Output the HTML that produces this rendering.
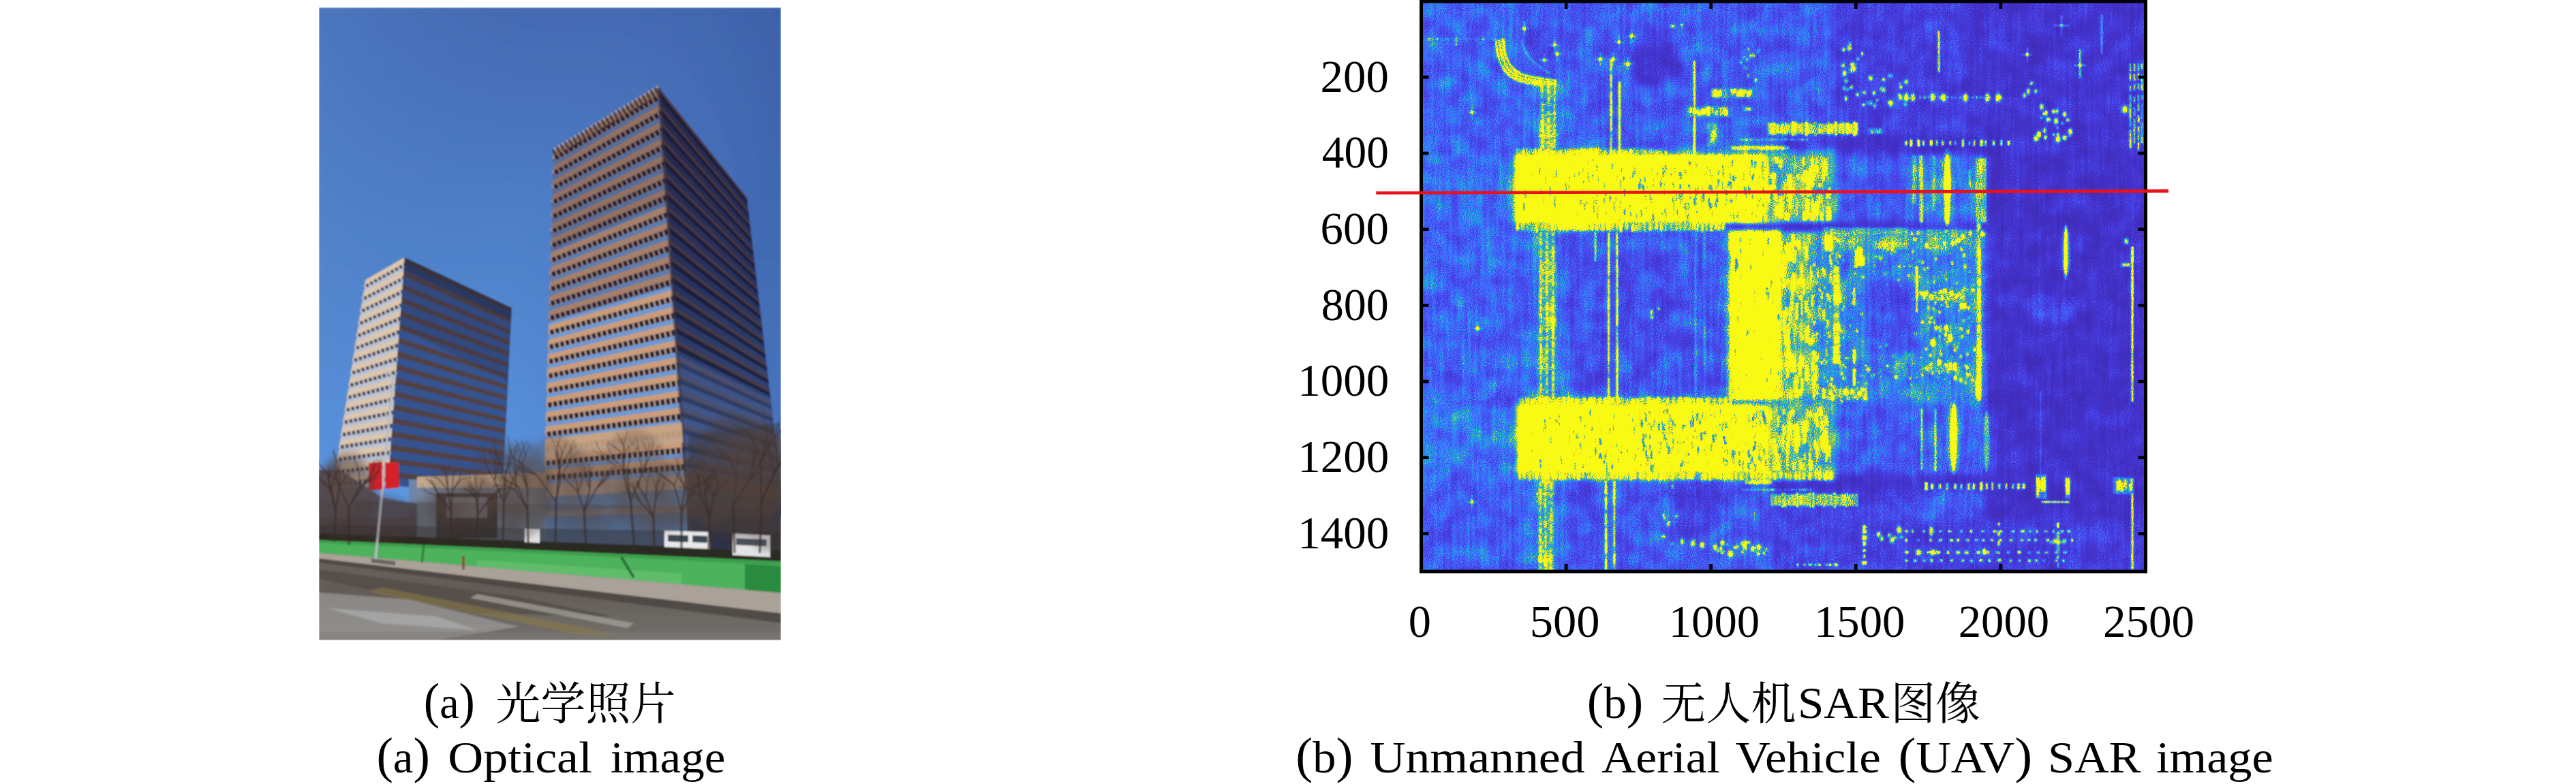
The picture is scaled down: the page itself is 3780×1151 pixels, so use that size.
<!DOCTYPE html>
<html lang="zh"><head><meta charset="utf-8"><title>Figure</title>
<style>html,body{margin:0;padding:0;background:#fff}body{width:3780px;height:1151px;overflow:hidden;position:relative;font-family:"Liberation Serif","Noto Serif CJK SC",serif}svg{position:absolute;left:0;top:0;display:block}text{font-family:"Liberation Serif","Noto Serif CJK SC",serif;fill:#000}</style>
</head><body>
<svg width="3780" height="1151" viewBox="0 0 3780 1151">
<defs>
<clipPath id="pclip"><rect x="468" y="11" width="678" height="929"/></clipPath>
<linearGradient id="sky" x1="0" y1="0" x2="0" y2="1"><stop offset="0" stop-color="#4469b2"/><stop offset="0.35" stop-color="#4f80c8"/><stop offset="0.75" stop-color="#5a96e0"/><stop offset="1" stop-color="#6aa2e6"/></linearGradient>
<linearGradient id="skyr" x1="0" y1="0" x2="1" y2="0.25"><stop offset="0" stop-color="#5c8fd6" stop-opacity="0.35"/><stop offset="0.5" stop-color="#4a74bc" stop-opacity="0"/><stop offset="1" stop-color="#33509a" stop-opacity="0.45"/></linearGradient>
<linearGradient id="rf" x1="0" y1="0" x2="0" y2="1"><stop offset="0" stop-color="#26284a"/><stop offset="0.5" stop-color="#283462"/><stop offset="1" stop-color="#40588e"/></linearGradient>
<linearGradient id="road" x1="0" y1="0" x2="0" y2="1"><stop offset="0" stop-color="#6a635c"/><stop offset="0.4" stop-color="#625c56"/><stop offset="1" stop-color="#74706c"/></linearGradient>
<filter id="pblur" filterUnits="userSpaceOnUse" x="448" y="-9" width="718" height="969"><feGaussianBlur stdDeviation="1.3"/></filter>
<filter id="pb4" x="-30%" y="-30%" width="160%" height="160%"><feGaussianBlur stdDeviation="5"/></filter>
<filter id="sarf" filterUnits="userSpaceOnUse" x="2086" y="2" width="1062" height="837" color-interpolation-filters="sRGB">
<feTurbulence type="fractalNoise" baseFrequency="0.66" numOctaves="1" seed="3" result="n1"/>
<feColorMatrix in="n1" type="matrix" values="1 0 0 0 0 1 0 0 0 0 1 0 0 0 0 0 0 0 0 1" result="n1g"/>
<feTurbulence type="fractalNoise" baseFrequency="0.035" numOctaves="2" seed="11" result="n2"/>
<feColorMatrix in="n2" type="matrix" values="1 0 0 0 0 1 0 0 0 0 1 0 0 0 0 0 0 0 0 1" result="n2g"/>
<feTurbulence type="fractalNoise" baseFrequency="0.22 0.012" numOctaves="1" seed="5" result="n3"/>
<feColorMatrix in="n3" type="matrix" values="1 0 0 0 0 1 0 0 0 0 1 0 0 0 0 0 0 0 0 1" result="n3g"/>
<feGaussianBlur in="SourceGraphic" stdDeviation="0.85" result="src"/>
<feComposite in="src" in2="n2g" operator="arithmetic" k1="0" k2="1" k3="0.34" k4="-0.17" result="a"/>
<feComposite in="a" in2="n3g" operator="arithmetic" k1="0" k2="1" k3="0.24" k4="-0.12" result="b"/>
<feComposite in="b" in2="n1g" operator="arithmetic" k1="0" k2="1" k3="0.62" k4="-0.31" result="c"/>
<feComponentTransfer in="c"><feFuncR type="table" tableValues="0.250 0.251 0.251 0.252 0.252 0.253 0.253 0.254 0.255 0.255 0.256 0.257 0.258 0.259 0.259 0.260 0.261 0.262 0.263 0.265 0.266 0.267 0.268 0.269 0.271 0.272 0.273 0.274 0.275 0.276 0.277 0.278 0.279 0.280 0.280 0.281 0.281 0.281 0.281 0.280 0.279 0.277 0.273 0.269 0.262 0.250 0.234 0.213 0.194 0.182 0.178 0.174 0.162 0.148 0.138 0.119 0.097 0.052 0.004 0.037 0.126 0.186 0.238 0.337 0.461 0.603 0.743 0.870 0.975 0.994 0.964 0.970 0.977 0.977 0.977 0.977 0.977 0.977 0.977 0.977 0.977 0.977 0.977 0.977 0.977 0.977 0.977 0.977 0.977 0.977 0.977 0.977 0.977 0.977 0.977 0.977"/><feFuncG type="table" tableValues="0.165 0.166 0.167 0.168 0.169 0.170 0.172 0.173 0.175 0.176 0.178 0.180 0.182 0.183 0.185 0.188 0.190 0.192 0.195 0.198 0.201 0.204 0.207 0.211 0.215 0.219 0.224 0.230 0.235 0.242 0.249 0.256 0.264 0.273 0.282 0.291 0.302 0.312 0.324 0.336 0.348 0.362 0.376 0.392 0.409 0.427 0.446 0.468 0.490 0.512 0.534 0.556 0.580 0.604 0.628 0.653 0.678 0.700 0.721 0.739 0.756 0.773 0.790 0.801 0.802 0.789 0.766 0.739 0.731 0.795 0.878 0.963 0.984 0.984 0.984 0.984 0.984 0.984 0.984 0.984 0.984 0.984 0.984 0.984 0.984 0.984 0.984 0.984 0.984 0.984 0.984 0.984 0.984 0.984 0.984 0.984"/><feFuncB type="table" tableValues="0.707 0.709 0.712 0.715 0.718 0.721 0.725 0.729 0.732 0.737 0.741 0.745 0.750 0.756 0.761 0.767 0.773 0.780 0.787 0.794 0.802 0.810 0.818 0.827 0.836 0.845 0.853 0.863 0.872 0.881 0.890 0.899 0.908 0.916 0.925 0.934 0.942 0.950 0.959 0.966 0.974 0.980 0.986 0.991 0.994 0.997 0.998 0.995 0.987 0.978 0.965 0.947 0.929 0.912 0.897 0.883 0.862 0.830 0.790 0.744 0.693 0.636 0.567 0.482 0.380 0.272 0.181 0.162 0.239 0.199 0.158 0.104 0.081 0.081 0.081 0.081 0.081 0.081 0.081 0.081 0.081 0.081 0.081 0.081 0.081 0.081 0.081 0.081 0.081 0.081 0.081 0.081 0.081 0.081 0.081 0.081"/></feComponentTransfer>
</filter>
<filter id="sb6" x="-20%" y="-20%" width="140%" height="140%"><feGaussianBlur stdDeviation="6"/></filter>
<filter id="sb3" x="-20%" y="-20%" width="140%" height="140%"><feGaussianBlur stdDeviation="2.5"/></filter>
<clipPath id="sarclip"><rect x="2086" y="2" width="1062" height="837"/></clipPath>
</defs>
<g clip-path="url(#pclip)"><g filter="url(#pblur)"><rect x="468" y="11" width="678" height="929" fill="url(#sky)"/>
<rect x="468" y="11" width="678" height="700" fill="url(#skyr)"/>
<polygon points="536.5,411.0 593.7,378.0 569.3,712.0 487.9,718.9" fill="#b9c4d8"/>
<polygon points="593.7,378.0 750.8,452.0 737.0,727.4 569.3,712.0" fill="#34528e"/>
<polygon points="536.5,411.0 593.7,378.0 593.1,386.3 535.3,418.6" fill="#dcc6ac" opacity="1"/>
<polygon points="535.3,418.6 593.1,386.3 592.7,392.1 534.4,424.0" fill="#34344a" opacity="0.92"/>
<polygon points="593.7,378.0 750.8,452.0 750.5,458.5 593.1,385.9" fill="#54403c" opacity="0.95"/>
<polygon points="593.1,385.9 750.5,458.5 750.0,468.2 592.3,397.6" fill="#34528e" opacity="1"/>
<line x1="534.9" y1="421.3" x2="592.9" y2="389.2" stroke="#d8cfc8" stroke-width="5.9" stroke-dasharray="2.4 4.6"/>
<polygon points="533.6,429.1 592.3,397.6 591.7,405.9 532.4,436.7" fill="#dcc6ac" opacity="1"/>
<polygon points="532.4,436.7 591.7,405.9 591.2,411.8 531.6,442.2" fill="#34344a" opacity="0.92"/>
<polygon points="592.3,397.6 750.0,468.2 749.7,474.7 591.7,405.5" fill="#54403c" opacity="0.95"/>
<polygon points="591.7,405.5 749.7,474.7 749.2,484.4 590.8,417.3" fill="#34528e" opacity="1"/>
<line x1="532.0" y1="439.4" x2="591.4" y2="408.8" stroke="#d8cfc8" stroke-width="5.9" stroke-dasharray="2.4 4.6"/>
<polygon points="530.8,447.2 590.8,417.3 590.2,425.5 529.6,454.8" fill="#dcc6ac" opacity="1"/>
<polygon points="529.6,454.8 590.2,425.5 589.8,431.4 528.7,460.3" fill="#34344a" opacity="0.92"/>
<polygon points="590.8,417.3 749.2,484.4 748.9,490.9 590.3,425.2" fill="#54403c" opacity="0.95"/>
<polygon points="590.3,425.2 748.9,490.9 748.4,500.6 589.4,436.9" fill="#34528e" opacity="1"/>
<line x1="529.1" y1="457.5" x2="590.0" y2="428.5" stroke="#d8cfc8" stroke-width="5.9" stroke-dasharray="2.4 4.6"/>
<polygon points="527.9,465.3 589.4,436.9 588.8,445.2 526.7,472.9" fill="#dcc6ac" opacity="1"/>
<polygon points="526.7,472.9 588.8,445.2 588.4,451.1 525.9,478.4" fill="#34344a" opacity="0.92"/>
<polygon points="589.4,436.9 748.4,500.6 748.0,507.1 588.8,444.8" fill="#54403c" opacity="0.95"/>
<polygon points="588.8,444.8 748.0,507.1 747.6,516.8 588.0,456.6" fill="#34528e" opacity="1"/>
<line x1="526.3" y1="475.7" x2="588.6" y2="448.1" stroke="#d8cfc8" stroke-width="5.9" stroke-dasharray="2.4 4.6"/>
<polygon points="525.1,483.4 588.0,456.6 587.4,464.8 523.9,491.0" fill="#dcc6ac" opacity="1"/>
<polygon points="523.9,491.0 587.4,464.8 586.9,470.7 523.0,496.5" fill="#34344a" opacity="0.92"/>
<polygon points="588.0,456.6 747.6,516.8 747.2,523.3 587.4,464.4" fill="#54403c" opacity="0.95"/>
<polygon points="587.4,464.4 747.2,523.3 746.7,533.0 586.5,476.2" fill="#34528e" opacity="1"/>
<line x1="523.4" y1="493.8" x2="587.1" y2="467.8" stroke="#d8cfc8" stroke-width="5.9" stroke-dasharray="2.4 4.6"/>
<polygon points="522.2,501.6 586.5,476.2 585.9,484.5 521.0,509.2" fill="#dcc6ac" opacity="1"/>
<polygon points="521.0,509.2 585.9,484.5 585.5,490.4 520.1,514.6" fill="#34344a" opacity="0.92"/>
<polygon points="586.5,476.2 746.7,533.0 746.4,539.5 586.0,484.1" fill="#54403c" opacity="0.95"/>
<polygon points="586.0,484.1 746.4,539.5 745.9,549.2 585.1,495.9" fill="#34528e" opacity="1"/>
<line x1="520.6" y1="511.9" x2="585.7" y2="487.4" stroke="#d8cfc8" stroke-width="5.9" stroke-dasharray="2.4 4.6"/>
<polygon points="519.3,519.7 585.1,495.9 584.5,504.1 518.1,527.3" fill="#dcc6ac" opacity="1"/>
<polygon points="518.1,527.3 584.5,504.1 584.1,510.0 517.3,532.7" fill="#34344a" opacity="0.92"/>
<polygon points="585.1,495.9 745.9,549.2 745.6,555.7 584.5,503.7" fill="#54403c" opacity="0.95"/>
<polygon points="584.5,503.7 745.6,555.7 745.1,565.4 583.7,515.5" fill="#34528e" opacity="1"/>
<line x1="517.7" y1="530.0" x2="584.3" y2="507.1" stroke="#d8cfc8" stroke-width="5.9" stroke-dasharray="2.4 4.6"/>
<polygon points="516.5,537.8 583.7,515.5 583.1,523.8 515.3,545.4" fill="#dcc6ac" opacity="1"/>
<polygon points="515.3,545.4 583.1,523.8 582.6,529.7 514.4,550.8" fill="#34344a" opacity="0.92"/>
<polygon points="583.7,515.5 745.1,565.4 744.8,571.9 583.1,523.4" fill="#54403c" opacity="0.95"/>
<polygon points="583.1,523.4 744.8,571.9 744.3,581.6 582.2,535.2" fill="#34528e" opacity="1"/>
<line x1="514.8" y1="548.1" x2="582.8" y2="526.7" stroke="#d8cfc8" stroke-width="5.9" stroke-dasharray="2.4 4.6"/>
<polygon points="513.6,555.9 582.2,535.2 581.6,543.4 512.4,563.5" fill="#dcc6ac" opacity="1"/>
<polygon points="512.4,563.5 581.6,543.4 581.2,549.3 511.5,568.9" fill="#34344a" opacity="0.92"/>
<polygon points="582.2,535.2 744.3,581.6 744.0,588.1 581.7,543.0" fill="#54403c" opacity="0.95"/>
<polygon points="581.7,543.0 744.0,588.1 743.5,597.8 580.8,554.8" fill="#34528e" opacity="1"/>
<line x1="512.0" y1="566.2" x2="581.4" y2="546.4" stroke="#d8cfc8" stroke-width="5.9" stroke-dasharray="2.4 4.6"/>
<polygon points="510.7,574.0 580.8,554.8 580.2,563.1 509.5,581.6" fill="#dcc6ac" opacity="1"/>
<polygon points="509.5,581.6 580.2,563.1 579.8,569.0 508.7,587.0" fill="#34344a" opacity="0.92"/>
<polygon points="580.8,554.8 743.5,597.8 743.2,604.3 580.2,562.7" fill="#54403c" opacity="0.95"/>
<polygon points="580.2,562.7 743.2,604.3 742.7,614.0 579.4,574.5" fill="#34528e" opacity="1"/>
<line x1="509.1" y1="584.3" x2="580.0" y2="566.0" stroke="#d8cfc8" stroke-width="5.9" stroke-dasharray="2.4 4.6"/>
<polygon points="507.9,592.1 579.4,574.5 578.8,582.7 506.7,599.7" fill="#dcc6ac" opacity="1"/>
<polygon points="506.7,599.7 578.8,582.7 578.3,588.6 505.8,605.1" fill="#34344a" opacity="0.92"/>
<polygon points="579.4,574.5 742.7,614.0 742.4,620.5 578.8,582.3" fill="#54403c" opacity="0.95"/>
<polygon points="578.8,582.3 742.4,620.5 741.9,630.2 577.9,594.1" fill="#34528e" opacity="1"/>
<line x1="506.3" y1="602.4" x2="578.5" y2="585.7" stroke="#d8cfc8" stroke-width="5.9" stroke-dasharray="2.4 4.6"/>
<polygon points="505.0,610.2 577.9,594.1 577.3,602.4 503.8,617.8" fill="#dcc6ac" opacity="1"/>
<polygon points="503.8,617.8 577.3,602.4 576.9,608.3 503.0,623.3" fill="#34344a" opacity="0.92"/>
<polygon points="577.9,594.1 741.9,630.2 741.6,636.7 577.3,602.0" fill="#54403c" opacity="0.95"/>
<polygon points="577.3,602.0 741.6,636.7 741.1,646.4 576.5,613.8" fill="#34528e" opacity="1"/>
<line x1="503.4" y1="620.5" x2="577.1" y2="605.3" stroke="#d8cfc8" stroke-width="5.9" stroke-dasharray="2.4 4.6"/>
<polygon points="502.2,628.3 576.5,613.8 575.9,622.0 501.0,635.9" fill="#dcc6ac" opacity="1"/>
<polygon points="501.0,635.9 575.9,622.0 575.5,627.9 500.1,641.4" fill="#34344a" opacity="0.92"/>
<polygon points="576.5,613.8 741.1,646.4 740.8,652.9 575.9,621.6" fill="#54403c" opacity="0.95"/>
<polygon points="575.9,621.6 740.8,652.9 740.3,662.6 575.1,633.4" fill="#34528e" opacity="1"/>
<line x1="500.5" y1="638.7" x2="575.7" y2="625.0" stroke="#d8cfc8" stroke-width="5.9" stroke-dasharray="2.4 4.6"/>
<polygon points="499.3,646.4 575.1,633.4 574.5,641.7 498.1,654.0" fill="#dcc6ac" opacity="1"/>
<polygon points="498.1,654.0 574.5,641.7 574.0,647.6 497.2,659.5" fill="#34344a" opacity="0.92"/>
<polygon points="575.1,633.4 740.3,662.6 739.9,669.1 574.5,641.3" fill="#54403c" opacity="0.95"/>
<polygon points="574.5,641.3 739.9,669.1 739.5,678.8 573.6,653.1" fill="#34528e" opacity="1"/>
<line x1="497.7" y1="656.8" x2="574.2" y2="644.6" stroke="#d8cfc8" stroke-width="5.9" stroke-dasharray="2.4 4.6"/>
<polygon points="496.4,664.5 573.6,653.1 573.0,661.3 495.2,672.2" fill="#dcc6ac" opacity="1"/>
<polygon points="495.2,672.2 573.0,661.3 572.6,667.2 494.4,677.6" fill="#34344a" opacity="0.92"/>
<polygon points="573.6,653.1 739.5,678.8 739.1,685.3 573.0,660.9" fill="#54403c" opacity="0.95"/>
<polygon points="573.0,660.9 739.1,685.3 738.6,695.0 572.2,672.7" fill="#34528e" opacity="1"/>
<line x1="494.8" y1="674.9" x2="572.8" y2="664.3" stroke="#d8cfc8" stroke-width="5.9" stroke-dasharray="2.4 4.6"/>
<polygon points="493.6,682.7 572.2,672.7 571.6,681.0 492.4,690.3" fill="#dcc6ac" opacity="1"/>
<polygon points="492.4,690.3 571.6,681.0 571.2,686.9 491.5,695.7" fill="#34344a" opacity="0.92"/>
<polygon points="572.2,672.7 738.6,695.0 738.3,701.5 571.6,680.6" fill="#54403c" opacity="0.95"/>
<polygon points="571.6,680.6 738.3,701.5 737.8,711.2 570.8,692.4" fill="#34528e" opacity="1"/>
<line x1="491.9" y1="693.0" x2="571.4" y2="683.9" stroke="#d8cfc8" stroke-width="5.9" stroke-dasharray="2.4 4.6"/>
<polygon points="490.7,700.8 570.8,692.4 570.1,700.6 489.5,708.4" fill="#dcc6ac" opacity="1"/>
<polygon points="489.5,708.4 570.1,700.6 569.7,706.5 488.7,713.8" fill="#34344a" opacity="0.92"/>
<polygon points="570.8,692.4 737.8,711.2 737.5,717.7 570.2,700.2" fill="#54403c" opacity="0.95"/>
<polygon points="570.2,700.2 737.5,717.7 737.0,727.4 569.3,712.0" fill="#34528e" opacity="1"/>
<line x1="489.1" y1="711.1" x2="569.9" y2="703.6" stroke="#d8cfc8" stroke-width="5.9" stroke-dasharray="2.4 4.6"/>
<polygon points="593.7,378.0 750.8,452.0 750.0,470.0 592.5,396.0" fill="#20243c" opacity="0.55"/>
<polygon points="593.7,396.0 750.0,470.0 745.0,560.0 587.0,480.0" fill="#20243c" opacity="0.18"/>
<polygon points="813.0,222.4 967.0,129.0 1009.0,746.7 797.0,754.1" fill="#6f98d2"/>
<polygon points="967.0,129.0 1096.0,290.0 1151.4,759.5 1009.0,746.7" fill="url(#rf)"/>
<polygon points="813.0,222.4 967.0,129.0 967.6,137.9 812.8,230.1" fill="#cc9c78" opacity="1"/>
<polygon points="812.8,230.1 967.6,137.9 968.2,146.3 812.6,237.3" fill="#1c1c32" opacity="0.96"/>
<polygon points="967.0,129.0 1096.0,290.0 1096.5,294.5 967.4,134.9" fill="#523c38" opacity="0.8"/>
<polygon points="967.4,134.9 1096.5,294.5 1097.2,300.5 967.9,142.8" fill="#15172e" opacity="0.7"/>
<line x1="812.7" y1="233.7" x2="967.9" y2="142.1" stroke="#c9a488" stroke-width="8.4" stroke-dasharray="2.4 5.6"/>
<polygon points="812.4,243.7 968.7,153.7 969.3,162.6 812.1,251.3" fill="#cc9c78" opacity="1"/>
<polygon points="812.1,251.3 969.3,162.6 969.9,171.0 811.9,258.6" fill="#1c1c32" opacity="0.96"/>
<polygon points="968.7,153.7 1098.2,308.8 1098.7,313.3 969.1,159.6" fill="#523c38" opacity="0.8"/>
<polygon points="969.1,159.6 1098.7,313.3 1099.5,319.3 969.6,167.5" fill="#15172e" opacity="0.7"/>
<line x1="812.0" y1="254.9" x2="969.6" y2="166.8" stroke="#c9a488" stroke-width="8.4" stroke-dasharray="2.4 5.6"/>
<polygon points="811.7,264.9 970.4,178.4 971.0,187.3 811.5,272.6" fill="#cc9c78" opacity="1"/>
<polygon points="811.5,272.6 971.0,187.3 971.5,195.7 811.3,279.8" fill="#1c1c32" opacity="0.96"/>
<polygon points="970.4,178.4 1100.4,327.6 1101.0,332.1 970.8,184.3" fill="#523c38" opacity="0.8"/>
<polygon points="970.8,184.3 1101.0,332.1 1101.7,338.1 971.3,192.3" fill="#15172e" opacity="0.7"/>
<line x1="811.4" y1="276.2" x2="971.3" y2="191.5" stroke="#c9a488" stroke-width="8.4" stroke-dasharray="2.4 5.6"/>
<polygon points="811.1,286.2 972.0,203.1 972.6,212.0 810.9,293.9" fill="#cc9c78" opacity="1"/>
<polygon points="810.9,293.9 972.6,212.0 973.2,220.4 810.6,301.1" fill="#1c1c32" opacity="0.96"/>
<polygon points="972.0,203.1 1102.6,346.3 1103.2,350.8 972.4,209.1" fill="#523c38" opacity="0.8"/>
<polygon points="972.4,209.1 1103.2,350.8 1103.9,356.9 973.0,217.0" fill="#15172e" opacity="0.7"/>
<line x1="810.7" y1="297.5" x2="972.9" y2="216.2" stroke="#c9a488" stroke-width="8.4" stroke-dasharray="2.4 5.6"/>
<polygon points="810.4,307.5 973.7,227.8 974.3,236.7 810.2,315.1" fill="#cc9c78" opacity="1"/>
<polygon points="810.2,315.1 974.3,236.7 974.9,245.1 810.0,322.4" fill="#1c1c32" opacity="0.96"/>
<polygon points="973.7,227.8 1104.9,365.1 1105.4,369.6 974.1,233.8" fill="#523c38" opacity="0.8"/>
<polygon points="974.1,233.8 1105.4,369.6 1106.1,375.6 974.7,241.7" fill="#15172e" opacity="0.7"/>
<line x1="810.1" y1="318.7" x2="974.6" y2="240.9" stroke="#c9a488" stroke-width="8.4" stroke-dasharray="2.4 5.6"/>
<polygon points="809.8,328.7 975.4,252.5 976.0,261.4 809.6,336.4" fill="#cc9c78" opacity="1"/>
<polygon points="809.6,336.4 976.0,261.4 976.6,269.8 809.4,343.6" fill="#1c1c32" opacity="0.96"/>
<polygon points="975.4,252.5 1107.1,383.9 1107.6,388.4 975.8,258.5" fill="#523c38" opacity="0.8"/>
<polygon points="975.8,258.5 1107.6,388.4 1108.3,394.4 976.3,266.4" fill="#15172e" opacity="0.7"/>
<line x1="809.5" y1="340.0" x2="976.3" y2="265.6" stroke="#c9a488" stroke-width="8.4" stroke-dasharray="2.4 5.6"/>
<polygon points="809.2,350.0 977.1,277.2 977.7,286.1 808.9,357.7" fill="#cc9c78" opacity="1"/>
<polygon points="808.9,357.7 977.7,286.1 978.3,294.5 808.7,364.9" fill="#1c1c32" opacity="0.96"/>
<polygon points="977.1,277.2 1109.3,402.7 1109.8,407.2 977.5,283.2" fill="#523c38" opacity="0.8"/>
<polygon points="977.5,283.2 1109.8,407.2 1110.5,413.2 978.0,291.1" fill="#15172e" opacity="0.7"/>
<line x1="808.8" y1="361.3" x2="978.0" y2="290.3" stroke="#c9a488" stroke-width="8.4" stroke-dasharray="2.4 5.6"/>
<polygon points="808.5,371.3 978.8,302.0 979.4,310.9 808.3,378.9" fill="#cc9c78" opacity="1"/>
<polygon points="808.3,378.9 979.4,310.9 979.9,319.3 808.1,386.2" fill="#1c1c32" opacity="0.96"/>
<polygon points="978.8,302.0 1111.5,421.5 1112.0,426.0 979.2,307.9" fill="#523c38" opacity="0.8"/>
<polygon points="979.2,307.9 1112.0,426.0 1112.8,432.0 979.7,315.8" fill="#15172e" opacity="0.7"/>
<line x1="808.2" y1="382.6" x2="979.7" y2="315.1" stroke="#c9a488" stroke-width="8.4" stroke-dasharray="2.4 5.6"/>
<polygon points="807.9,392.6 980.4,326.7 981.0,335.6 807.7,400.2" fill="#cc9c78" opacity="1"/>
<polygon points="807.7,400.2 981.0,335.6 981.6,344.0 807.4,407.4" fill="#1c1c32" opacity="0.96"/>
<polygon points="980.4,326.7 1113.7,440.2 1114.3,444.7 980.8,332.6" fill="#523c38" opacity="0.8"/>
<polygon points="980.8,332.6 1114.3,444.7 1115.0,450.8 981.4,340.5" fill="#15172e" opacity="0.7"/>
<line x1="807.6" y1="403.8" x2="981.3" y2="339.8" stroke="#c9a488" stroke-width="8.4" stroke-dasharray="2.4 5.6"/>
<polygon points="807.3,413.8 982.1,351.4 982.7,360.3 807.0,421.5" fill="#cc9c78" opacity="1"/>
<polygon points="807.0,421.5 982.7,360.3 983.3,368.7 806.8,428.7" fill="#1c1c32" opacity="0.96"/>
<polygon points="982.1,351.4 1115.9,459.0 1116.5,463.5 982.5,357.3" fill="#523c38" opacity="0.8"/>
<polygon points="982.5,357.3 1116.5,463.5 1117.2,469.5 983.1,365.2" fill="#15172e" opacity="0.7"/>
<line x1="806.9" y1="425.1" x2="983.0" y2="364.5" stroke="#c9a488" stroke-width="8.4" stroke-dasharray="2.4 5.6"/>
<polygon points="806.6,435.1 983.8,376.1 984.4,385.0 806.4,442.7" fill="#cc9c78" opacity="1"/>
<polygon points="806.4,442.7 984.4,385.0 985.0,393.4 806.2,450.0" fill="#1c1c32" opacity="0.96"/>
<polygon points="983.8,376.1 1118.2,477.8 1118.7,482.3 984.2,382.0" fill="#523c38" opacity="0.8"/>
<polygon points="984.2,382.0 1118.7,482.3 1119.4,488.3 984.7,389.9" fill="#15172e" opacity="0.7"/>
<line x1="806.3" y1="446.4" x2="984.7" y2="389.2" stroke="#c9a488" stroke-width="8.4" stroke-dasharray="2.4 5.6"/>
<polygon points="806.0,456.4 985.5,400.8 986.1,409.7 805.8,464.0" fill="#cc9c78" opacity="1"/>
<polygon points="805.8,464.0 986.1,409.7 986.7,418.1 805.5,471.2" fill="#1c1c32" opacity="0.96"/>
<polygon points="985.5,400.8 1120.4,496.6 1120.9,501.1 985.9,406.7" fill="#523c38" opacity="0.8"/>
<polygon points="985.9,406.7 1120.9,501.1 1121.6,507.1 986.4,414.6" fill="#15172e" opacity="0.7"/>
<line x1="805.6" y1="467.6" x2="986.4" y2="413.9" stroke="#c9a488" stroke-width="8.4" stroke-dasharray="2.4 5.6"/>
<polygon points="805.3,477.6 987.2,425.5 987.8,434.4 805.1,485.3" fill="#cc9c78" opacity="1"/>
<polygon points="805.1,485.3 987.8,434.4 988.3,442.8 804.9,492.5" fill="#1c1c32" opacity="0.96"/>
<polygon points="987.2,425.5 1122.6,515.4 1123.1,519.9 987.6,431.4" fill="#523c38" opacity="0.8"/>
<polygon points="987.6,431.4 1123.1,519.9 1123.8,525.9 988.1,439.3" fill="#15172e" opacity="0.7"/>
<line x1="805.0" y1="488.9" x2="988.1" y2="438.6" stroke="#c9a488" stroke-width="8.4" stroke-dasharray="2.4 5.6"/>
<polygon points="804.7,498.9 988.8,450.2 989.4,459.1 804.5,506.6" fill="#cc9c78" opacity="1"/>
<polygon points="804.5,506.6 989.4,459.1 990.0,467.5 804.3,513.8" fill="#1c1c32" opacity="0.96"/>
<polygon points="988.8,450.2 1124.8,534.1 1125.3,538.6 989.2,456.1" fill="#523c38" opacity="0.8"/>
<polygon points="989.2,456.1 1125.3,538.6 1126.0,544.7 989.8,464.0" fill="#15172e" opacity="0.7"/>
<line x1="804.4" y1="510.2" x2="989.7" y2="463.3" stroke="#c9a488" stroke-width="8.4" stroke-dasharray="2.4 5.6"/>
<polygon points="804.1,520.2 990.5,474.9 991.1,483.8 803.8,527.8" fill="#cc9c78" opacity="1"/>
<polygon points="803.8,527.8 991.1,483.8 991.7,492.2 803.6,535.1" fill="#1c1c32" opacity="0.96"/>
<polygon points="990.5,474.9 1127.0,552.9 1127.6,557.4 990.9,480.8" fill="#523c38" opacity="0.8"/>
<polygon points="990.9,480.8 1127.6,557.4 1128.3,563.4 991.5,488.7" fill="#15172e" opacity="0.7"/>
<line x1="803.7" y1="531.4" x2="991.4" y2="488.0" stroke="#c9a488" stroke-width="8.4" stroke-dasharray="2.4 5.6"/>
<polygon points="803.4,541.4 992.2,499.6 992.8,508.5 803.2,549.1" fill="#cc9c78" opacity="1"/>
<polygon points="803.2,549.1 992.8,508.5 993.4,516.9 803.0,556.3" fill="#1c1c32" opacity="0.96"/>
<polygon points="992.2,499.6 1129.2,571.7 1129.8,576.2 992.6,505.5" fill="#523c38" opacity="0.8"/>
<polygon points="992.6,505.5 1129.8,576.2 1130.5,582.2 993.1,513.5" fill="#15172e" opacity="0.7"/>
<line x1="803.1" y1="552.7" x2="993.1" y2="512.7" stroke="#c9a488" stroke-width="8.4" stroke-dasharray="2.4 5.6"/>
<polygon points="802.8,562.7 993.9,524.3 994.5,533.2 802.6,570.4" fill="#cc9c78" opacity="1"/>
<polygon points="802.6,570.4 994.5,533.2 995.1,541.6 802.3,577.6" fill="#1c1c32" opacity="0.96"/>
<polygon points="993.9,524.3 1131.5,590.5 1132.0,595.0 994.3,530.3" fill="#523c38" opacity="0.8"/>
<polygon points="994.3,530.3 1132.0,595.0 1132.7,601.0 994.8,538.2" fill="#15172e" opacity="0.7"/>
<line x1="802.5" y1="574.0" x2="994.8" y2="537.4" stroke="#c9a488" stroke-width="8.4" stroke-dasharray="2.4 5.6"/>
<polygon points="802.2,584.0 995.6,549.0 996.2,557.9 801.9,591.6" fill="#cc9c78" opacity="1"/>
<polygon points="801.9,591.6 996.2,557.9 996.7,566.3 801.7,598.9" fill="#1c1c32" opacity="0.96"/>
<polygon points="995.6,549.0 1133.7,609.3 1134.2,613.8 996.0,555.0" fill="#523c38" opacity="0.8"/>
<polygon points="996.0,555.0 1134.2,613.8 1134.9,619.8 996.5,562.9" fill="#15172e" opacity="0.7"/>
<line x1="801.8" y1="595.2" x2="996.5" y2="562.1" stroke="#c9a488" stroke-width="8.4" stroke-dasharray="2.4 5.6"/>
<polygon points="801.5,605.2 997.2,573.7 997.8,582.6 801.3,612.9" fill="#cc9c78" opacity="1"/>
<polygon points="801.3,612.9 997.8,582.6 998.4,591.0 801.1,620.1" fill="#1c1c32" opacity="0.96"/>
<polygon points="997.2,573.7 1135.9,628.0 1136.4,632.5 997.6,579.7" fill="#523c38" opacity="0.8"/>
<polygon points="997.6,579.7 1136.4,632.5 1137.1,638.5 998.2,587.6" fill="#15172e" opacity="0.7"/>
<line x1="801.2" y1="616.5" x2="998.1" y2="586.8" stroke="#c9a488" stroke-width="8.4" stroke-dasharray="2.4 5.6"/>
<polygon points="800.9,626.5 998.9,598.5 999.5,607.3 800.6,634.2" fill="#cc9c78" opacity="1"/>
<polygon points="800.6,634.2 999.5,607.3 1000.1,615.7 800.4,641.4" fill="#1c1c32" opacity="0.96"/>
<polygon points="998.9,598.5 1138.1,646.8 1138.6,651.3 999.3,604.4" fill="#523c38" opacity="0.8"/>
<polygon points="999.3,604.4 1138.6,651.3 1139.3,657.3 999.9,612.3" fill="#15172e" opacity="0.7"/>
<line x1="800.5" y1="637.8" x2="999.8" y2="611.5" stroke="#c9a488" stroke-width="8.4" stroke-dasharray="2.4 5.6"/>
<polygon points="800.2,647.8 1000.6,623.2 1001.2,632.1 800.0,655.4" fill="#cc9c78" opacity="1"/>
<polygon points="800.0,655.4 1001.2,632.1 1001.8,640.5 799.8,662.7" fill="#1c1c32" opacity="0.96"/>
<polygon points="1000.6,623.2 1140.3,665.6 1140.9,670.1 1001.0,629.1" fill="#523c38" opacity="0.8"/>
<polygon points="1001.0,629.1 1140.9,670.1 1141.6,676.1 1001.5,637.0" fill="#15172e" opacity="0.7"/>
<line x1="799.9" y1="659.0" x2="1001.5" y2="636.3" stroke="#c9a488" stroke-width="8.4" stroke-dasharray="2.4 5.6"/>
<polygon points="799.6,669.0 1002.3,647.9 1002.9,656.8 799.4,676.7" fill="#cc9c78" opacity="1"/>
<polygon points="799.4,676.7 1002.9,656.8 1003.5,665.2 799.2,683.9" fill="#1c1c32" opacity="0.96"/>
<polygon points="1002.3,647.9 1142.5,684.4 1143.1,688.9 1002.7,653.8" fill="#523c38" opacity="0.8"/>
<polygon points="1002.7,653.8 1143.1,688.9 1143.8,694.9 1003.2,661.7" fill="#15172e" opacity="0.7"/>
<line x1="799.3" y1="680.3" x2="1003.2" y2="661.0" stroke="#c9a488" stroke-width="8.4" stroke-dasharray="2.4 5.6"/>
<polygon points="799.0,690.3 1004.0,672.6 1004.6,681.5 798.7,698.0" fill="#cc9c78" opacity="1"/>
<polygon points="798.7,698.0 1004.6,681.5 1005.1,689.9 798.5,705.2" fill="#1c1c32" opacity="0.96"/>
<polygon points="1004.0,672.6 1144.8,703.2 1145.3,707.7 1004.4,678.5" fill="#523c38" opacity="0.8"/>
<polygon points="1004.4,678.5 1145.3,707.7 1146.0,713.7 1004.9,686.4" fill="#15172e" opacity="0.7"/>
<line x1="798.6" y1="701.6" x2="1004.9" y2="685.7" stroke="#c9a488" stroke-width="8.4" stroke-dasharray="2.4 5.6"/>
<polygon points="798.3,711.6 1005.6,697.3 1006.2,706.2 798.1,719.2" fill="#cc9c78" opacity="1"/>
<polygon points="798.1,719.2 1006.2,706.2 1006.8,714.6 797.9,726.5" fill="#1c1c32" opacity="0.96"/>
<polygon points="1005.6,697.3 1147.0,721.9 1147.5,726.4 1006.0,703.2" fill="#523c38" opacity="0.8"/>
<polygon points="1006.0,703.2 1147.5,726.4 1148.2,732.4 1006.6,711.1" fill="#15172e" opacity="0.7"/>
<line x1="798.0" y1="722.9" x2="1006.5" y2="710.4" stroke="#c9a488" stroke-width="8.4" stroke-dasharray="2.4 5.6"/>
<polygon points="797.7,732.9 1007.3,722.0 1007.9,730.9 797.5,740.5" fill="#cc9c78" opacity="1"/>
<polygon points="797.5,740.5 1007.9,730.9 1008.5,739.3 797.2,747.7" fill="#1c1c32" opacity="0.96"/>
<polygon points="1007.3,722.0 1149.2,740.7 1149.7,745.2 1007.7,727.9" fill="#523c38" opacity="0.8"/>
<polygon points="1007.7,727.9 1149.7,745.2 1150.4,751.2 1008.3,735.8" fill="#15172e" opacity="0.7"/>
<line x1="797.3" y1="744.1" x2="1008.2" y2="735.1" stroke="#c9a488" stroke-width="8.4" stroke-dasharray="2.4 5.6"/>
<polygon points="813.0,222.4 967.0,129.0 986.8,420.0 805.5,472.9" fill="#241a2c" opacity="0.22"/>
<polygon points="813.0,222.4 967.0,129.0 978.6,300.0 808.6,369.6" fill="#241a2c" opacity="0.15"/>
<line x1="813" y1="226" x2="967" y2="133" stroke="#3a2c2c" stroke-width="13" stroke-dasharray="3 4"/>
<line x1="813" y1="219" x2="967" y2="126" stroke="#c9a888" stroke-width="4" stroke-dasharray="3 4" opacity="0.8"/>
<polygon points="993.6,520.0 1131.1,587.2 1151.3,759.0 1009.0,746.0" fill="#5878b0" opacity="0.3"/>
<line x1="967" y1="129" x2="1009.0" y2="746" stroke="#3a3040" stroke-width="5" opacity="0.6"/>
<polygon points="800.3,645.1 1000.4,620.0 1002.4,650.0 799.5,670.9" fill="#c8a484" opacity="0.9"/>
<polygon points="798.3,713.9 1005.8,700.0 1009.8,806.0 798.0,800.0" fill="#5c80b4"/>
<polygon points="798.3,713.9 1005.8,700.0 1007.1,718.0 797.8,729.4" fill="#bfa288" opacity="0.85"/>
<polygon points="797.2,750.1 1008.7,742.0 1009.4,752.0 796.9,758.7" fill="#a89684" opacity="0.6"/>
<polygon points="1005.1,690.0 1146.0,715.0 1146.0,815.0 1009.8,806.0" fill="#3c465e"/>
<polygon points="1005.1,690.0 1146.0,715.0 1146.0,735.0 1005.8,712.0" fill="#5a4a48" opacity="0.7"/>
<polygon points="600.0,704.0 802.0,700.0 802.0,800.0 600.0,800.0" fill="#6f86a8"/>
<polygon points="612.0,700.0 802.0,694.0 802.0,716.0 612.0,716.0" fill="#c4a88c"/>
<polygon points="612.0,716.0 802.0,716.0 802.0,790.0 612.0,790.0" fill="#74869f"/>
<polygon points="640.0,724.0 730.0,724.0 730.0,790.0 640.0,790.0" fill="#38363c"/>
<polygon points="655.0,730.0 715.0,730.0 715.0,760.0 655.0,760.0" fill="#8d99ad" opacity="0.8"/>
<polygon points="468.0,760.0 612.0,760.0 612.0,800.0 468.0,800.0" fill="#54525a"/>
<polygon points="468.0,690.0 500.0,690.0 560.0,730.0 612.0,740.0 612.0,800.0 468.0,800.0" fill="#524a56" opacity="0.8"/>
<polygon points="468.0,735.0 1146.0,745.0 1146.0,815.0 468.0,800.0" fill="#3a3230" opacity="0.32"/>
<polygon points="468.0,770.0 1146.0,782.0 1146.0,815.0 468.0,800.0" fill="#2a2622" opacity="0.38"/>
<polygon points="1010.0,640.0 1146.0,620.0 1146.0,800.0 1010.0,800.0" fill="#30282c" opacity="0.3"/>
<polygon points="468.0,783.0 1146.0,808.0 1146.0,826.0 468.0,795.0" fill="#2c2a22"/>
<polygon points="975.0,779.0 1040.0,781.0 1042.0,806.0 975.0,803.0" fill="#e9e9ea"/>
<polygon points="980.0,785.0 1010.0,786.0 1010.0,796.0 980.0,795.0" fill="#3a4652"/>
<polygon points="1016.0,786.0 1038.0,787.0 1038.0,797.0 1016.0,796.0" fill="#3a4652"/>
<polygon points="1075.0,783.0 1130.0,786.0 1130.0,818.0 1075.0,815.0" fill="#e4e4e6"/>
<polygon points="1080.0,790.0 1125.0,792.0 1125.0,802.0 1080.0,800.0" fill="#48525e"/>
<polygon points="770.0,776.0 792.0,777.0 792.0,797.0 770.0,796.0" fill="#e3e3e6"/>
<polygon points="1046.0,785.0 1072.0,786.0 1072.0,808.0 1046.0,806.0" fill="#2e3046"/>
<polygon points="468.0,792.9 1146.0,823.9 1146.0,870.6 468.0,811.9" fill="#4db25c"/>
<polygon points="468.0,792.9 1146.0,823.9 1146.0,829.9 468.0,796.9" fill="#3a9a4a" opacity="0.8"/>
<polygon points="700.0,822.0 1000.0,841.9 1000.0,857.9 700.0,832.0" fill="#6cc474" opacity="0.6"/>
<polygon points="1093.0,828.0 1146.0,831.0 1146.0,874.0 1093.0,868.0" fill="#2b8a3c"/>
<polygon points="468.0,811.9 1146.0,870.6 1146.0,940.0 468.0,940.0" fill="url(#road)"/>
<polygon points="468.0,811.9 1146.0,870.6 1146.0,900.6 468.0,819.9" fill="#aaa198"/>
<polygon points="468.0,819.9 1146.0,900.6 1146.0,914.6 468.0,825.9" fill="#4c4642" opacity="0.85"/>
<polygon points="468.0,836.0 760.0,876.0 900.0,905.0 700.0,900.0 468.0,850.0" fill="#514a46" opacity="0.7"/>
<polygon points="468.0,870.0 600.0,880.0 760.0,920.0 640.0,940.0 468.0,940.0" fill="#a9a9aa" opacity="0.55"/>
<polygon points="480.0,893.0 640.0,905.0 700.0,925.0 560.0,915.0" fill="#b4b4b6" opacity="0.6"/>
<polygon points="700.0,872.0 930.0,915.0 920.0,922.0 690.0,878.0" fill="#a8a49c" opacity="0.7"/>
<polygon points="560.0,862.0 900.0,930.0 880.0,938.0 540.0,868.0" fill="#8a7a44" opacity="0.55"/>
<polygon points="468.0,928.0 1146.0,928.0 1146.0,940.0 468.0,940.0" fill="#7c7874" opacity="0.5"/>
<line x1="577" y1="552" x2="551" y2="822" stroke="#b9bcc4" stroke-width="3.5"/>
<line x1="577" y1="552" x2="566" y2="545" stroke="#b9bcc4" stroke-width="3"/>
<polygon points="541.0,680.0 561.0,678.0 561.0,719.0 541.0,720.0" fill="#d5202c"/>
<polygon points="565.0,679.0 585.0,679.0 586.0,716.0 565.0,718.0" fill="#d5202c"/>
<polygon points="545.0,820.0 580.0,824.0 580.0,830.0 545.0,826.0" fill="#6a6462"/>
<line x1="622" y1="800" x2="619" y2="826" stroke="#2c7a3a" stroke-width="3"/>
<line x1="680" y1="816" x2="680" y2="836" stroke="#8a4030" stroke-width="3.5"/>
<line x1="912" y1="818" x2="930" y2="848" stroke="#2c6a38" stroke-width="4"/>
<ellipse cx="505" cy="730" rx="45" ry="60" fill="#4a3a36" opacity="0.35" filter="url(#pb4)"/>
<ellipse cx="560" cy="760" rx="50" ry="35" fill="#4a3a36" opacity="0.3" filter="url(#pb4)"/>
<ellipse cx="770" cy="720" rx="40" ry="70" fill="#4a3a36" opacity="0.3" filter="url(#pb4)"/>
<ellipse cx="700" cy="750" rx="70" ry="40" fill="#4a3a36" opacity="0.28" filter="url(#pb4)"/>
<ellipse cx="860" cy="720" rx="70" ry="60" fill="#4a3a36" opacity="0.25" filter="url(#pb4)"/>
<ellipse cx="960" cy="730" rx="60" ry="55" fill="#4a3a36" opacity="0.25" filter="url(#pb4)"/>
<ellipse cx="1080" cy="700" rx="70" ry="90" fill="#4a3a36" opacity="0.38" filter="url(#pb4)"/>
<ellipse cx="1125" cy="720" rx="40" ry="90" fill="#4a3a36" opacity="0.3" filter="url(#pb4)"/>
<ellipse cx="640" cy="760" rx="40" ry="35" fill="#4a3a36" opacity="0.25" filter="url(#pb4)"/>
<ellipse cx="512" cy="712" rx="38" ry="50" fill="#5a463e" opacity="0.28" filter="url(#pb4)"/>
<line x1="512.0" y1="800.0" x2="511.6" y2="745.0" stroke="#3c2c28" stroke-width="3.2" opacity="0.75"/>
<line x1="511.6" y1="745.0" x2="532.6" y2="713.4" stroke="#3c2c28" stroke-width="2.1" opacity="0.75"/>
<line x1="532.6" y1="713.4" x2="546.8" y2="692.5" stroke="#3c2c28" stroke-width="1.4" opacity="0.75"/>
<line x1="546.8" y1="692.5" x2="549.5" y2="675.1" stroke="#3c2c28" stroke-width="0.9" opacity="0.75"/>
<line x1="546.8" y1="692.5" x2="547.2" y2="676.7" stroke="#3c2c28" stroke-width="0.9" opacity="0.75"/>
<line x1="532.6" y1="713.4" x2="554.1" y2="692.5" stroke="#3c2c28" stroke-width="1.4" opacity="0.75"/>
<line x1="554.1" y1="692.5" x2="560.8" y2="672.5" stroke="#3c2c28" stroke-width="0.9" opacity="0.75"/>
<line x1="554.1" y1="692.5" x2="556.8" y2="674.4" stroke="#3c2c28" stroke-width="0.9" opacity="0.75"/>
<line x1="532.6" y1="713.4" x2="547.5" y2="690.9" stroke="#3c2c28" stroke-width="1.4" opacity="0.75"/>
<line x1="547.5" y1="690.9" x2="557.2" y2="674.3" stroke="#3c2c28" stroke-width="0.9" opacity="0.75"/>
<line x1="547.5" y1="690.9" x2="553.8" y2="672.4" stroke="#3c2c28" stroke-width="0.9" opacity="0.75"/>
<line x1="511.6" y1="745.0" x2="528.0" y2="713.2" stroke="#3c2c28" stroke-width="2.1" opacity="0.75"/>
<line x1="528.0" y1="713.2" x2="548.8" y2="703.2" stroke="#3c2c28" stroke-width="1.4" opacity="0.75"/>
<line x1="548.8" y1="703.2" x2="556.0" y2="687.1" stroke="#3c2c28" stroke-width="0.9" opacity="0.75"/>
<line x1="548.8" y1="703.2" x2="556.3" y2="690.1" stroke="#3c2c28" stroke-width="0.9" opacity="0.75"/>
<line x1="528.0" y1="713.2" x2="548.5" y2="703.5" stroke="#3c2c28" stroke-width="1.4" opacity="0.75"/>
<line x1="548.5" y1="703.5" x2="557.8" y2="689.6" stroke="#3c2c28" stroke-width="0.9" opacity="0.75"/>
<line x1="548.5" y1="703.5" x2="561.1" y2="698.8" stroke="#3c2c28" stroke-width="0.9" opacity="0.75"/>
<line x1="528.0" y1="713.2" x2="526.5" y2="687.9" stroke="#3c2c28" stroke-width="1.4" opacity="0.75"/>
<line x1="526.5" y1="687.9" x2="519.1" y2="673.0" stroke="#3c2c28" stroke-width="0.9" opacity="0.75"/>
<line x1="526.5" y1="687.9" x2="517.7" y2="670.3" stroke="#3c2c28" stroke-width="0.9" opacity="0.75"/>
<line x1="511.6" y1="745.0" x2="494.1" y2="704.8" stroke="#3c2c28" stroke-width="2.1" opacity="0.75"/>
<line x1="494.1" y1="704.8" x2="493.4" y2="677.8" stroke="#3c2c28" stroke-width="1.4" opacity="0.75"/>
<line x1="493.4" y1="677.8" x2="488.2" y2="661.6" stroke="#3c2c28" stroke-width="0.9" opacity="0.75"/>
<line x1="493.4" y1="677.8" x2="489.5" y2="659.4" stroke="#3c2c28" stroke-width="0.9" opacity="0.75"/>
<line x1="494.1" y1="704.8" x2="468.8" y2="682.7" stroke="#3c2c28" stroke-width="1.4" opacity="0.75"/>
<line x1="468.8" y1="682.7" x2="463.3" y2="663.6" stroke="#3c2c28" stroke-width="0.9" opacity="0.75"/>
<line x1="468.8" y1="682.7" x2="443.5" y2="675.0" stroke="#3c2c28" stroke-width="0.9" opacity="0.75"/>
<line x1="494.1" y1="704.8" x2="472.2" y2="692.3" stroke="#3c2c28" stroke-width="1.4" opacity="0.75"/>
<line x1="472.2" y1="692.3" x2="452.4" y2="689.3" stroke="#3c2c28" stroke-width="0.9" opacity="0.75"/>
<line x1="472.2" y1="692.3" x2="456.5" y2="691.3" stroke="#3c2c28" stroke-width="0.9" opacity="0.75"/>
<ellipse cx="490" cy="723" rx="31" ry="40" fill="#5a463e" opacity="0.28" filter="url(#pb4)"/>
<line x1="490.0" y1="795.0" x2="492.5" y2="750.1" stroke="#3c2c28" stroke-width="3.2" opacity="0.75"/>
<line x1="492.5" y1="750.1" x2="484.7" y2="719.4" stroke="#3c2c28" stroke-width="2.1" opacity="0.75"/>
<line x1="484.7" y1="719.4" x2="469.4" y2="700.0" stroke="#3c2c28" stroke-width="1.4" opacity="0.75"/>
<line x1="469.4" y1="700.0" x2="458.0" y2="692.5" stroke="#3c2c28" stroke-width="0.9" opacity="0.75"/>
<line x1="469.4" y1="700.0" x2="453.6" y2="693.5" stroke="#3c2c28" stroke-width="0.9" opacity="0.75"/>
<line x1="484.7" y1="719.4" x2="481.6" y2="696.7" stroke="#3c2c28" stroke-width="1.4" opacity="0.75"/>
<line x1="481.6" y1="696.7" x2="472.2" y2="687.2" stroke="#3c2c28" stroke-width="0.9" opacity="0.75"/>
<line x1="481.6" y1="696.7" x2="482.4" y2="684.0" stroke="#3c2c28" stroke-width="0.9" opacity="0.75"/>
<line x1="484.7" y1="719.4" x2="481.3" y2="701.7" stroke="#3c2c28" stroke-width="1.4" opacity="0.75"/>
<line x1="481.3" y1="701.7" x2="486.1" y2="689.4" stroke="#3c2c28" stroke-width="0.9" opacity="0.75"/>
<line x1="481.3" y1="701.7" x2="482.2" y2="690.3" stroke="#3c2c28" stroke-width="0.9" opacity="0.75"/>
<line x1="492.5" y1="750.1" x2="498.0" y2="716.0" stroke="#3c2c28" stroke-width="2.1" opacity="0.75"/>
<line x1="498.0" y1="716.0" x2="497.8" y2="691.7" stroke="#3c2c28" stroke-width="1.4" opacity="0.75"/>
<line x1="497.8" y1="691.7" x2="500.3" y2="674.9" stroke="#3c2c28" stroke-width="0.9" opacity="0.75"/>
<line x1="497.8" y1="691.7" x2="494.9" y2="674.1" stroke="#3c2c28" stroke-width="0.9" opacity="0.75"/>
<line x1="498.0" y1="716.0" x2="507.6" y2="698.9" stroke="#3c2c28" stroke-width="1.4" opacity="0.75"/>
<line x1="507.6" y1="698.9" x2="514.2" y2="690.1" stroke="#3c2c28" stroke-width="0.9" opacity="0.75"/>
<line x1="507.6" y1="698.9" x2="519.9" y2="692.5" stroke="#3c2c28" stroke-width="0.9" opacity="0.75"/>
<line x1="498.0" y1="716.0" x2="491.8" y2="696.3" stroke="#3c2c28" stroke-width="1.4" opacity="0.75"/>
<line x1="491.8" y1="696.3" x2="490.5" y2="680.3" stroke="#3c2c28" stroke-width="0.9" opacity="0.75"/>
<line x1="491.8" y1="696.3" x2="486.9" y2="684.9" stroke="#3c2c28" stroke-width="0.9" opacity="0.75"/>
<line x1="492.5" y1="750.1" x2="486.3" y2="719.4" stroke="#3c2c28" stroke-width="2.1" opacity="0.75"/>
<line x1="486.3" y1="719.4" x2="482.6" y2="701.5" stroke="#3c2c28" stroke-width="1.4" opacity="0.75"/>
<line x1="482.6" y1="701.5" x2="486.4" y2="688.2" stroke="#3c2c28" stroke-width="0.9" opacity="0.75"/>
<line x1="482.6" y1="701.5" x2="476.5" y2="691.0" stroke="#3c2c28" stroke-width="0.9" opacity="0.75"/>
<line x1="486.3" y1="719.4" x2="491.6" y2="700.4" stroke="#3c2c28" stroke-width="1.4" opacity="0.75"/>
<line x1="491.6" y1="700.4" x2="494.9" y2="685.1" stroke="#3c2c28" stroke-width="0.9" opacity="0.75"/>
<line x1="491.6" y1="700.4" x2="496.8" y2="687.1" stroke="#3c2c28" stroke-width="0.9" opacity="0.75"/>
<line x1="486.3" y1="719.4" x2="470.5" y2="705.9" stroke="#3c2c28" stroke-width="1.4" opacity="0.75"/>
<line x1="470.5" y1="705.9" x2="455.6" y2="700.7" stroke="#3c2c28" stroke-width="0.9" opacity="0.75"/>
<line x1="470.5" y1="705.9" x2="461.6" y2="694.2" stroke="#3c2c28" stroke-width="0.9" opacity="0.75"/>
<ellipse cx="662" cy="723" rx="31" ry="40" fill="#5a463e" opacity="0.28" filter="url(#pb4)"/>
<line x1="662.0" y1="795.0" x2="661.8" y2="750.0" stroke="#3c2c28" stroke-width="3.2" opacity="0.75"/>
<line x1="661.8" y1="750.0" x2="644.8" y2="729.3" stroke="#3c2c28" stroke-width="2.1" opacity="0.75"/>
<line x1="644.8" y1="729.3" x2="638.0" y2="712.8" stroke="#3c2c28" stroke-width="1.4" opacity="0.75"/>
<line x1="638.0" y1="712.8" x2="631.1" y2="704.7" stroke="#3c2c28" stroke-width="0.9" opacity="0.75"/>
<line x1="638.0" y1="712.8" x2="631.3" y2="701.5" stroke="#3c2c28" stroke-width="0.9" opacity="0.75"/>
<line x1="644.8" y1="729.3" x2="626.5" y2="722.4" stroke="#3c2c28" stroke-width="1.4" opacity="0.75"/>
<line x1="626.5" y1="722.4" x2="615.4" y2="715.7" stroke="#3c2c28" stroke-width="0.9" opacity="0.75"/>
<line x1="626.5" y1="722.4" x2="618.4" y2="710.2" stroke="#3c2c28" stroke-width="0.9" opacity="0.75"/>
<line x1="644.8" y1="729.3" x2="635.3" y2="711.5" stroke="#3c2c28" stroke-width="1.4" opacity="0.75"/>
<line x1="635.3" y1="711.5" x2="623.8" y2="702.3" stroke="#3c2c28" stroke-width="0.9" opacity="0.75"/>
<line x1="635.3" y1="711.5" x2="625.1" y2="700.4" stroke="#3c2c28" stroke-width="0.9" opacity="0.75"/>
<line x1="661.8" y1="750.0" x2="663.8" y2="720.4" stroke="#3c2c28" stroke-width="2.1" opacity="0.75"/>
<line x1="663.8" y1="720.4" x2="664.9" y2="698.3" stroke="#3c2c28" stroke-width="1.4" opacity="0.75"/>
<line x1="664.9" y1="698.3" x2="670.6" y2="687.5" stroke="#3c2c28" stroke-width="0.9" opacity="0.75"/>
<line x1="664.9" y1="698.3" x2="657.6" y2="683.5" stroke="#3c2c28" stroke-width="0.9" opacity="0.75"/>
<line x1="663.8" y1="720.4" x2="677.5" y2="703.8" stroke="#3c2c28" stroke-width="1.4" opacity="0.75"/>
<line x1="677.5" y1="703.8" x2="691.5" y2="700.2" stroke="#3c2c28" stroke-width="0.9" opacity="0.75"/>
<line x1="677.5" y1="703.8" x2="689.6" y2="693.9" stroke="#3c2c28" stroke-width="0.9" opacity="0.75"/>
<line x1="663.8" y1="720.4" x2="673.8" y2="704.0" stroke="#3c2c28" stroke-width="1.4" opacity="0.75"/>
<line x1="673.8" y1="704.0" x2="675.9" y2="689.3" stroke="#3c2c28" stroke-width="0.9" opacity="0.75"/>
<line x1="673.8" y1="704.0" x2="680.3" y2="694.5" stroke="#3c2c28" stroke-width="0.9" opacity="0.75"/>
<line x1="661.8" y1="750.0" x2="657.5" y2="719.8" stroke="#3c2c28" stroke-width="2.1" opacity="0.75"/>
<line x1="657.5" y1="719.8" x2="656.2" y2="696.9" stroke="#3c2c28" stroke-width="1.4" opacity="0.75"/>
<line x1="656.2" y1="696.9" x2="659.4" y2="681.8" stroke="#3c2c28" stroke-width="0.9" opacity="0.75"/>
<line x1="656.2" y1="696.9" x2="649.6" y2="680.2" stroke="#3c2c28" stroke-width="0.9" opacity="0.75"/>
<line x1="657.5" y1="719.8" x2="653.3" y2="696.4" stroke="#3c2c28" stroke-width="1.4" opacity="0.75"/>
<line x1="653.3" y1="696.4" x2="644.8" y2="684.2" stroke="#3c2c28" stroke-width="0.9" opacity="0.75"/>
<line x1="653.3" y1="696.4" x2="645.8" y2="685.6" stroke="#3c2c28" stroke-width="0.9" opacity="0.75"/>
<line x1="657.5" y1="719.8" x2="643.6" y2="703.2" stroke="#3c2c28" stroke-width="1.4" opacity="0.75"/>
<line x1="643.6" y1="703.2" x2="628.8" y2="697.9" stroke="#3c2c28" stroke-width="0.9" opacity="0.75"/>
<line x1="643.6" y1="703.2" x2="632.8" y2="694.1" stroke="#3c2c28" stroke-width="0.9" opacity="0.75"/>
<ellipse cx="738" cy="702" rx="42" ry="54" fill="#5a463e" opacity="0.28" filter="url(#pb4)"/>
<line x1="738.0" y1="798.0" x2="739.3" y2="738.0" stroke="#3c2c28" stroke-width="3.2" opacity="0.75"/>
<line x1="739.3" y1="738.0" x2="741.9" y2="695.5" stroke="#3c2c28" stroke-width="2.1" opacity="0.75"/>
<line x1="741.9" y1="695.5" x2="749.0" y2="663.8" stroke="#3c2c28" stroke-width="1.4" opacity="0.75"/>
<line x1="749.0" y1="663.8" x2="745.1" y2="639.3" stroke="#3c2c28" stroke-width="0.9" opacity="0.75"/>
<line x1="749.0" y1="663.8" x2="763.8" y2="649.7" stroke="#3c2c28" stroke-width="0.9" opacity="0.75"/>
<line x1="741.9" y1="695.5" x2="751.5" y2="671.4" stroke="#3c2c28" stroke-width="1.4" opacity="0.75"/>
<line x1="751.5" y1="671.4" x2="748.6" y2="655.7" stroke="#3c2c28" stroke-width="0.9" opacity="0.75"/>
<line x1="751.5" y1="671.4" x2="761.6" y2="657.8" stroke="#3c2c28" stroke-width="0.9" opacity="0.75"/>
<line x1="741.9" y1="695.5" x2="726.5" y2="665.5" stroke="#3c2c28" stroke-width="1.4" opacity="0.75"/>
<line x1="726.5" y1="665.5" x2="723.9" y2="642.9" stroke="#3c2c28" stroke-width="0.9" opacity="0.75"/>
<line x1="726.5" y1="665.5" x2="708.9" y2="657.1" stroke="#3c2c28" stroke-width="0.9" opacity="0.75"/>
<line x1="739.3" y1="738.0" x2="725.5" y2="705.0" stroke="#3c2c28" stroke-width="2.1" opacity="0.75"/>
<line x1="725.5" y1="705.0" x2="733.4" y2="679.0" stroke="#3c2c28" stroke-width="1.4" opacity="0.75"/>
<line x1="733.4" y1="679.0" x2="727.7" y2="658.5" stroke="#3c2c28" stroke-width="0.9" opacity="0.75"/>
<line x1="733.4" y1="679.0" x2="737.6" y2="662.3" stroke="#3c2c28" stroke-width="0.9" opacity="0.75"/>
<line x1="725.5" y1="705.0" x2="727.8" y2="679.1" stroke="#3c2c28" stroke-width="1.4" opacity="0.75"/>
<line x1="727.8" y1="679.1" x2="728.2" y2="663.7" stroke="#3c2c28" stroke-width="0.9" opacity="0.75"/>
<line x1="727.8" y1="679.1" x2="718.1" y2="664.5" stroke="#3c2c28" stroke-width="0.9" opacity="0.75"/>
<line x1="725.5" y1="705.0" x2="712.8" y2="683.1" stroke="#3c2c28" stroke-width="1.4" opacity="0.75"/>
<line x1="712.8" y1="683.1" x2="704.0" y2="667.8" stroke="#3c2c28" stroke-width="0.9" opacity="0.75"/>
<line x1="712.8" y1="683.1" x2="710.3" y2="664.7" stroke="#3c2c28" stroke-width="0.9" opacity="0.75"/>
<line x1="739.3" y1="738.0" x2="756.0" y2="697.9" stroke="#3c2c28" stroke-width="2.1" opacity="0.75"/>
<line x1="756.0" y1="697.9" x2="764.4" y2="666.9" stroke="#3c2c28" stroke-width="1.4" opacity="0.75"/>
<line x1="764.4" y1="666.9" x2="756.6" y2="644.7" stroke="#3c2c28" stroke-width="0.9" opacity="0.75"/>
<line x1="764.4" y1="666.9" x2="774.0" y2="646.2" stroke="#3c2c28" stroke-width="0.9" opacity="0.75"/>
<line x1="756.0" y1="697.9" x2="770.7" y2="670.6" stroke="#3c2c28" stroke-width="1.4" opacity="0.75"/>
<line x1="770.7" y1="670.6" x2="777.7" y2="650.6" stroke="#3c2c28" stroke-width="0.9" opacity="0.75"/>
<line x1="770.7" y1="670.6" x2="766.4" y2="646.3" stroke="#3c2c28" stroke-width="0.9" opacity="0.75"/>
<line x1="756.0" y1="697.9" x2="755.2" y2="673.5" stroke="#3c2c28" stroke-width="1.4" opacity="0.75"/>
<line x1="755.2" y1="673.5" x2="746.4" y2="660.5" stroke="#3c2c28" stroke-width="0.9" opacity="0.75"/>
<line x1="755.2" y1="673.5" x2="756.5" y2="654.2" stroke="#3c2c28" stroke-width="0.9" opacity="0.75"/>
<ellipse cx="815" cy="698" rx="46" ry="58" fill="#5a463e" opacity="0.28" filter="url(#pb4)"/>
<line x1="815.0" y1="802.0" x2="816.0" y2="737.0" stroke="#3c2c28" stroke-width="3.2" opacity="0.75"/>
<line x1="816.0" y1="737.0" x2="788.0" y2="697.9" stroke="#3c2c28" stroke-width="2.1" opacity="0.75"/>
<line x1="788.0" y1="697.9" x2="754.5" y2="680.7" stroke="#3c2c28" stroke-width="1.4" opacity="0.75"/>
<line x1="754.5" y1="680.7" x2="729.4" y2="680.5" stroke="#3c2c28" stroke-width="0.9" opacity="0.75"/>
<line x1="754.5" y1="680.7" x2="733.0" y2="668.7" stroke="#3c2c28" stroke-width="0.9" opacity="0.75"/>
<line x1="788.0" y1="697.9" x2="761.5" y2="677.9" stroke="#3c2c28" stroke-width="1.4" opacity="0.75"/>
<line x1="761.5" y1="677.9" x2="738.9" y2="669.4" stroke="#3c2c28" stroke-width="0.9" opacity="0.75"/>
<line x1="761.5" y1="677.9" x2="739.9" y2="666.3" stroke="#3c2c28" stroke-width="0.9" opacity="0.75"/>
<line x1="788.0" y1="697.9" x2="752.5" y2="684.9" stroke="#3c2c28" stroke-width="1.4" opacity="0.75"/>
<line x1="752.5" y1="684.9" x2="724.1" y2="677.5" stroke="#3c2c28" stroke-width="0.9" opacity="0.75"/>
<line x1="752.5" y1="684.9" x2="729.2" y2="666.6" stroke="#3c2c28" stroke-width="0.9" opacity="0.75"/>
<line x1="816.0" y1="737.0" x2="823.1" y2="700.1" stroke="#3c2c28" stroke-width="2.1" opacity="0.75"/>
<line x1="823.1" y1="700.1" x2="817.5" y2="675.7" stroke="#3c2c28" stroke-width="1.4" opacity="0.75"/>
<line x1="817.5" y1="675.7" x2="814.9" y2="661.9" stroke="#3c2c28" stroke-width="0.9" opacity="0.75"/>
<line x1="817.5" y1="675.7" x2="815.8" y2="660.4" stroke="#3c2c28" stroke-width="0.9" opacity="0.75"/>
<line x1="823.1" y1="700.1" x2="837.8" y2="674.3" stroke="#3c2c28" stroke-width="1.4" opacity="0.75"/>
<line x1="837.8" y1="674.3" x2="837.4" y2="656.2" stroke="#3c2c28" stroke-width="0.9" opacity="0.75"/>
<line x1="837.8" y1="674.3" x2="850.6" y2="661.2" stroke="#3c2c28" stroke-width="0.9" opacity="0.75"/>
<line x1="823.1" y1="700.1" x2="819.5" y2="677.9" stroke="#3c2c28" stroke-width="1.4" opacity="0.75"/>
<line x1="819.5" y1="677.9" x2="826.8" y2="661.6" stroke="#3c2c28" stroke-width="0.9" opacity="0.75"/>
<line x1="819.5" y1="677.9" x2="819.6" y2="663.1" stroke="#3c2c28" stroke-width="0.9" opacity="0.75"/>
<line x1="816.0" y1="737.0" x2="820.1" y2="690.4" stroke="#3c2c28" stroke-width="2.1" opacity="0.75"/>
<line x1="820.1" y1="690.4" x2="817.0" y2="657.5" stroke="#3c2c28" stroke-width="1.4" opacity="0.75"/>
<line x1="817.0" y1="657.5" x2="806.5" y2="638.0" stroke="#3c2c28" stroke-width="0.9" opacity="0.75"/>
<line x1="817.0" y1="657.5" x2="823.5" y2="639.4" stroke="#3c2c28" stroke-width="0.9" opacity="0.75"/>
<line x1="820.1" y1="690.4" x2="834.3" y2="665.5" stroke="#3c2c28" stroke-width="1.4" opacity="0.75"/>
<line x1="834.3" y1="665.5" x2="846.7" y2="651.8" stroke="#3c2c28" stroke-width="0.9" opacity="0.75"/>
<line x1="834.3" y1="665.5" x2="843.4" y2="645.1" stroke="#3c2c28" stroke-width="0.9" opacity="0.75"/>
<line x1="820.1" y1="690.4" x2="824.7" y2="664.2" stroke="#3c2c28" stroke-width="1.4" opacity="0.75"/>
<line x1="824.7" y1="664.2" x2="832.3" y2="647.9" stroke="#3c2c28" stroke-width="0.9" opacity="0.75"/>
<line x1="824.7" y1="664.2" x2="817.1" y2="646.7" stroke="#3c2c28" stroke-width="0.9" opacity="0.75"/>
<ellipse cx="860" cy="720" rx="35" ry="45" fill="#5a463e" opacity="0.28" filter="url(#pb4)"/>
<line x1="860.0" y1="800.0" x2="857.1" y2="750.1" stroke="#3c2c28" stroke-width="3.2" opacity="0.75"/>
<line x1="857.1" y1="750.1" x2="865.3" y2="719.2" stroke="#3c2c28" stroke-width="2.1" opacity="0.75"/>
<line x1="865.3" y1="719.2" x2="859.7" y2="699.4" stroke="#3c2c28" stroke-width="1.4" opacity="0.75"/>
<line x1="859.7" y1="699.4" x2="857.1" y2="684.8" stroke="#3c2c28" stroke-width="0.9" opacity="0.75"/>
<line x1="859.7" y1="699.4" x2="851.7" y2="686.3" stroke="#3c2c28" stroke-width="0.9" opacity="0.75"/>
<line x1="865.3" y1="719.2" x2="866.6" y2="699.6" stroke="#3c2c28" stroke-width="1.4" opacity="0.75"/>
<line x1="866.6" y1="699.6" x2="865.0" y2="687.2" stroke="#3c2c28" stroke-width="0.9" opacity="0.75"/>
<line x1="866.6" y1="699.6" x2="868.4" y2="685.1" stroke="#3c2c28" stroke-width="0.9" opacity="0.75"/>
<line x1="865.3" y1="719.2" x2="864.2" y2="694.6" stroke="#3c2c28" stroke-width="1.4" opacity="0.75"/>
<line x1="864.2" y1="694.6" x2="863.9" y2="680.9" stroke="#3c2c28" stroke-width="0.9" opacity="0.75"/>
<line x1="864.2" y1="694.6" x2="852.9" y2="679.9" stroke="#3c2c28" stroke-width="0.9" opacity="0.75"/>
<line x1="857.1" y1="750.1" x2="874.8" y2="717.9" stroke="#3c2c28" stroke-width="2.1" opacity="0.75"/>
<line x1="874.8" y1="717.9" x2="888.1" y2="701.7" stroke="#3c2c28" stroke-width="1.4" opacity="0.75"/>
<line x1="888.1" y1="701.7" x2="898.7" y2="695.4" stroke="#3c2c28" stroke-width="0.9" opacity="0.75"/>
<line x1="888.1" y1="701.7" x2="900.6" y2="694.7" stroke="#3c2c28" stroke-width="0.9" opacity="0.75"/>
<line x1="874.8" y1="717.9" x2="887.8" y2="696.9" stroke="#3c2c28" stroke-width="1.4" opacity="0.75"/>
<line x1="887.8" y1="696.9" x2="901.3" y2="684.9" stroke="#3c2c28" stroke-width="0.9" opacity="0.75"/>
<line x1="887.8" y1="696.9" x2="903.5" y2="686.4" stroke="#3c2c28" stroke-width="0.9" opacity="0.75"/>
<line x1="874.8" y1="717.9" x2="892.7" y2="700.4" stroke="#3c2c28" stroke-width="1.4" opacity="0.75"/>
<line x1="892.7" y1="700.4" x2="904.5" y2="685.9" stroke="#3c2c28" stroke-width="0.9" opacity="0.75"/>
<line x1="892.7" y1="700.4" x2="897.9" y2="685.2" stroke="#3c2c28" stroke-width="0.9" opacity="0.75"/>
<line x1="857.1" y1="750.1" x2="848.1" y2="723.3" stroke="#3c2c28" stroke-width="2.1" opacity="0.75"/>
<line x1="848.1" y1="723.3" x2="846.2" y2="707.1" stroke="#3c2c28" stroke-width="1.4" opacity="0.75"/>
<line x1="846.2" y1="707.1" x2="839.7" y2="696.8" stroke="#3c2c28" stroke-width="0.9" opacity="0.75"/>
<line x1="846.2" y1="707.1" x2="840.5" y2="699.9" stroke="#3c2c28" stroke-width="0.9" opacity="0.75"/>
<line x1="848.1" y1="723.3" x2="835.2" y2="708.4" stroke="#3c2c28" stroke-width="1.4" opacity="0.75"/>
<line x1="835.2" y1="708.4" x2="825.2" y2="702.2" stroke="#3c2c28" stroke-width="0.9" opacity="0.75"/>
<line x1="835.2" y1="708.4" x2="825.2" y2="697.4" stroke="#3c2c28" stroke-width="0.9" opacity="0.75"/>
<line x1="848.1" y1="723.3" x2="854.1" y2="704.9" stroke="#3c2c28" stroke-width="1.4" opacity="0.75"/>
<line x1="854.1" y1="704.9" x2="853.1" y2="691.9" stroke="#3c2c28" stroke-width="0.9" opacity="0.75"/>
<line x1="854.1" y1="704.9" x2="858.5" y2="692.4" stroke="#3c2c28" stroke-width="0.9" opacity="0.75"/>
<ellipse cx="931" cy="694" rx="49" ry="63" fill="#5a463e" opacity="0.28" filter="url(#pb4)"/>
<line x1="931.0" y1="806.0" x2="925.5" y2="736.2" stroke="#3c2c28" stroke-width="3.2" opacity="0.75"/>
<line x1="925.5" y1="736.2" x2="913.6" y2="691.0" stroke="#3c2c28" stroke-width="2.1" opacity="0.75"/>
<line x1="913.6" y1="691.0" x2="915.0" y2="656.0" stroke="#3c2c28" stroke-width="1.4" opacity="0.75"/>
<line x1="915.0" y1="656.0" x2="904.6" y2="633.7" stroke="#3c2c28" stroke-width="0.9" opacity="0.75"/>
<line x1="915.0" y1="656.0" x2="920.5" y2="632.8" stroke="#3c2c28" stroke-width="0.9" opacity="0.75"/>
<line x1="913.6" y1="691.0" x2="885.2" y2="671.0" stroke="#3c2c28" stroke-width="1.4" opacity="0.75"/>
<line x1="885.2" y1="671.0" x2="873.3" y2="647.6" stroke="#3c2c28" stroke-width="0.9" opacity="0.75"/>
<line x1="885.2" y1="671.0" x2="868.6" y2="659.9" stroke="#3c2c28" stroke-width="0.9" opacity="0.75"/>
<line x1="913.6" y1="691.0" x2="917.9" y2="662.0" stroke="#3c2c28" stroke-width="1.4" opacity="0.75"/>
<line x1="917.9" y1="662.0" x2="930.7" y2="647.8" stroke="#3c2c28" stroke-width="0.9" opacity="0.75"/>
<line x1="917.9" y1="662.0" x2="911.4" y2="643.2" stroke="#3c2c28" stroke-width="0.9" opacity="0.75"/>
<line x1="925.5" y1="736.2" x2="920.1" y2="692.7" stroke="#3c2c28" stroke-width="2.1" opacity="0.75"/>
<line x1="920.1" y1="692.7" x2="910.0" y2="662.4" stroke="#3c2c28" stroke-width="1.4" opacity="0.75"/>
<line x1="910.0" y1="662.4" x2="892.4" y2="647.5" stroke="#3c2c28" stroke-width="0.9" opacity="0.75"/>
<line x1="910.0" y1="662.4" x2="890.8" y2="650.1" stroke="#3c2c28" stroke-width="0.9" opacity="0.75"/>
<line x1="920.1" y1="692.7" x2="899.0" y2="672.6" stroke="#3c2c28" stroke-width="1.4" opacity="0.75"/>
<line x1="899.0" y1="672.6" x2="890.2" y2="651.1" stroke="#3c2c28" stroke-width="0.9" opacity="0.75"/>
<line x1="899.0" y1="672.6" x2="881.3" y2="663.4" stroke="#3c2c28" stroke-width="0.9" opacity="0.75"/>
<line x1="920.1" y1="692.7" x2="925.3" y2="666.9" stroke="#3c2c28" stroke-width="1.4" opacity="0.75"/>
<line x1="925.3" y1="666.9" x2="937.5" y2="655.6" stroke="#3c2c28" stroke-width="0.9" opacity="0.75"/>
<line x1="925.3" y1="666.9" x2="920.8" y2="652.5" stroke="#3c2c28" stroke-width="0.9" opacity="0.75"/>
<line x1="925.5" y1="736.2" x2="943.0" y2="694.2" stroke="#3c2c28" stroke-width="2.1" opacity="0.75"/>
<line x1="943.0" y1="694.2" x2="937.3" y2="662.9" stroke="#3c2c28" stroke-width="1.4" opacity="0.75"/>
<line x1="937.3" y1="662.9" x2="925.4" y2="647.6" stroke="#3c2c28" stroke-width="0.9" opacity="0.75"/>
<line x1="937.3" y1="662.9" x2="933.9" y2="642.3" stroke="#3c2c28" stroke-width="0.9" opacity="0.75"/>
<line x1="943.0" y1="694.2" x2="950.7" y2="666.4" stroke="#3c2c28" stroke-width="1.4" opacity="0.75"/>
<line x1="950.7" y1="666.4" x2="952.8" y2="650.6" stroke="#3c2c28" stroke-width="0.9" opacity="0.75"/>
<line x1="950.7" y1="666.4" x2="942.7" y2="647.8" stroke="#3c2c28" stroke-width="0.9" opacity="0.75"/>
<line x1="943.0" y1="694.2" x2="954.6" y2="667.2" stroke="#3c2c28" stroke-width="1.4" opacity="0.75"/>
<line x1="954.6" y1="667.2" x2="971.2" y2="652.9" stroke="#3c2c28" stroke-width="0.9" opacity="0.75"/>
<line x1="954.6" y1="667.2" x2="958.6" y2="647.4" stroke="#3c2c28" stroke-width="0.9" opacity="0.75"/>
<ellipse cx="1000" cy="718" rx="38" ry="50" fill="#5a463e" opacity="0.28" filter="url(#pb4)"/>
<line x1="1000.0" y1="806.0" x2="1000.1" y2="751.0" stroke="#3c2c28" stroke-width="3.2" opacity="0.75"/>
<line x1="1000.1" y1="751.0" x2="1018.4" y2="715.3" stroke="#3c2c28" stroke-width="2.1" opacity="0.75"/>
<line x1="1018.4" y1="715.3" x2="1039.7" y2="704.3" stroke="#3c2c28" stroke-width="1.4" opacity="0.75"/>
<line x1="1039.7" y1="704.3" x2="1050.3" y2="691.0" stroke="#3c2c28" stroke-width="0.9" opacity="0.75"/>
<line x1="1039.7" y1="704.3" x2="1054.8" y2="706.2" stroke="#3c2c28" stroke-width="0.9" opacity="0.75"/>
<line x1="1018.4" y1="715.3" x2="1038.5" y2="703.4" stroke="#3c2c28" stroke-width="1.4" opacity="0.75"/>
<line x1="1038.5" y1="703.4" x2="1053.0" y2="696.5" stroke="#3c2c28" stroke-width="0.9" opacity="0.75"/>
<line x1="1038.5" y1="703.4" x2="1054.9" y2="696.7" stroke="#3c2c28" stroke-width="0.9" opacity="0.75"/>
<line x1="1018.4" y1="715.3" x2="1031.7" y2="694.8" stroke="#3c2c28" stroke-width="1.4" opacity="0.75"/>
<line x1="1031.7" y1="694.8" x2="1034.2" y2="676.4" stroke="#3c2c28" stroke-width="0.9" opacity="0.75"/>
<line x1="1031.7" y1="694.8" x2="1049.8" y2="687.5" stroke="#3c2c28" stroke-width="0.9" opacity="0.75"/>
<line x1="1000.1" y1="751.0" x2="1004.8" y2="715.8" stroke="#3c2c28" stroke-width="2.1" opacity="0.75"/>
<line x1="1004.8" y1="715.8" x2="990.9" y2="693.0" stroke="#3c2c28" stroke-width="1.4" opacity="0.75"/>
<line x1="990.9" y1="693.0" x2="982.0" y2="679.7" stroke="#3c2c28" stroke-width="0.9" opacity="0.75"/>
<line x1="990.9" y1="693.0" x2="977.0" y2="681.4" stroke="#3c2c28" stroke-width="0.9" opacity="0.75"/>
<line x1="1004.8" y1="715.8" x2="995.7" y2="692.0" stroke="#3c2c28" stroke-width="1.4" opacity="0.75"/>
<line x1="995.7" y1="692.0" x2="991.2" y2="672.4" stroke="#3c2c28" stroke-width="0.9" opacity="0.75"/>
<line x1="995.7" y1="692.0" x2="995.4" y2="673.2" stroke="#3c2c28" stroke-width="0.9" opacity="0.75"/>
<line x1="1004.8" y1="715.8" x2="1005.7" y2="692.7" stroke="#3c2c28" stroke-width="1.4" opacity="0.75"/>
<line x1="1005.7" y1="692.7" x2="1014.8" y2="679.5" stroke="#3c2c28" stroke-width="0.9" opacity="0.75"/>
<line x1="1005.7" y1="692.7" x2="997.6" y2="680.5" stroke="#3c2c28" stroke-width="0.9" opacity="0.75"/>
<line x1="1000.1" y1="751.0" x2="989.3" y2="711.9" stroke="#3c2c28" stroke-width="2.1" opacity="0.75"/>
<line x1="989.3" y1="711.9" x2="967.6" y2="693.7" stroke="#3c2c28" stroke-width="1.4" opacity="0.75"/>
<line x1="967.6" y1="693.7" x2="954.2" y2="684.1" stroke="#3c2c28" stroke-width="0.9" opacity="0.75"/>
<line x1="967.6" y1="693.7" x2="949.3" y2="687.4" stroke="#3c2c28" stroke-width="0.9" opacity="0.75"/>
<line x1="989.3" y1="711.9" x2="1001.1" y2="682.6" stroke="#3c2c28" stroke-width="1.4" opacity="0.75"/>
<line x1="1001.1" y1="682.6" x2="1018.7" y2="668.5" stroke="#3c2c28" stroke-width="0.9" opacity="0.75"/>
<line x1="1001.1" y1="682.6" x2="1018.8" y2="669.8" stroke="#3c2c28" stroke-width="0.9" opacity="0.75"/>
<line x1="989.3" y1="711.9" x2="962.9" y2="693.8" stroke="#3c2c28" stroke-width="1.4" opacity="0.75"/>
<line x1="962.9" y1="693.8" x2="944.4" y2="687.7" stroke="#3c2c28" stroke-width="0.9" opacity="0.75"/>
<line x1="962.9" y1="693.8" x2="943.8" y2="685.7" stroke="#3c2c28" stroke-width="0.9" opacity="0.75"/>
<ellipse cx="1078" cy="700" rx="49" ry="63" fill="#5a463e" opacity="0.28" filter="url(#pb4)"/>
<line x1="1078.0" y1="812.0" x2="1075.8" y2="742.0" stroke="#3c2c28" stroke-width="3.2" opacity="0.75"/>
<line x1="1075.8" y1="742.0" x2="1101.6" y2="702.4" stroke="#3c2c28" stroke-width="2.1" opacity="0.75"/>
<line x1="1101.6" y1="702.4" x2="1120.8" y2="670.2" stroke="#3c2c28" stroke-width="1.4" opacity="0.75"/>
<line x1="1120.8" y1="670.2" x2="1126.5" y2="648.4" stroke="#3c2c28" stroke-width="0.9" opacity="0.75"/>
<line x1="1120.8" y1="670.2" x2="1132.3" y2="649.2" stroke="#3c2c28" stroke-width="0.9" opacity="0.75"/>
<line x1="1101.6" y1="702.4" x2="1106.4" y2="669.4" stroke="#3c2c28" stroke-width="1.4" opacity="0.75"/>
<line x1="1106.4" y1="669.4" x2="1094.4" y2="646.6" stroke="#3c2c28" stroke-width="0.9" opacity="0.75"/>
<line x1="1106.4" y1="669.4" x2="1117.4" y2="646.2" stroke="#3c2c28" stroke-width="0.9" opacity="0.75"/>
<line x1="1101.6" y1="702.4" x2="1106.7" y2="676.0" stroke="#3c2c28" stroke-width="1.4" opacity="0.75"/>
<line x1="1106.7" y1="676.0" x2="1114.5" y2="661.1" stroke="#3c2c28" stroke-width="0.9" opacity="0.75"/>
<line x1="1106.7" y1="676.0" x2="1106.9" y2="655.9" stroke="#3c2c28" stroke-width="0.9" opacity="0.75"/>
<line x1="1075.8" y1="742.0" x2="1099.3" y2="705.1" stroke="#3c2c28" stroke-width="2.1" opacity="0.75"/>
<line x1="1099.3" y1="705.1" x2="1107.2" y2="674.7" stroke="#3c2c28" stroke-width="1.4" opacity="0.75"/>
<line x1="1107.2" y1="674.7" x2="1100.2" y2="653.6" stroke="#3c2c28" stroke-width="0.9" opacity="0.75"/>
<line x1="1107.2" y1="674.7" x2="1114.0" y2="658.5" stroke="#3c2c28" stroke-width="0.9" opacity="0.75"/>
<line x1="1099.3" y1="705.1" x2="1121.1" y2="688.7" stroke="#3c2c28" stroke-width="1.4" opacity="0.75"/>
<line x1="1121.1" y1="688.7" x2="1130.7" y2="675.2" stroke="#3c2c28" stroke-width="0.9" opacity="0.75"/>
<line x1="1121.1" y1="688.7" x2="1132.7" y2="679.0" stroke="#3c2c28" stroke-width="0.9" opacity="0.75"/>
<line x1="1099.3" y1="705.1" x2="1115.0" y2="684.3" stroke="#3c2c28" stroke-width="1.4" opacity="0.75"/>
<line x1="1115.0" y1="684.3" x2="1123.0" y2="667.6" stroke="#3c2c28" stroke-width="0.9" opacity="0.75"/>
<line x1="1115.0" y1="684.3" x2="1130.6" y2="672.0" stroke="#3c2c28" stroke-width="0.9" opacity="0.75"/>
<line x1="1075.8" y1="742.0" x2="1080.8" y2="700.9" stroke="#3c2c28" stroke-width="2.1" opacity="0.75"/>
<line x1="1080.8" y1="700.9" x2="1081.8" y2="675.8" stroke="#3c2c28" stroke-width="1.4" opacity="0.75"/>
<line x1="1081.8" y1="675.8" x2="1089.7" y2="658.8" stroke="#3c2c28" stroke-width="0.9" opacity="0.75"/>
<line x1="1081.8" y1="675.8" x2="1082.4" y2="658.3" stroke="#3c2c28" stroke-width="0.9" opacity="0.75"/>
<line x1="1080.8" y1="700.9" x2="1070.6" y2="670.8" stroke="#3c2c28" stroke-width="1.4" opacity="0.75"/>
<line x1="1070.6" y1="670.8" x2="1054.8" y2="660.8" stroke="#3c2c28" stroke-width="0.9" opacity="0.75"/>
<line x1="1070.6" y1="670.8" x2="1051.6" y2="656.5" stroke="#3c2c28" stroke-width="0.9" opacity="0.75"/>
<line x1="1080.8" y1="700.9" x2="1071.6" y2="677.5" stroke="#3c2c28" stroke-width="1.4" opacity="0.75"/>
<line x1="1071.6" y1="677.5" x2="1058.1" y2="669.1" stroke="#3c2c28" stroke-width="0.9" opacity="0.75"/>
<line x1="1071.6" y1="677.5" x2="1057.3" y2="667.2" stroke="#3c2c28" stroke-width="0.9" opacity="0.75"/>
<ellipse cx="1115" cy="692" rx="52" ry="68" fill="#5a463e" opacity="0.28" filter="url(#pb4)"/>
<line x1="1115.0" y1="812.0" x2="1117.3" y2="737.0" stroke="#3c2c28" stroke-width="3.2" opacity="0.75"/>
<line x1="1117.3" y1="737.0" x2="1141.1" y2="685.4" stroke="#3c2c28" stroke-width="2.1" opacity="0.75"/>
<line x1="1141.1" y1="685.4" x2="1150.8" y2="654.8" stroke="#3c2c28" stroke-width="1.4" opacity="0.75"/>
<line x1="1150.8" y1="654.8" x2="1148.9" y2="634.3" stroke="#3c2c28" stroke-width="0.9" opacity="0.75"/>
<line x1="1150.8" y1="654.8" x2="1145.9" y2="629.7" stroke="#3c2c28" stroke-width="0.9" opacity="0.75"/>
<line x1="1141.1" y1="685.4" x2="1138.0" y2="641.6" stroke="#3c2c28" stroke-width="1.4" opacity="0.75"/>
<line x1="1138.0" y1="641.6" x2="1128.2" y2="614.9" stroke="#3c2c28" stroke-width="0.9" opacity="0.75"/>
<line x1="1138.0" y1="641.6" x2="1146.3" y2="610.2" stroke="#3c2c28" stroke-width="0.9" opacity="0.75"/>
<line x1="1141.1" y1="685.4" x2="1173.6" y2="666.2" stroke="#3c2c28" stroke-width="1.4" opacity="0.75"/>
<line x1="1173.6" y1="666.2" x2="1191.2" y2="649.5" stroke="#3c2c28" stroke-width="0.9" opacity="0.75"/>
<line x1="1173.6" y1="666.2" x2="1184.6" y2="641.6" stroke="#3c2c28" stroke-width="0.9" opacity="0.75"/>
<line x1="1117.3" y1="737.0" x2="1116.0" y2="679.2" stroke="#3c2c28" stroke-width="2.1" opacity="0.75"/>
<line x1="1116.0" y1="679.2" x2="1132.6" y2="645.5" stroke="#3c2c28" stroke-width="1.4" opacity="0.75"/>
<line x1="1132.6" y1="645.5" x2="1150.8" y2="629.6" stroke="#3c2c28" stroke-width="0.9" opacity="0.75"/>
<line x1="1132.6" y1="645.5" x2="1133.6" y2="623.4" stroke="#3c2c28" stroke-width="0.9" opacity="0.75"/>
<line x1="1116.0" y1="679.2" x2="1126.5" y2="634.2" stroke="#3c2c28" stroke-width="1.4" opacity="0.75"/>
<line x1="1126.5" y1="634.2" x2="1120.0" y2="599.4" stroke="#3c2c28" stroke-width="0.9" opacity="0.75"/>
<line x1="1126.5" y1="634.2" x2="1114.2" y2="608.4" stroke="#3c2c28" stroke-width="0.9" opacity="0.75"/>
<line x1="1116.0" y1="679.2" x2="1101.7" y2="639.5" stroke="#3c2c28" stroke-width="1.4" opacity="0.75"/>
<line x1="1101.7" y1="639.5" x2="1081.8" y2="621.3" stroke="#3c2c28" stroke-width="0.9" opacity="0.75"/>
<line x1="1101.7" y1="639.5" x2="1073.9" y2="622.3" stroke="#3c2c28" stroke-width="0.9" opacity="0.75"/>
<line x1="1117.3" y1="737.0" x2="1136.1" y2="693.6" stroke="#3c2c28" stroke-width="2.1" opacity="0.75"/>
<line x1="1136.1" y1="693.6" x2="1129.3" y2="662.1" stroke="#3c2c28" stroke-width="1.4" opacity="0.75"/>
<line x1="1129.3" y1="662.1" x2="1117.9" y2="644.7" stroke="#3c2c28" stroke-width="0.9" opacity="0.75"/>
<line x1="1129.3" y1="662.1" x2="1123.0" y2="643.0" stroke="#3c2c28" stroke-width="0.9" opacity="0.75"/>
<line x1="1136.1" y1="693.6" x2="1156.9" y2="665.9" stroke="#3c2c28" stroke-width="1.4" opacity="0.75"/>
<line x1="1156.9" y1="665.9" x2="1161.5" y2="646.1" stroke="#3c2c28" stroke-width="0.9" opacity="0.75"/>
<line x1="1156.9" y1="665.9" x2="1163.7" y2="640.2" stroke="#3c2c28" stroke-width="0.9" opacity="0.75"/>
<line x1="1136.1" y1="693.6" x2="1150.8" y2="671.8" stroke="#3c2c28" stroke-width="1.4" opacity="0.75"/>
<line x1="1150.8" y1="671.8" x2="1166.4" y2="662.3" stroke="#3c2c28" stroke-width="0.9" opacity="0.75"/>
<line x1="1150.8" y1="671.8" x2="1162.9" y2="661.3" stroke="#3c2c28" stroke-width="0.9" opacity="0.75"/>
<ellipse cx="700" cy="732" rx="28" ry="36" fill="#5a463e" opacity="0.28" filter="url(#pb4)"/>
<line x1="700.0" y1="796.0" x2="700.8" y2="756.0" stroke="#3c2c28" stroke-width="3.2" opacity="0.75"/>
<line x1="700.8" y1="756.0" x2="699.0" y2="733.2" stroke="#3c2c28" stroke-width="2.1" opacity="0.75"/>
<line x1="699.0" y1="733.2" x2="689.5" y2="721.8" stroke="#3c2c28" stroke-width="1.4" opacity="0.75"/>
<line x1="689.5" y1="721.8" x2="681.8" y2="716.1" stroke="#3c2c28" stroke-width="0.9" opacity="0.75"/>
<line x1="689.5" y1="721.8" x2="680.4" y2="717.9" stroke="#3c2c28" stroke-width="0.9" opacity="0.75"/>
<line x1="699.0" y1="733.2" x2="690.9" y2="720.5" stroke="#3c2c28" stroke-width="1.4" opacity="0.75"/>
<line x1="690.9" y1="720.5" x2="688.0" y2="710.5" stroke="#3c2c28" stroke-width="0.9" opacity="0.75"/>
<line x1="690.9" y1="720.5" x2="682.0" y2="716.9" stroke="#3c2c28" stroke-width="0.9" opacity="0.75"/>
<line x1="699.0" y1="733.2" x2="694.1" y2="718.7" stroke="#3c2c28" stroke-width="1.4" opacity="0.75"/>
<line x1="694.1" y1="718.7" x2="686.3" y2="713.6" stroke="#3c2c28" stroke-width="0.9" opacity="0.75"/>
<line x1="694.1" y1="718.7" x2="686.6" y2="710.8" stroke="#3c2c28" stroke-width="0.9" opacity="0.75"/>
<line x1="700.8" y1="756.0" x2="717.4" y2="733.8" stroke="#3c2c28" stroke-width="2.1" opacity="0.75"/>
<line x1="717.4" y1="733.8" x2="732.5" y2="719.7" stroke="#3c2c28" stroke-width="1.4" opacity="0.75"/>
<line x1="732.5" y1="719.7" x2="741.8" y2="708.5" stroke="#3c2c28" stroke-width="0.9" opacity="0.75"/>
<line x1="732.5" y1="719.7" x2="745.6" y2="717.3" stroke="#3c2c28" stroke-width="0.9" opacity="0.75"/>
<line x1="717.4" y1="733.8" x2="734.6" y2="729.1" stroke="#3c2c28" stroke-width="1.4" opacity="0.75"/>
<line x1="734.6" y1="729.1" x2="742.6" y2="722.5" stroke="#3c2c28" stroke-width="0.9" opacity="0.75"/>
<line x1="734.6" y1="729.1" x2="745.8" y2="724.3" stroke="#3c2c28" stroke-width="0.9" opacity="0.75"/>
<line x1="717.4" y1="733.8" x2="730.4" y2="719.1" stroke="#3c2c28" stroke-width="1.4" opacity="0.75"/>
<line x1="730.4" y1="719.1" x2="745.0" y2="716.3" stroke="#3c2c28" stroke-width="0.9" opacity="0.75"/>
<line x1="730.4" y1="719.1" x2="742.5" y2="711.4" stroke="#3c2c28" stroke-width="0.9" opacity="0.75"/>
<line x1="700.8" y1="756.0" x2="701.1" y2="727.8" stroke="#3c2c28" stroke-width="2.1" opacity="0.75"/>
<line x1="701.1" y1="727.8" x2="697.7" y2="708.6" stroke="#3c2c28" stroke-width="1.4" opacity="0.75"/>
<line x1="697.7" y1="708.6" x2="699.8" y2="696.7" stroke="#3c2c28" stroke-width="0.9" opacity="0.75"/>
<line x1="697.7" y1="708.6" x2="695.9" y2="697.1" stroke="#3c2c28" stroke-width="0.9" opacity="0.75"/>
<line x1="701.1" y1="727.8" x2="690.6" y2="710.2" stroke="#3c2c28" stroke-width="1.4" opacity="0.75"/>
<line x1="690.6" y1="710.2" x2="688.6" y2="696.7" stroke="#3c2c28" stroke-width="0.9" opacity="0.75"/>
<line x1="690.6" y1="710.2" x2="681.8" y2="702.8" stroke="#3c2c28" stroke-width="0.9" opacity="0.75"/>
<line x1="701.1" y1="727.8" x2="706.4" y2="711.3" stroke="#3c2c28" stroke-width="1.4" opacity="0.75"/>
<line x1="706.4" y1="711.3" x2="707.2" y2="700.4" stroke="#3c2c28" stroke-width="0.9" opacity="0.75"/>
<line x1="706.4" y1="711.3" x2="712.8" y2="702.0" stroke="#3c2c28" stroke-width="0.9" opacity="0.75"/>
<ellipse cx="775" cy="718" rx="35" ry="45" fill="#5a463e" opacity="0.28" filter="url(#pb4)"/>
<line x1="775.0" y1="798.0" x2="774.0" y2="748.0" stroke="#3c2c28" stroke-width="3.2" opacity="0.75"/>
<line x1="774.0" y1="748.0" x2="760.2" y2="714.9" stroke="#3c2c28" stroke-width="2.1" opacity="0.75"/>
<line x1="760.2" y1="714.9" x2="741.3" y2="704.8" stroke="#3c2c28" stroke-width="1.4" opacity="0.75"/>
<line x1="741.3" y1="704.8" x2="734.7" y2="691.4" stroke="#3c2c28" stroke-width="0.9" opacity="0.75"/>
<line x1="741.3" y1="704.8" x2="727.1" y2="699.6" stroke="#3c2c28" stroke-width="0.9" opacity="0.75"/>
<line x1="760.2" y1="714.9" x2="742.3" y2="704.3" stroke="#3c2c28" stroke-width="1.4" opacity="0.75"/>
<line x1="742.3" y1="704.3" x2="733.8" y2="694.6" stroke="#3c2c28" stroke-width="0.9" opacity="0.75"/>
<line x1="742.3" y1="704.3" x2="729.8" y2="697.4" stroke="#3c2c28" stroke-width="0.9" opacity="0.75"/>
<line x1="760.2" y1="714.9" x2="748.6" y2="695.9" stroke="#3c2c28" stroke-width="1.4" opacity="0.75"/>
<line x1="748.6" y1="695.9" x2="745.8" y2="680.5" stroke="#3c2c28" stroke-width="0.9" opacity="0.75"/>
<line x1="748.6" y1="695.9" x2="734.1" y2="687.5" stroke="#3c2c28" stroke-width="0.9" opacity="0.75"/>
<line x1="774.0" y1="748.0" x2="756.4" y2="719.4" stroke="#3c2c28" stroke-width="2.1" opacity="0.75"/>
<line x1="756.4" y1="719.4" x2="736.5" y2="712.2" stroke="#3c2c28" stroke-width="1.4" opacity="0.75"/>
<line x1="736.5" y1="712.2" x2="722.0" y2="714.4" stroke="#3c2c28" stroke-width="0.9" opacity="0.75"/>
<line x1="736.5" y1="712.2" x2="722.9" y2="712.0" stroke="#3c2c28" stroke-width="0.9" opacity="0.75"/>
<line x1="756.4" y1="719.4" x2="740.4" y2="709.0" stroke="#3c2c28" stroke-width="1.4" opacity="0.75"/>
<line x1="740.4" y1="709.0" x2="736.6" y2="696.7" stroke="#3c2c28" stroke-width="0.9" opacity="0.75"/>
<line x1="740.4" y1="709.0" x2="727.3" y2="703.0" stroke="#3c2c28" stroke-width="0.9" opacity="0.75"/>
<line x1="756.4" y1="719.4" x2="757.7" y2="698.6" stroke="#3c2c28" stroke-width="1.4" opacity="0.75"/>
<line x1="757.7" y1="698.6" x2="768.7" y2="687.0" stroke="#3c2c28" stroke-width="0.9" opacity="0.75"/>
<line x1="757.7" y1="698.6" x2="753.2" y2="687.9" stroke="#3c2c28" stroke-width="0.9" opacity="0.75"/>
<line x1="774.0" y1="748.0" x2="774.0" y2="716.6" stroke="#3c2c28" stroke-width="2.1" opacity="0.75"/>
<line x1="774.0" y1="716.6" x2="767.2" y2="700.7" stroke="#3c2c28" stroke-width="1.4" opacity="0.75"/>
<line x1="767.2" y1="700.7" x2="755.0" y2="694.4" stroke="#3c2c28" stroke-width="0.9" opacity="0.75"/>
<line x1="767.2" y1="700.7" x2="767.4" y2="689.4" stroke="#3c2c28" stroke-width="0.9" opacity="0.75"/>
<line x1="774.0" y1="716.6" x2="770.7" y2="692.2" stroke="#3c2c28" stroke-width="1.4" opacity="0.75"/>
<line x1="770.7" y1="692.2" x2="762.3" y2="676.3" stroke="#3c2c28" stroke-width="0.9" opacity="0.75"/>
<line x1="770.7" y1="692.2" x2="765.6" y2="677.0" stroke="#3c2c28" stroke-width="0.9" opacity="0.75"/>
<line x1="774.0" y1="716.6" x2="767.9" y2="697.5" stroke="#3c2c28" stroke-width="1.4" opacity="0.75"/>
<line x1="767.9" y1="697.5" x2="759.7" y2="684.4" stroke="#3c2c28" stroke-width="0.9" opacity="0.75"/>
<line x1="767.9" y1="697.5" x2="764.4" y2="683.2" stroke="#3c2c28" stroke-width="0.9" opacity="0.75"/>
<ellipse cx="960" cy="732" rx="31" ry="40" fill="#5a463e" opacity="0.28" filter="url(#pb4)"/>
<line x1="960.0" y1="804.0" x2="958.9" y2="759.0" stroke="#3c2c28" stroke-width="3.2" opacity="0.75"/>
<line x1="958.9" y1="759.0" x2="939.6" y2="736.6" stroke="#3c2c28" stroke-width="2.1" opacity="0.75"/>
<line x1="939.6" y1="736.6" x2="924.6" y2="723.3" stroke="#3c2c28" stroke-width="1.4" opacity="0.75"/>
<line x1="924.6" y1="723.3" x2="915.7" y2="714.5" stroke="#3c2c28" stroke-width="0.9" opacity="0.75"/>
<line x1="924.6" y1="723.3" x2="910.1" y2="720.7" stroke="#3c2c28" stroke-width="0.9" opacity="0.75"/>
<line x1="939.6" y1="736.6" x2="931.7" y2="719.0" stroke="#3c2c28" stroke-width="1.4" opacity="0.75"/>
<line x1="931.7" y1="719.0" x2="924.0" y2="710.5" stroke="#3c2c28" stroke-width="0.9" opacity="0.75"/>
<line x1="931.7" y1="719.0" x2="934.9" y2="707.1" stroke="#3c2c28" stroke-width="0.9" opacity="0.75"/>
<line x1="939.6" y1="736.6" x2="930.3" y2="721.3" stroke="#3c2c28" stroke-width="1.4" opacity="0.75"/>
<line x1="930.3" y1="721.3" x2="929.6" y2="707.6" stroke="#3c2c28" stroke-width="0.9" opacity="0.75"/>
<line x1="930.3" y1="721.3" x2="926.5" y2="708.3" stroke="#3c2c28" stroke-width="0.9" opacity="0.75"/>
<line x1="958.9" y1="759.0" x2="962.1" y2="731.9" stroke="#3c2c28" stroke-width="2.1" opacity="0.75"/>
<line x1="962.1" y1="731.9" x2="964.7" y2="713.1" stroke="#3c2c28" stroke-width="1.4" opacity="0.75"/>
<line x1="964.7" y1="713.1" x2="968.0" y2="703.0" stroke="#3c2c28" stroke-width="0.9" opacity="0.75"/>
<line x1="964.7" y1="713.1" x2="965.8" y2="702.0" stroke="#3c2c28" stroke-width="0.9" opacity="0.75"/>
<line x1="962.1" y1="731.9" x2="961.7" y2="710.1" stroke="#3c2c28" stroke-width="1.4" opacity="0.75"/>
<line x1="961.7" y1="710.1" x2="953.0" y2="695.8" stroke="#3c2c28" stroke-width="0.9" opacity="0.75"/>
<line x1="961.7" y1="710.1" x2="970.3" y2="697.2" stroke="#3c2c28" stroke-width="0.9" opacity="0.75"/>
<line x1="962.1" y1="731.9" x2="971.3" y2="719.4" stroke="#3c2c28" stroke-width="1.4" opacity="0.75"/>
<line x1="971.3" y1="719.4" x2="974.5" y2="708.6" stroke="#3c2c28" stroke-width="0.9" opacity="0.75"/>
<line x1="971.3" y1="719.4" x2="974.3" y2="710.6" stroke="#3c2c28" stroke-width="0.9" opacity="0.75"/>
<line x1="958.9" y1="759.0" x2="947.5" y2="731.0" stroke="#3c2c28" stroke-width="2.1" opacity="0.75"/>
<line x1="947.5" y1="731.0" x2="950.1" y2="708.4" stroke="#3c2c28" stroke-width="1.4" opacity="0.75"/>
<line x1="950.1" y1="708.4" x2="953.1" y2="691.8" stroke="#3c2c28" stroke-width="0.9" opacity="0.75"/>
<line x1="950.1" y1="708.4" x2="943.4" y2="697.2" stroke="#3c2c28" stroke-width="0.9" opacity="0.75"/>
<line x1="947.5" y1="731.0" x2="938.3" y2="715.5" stroke="#3c2c28" stroke-width="1.4" opacity="0.75"/>
<line x1="938.3" y1="715.5" x2="933.2" y2="702.7" stroke="#3c2c28" stroke-width="0.9" opacity="0.75"/>
<line x1="938.3" y1="715.5" x2="938.1" y2="702.8" stroke="#3c2c28" stroke-width="0.9" opacity="0.75"/>
<line x1="947.5" y1="731.0" x2="937.9" y2="717.2" stroke="#3c2c28" stroke-width="1.4" opacity="0.75"/>
<line x1="937.9" y1="717.2" x2="933.6" y2="707.6" stroke="#3c2c28" stroke-width="0.9" opacity="0.75"/>
<line x1="937.9" y1="717.2" x2="934.7" y2="708.0" stroke="#3c2c28" stroke-width="0.9" opacity="0.75"/>
<ellipse cx="1040" cy="728" rx="35" ry="45" fill="#5a463e" opacity="0.28" filter="url(#pb4)"/>
<line x1="1040.0" y1="808.0" x2="1040.9" y2="758.0" stroke="#3c2c28" stroke-width="3.2" opacity="0.75"/>
<line x1="1040.9" y1="758.0" x2="1028.2" y2="728.7" stroke="#3c2c28" stroke-width="2.1" opacity="0.75"/>
<line x1="1028.2" y1="728.7" x2="1024.7" y2="703.4" stroke="#3c2c28" stroke-width="1.4" opacity="0.75"/>
<line x1="1024.7" y1="703.4" x2="1018.5" y2="685.7" stroke="#3c2c28" stroke-width="0.9" opacity="0.75"/>
<line x1="1024.7" y1="703.4" x2="1029.7" y2="687.4" stroke="#3c2c28" stroke-width="0.9" opacity="0.75"/>
<line x1="1028.2" y1="728.7" x2="1025.7" y2="708.5" stroke="#3c2c28" stroke-width="1.4" opacity="0.75"/>
<line x1="1025.7" y1="708.5" x2="1025.6" y2="696.1" stroke="#3c2c28" stroke-width="0.9" opacity="0.75"/>
<line x1="1025.7" y1="708.5" x2="1023.0" y2="694.1" stroke="#3c2c28" stroke-width="0.9" opacity="0.75"/>
<line x1="1028.2" y1="728.7" x2="1010.2" y2="717.5" stroke="#3c2c28" stroke-width="1.4" opacity="0.75"/>
<line x1="1010.2" y1="717.5" x2="996.7" y2="714.2" stroke="#3c2c28" stroke-width="0.9" opacity="0.75"/>
<line x1="1010.2" y1="717.5" x2="995.3" y2="714.6" stroke="#3c2c28" stroke-width="0.9" opacity="0.75"/>
<line x1="1040.9" y1="758.0" x2="1034.2" y2="725.9" stroke="#3c2c28" stroke-width="2.1" opacity="0.75"/>
<line x1="1034.2" y1="725.9" x2="1041.2" y2="702.2" stroke="#3c2c28" stroke-width="1.4" opacity="0.75"/>
<line x1="1041.2" y1="702.2" x2="1047.1" y2="686.0" stroke="#3c2c28" stroke-width="0.9" opacity="0.75"/>
<line x1="1041.2" y1="702.2" x2="1050.2" y2="689.0" stroke="#3c2c28" stroke-width="0.9" opacity="0.75"/>
<line x1="1034.2" y1="725.9" x2="1033.9" y2="707.7" stroke="#3c2c28" stroke-width="1.4" opacity="0.75"/>
<line x1="1033.9" y1="707.7" x2="1031.4" y2="695.8" stroke="#3c2c28" stroke-width="0.9" opacity="0.75"/>
<line x1="1033.9" y1="707.7" x2="1042.6" y2="696.2" stroke="#3c2c28" stroke-width="0.9" opacity="0.75"/>
<line x1="1034.2" y1="725.9" x2="1045.5" y2="705.0" stroke="#3c2c28" stroke-width="1.4" opacity="0.75"/>
<line x1="1045.5" y1="705.0" x2="1051.2" y2="692.8" stroke="#3c2c28" stroke-width="0.9" opacity="0.75"/>
<line x1="1045.5" y1="705.0" x2="1049.8" y2="691.4" stroke="#3c2c28" stroke-width="0.9" opacity="0.75"/>
<line x1="1040.9" y1="758.0" x2="1047.5" y2="729.2" stroke="#3c2c28" stroke-width="2.1" opacity="0.75"/>
<line x1="1047.5" y1="729.2" x2="1058.7" y2="711.5" stroke="#3c2c28" stroke-width="1.4" opacity="0.75"/>
<line x1="1058.7" y1="711.5" x2="1069.5" y2="704.6" stroke="#3c2c28" stroke-width="0.9" opacity="0.75"/>
<line x1="1058.7" y1="711.5" x2="1068.8" y2="706.0" stroke="#3c2c28" stroke-width="0.9" opacity="0.75"/>
<line x1="1047.5" y1="729.2" x2="1053.0" y2="709.7" stroke="#3c2c28" stroke-width="1.4" opacity="0.75"/>
<line x1="1053.0" y1="709.7" x2="1060.3" y2="700.6" stroke="#3c2c28" stroke-width="0.9" opacity="0.75"/>
<line x1="1053.0" y1="709.7" x2="1049.5" y2="698.4" stroke="#3c2c28" stroke-width="0.9" opacity="0.75"/>
<line x1="1047.5" y1="729.2" x2="1040.0" y2="711.4" stroke="#3c2c28" stroke-width="1.4" opacity="0.75"/>
<line x1="1040.0" y1="711.4" x2="1034.8" y2="700.9" stroke="#3c2c28" stroke-width="0.9" opacity="0.75"/>
<line x1="1040.0" y1="711.4" x2="1028.7" y2="702.0" stroke="#3c2c28" stroke-width="0.9" opacity="0.75"/></g></g>
<g clip-path="url(#sarclip)"><g filter="url(#sarf)"><g filter="url(#sb6)">
<rect x="2060.0" y="-20.0" width="1110.0" height="880.0" fill="#6a6a6a"/>
<rect x="2088.0" y="4.0" width="135.0" height="226.0" fill="#6e6e6e"/>
<rect x="2690.0" y="-20.0" width="480.0" height="248.0" fill="#4b4b4b"/>
<rect x="2880.0" y="-20.0" width="290.0" height="248.0" fill="#3e3e3e"/>
<rect x="2913.0" y="228.0" width="257.0" height="632.0" fill="#323232"/>
<rect x="2284.0" y="341.0" width="254.0" height="241.0" fill="#636363"/>
<rect x="2088.0" y="228.0" width="135.0" height="99.0" fill="#777777"/>
<rect x="2060.0" y="596.0" width="167.0" height="95.0" fill="#7c7c7c"/>
<rect x="2088.0" y="330.0" width="112.0" height="260.0" fill="#707070"/>
<rect x="2650.0" y="341.0" width="145.0" height="249.0" fill="#818181"/>
<rect x="2795.0" y="337.0" width="118.0" height="253.0" fill="#858585"/>
<rect x="2795.0" y="228.0" width="118.0" height="109.0" fill="#7a7a7a"/>
<rect x="2738.0" y="408.0" width="74.0" height="110.0" fill="#616161"/>
<rect x="2671.0" y="334.0" width="233.0" height="30.0" fill="#979797"/>
<rect x="2671.0" y="568.0" width="233.0" height="16.0" fill="#8b8b8b"/>
<rect x="2795.0" y="590.0" width="130.0" height="110.0" fill="#6e6e6e"/>
<rect x="2690.0" y="228.0" width="105.0" height="98.0" fill="#686868"/>
<rect x="2700.0" y="596.0" width="95.0" height="97.0" fill="#686868"/>
<ellipse cx="2428.0" cy="91.0" rx="40.0" ry="38.0" fill="#3e3e3e"/>
<ellipse cx="2262.0" cy="62.0" rx="22.0" ry="30.0" fill="#535353"/>
<ellipse cx="2988.0" cy="82.0" rx="40.0" ry="40.0" fill="#313131"/>
<ellipse cx="2428.0" cy="460.0" rx="22.0" ry="70.0" fill="#5a5a5a"/>
<rect x="2690.0" y="198.0" width="480.0" height="30.0" fill="#313131"/>
<rect x="2600.0" y="693.0" width="570.0" height="29.0" fill="#313131"/>
<rect x="2913.0" y="578.0" width="257.0" height="29.0" fill="#2b2b2b"/>
<rect x="2913.0" y="722.0" width="257.0" height="42.0" fill="#2d2d2d"/>
<rect x="2913.0" y="316.0" width="257.0" height="21.0" fill="#2b2b2b"/>
<rect x="2458.0" y="705.0" width="62.0" height="83.0" fill="#4e4e4e"/>
<rect x="2600.0" y="722.0" width="200.0" height="114.0" fill="#515151"/>
<rect x="2795.0" y="764.0" width="375.0" height="96.0" fill="#484848"/>
<rect x="2600.0" y="198.0" width="100.0" height="30.0" fill="#515151"/>
<rect x="2284.0" y="341.0" width="72.0" height="241.0" fill="#5e5e5e"/>
<rect x="2440.0" y="326.0" width="100.0" height="14.0" fill="#555555"/>
<rect x="2611.0" y="326.0" width="559.0" height="13.0" fill="#353535"/>
<rect x="2290.0" y="705.0" width="60.0" height="131.0" fill="#5e5e5e"/>
<rect x="2981.0" y="437.0" width="64.0" height="36.0" fill="#5e5e5e"/>
<rect x="2221.0" y="224.0" width="473.0" height="104.0" fill="#959595"/>
<rect x="2225.0" y="588.0" width="469.0" height="112.0" fill="#959595"/>
<rect x="2534.0" y="342.0" width="126.0" height="246.0" fill="#959595"/>
<rect x="2240.0" y="123.0" width="60.0" height="713.0" fill="#838383" opacity="0.8"/>
</g>
<g filter="url(#sb3)">
<rect x="2223.0" y="228.0" width="369.0" height="98.0" fill="#f9f9f9"/>
<rect x="2227.0" y="595.0" width="367.0" height="97.0" fill="#f9f9f9"/>
<rect x="2538.0" y="339.0" width="74.0" height="247.0" fill="#f9f9f9"/>
<rect x="2592.0" y="228.0" width="98.0" height="98.0" fill="#a4a4a4"/>
<rect x="2594.0" y="595.0" width="97.0" height="97.0" fill="#a4a4a4"/>
<rect x="2612.0" y="341.0" width="48.0" height="239.0" fill="#a8a8a8"/>
<rect x="2660.0" y="341.0" width="40.0" height="234.0" fill="#909090"/>
<rect x="2532.0" y="327.5" width="268.0" height="10.5" fill="#454545"/>
<rect x="2225.0" y="219.0" width="215.0" height="9.0" fill="#afafaf"/>
<rect x="2440.0" y="221.0" width="250.0" height="7.0" fill="#8b8b8b"/>
<rect x="2225.0" y="326.0" width="303.0" height="13.0" fill="#ababab"/>
<rect x="2229.0" y="584.0" width="311.0" height="11.0" fill="#afafaf"/>
<rect x="2229.0" y="692.0" width="462.0" height="13.0" fill="#ababab"/>
</g>
<rect x="2649.3" y="292.3" width="6.0" height="26.7" fill="#eaeaea"/>
<rect x="2676.9" y="232.4" width="4.3" height="26.8" fill="#e7e7e7"/>
<rect x="2674.9" y="239.5" width="4.3" height="11.4" fill="#e3e3e3"/>
<rect x="2644.8" y="231.1" width="3.1" height="12.1" fill="#efefef"/>
<rect x="2662.4" y="243.4" width="6.0" height="9.1" fill="#e6e6e6"/>
<rect x="2603.7" y="230.1" width="6.4" height="10.6" fill="#d5d5d5"/>
<rect x="2682.4" y="303.3" width="3.4" height="20.7" fill="#e3e3e3"/>
<rect x="2654.4" y="247.2" width="6.7" height="21.2" fill="#f1f1f1"/>
<rect x="2674.2" y="255.1" width="3.8" height="9.7" fill="#d1d1d1"/>
<rect x="2598.0" y="255.3" width="5.0" height="6.1" fill="#e8e8e8"/>
<rect x="2623.1" y="256.0" width="6.1" height="16.6" fill="#d9d9d9"/>
<rect x="2636.3" y="289.2" width="2.3" height="27.5" fill="#c9c9c9"/>
<rect x="2661.0" y="301.0" width="2.1" height="23.0" fill="#dcdcdc"/>
<rect x="2645.2" y="230.8" width="2.2" height="10.0" fill="#f1f1f1"/>
<rect x="2610.1" y="293.5" width="6.6" height="26.7" fill="#dbdbdb"/>
<rect x="2624.6" y="274.1" width="5.9" height="8.4" fill="#eaeaea"/>
<rect x="2665.3" y="302.2" width="2.2" height="21.8" fill="#cecece"/>
<rect x="2623.3" y="281.3" width="6.6" height="13.5" fill="#f0f0f0"/>
<rect x="2642.2" y="256.2" width="3.6" height="9.9" fill="#cdcdcd"/>
<rect x="2605.7" y="287.9" width="7.0" height="9.6" fill="#cbcbcb"/>
<rect x="2682.8" y="274.8" width="4.0" height="11.2" fill="#e5e5e5"/>
<rect x="2668.0" y="268.3" width="4.1" height="7.2" fill="#efefef"/>
<rect x="2595.0" y="271.5" width="6.2" height="8.9" fill="#eaeaea"/>
<rect x="2679.4" y="283.0" width="5.9" height="8.3" fill="#dfdfdf"/>
<rect x="2605.7" y="301.0" width="3.5" height="16.0" fill="#f2f2f2"/>
<rect x="2670.4" y="312.0" width="4.3" height="12.0" fill="#eaeaea"/>
<rect x="2636.1" y="254.4" width="4.0" height="9.2" fill="#dcdcdc"/>
<rect x="2682.9" y="310.6" width="5.1" height="13.4" fill="#dbdbdb"/>
<rect x="2600.2" y="252.9" width="5.9" height="25.1" fill="#dcdcdc"/>
<rect x="2664.3" y="295.1" width="5.5" height="20.6" fill="#ebebeb"/>
<rect x="2625.4" y="289.2" width="3.4" height="16.7" fill="#ebebeb"/>
<rect x="2655.6" y="254.7" width="6.7" height="20.3" fill="#e4e4e4"/>
<rect x="2593.1" y="275.9" width="3.3" height="20.8" fill="#e0e0e0"/>
<rect x="2667.1" y="284.4" width="6.0" height="13.7" fill="#e7e7e7"/>
<rect x="2659.9" y="299.6" width="3.8" height="24.4" fill="#eeeeee"/>
<rect x="2655.3" y="312.0" width="6.8" height="12.0" fill="#e3e3e3"/>
<rect x="2607.3" y="300.3" width="6.7" height="16.5" fill="#e8e8e8"/>
<rect x="2658.2" y="291.3" width="2.9" height="23.2" fill="#e4e4e4"/>
<rect x="2653.2" y="265.3" width="5.1" height="23.0" fill="#e6e6e6"/>
<rect x="2658.3" y="232.3" width="2.8" height="15.7" fill="#e7e7e7"/>
<rect x="2612.2" y="287.6" width="5.2" height="6.9" fill="#e0e0e0"/>
<rect x="2612.8" y="234.5" width="2.7" height="13.0" fill="#d3d3d3"/>
<rect x="2609.8" y="233.0" width="4.3" height="14.4" fill="#e6e6e6"/>
<rect x="2646.3" y="250.0" width="6.5" height="6.0" fill="#dddddd"/>
<rect x="2617.6" y="264.4" width="2.6" height="24.3" fill="#dcdcdc"/>
<rect x="2595.3" y="281.5" width="2.5" height="18.0" fill="#dbdbdb"/>
<rect x="2645.4" y="310.5" width="6.1" height="13.5" fill="#ececec"/>
<rect x="2651.1" y="261.0" width="2.7" height="19.1" fill="#e4e4e4"/>
<rect x="2680.1" y="311.3" width="5.0" height="12.7" fill="#efefef"/>
<rect x="2592.1" y="239.1" width="4.8" height="19.5" fill="#d0d0d0"/>
<rect x="2649.9" y="304.9" width="3.9" height="15.5" fill="#d5d5d5"/>
<rect x="2618.8" y="311.7" width="3.9" height="12.3" fill="#efefef"/>
<rect x="2646.8" y="251.8" width="6.9" height="16.9" fill="#dedede"/>
<rect x="2621.4" y="312.7" width="4.5" height="11.3" fill="#e0e0e0"/>
<rect x="2603.2" y="282.2" width="4.2" height="12.4" fill="#ebebeb"/>
<rect x="2669.2" y="598.1" width="4.7" height="12.0" fill="#f0f0f0"/>
<rect x="2665.2" y="617.4" width="3.3" height="9.4" fill="#f1f1f1"/>
<rect x="2620.7" y="647.5" width="4.4" height="20.2" fill="#e5e5e5"/>
<rect x="2661.7" y="606.8" width="5.8" height="12.6" fill="#e3e3e3"/>
<rect x="2624.6" y="621.6" width="4.6" height="16.2" fill="#dcdcdc"/>
<rect x="2661.8" y="646.0" width="2.2" height="11.6" fill="#e0e0e0"/>
<rect x="2677.4" y="670.7" width="4.7" height="6.3" fill="#ebebeb"/>
<rect x="2632.9" y="644.8" width="5.5" height="19.9" fill="#e1e1e1"/>
<rect x="2677.0" y="629.0" width="4.0" height="24.7" fill="#d4d4d4"/>
<rect x="2621.0" y="665.9" width="2.3" height="24.1" fill="#e8e8e8"/>
<rect x="2633.4" y="620.8" width="5.9" height="26.0" fill="#d1d1d1"/>
<rect x="2637.5" y="642.6" width="4.5" height="13.3" fill="#d1d1d1"/>
<rect x="2647.3" y="664.4" width="2.3" height="11.1" fill="#ededed"/>
<rect x="2666.0" y="652.1" width="2.1" height="21.9" fill="#f1f1f1"/>
<rect x="2684.8" y="655.2" width="2.2" height="24.5" fill="#d5d5d5"/>
<rect x="2652.8" y="676.0" width="5.6" height="9.0" fill="#d8d8d8"/>
<rect x="2677.5" y="609.4" width="5.1" height="15.1" fill="#d2d2d2"/>
<rect x="2650.6" y="600.6" width="2.5" height="14.3" fill="#cccccc"/>
<rect x="2599.2" y="644.7" width="5.7" height="25.3" fill="#d0d0d0"/>
<rect x="2633.3" y="623.1" width="5.0" height="16.8" fill="#f0f0f0"/>
<rect x="2628.1" y="601.6" width="5.5" height="9.3" fill="#e6e6e6"/>
<rect x="2640.0" y="672.6" width="4.8" height="17.4" fill="#d7d7d7"/>
<rect x="2644.2" y="618.1" width="5.8" height="17.4" fill="#d0d0d0"/>
<rect x="2615.3" y="627.8" width="5.7" height="9.9" fill="#e9e9e9"/>
<rect x="2653.6" y="604.1" width="5.3" height="8.0" fill="#d0d0d0"/>
<rect x="2648.1" y="616.8" width="6.4" height="16.6" fill="#dadada"/>
<rect x="2666.5" y="599.4" width="5.6" height="7.2" fill="#d1d1d1"/>
<rect x="2680.6" y="653.5" width="3.1" height="8.6" fill="#f1f1f1"/>
<rect x="2654.5" y="665.1" width="2.7" height="19.7" fill="#dbdbdb"/>
<rect x="2615.4" y="624.7" width="5.1" height="13.7" fill="#dddddd"/>
<rect x="2606.4" y="666.0" width="5.2" height="23.7" fill="#dfdfdf"/>
<rect x="2671.5" y="640.0" width="5.0" height="18.6" fill="#eaeaea"/>
<rect x="2630.0" y="605.1" width="2.2" height="10.5" fill="#cacaca"/>
<rect x="2674.9" y="636.9" width="5.8" height="6.0" fill="#e0e0e0"/>
<rect x="2675.0" y="648.4" width="4.1" height="16.2" fill="#cecece"/>
<rect x="2608.1" y="610.2" width="3.9" height="14.5" fill="#eeeeee"/>
<rect x="2607.8" y="618.1" width="3.4" height="9.6" fill="#d8d8d8"/>
<rect x="2615.4" y="637.0" width="2.2" height="26.3" fill="#dcdcdc"/>
<rect x="2679.4" y="654.1" width="5.4" height="16.4" fill="#f0f0f0"/>
<rect x="2604.7" y="652.5" width="3.5" height="20.8" fill="#eaeaea"/>
<rect x="2608.9" y="613.7" width="2.1" height="11.1" fill="#cdcdcd"/>
<rect x="2630.5" y="677.8" width="3.8" height="12.2" fill="#e0e0e0"/>
<rect x="2619.8" y="657.8" width="5.6" height="9.6" fill="#d6d6d6"/>
<rect x="2655.2" y="675.1" width="5.2" height="14.9" fill="#f1f1f1"/>
<rect x="2594.6" y="602.1" width="5.9" height="15.0" fill="#cbcbcb"/>
<rect x="2643.9" y="679.1" width="4.6" height="10.9" fill="#cecece"/>
<rect x="2600.5" y="671.6" width="4.5" height="18.4" fill="#cbcbcb"/>
<rect x="2616.2" y="601.2" width="4.0" height="7.3" fill="#d7d7d7"/>
<rect x="2631.1" y="622.4" width="2.3" height="6.8" fill="#f1f1f1"/>
<rect x="2610.3" y="639.2" width="4.0" height="17.7" fill="#cdcdcd"/>
<rect x="2622.6" y="606.0" width="4.7" height="26.3" fill="#e5e5e5"/>
<rect x="2672.0" y="614.8" width="2.1" height="17.9" fill="#e1e1e1"/>
<rect x="2646.0" y="628.3" width="5.1" height="22.0" fill="#efefef"/>
<rect x="2622.0" y="634.3" width="6.1" height="10.9" fill="#cfcfcf"/>
<rect x="2622.4" y="604.3" width="5.9" height="24.0" fill="#d9d9d9"/>
<rect x="2618.5" y="360.6" width="3.0" height="8.0" fill="#dedede"/>
<rect x="2640.8" y="399.6" width="2.2" height="22.8" fill="#cbcbcb"/>
<rect x="2622.0" y="409.4" width="3.5" height="8.4" fill="#dedede"/>
<rect x="2627.7" y="520.8" width="4.2" height="27.5" fill="#e7e7e7"/>
<rect x="2650.0" y="478.4" width="3.8" height="25.6" fill="#e7e7e7"/>
<rect x="2659.7" y="515.0" width="4.8" height="12.4" fill="#ececec"/>
<rect x="2631.1" y="372.1" width="2.3" height="10.1" fill="#d7d7d7"/>
<rect x="2645.8" y="409.2" width="2.3" height="24.3" fill="#e4e4e4"/>
<rect x="2613.4" y="353.1" width="2.5" height="14.6" fill="#eeeeee"/>
<rect x="2659.5" y="487.3" width="2.9" height="16.3" fill="#dcdcdc"/>
<rect x="2628.5" y="344.0" width="4.3" height="25.8" fill="#eaeaea"/>
<rect x="2616.8" y="467.7" width="2.7" height="23.0" fill="#dfdfdf"/>
<rect x="2658.9" y="531.0" width="2.5" height="13.6" fill="#efefef"/>
<rect x="2635.0" y="444.8" width="3.8" height="24.4" fill="#f0f0f0"/>
<rect x="2638.6" y="572.7" width="4.4" height="8.5" fill="#ececec"/>
<rect x="2633.0" y="353.5" width="5.9" height="6.8" fill="#e4e4e4"/>
<rect x="2636.1" y="551.7" width="3.6" height="11.2" fill="#d8d8d8"/>
<rect x="2622.1" y="475.4" width="3.4" height="24.0" fill="#d6d6d6"/>
<rect x="2629.6" y="400.3" width="5.9" height="26.2" fill="#ededed"/>
<rect x="2642.9" y="436.8" width="2.6" height="26.0" fill="#e1e1e1"/>
<rect x="2613.9" y="381.5" width="2.4" height="23.2" fill="#efefef"/>
<rect x="2622.0" y="531.5" width="3.3" height="22.4" fill="#eeeeee"/>
<rect x="2643.2" y="532.3" width="3.5" height="6.2" fill="#e2e2e2"/>
<rect x="2641.3" y="385.2" width="3.6" height="13.6" fill="#c9c9c9"/>
<rect x="2627.6" y="432.5" width="3.9" height="22.9" fill="#dddddd"/>
<rect x="2661.1" y="535.9" width="5.7" height="22.6" fill="#e8e8e8"/>
<rect x="2638.8" y="531.9" width="3.5" height="20.2" fill="#e8e8e8"/>
<rect x="2638.1" y="408.9" width="2.3" height="8.1" fill="#dbdbdb"/>
<rect x="2641.0" y="522.5" width="4.9" height="13.4" fill="#f0f0f0"/>
<rect x="2625.7" y="512.1" width="2.3" height="24.1" fill="#e8e8e8"/>
<rect x="2659.8" y="555.4" width="4.8" height="26.1" fill="#eaeaea"/>
<rect x="2642.5" y="390.9" width="4.1" height="27.5" fill="#d6d6d6"/>
<rect x="2660.7" y="471.0" width="3.6" height="6.1" fill="#dddddd"/>
<rect x="2620.9" y="497.1" width="5.6" height="27.8" fill="#e6e6e6"/>
<rect x="2631.3" y="367.0" width="4.8" height="19.3" fill="#e9e9e9"/>
<rect x="2630.7" y="552.9" width="2.9" height="13.3" fill="#d7d7d7"/>
<rect x="2643.1" y="555.4" width="2.7" height="21.2" fill="#ebebeb"/>
<rect x="2623.2" y="356.0" width="4.3" height="25.9" fill="#eeeeee"/>
<rect x="2648.4" y="440.6" width="3.7" height="18.7" fill="#efefef"/>
<rect x="2627.1" y="408.1" width="4.4" height="29.2" fill="#d3d3d3"/>
<rect x="2613.5" y="368.6" width="4.3" height="20.5" fill="#d3d3d3"/>
<rect x="2621.5" y="483.1" width="4.6" height="22.6" fill="#eaeaea"/>
<rect x="2615.1" y="456.8" width="5.3" height="29.0" fill="#dadada"/>
<rect x="2654.5" y="495.2" width="5.7" height="11.5" fill="#e9e9e9"/>
<rect x="2654.0" y="454.9" width="2.4" height="10.6" fill="#d1d1d1"/>
<rect x="2616.6" y="377.3" width="4.5" height="8.5" fill="#ebebeb"/>
<rect x="2648.8" y="536.1" width="5.2" height="23.1" fill="#f0f0f0"/>
<rect x="2659.8" y="490.4" width="5.9" height="8.5" fill="#cecece"/>
<rect x="2615.2" y="390.3" width="3.5" height="17.0" fill="#e8e8e8"/>
<rect x="2649.1" y="361.0" width="3.6" height="19.0" fill="#dcdcdc"/>
<rect x="2617.9" y="483.7" width="3.5" height="22.4" fill="#e1e1e1"/>
<rect x="2660.1" y="566.9" width="2.3" height="19.1" fill="#e9e9e9"/>
<rect x="2626.8" y="368.9" width="3.9" height="14.5" fill="#eaeaea"/>
<rect x="2657.9" y="432.3" width="3.2" height="18.0" fill="#e9e9e9"/>
<rect x="2651.5" y="478.6" width="3.2" height="14.1" fill="#ededed"/>
<rect x="2638.0" y="353.0" width="3.7" height="11.7" fill="#e7e7e7"/>
<rect x="2615.7" y="405.8" width="2.4" height="17.5" fill="#f1f1f1"/>
<rect x="2639.1" y="433.3" width="5.7" height="8.2" fill="#dbdbdb"/>
<rect x="2652.5" y="342.2" width="5.1" height="14.7" fill="#c9c9c9"/>
<rect x="2624.5" y="450.5" width="3.5" height="18.4" fill="#cbcbcb"/>
<rect x="2622.9" y="573.9" width="3.8" height="12.1" fill="#cdcdcd"/>
<rect x="2626.0" y="569.2" width="4.7" height="16.8" fill="#cbcbcb"/>
<rect x="2631.6" y="527.0" width="3.7" height="20.2" fill="#efefef"/>
<rect x="2644.3" y="493.0" width="2.1" height="6.6" fill="#ebebeb"/>
<rect x="2632.7" y="549.9" width="5.3" height="28.0" fill="#dcdcdc"/>
<rect x="2662.0" y="521.7" width="5.6" height="9.6" fill="#ebebeb"/>
<rect x="2633.1" y="573.3" width="6.0" height="11.2" fill="#dedede"/>
<rect x="2625.5" y="453.3" width="3.1" height="22.0" fill="#cfcfcf"/>
<rect x="2620.5" y="450.4" width="2.3" height="15.1" fill="#efefef"/>
<rect x="2656.3" y="388.0" width="2.1" height="25.9" fill="#f1f1f1"/>
<rect x="2684.0" y="373.6" width="2.7" height="15.0" fill="#dddddd"/>
<rect x="2661.2" y="385.2" width="3.3" height="7.2" fill="#d8d8d8"/>
<rect x="2674.9" y="526.3" width="2.5" height="10.2" fill="#dedede"/>
<rect x="2688.1" y="362.5" width="2.3" height="11.7" fill="#cacaca"/>
<rect x="2674.7" y="455.2" width="3.7" height="15.6" fill="#c3c3c3"/>
<rect x="2682.7" y="403.9" width="3.6" height="12.8" fill="#bdbdbd"/>
<rect x="2679.2" y="509.7" width="2.0" height="13.3" fill="#cbcbcb"/>
<rect x="2680.2" y="486.9" width="4.4" height="4.7" fill="#cfcfcf"/>
<rect x="2661.5" y="433.1" width="3.0" height="4.3" fill="#c6c6c6"/>
<rect x="2678.0" y="497.5" width="4.8" height="8.4" fill="#d0d0d0"/>
<rect x="2688.5" y="565.0" width="4.8" height="15.9" fill="#c6c6c6"/>
<rect x="2666.7" y="563.7" width="2.2" height="9.4" fill="#d7d7d7"/>
<rect x="2681.1" y="433.9" width="4.8" height="7.6" fill="#d1d1d1"/>
<rect x="2693.2" y="374.0" width="3.1" height="9.9" fill="#d1d1d1"/>
<rect x="2668.3" y="449.5" width="2.2" height="5.1" fill="#c8c8c8"/>
<rect x="2665.8" y="572.2" width="2.8" height="7.3" fill="#d9d9d9"/>
<rect x="2689.6" y="403.6" width="4.5" height="11.5" fill="#cacaca"/>
<rect x="2685.2" y="399.7" width="2.8" height="14.5" fill="#cccccc"/>
<rect x="2695.9" y="383.3" width="2.4" height="4.6" fill="#d7d7d7"/>
<rect x="2682.4" y="343.3" width="2.1" height="13.9" fill="#cfcfcf"/>
<rect x="2694.9" y="350.5" width="3.8" height="5.4" fill="#d7d7d7"/>
<rect x="2684.5" y="487.3" width="2.7" height="15.4" fill="#bcbcbc"/>
<rect x="2662.6" y="504.5" width="2.3" height="4.8" fill="#cdcdcd"/>
<rect x="2686.0" y="554.2" width="4.2" height="4.8" fill="#d4d4d4"/>
<rect x="2693.7" y="369.8" width="4.3" height="7.1" fill="#c6c6c6"/>
<rect x="2660.1" y="522.2" width="3.5" height="14.8" fill="#cdcdcd"/>
<rect x="2666.2" y="392.7" width="2.8" height="15.4" fill="#c1c1c1"/>
<rect x="2663.5" y="425.3" width="2.2" height="9.1" fill="#d3d3d3"/>
<rect x="2686.0" y="382.8" width="2.4" height="9.9" fill="#d6d6d6"/>
<rect x="2677.9" y="478.0" width="4.7" height="5.7" fill="#c5c5c5"/>
<rect x="2679.8" y="469.1" width="4.7" height="10.7" fill="#d5d5d5"/>
<rect x="2676.8" y="528.4" width="4.5" height="7.5" fill="#bcbcbc"/>
<rect x="2670.4" y="426.5" width="4.7" height="7.2" fill="#d4d4d4"/>
<rect x="2685.6" y="569.5" width="2.3" height="13.2" fill="#c8c8c8"/>
<rect x="2664.1" y="492.1" width="4.5" height="11.0" fill="#b8b8b8"/>
<rect x="2698.9" y="432.8" width="3.9" height="12.7" fill="#c4c4c4"/>
<rect x="2676.3" y="419.7" width="2.3" height="4.8" fill="#d7d7d7"/>
<rect x="2676.4" y="548.9" width="2.2" height="7.6" fill="#c0c0c0"/>
<rect x="2697.7" y="529.9" width="4.7" height="10.1" fill="#bcbcbc"/>
<rect x="2676.6" y="395.1" width="2.1" height="10.8" fill="#c6c6c6"/>
<rect x="2273.3" y="275.0" width="2.4" height="13.3" fill="#949494"/>
<rect x="2271.5" y="296.6" width="1.9" height="4.3" fill="#7c7c7c"/>
<rect x="2585.5" y="277.6" width="1.6" height="7.8" fill="#979797"/>
<rect x="2580.4" y="267.9" width="1.9" height="5.3" fill="#a5a5a5"/>
<rect x="2370.5" y="285.2" width="1.6" height="13.1" fill="#a2a2a2"/>
<rect x="2422.8" y="243.7" width="2.4" height="3.6" fill="#949494"/>
<rect x="2392.3" y="309.1" width="1.9" height="9.3" fill="#8a8a8a"/>
<rect x="2499.2" y="253.5" width="2.2" height="8.2" fill="#9a9a9a"/>
<rect x="2282.6" y="249.0" width="2.1" height="10.6" fill="#7e7e7e"/>
<rect x="2589.1" y="243.2" width="1.3" height="4.8" fill="#939393"/>
<rect x="2455.0" y="304.0" width="2.1" height="4.8" fill="#7e7e7e"/>
<rect x="2441.0" y="253.2" width="1.3" height="6.9" fill="#9e9e9e"/>
<rect x="2278.4" y="296.2" width="2.0" height="6.7" fill="#9b9b9b"/>
<rect x="2408.5" y="305.4" width="1.6" height="13.1" fill="#8d8d8d"/>
<rect x="2546.3" y="243.2" width="1.7" height="7.6" fill="#a7a7a7"/>
<rect x="2280.5" y="287.0" width="2.1" height="11.3" fill="#757575"/>
<rect x="2570.0" y="258.2" width="2.1" height="12.4" fill="#919191"/>
<rect x="2532.4" y="288.8" width="2.2" height="6.7" fill="#959595"/>
<rect x="2487.6" y="283.6" width="1.4" height="11.8" fill="#959595"/>
<rect x="2235.4" y="298.4" width="2.3" height="11.5" fill="#797979"/>
<rect x="2425.0" y="272.2" width="1.5" height="4.3" fill="#a7a7a7"/>
<rect x="2537.7" y="252.0" width="2.0" height="12.1" fill="#8f8f8f"/>
<rect x="2463.9" y="251.2" width="1.2" height="6.0" fill="#9c9c9c"/>
<rect x="2441.4" y="294.4" width="1.8" height="8.5" fill="#8b8b8b"/>
<rect x="2496.0" y="263.3" width="2.2" height="9.6" fill="#929292"/>
<rect x="2478.6" y="237.2" width="2.3" height="5.9" fill="#818181"/>
<rect x="2255.2" y="233.2" width="1.3" height="11.4" fill="#939393"/>
<rect x="2390.6" y="299.4" width="1.9" height="8.2" fill="#777777"/>
<rect x="2517.3" y="296.5" width="2.3" height="9.9" fill="#9a9a9a"/>
<rect x="2489.2" y="303.5" width="1.2" height="9.8" fill="#a4a4a4"/>
<rect x="2586.3" y="248.9" width="1.6" height="3.7" fill="#7e7e7e"/>
<rect x="2366.1" y="239.5" width="1.2" height="5.4" fill="#929292"/>
<rect x="2341.5" y="293.2" width="1.4" height="7.3" fill="#a6a6a6"/>
<rect x="2552.5" y="289.9" width="1.7" height="5.4" fill="#939393"/>
<rect x="2380.1" y="234.2" width="2.2" height="8.0" fill="#9d9d9d"/>
<rect x="2540.4" y="289.4" width="2.3" height="11.4" fill="#a5a5a5"/>
<rect x="2516.5" y="267.0" width="2.1" height="10.3" fill="#a4a4a4"/>
<rect x="2488.3" y="269.2" width="1.6" height="5.1" fill="#888888"/>
<rect x="2477.1" y="296.6" width="1.9" height="5.1" fill="#a3a3a3"/>
<rect x="2364.8" y="240.0" width="1.7" height="9.7" fill="#818181"/>
<rect x="2337.2" y="232.6" width="1.8" height="4.6" fill="#7e7e7e"/>
<rect x="2237.1" y="278.2" width="2.3" height="13.5" fill="#8c8c8c"/>
<rect x="2563.2" y="238.7" width="1.2" height="4.7" fill="#7a7a7a"/>
<rect x="2448.6" y="295.6" width="2.2" height="8.3" fill="#939393"/>
<rect x="2561.1" y="283.1" width="1.4" height="8.9" fill="#929292"/>
<rect x="2391.3" y="301.1" width="1.6" height="5.5" fill="#a2a2a2"/>
<rect x="2260.2" y="277.1" width="2.1" height="5.4" fill="#999999"/>
<rect x="2268.5" y="293.3" width="1.6" height="7.5" fill="#a3a3a3"/>
<rect x="2511.5" y="258.0" width="1.4" height="10.5" fill="#969696"/>
<rect x="2264.3" y="285.8" width="2.0" height="13.1" fill="#797979"/>
<rect x="2417.2" y="271.4" width="1.4" height="7.9" fill="#8a8a8a"/>
<rect x="2394.6" y="238.0" width="1.5" height="10.4" fill="#8a8a8a"/>
<rect x="2267.2" y="257.4" width="1.6" height="13.2" fill="#7d7d7d"/>
<rect x="2357.8" y="311.4" width="1.6" height="4.0" fill="#858585"/>
<rect x="2477.0" y="270.8" width="2.3" height="4.1" fill="#8c8c8c"/>
<rect x="2478.6" y="270.0" width="1.3" height="12.6" fill="#878787"/>
<rect x="2336.4" y="254.2" width="1.9" height="12.0" fill="#8d8d8d"/>
<rect x="2414.9" y="303.0" width="1.8" height="9.3" fill="#9c9c9c"/>
<rect x="2453.4" y="266.1" width="1.4" height="7.7" fill="#929292"/>
<rect x="2547.0" y="257.7" width="2.0" height="7.0" fill="#999999"/>
<rect x="2297.3" y="269.5" width="1.3" height="11.1" fill="#7e7e7e"/>
<rect x="2503.2" y="308.0" width="1.3" height="3.7" fill="#9b9b9b"/>
<rect x="2336.0" y="287.1" width="1.8" height="3.4" fill="#828282"/>
<rect x="2352.9" y="290.3" width="2.3" height="8.6" fill="#a3a3a3"/>
<rect x="2454.9" y="303.2" width="1.8" height="5.0" fill="#8c8c8c"/>
<rect x="2456.9" y="241.3" width="1.7" height="12.7" fill="#a1a1a1"/>
<rect x="2569.7" y="311.0" width="2.3" height="7.3" fill="#a8a8a8"/>
<rect x="2281.2" y="294.8" width="1.8" height="11.0" fill="#8a8a8a"/>
<rect x="2296.5" y="266.6" width="1.7" height="13.3" fill="#888888"/>
<rect x="2454.9" y="268.7" width="1.8" height="9.7" fill="#8a8a8a"/>
<rect x="2247.6" y="300.7" width="1.5" height="10.2" fill="#959595"/>
<rect x="2441.2" y="274.3" width="2.2" height="12.9" fill="#8b8b8b"/>
<rect x="2355.2" y="283.4" width="2.4" height="4.8" fill="#797979"/>
<rect x="2412.3" y="255.0" width="1.3" height="8.8" fill="#868686"/>
<rect x="2586.1" y="298.2" width="1.8" height="5.4" fill="#787878"/>
<rect x="2278.3" y="248.1" width="1.6" height="13.8" fill="#888888"/>
<rect x="2258.2" y="241.2" width="2.2" height="13.9" fill="#a5a5a5"/>
<rect x="2531.7" y="297.7" width="1.4" height="5.8" fill="#898989"/>
<rect x="2258.2" y="246.7" width="1.8" height="10.9" fill="#767676"/>
<rect x="2343.2" y="303.4" width="2.1" height="12.4" fill="#9f9f9f"/>
<rect x="2558.7" y="278.8" width="1.9" height="7.2" fill="#8a8a8a"/>
<rect x="2247.9" y="253.8" width="1.4" height="8.0" fill="#7c7c7c"/>
<rect x="2322.8" y="262.9" width="1.8" height="13.5" fill="#a2a2a2"/>
<rect x="2499.3" y="281.8" width="1.7" height="6.5" fill="#8c8c8c"/>
<rect x="2460.2" y="303.8" width="1.6" height="11.7" fill="#818181"/>
<rect x="2238.2" y="281.1" width="1.2" height="5.5" fill="#8b8b8b"/>
<rect x="2316.1" y="249.2" width="2.0" height="10.3" fill="#8a8a8a"/>
<rect x="2494.4" y="249.3" width="1.4" height="13.1" fill="#999999"/>
<rect x="2485.2" y="293.5" width="2.3" height="8.4" fill="#9b9b9b"/>
<rect x="2480.2" y="238.6" width="1.8" height="5.1" fill="#979797"/>
<rect x="2327.6" y="294.3" width="1.8" height="6.8" fill="#969696"/>
<rect x="2543.3" y="257.4" width="2.0" height="9.2" fill="#9c9c9c"/>
<rect x="2390.5" y="255.4" width="2.0" height="8.2" fill="#9b9b9b"/>
<rect x="2338.8" y="269.5" width="1.5" height="9.2" fill="#7e7e7e"/>
<rect x="2569.4" y="233.7" width="1.6" height="8.5" fill="#787878"/>
<rect x="2378.3" y="245.6" width="2.4" height="7.4" fill="#7c7c7c"/>
<rect x="2402.0" y="290.4" width="1.2" height="9.9" fill="#878787"/>
<rect x="2381.5" y="307.2" width="1.5" height="7.9" fill="#949494"/>
<rect x="2440.7" y="244.6" width="2.1" height="10.3" fill="#949494"/>
<rect x="2455.8" y="296.7" width="2.0" height="13.5" fill="#797979"/>
<rect x="2446.5" y="287.6" width="2.1" height="6.6" fill="#8f8f8f"/>
<rect x="2478.8" y="283.6" width="2.4" height="10.4" fill="#9e9e9e"/>
<rect x="2505.7" y="291.2" width="2.0" height="5.5" fill="#9a9a9a"/>
<rect x="2317.7" y="295.4" width="1.8" height="5.5" fill="#969696"/>
<rect x="2509.4" y="296.3" width="2.4" height="8.1" fill="#929292"/>
<rect x="2464.3" y="315.3" width="2.1" height="6.6" fill="#a6a6a6"/>
<rect x="2324.5" y="297.3" width="1.9" height="10.2" fill="#a1a1a1"/>
<rect x="2549.4" y="244.3" width="2.0" height="8.4" fill="#9d9d9d"/>
<rect x="2578.0" y="299.4" width="1.3" height="12.1" fill="#929292"/>
<rect x="2564.9" y="311.5" width="1.6" height="11.3" fill="#a0a0a0"/>
<rect x="2454.2" y="288.1" width="2.3" height="10.0" fill="#9e9e9e"/>
<rect x="2581.4" y="273.5" width="2.1" height="8.4" fill="#989898"/>
<rect x="2314.2" y="312.6" width="1.8" height="6.5" fill="#797979"/>
<rect x="2355.2" y="310.0" width="1.6" height="6.1" fill="#a2a2a2"/>
<rect x="2370.0" y="288.1" width="2.4" height="9.3" fill="#949494"/>
<rect x="2395.3" y="253.8" width="1.2" height="7.0" fill="#7f7f7f"/>
<rect x="2343.2" y="258.4" width="2.4" height="11.5" fill="#8e8e8e"/>
<rect x="2372.4" y="256.6" width="1.8" height="9.9" fill="#7f7f7f"/>
<rect x="2451.9" y="254.6" width="2.2" height="4.6" fill="#7e7e7e"/>
<rect x="2427.4" y="296.3" width="2.3" height="9.0" fill="#8c8c8c"/>
<rect x="2574.4" y="235.7" width="1.8" height="12.8" fill="#767676"/>
<rect x="2375.2" y="315.1" width="2.2" height="10.9" fill="#a2a2a2"/>
<rect x="2301.9" y="257.8" width="2.4" height="8.1" fill="#a5a5a5"/>
<rect x="2343.3" y="314.9" width="1.6" height="9.1" fill="#7c7c7c"/>
<rect x="2423.7" y="275.7" width="1.6" height="8.0" fill="#a6a6a6"/>
<rect x="2437.8" y="257.8" width="1.5" height="11.6" fill="#919191"/>
<rect x="2330.2" y="252.0" width="2.0" height="14.0" fill="#969696"/>
<rect x="2495.3" y="288.5" width="1.7" height="8.7" fill="#818181"/>
<rect x="2308.5" y="242.2" width="1.2" height="7.5" fill="#9d9d9d"/>
<rect x="2397.8" y="251.6" width="1.8" height="6.5" fill="#858585"/>
<rect x="2547.2" y="272.6" width="1.3" height="3.8" fill="#a4a4a4"/>
<rect x="2467.7" y="256.5" width="1.3" height="10.8" fill="#a4a4a4"/>
<rect x="2571.6" y="287.8" width="1.8" height="3.6" fill="#a2a2a2"/>
<rect x="2472.1" y="249.6" width="1.3" height="5.6" fill="#969696"/>
<rect x="2352.6" y="269.4" width="2.4" height="12.9" fill="#959595"/>
<rect x="2527.4" y="243.3" width="2.3" height="13.4" fill="#949494"/>
<rect x="2556.9" y="257.0" width="1.6" height="13.8" fill="#a5a5a5"/>
<rect x="2542.8" y="310.5" width="1.3" height="11.0" fill="#8a8a8a"/>
<rect x="2490.1" y="308.3" width="1.3" height="10.5" fill="#8e8e8e"/>
<rect x="2400.1" y="246.4" width="1.9" height="5.5" fill="#8f8f8f"/>
<rect x="2377.4" y="266.6" width="2.0" height="13.4" fill="#9f9f9f"/>
<rect x="2570.5" y="234.6" width="1.3" height="12.7" fill="#848484"/>
<rect x="2514.4" y="295.2" width="1.8" height="9.8" fill="#9e9e9e"/>
<rect x="2424.1" y="248.3" width="1.3" height="5.4" fill="#787878"/>
<rect x="2576.1" y="311.8" width="1.7" height="6.8" fill="#8a8a8a"/>
<rect x="2526.6" y="273.4" width="2.3" height="4.9" fill="#a6a6a6"/>
<rect x="2313.5" y="270.6" width="2.0" height="5.4" fill="#8e8e8e"/>
<rect x="2386.4" y="257.4" width="1.9" height="9.7" fill="#959595"/>
<rect x="2497.4" y="271.8" width="1.8" height="13.4" fill="#a1a1a1"/>
<rect x="2569.9" y="284.2" width="2.2" height="9.5" fill="#9e9e9e"/>
<rect x="2356.1" y="267.0" width="1.2" height="4.7" fill="#9d9d9d"/>
<rect x="2395.3" y="253.4" width="1.2" height="3.3" fill="#9c9c9c"/>
<rect x="2403.8" y="268.6" width="2.4" height="10.4" fill="#9e9e9e"/>
<rect x="2363.6" y="315.1" width="2.0" height="5.0" fill="#9b9b9b"/>
<rect x="2383.4" y="306.7" width="2.1" height="9.7" fill="#808080"/>
<rect x="2541.4" y="256.1" width="2.2" height="9.8" fill="#8c8c8c"/>
<rect x="2376.9" y="259.8" width="2.1" height="13.8" fill="#949494"/>
<rect x="2463.0" y="287.1" width="1.3" height="5.9" fill="#7e7e7e"/>
<rect x="2468.8" y="282.3" width="2.0" height="13.8" fill="#a3a3a3"/>
<rect x="2586.2" y="273.7" width="1.8" height="7.6" fill="#8f8f8f"/>
<rect x="2520.4" y="280.3" width="2.4" height="4.3" fill="#969696"/>
<rect x="2517.1" y="278.0" width="1.9" height="9.5" fill="#7f7f7f"/>
<rect x="2337.9" y="293.4" width="1.4" height="6.8" fill="#a2a2a2"/>
<rect x="2516.9" y="296.2" width="1.4" height="7.3" fill="#a0a0a0"/>
<rect x="2362.5" y="288.1" width="1.6" height="10.7" fill="#757575"/>
<rect x="2471.2" y="298.4" width="2.5" height="9.5" fill="#878787"/>
<rect x="2512.0" y="268.6" width="1.6" height="9.4" fill="#878787"/>
<rect x="2459.0" y="283.0" width="2.0" height="13.0" fill="#959595"/>
<rect x="2488.8" y="284.7" width="1.5" height="7.5" fill="#9d9d9d"/>
<rect x="2412.2" y="235.1" width="1.7" height="4.9" fill="#9d9d9d"/>
<rect x="2490.3" y="273.2" width="1.6" height="12.0" fill="#8e8e8e"/>
<rect x="2517.8" y="289.1" width="2.4" height="7.7" fill="#787878"/>
<rect x="2455.6" y="304.1" width="1.5" height="12.7" fill="#a1a1a1"/>
<rect x="2454.6" y="310.6" width="2.1" height="6.6" fill="#9b9b9b"/>
<rect x="2587.2" y="260.5" width="1.4" height="7.3" fill="#9d9d9d"/>
<rect x="2320.4" y="303.3" width="1.4" height="4.6" fill="#a6a6a6"/>
<rect x="2444.5" y="295.4" width="1.5" height="6.8" fill="#8f8f8f"/>
<rect x="2585.0" y="248.1" width="2.3" height="13.0" fill="#9d9d9d"/>
<rect x="2377.1" y="293.4" width="2.0" height="13.0" fill="#868686"/>
<rect x="2476.8" y="312.3" width="1.4" height="9.5" fill="#858585"/>
<rect x="2482.8" y="236.0" width="1.7" height="3.0" fill="#888888"/>
<rect x="2443.1" y="238.2" width="2.1" height="9.2" fill="#8c8c8c"/>
<rect x="2468.7" y="276.3" width="1.9" height="11.7" fill="#9b9b9b"/>
<rect x="2463.5" y="301.1" width="1.3" height="4.1" fill="#a3a3a3"/>
<rect x="2541.9" y="232.7" width="2.0" height="12.8" fill="#a3a3a3"/>
<rect x="2503.3" y="263.6" width="2.2" height="4.3" fill="#9e9e9e"/>
<rect x="2436.4" y="254.7" width="2.4" height="7.0" fill="#939393"/>
<rect x="2360.9" y="314.9" width="1.4" height="13.8" fill="#858585"/>
<rect x="2511.6" y="264.5" width="2.1" height="8.2" fill="#898989"/>
<rect x="2472.4" y="249.1" width="1.9" height="5.4" fill="#929292"/>
<rect x="2559.4" y="244.0" width="1.5" height="13.1" fill="#8d8d8d"/>
<rect x="2330.8" y="258.6" width="1.7" height="13.8" fill="#a2a2a2"/>
<rect x="2583.2" y="290.4" width="1.8" height="5.0" fill="#828282"/>
<rect x="2372.4" y="260.1" width="2.1" height="4.8" fill="#969696"/>
<rect x="2384.4" y="253.4" width="1.3" height="4.6" fill="#929292"/>
<rect x="2321.7" y="275.9" width="2.2" height="5.8" fill="#898989"/>
<rect x="2548.3" y="311.4" width="1.5" height="13.2" fill="#a6a6a6"/>
<rect x="2436.8" y="306.3" width="1.9" height="8.1" fill="#888888"/>
<rect x="2519.7" y="262.9" width="2.1" height="12.7" fill="#929292"/>
<rect x="2309.0" y="254.6" width="1.7" height="7.6" fill="#999999"/>
<rect x="2301.5" y="271.3" width="2.4" height="12.8" fill="#9d9d9d"/>
<rect x="2499.1" y="282.6" width="2.2" height="14.0" fill="#939393"/>
<rect x="2443.7" y="310.9" width="2.0" height="9.1" fill="#8b8b8b"/>
<rect x="2492.6" y="273.0" width="2.5" height="13.4" fill="#a8a8a8"/>
<rect x="2575.7" y="235.7" width="1.6" height="3.8" fill="#a2a2a2"/>
<rect x="2461.9" y="253.6" width="1.5" height="4.1" fill="#808080"/>
<rect x="2341.6" y="294.6" width="1.4" height="5.1" fill="#9a9a9a"/>
<rect x="2337.9" y="302.0" width="2.3" height="10.2" fill="#9e9e9e"/>
<rect x="2511.9" y="254.5" width="1.7" height="7.7" fill="#909090"/>
<rect x="2564.6" y="268.6" width="2.0" height="11.8" fill="#7c7c7c"/>
<rect x="2361.1" y="280.5" width="1.5" height="11.7" fill="#888888"/>
<rect x="2409.3" y="270.6" width="2.4" height="7.6" fill="#9a9a9a"/>
<rect x="2380.7" y="260.9" width="1.4" height="8.6" fill="#909090"/>
<rect x="2318.8" y="287.1" width="2.4" height="12.5" fill="#999999"/>
<rect x="2411.6" y="279.0" width="1.4" height="9.1" fill="#979797"/>
<rect x="2444.2" y="248.6" width="2.3" height="7.9" fill="#9b9b9b"/>
<rect x="2395.4" y="252.0" width="1.9" height="9.9" fill="#8b8b8b"/>
<rect x="2436.6" y="266.2" width="2.3" height="9.9" fill="#8f8f8f"/>
<rect x="2456.0" y="279.2" width="1.5" height="10.3" fill="#888888"/>
<rect x="2567.5" y="244.2" width="1.5" height="10.5" fill="#959595"/>
<rect x="2430.9" y="252.1" width="2.4" height="4.9" fill="#797979"/>
<rect x="2341.4" y="294.1" width="1.5" height="7.1" fill="#a0a0a0"/>
<rect x="2584.7" y="249.4" width="1.7" height="10.8" fill="#a8a8a8"/>
<rect x="2473.1" y="307.2" width="1.4" height="10.3" fill="#929292"/>
<rect x="2504.6" y="244.8" width="2.5" height="4.0" fill="#a5a5a5"/>
<rect x="2488.7" y="237.3" width="2.5" height="10.7" fill="#a1a1a1"/>
<rect x="2507.4" y="268.9" width="2.4" height="10.0" fill="#959595"/>
<rect x="2321.6" y="244.2" width="2.1" height="13.5" fill="#a6a6a6"/>
<rect x="2342.9" y="240.9" width="1.8" height="10.5" fill="#939393"/>
<rect x="2367.5" y="296.1" width="2.1" height="11.6" fill="#929292"/>
<rect x="2442.3" y="265.2" width="1.6" height="8.1" fill="#949494"/>
<rect x="2579.1" y="299.3" width="2.1" height="4.5" fill="#a2a2a2"/>
<rect x="2400.0" y="306.7" width="1.3" height="13.3" fill="#9b9b9b"/>
<rect x="2410.4" y="271.2" width="2.3" height="9.0" fill="#9b9b9b"/>
<rect x="2557.6" y="252.9" width="1.7" height="11.8" fill="#848484"/>
<rect x="2532.9" y="280.5" width="2.4" height="5.5" fill="#959595"/>
<rect x="2495.4" y="314.8" width="1.9" height="6.6" fill="#979797"/>
<rect x="2382.8" y="276.9" width="2.1" height="13.6" fill="#898989"/>
<rect x="2498.2" y="283.7" width="2.1" height="7.1" fill="#8f8f8f"/>
<rect x="2526.6" y="264.6" width="1.6" height="12.1" fill="#838383"/>
<rect x="2395.5" y="242.6" width="2.5" height="12.6" fill="#919191"/>
<rect x="2369.6" y="306.1" width="1.5" height="12.4" fill="#8b8b8b"/>
<rect x="2444.3" y="243.1" width="1.7" height="5.3" fill="#7f7f7f"/>
<rect x="2341.9" y="282.8" width="2.4" height="6.3" fill="#a7a7a7"/>
<rect x="2494.3" y="255.1" width="1.6" height="11.4" fill="#a4a4a4"/>
<rect x="2422.9" y="290.1" width="2.1" height="11.3" fill="#9f9f9f"/>
<rect x="2399.3" y="244.8" width="2.4" height="7.1" fill="#797979"/>
<rect x="2381.8" y="258.0" width="2.3" height="7.8" fill="#838383"/>
<rect x="2330.2" y="233.5" width="2.1" height="6.7" fill="#939393"/>
<rect x="2487.3" y="275.1" width="1.7" height="7.0" fill="#797979"/>
<rect x="2580.9" y="293.5" width="1.5" height="4.1" fill="#a1a1a1"/>
<rect x="2496.4" y="294.9" width="1.4" height="11.3" fill="#a2a2a2"/>
<rect x="2438.2" y="243.6" width="2.3" height="11.2" fill="#8b8b8b"/>
<rect x="2473.2" y="293.7" width="1.8" height="6.2" fill="#a8a8a8"/>
<rect x="2424.6" y="311.2" width="2.5" height="12.8" fill="#888888"/>
<rect x="2437.7" y="268.8" width="2.4" height="4.9" fill="#989898"/>
<rect x="2560.0" y="273.3" width="2.4" height="8.5" fill="#808080"/>
<rect x="2442.9" y="303.9" width="2.2" height="9.5" fill="#a8a8a8"/>
<rect x="2546.7" y="283.2" width="1.9" height="11.3" fill="#868686"/>
<rect x="2461.8" y="309.7" width="1.2" height="8.8" fill="#9b9b9b"/>
<rect x="2588.8" y="284.6" width="1.8" height="8.4" fill="#9b9b9b"/>
<rect x="2516.8" y="273.0" width="2.4" height="12.9" fill="#a1a1a1"/>
<rect x="2537.8" y="292.4" width="1.8" height="5.2" fill="#898989"/>
<rect x="2438.9" y="311.8" width="2.3" height="5.5" fill="#a2a2a2"/>
<rect x="2476.9" y="234.1" width="2.0" height="5.0" fill="#9e9e9e"/>
<rect x="2467.4" y="282.4" width="2.1" height="4.8" fill="#a1a1a1"/>
<rect x="2548.7" y="279.3" width="1.2" height="9.3" fill="#898989"/>
<rect x="2477.2" y="238.1" width="2.4" height="3.8" fill="#9d9d9d"/>
<rect x="2506.9" y="289.9" width="2.0" height="12.6" fill="#929292"/>
<rect x="2474.6" y="313.5" width="1.4" height="13.5" fill="#a2a2a2"/>
<rect x="2522.1" y="260.9" width="1.6" height="10.6" fill="#9f9f9f"/>
<rect x="2506.2" y="281.1" width="2.4" height="3.6" fill="#a6a6a6"/>
<rect x="2544.6" y="256.6" width="1.4" height="10.9" fill="#979797"/>
<rect x="2465.6" y="271.6" width="1.3" height="6.2" fill="#929292"/>
<rect x="2445.1" y="246.7" width="1.4" height="6.6" fill="#777777"/>
<rect x="2585.0" y="236.6" width="1.7" height="12.8" fill="#7f7f7f"/>
<rect x="2481.5" y="274.6" width="1.9" height="3.6" fill="#767676"/>
<rect x="2456.7" y="291.7" width="1.4" height="12.3" fill="#919191"/>
<rect x="2580.0" y="258.5" width="1.5" height="4.3" fill="#a3a3a3"/>
<rect x="2465.5" y="287.9" width="2.0" height="13.3" fill="#858585"/>
<rect x="2491.4" y="259.3" width="2.0" height="8.3" fill="#a7a7a7"/>
<rect x="2530.9" y="274.7" width="1.9" height="11.9" fill="#848484"/>
<rect x="2527.3" y="254.7" width="1.7" height="5.3" fill="#949494"/>
<rect x="2406.1" y="262.3" width="1.9" height="13.6" fill="#8f8f8f"/>
<rect x="2486.8" y="290.7" width="1.7" height="8.5" fill="#999999"/>
<rect x="2452.3" y="289.3" width="2.1" height="7.7" fill="#8e8e8e"/>
<rect x="2521.3" y="248.5" width="1.8" height="8.3" fill="#777777"/>
<rect x="2424.0" y="270.7" width="2.3" height="11.4" fill="#a3a3a3"/>
<rect x="2553.2" y="313.2" width="1.4" height="5.2" fill="#808080"/>
<rect x="2550.6" y="247.9" width="1.4" height="6.5" fill="#a5a5a5"/>
<rect x="2439.8" y="251.8" width="2.1" height="9.5" fill="#797979"/>
<rect x="2510.2" y="276.5" width="1.9" height="9.1" fill="#a1a1a1"/>
<rect x="2556.3" y="304.3" width="1.3" height="6.6" fill="#949494"/>
<rect x="2405.0" y="285.5" width="2.2" height="8.3" fill="#a2a2a2"/>
<rect x="2539.2" y="290.3" width="2.1" height="6.7" fill="#9b9b9b"/>
<rect x="2441.6" y="305.0" width="1.9" height="8.2" fill="#858585"/>
<rect x="2557.9" y="271.8" width="2.3" height="11.2" fill="#969696"/>
<rect x="2511.2" y="270.9" width="2.2" height="5.6" fill="#a5a5a5"/>
<rect x="2406.6" y="234.8" width="1.3" height="8.2" fill="#929292"/>
<rect x="2465.0" y="252.2" width="2.0" height="11.5" fill="#a5a5a5"/>
<rect x="2436.9" y="264.0" width="2.2" height="9.8" fill="#929292"/>
<rect x="2435.3" y="264.4" width="2.5" height="9.2" fill="#9c9c9c"/>
<rect x="2560.5" y="302.0" width="1.9" height="7.7" fill="#a2a2a2"/>
<rect x="2537.4" y="265.6" width="2.2" height="5.1" fill="#8a8a8a"/>
<rect x="2450.3" y="253.1" width="2.0" height="10.6" fill="#a6a6a6"/>
<rect x="2512.0" y="272.6" width="1.4" height="12.7" fill="#999999"/>
<rect x="2587.6" y="260.0" width="1.3" height="4.7" fill="#787878"/>
<rect x="2539.1" y="266.6" width="2.3" height="12.0" fill="#787878"/>
<rect x="2458.2" y="254.2" width="1.2" height="5.9" fill="#888888"/>
<rect x="2464.6" y="270.0" width="2.5" height="8.8" fill="#7e7e7e"/>
<rect x="2425.5" y="307.9" width="1.9" height="6.2" fill="#8b8b8b"/>
<rect x="2570.1" y="310.5" width="1.3" height="9.3" fill="#8f8f8f"/>
<rect x="2533.8" y="279.5" width="1.7" height="6.1" fill="#7b7b7b"/>
<rect x="2476.7" y="301.3" width="1.8" height="7.3" fill="#838383"/>
<rect x="2535.4" y="267.0" width="2.2" height="7.2" fill="#8b8b8b"/>
<rect x="2414.7" y="285.9" width="1.3" height="11.1" fill="#8d8d8d"/>
<rect x="2568.3" y="274.7" width="1.4" height="7.5" fill="#8a8a8a"/>
<rect x="2511.5" y="308.9" width="2.5" height="10.3" fill="#919191"/>
<rect x="2413.1" y="260.6" width="1.3" height="7.0" fill="#7c7c7c"/>
<rect x="2573.1" y="307.2" width="1.3" height="4.5" fill="#a7a7a7"/>
<rect x="2431.7" y="257.3" width="1.5" height="5.5" fill="#787878"/>
<rect x="2487.8" y="297.2" width="1.8" height="3.8" fill="#808080"/>
<rect x="2549.7" y="308.0" width="1.9" height="12.6" fill="#818181"/>
<rect x="2536.3" y="237.9" width="1.6" height="11.5" fill="#a4a4a4"/>
<rect x="2454.1" y="294.2" width="1.5" height="8.4" fill="#959595"/>
<rect x="2481.8" y="245.1" width="1.9" height="9.0" fill="#9d9d9d"/>
<rect x="2464.5" y="283.6" width="1.9" height="5.2" fill="#878787"/>
<rect x="2549.3" y="248.0" width="1.3" height="6.2" fill="#8b8b8b"/>
<rect x="2502.8" y="251.2" width="2.4" height="4.3" fill="#8b8b8b"/>
<rect x="2441.0" y="265.5" width="2.2" height="12.3" fill="#a5a5a5"/>
<rect x="2503.7" y="260.1" width="1.3" height="8.5" fill="#9d9d9d"/>
<rect x="2559.4" y="308.9" width="2.0" height="12.1" fill="#a1a1a1"/>
<rect x="2455.4" y="279.2" width="2.4" height="4.8" fill="#969696"/>
<rect x="2433.5" y="314.7" width="1.5" height="9.8" fill="#a3a3a3"/>
<rect x="2519.0" y="284.3" width="1.6" height="12.7" fill="#8a8a8a"/>
<rect x="2508.3" y="249.1" width="1.8" height="10.7" fill="#858585"/>
<rect x="2423.7" y="245.6" width="2.4" height="9.3" fill="#a1a1a1"/>
<rect x="2561.2" y="279.6" width="1.6" height="11.8" fill="#8f8f8f"/>
<rect x="2571.7" y="253.7" width="1.9" height="9.9" fill="#7a7a7a"/>
<rect x="2507.6" y="299.0" width="1.7" height="12.8" fill="#a5a5a5"/>
<rect x="2407.2" y="308.2" width="2.3" height="10.5" fill="#939393"/>
<rect x="2511.6" y="301.3" width="1.4" height="5.5" fill="#9f9f9f"/>
<rect x="2566.4" y="251.1" width="1.9" height="9.0" fill="#8b8b8b"/>
<rect x="2560.2" y="255.8" width="1.7" height="11.6" fill="#818181"/>
<rect x="2582.8" y="244.4" width="1.2" height="4.1" fill="#8e8e8e"/>
<rect x="2405.1" y="245.0" width="1.5" height="13.4" fill="#9e9e9e"/>
<rect x="2440.5" y="233.1" width="1.4" height="3.1" fill="#a6a6a6"/>
<rect x="2486.8" y="253.0" width="2.0" height="3.5" fill="#8c8c8c"/>
<rect x="2434.3" y="268.7" width="1.6" height="10.8" fill="#989898"/>
<rect x="2435.8" y="279.0" width="2.4" height="3.5" fill="#a6a6a6"/>
<rect x="2509.4" y="271.8" width="2.2" height="7.4" fill="#999999"/>
<rect x="2534.8" y="269.2" width="2.1" height="7.4" fill="#838383"/>
<rect x="2465.0" y="252.2" width="2.3" height="5.3" fill="#8c8c8c"/>
<rect x="2540.0" y="236.1" width="1.8" height="13.2" fill="#9f9f9f"/>
<rect x="2420.2" y="282.7" width="1.6" height="11.9" fill="#7d7d7d"/>
<rect x="2472.8" y="296.6" width="1.3" height="11.4" fill="#8c8c8c"/>
<rect x="2573.9" y="256.2" width="2.3" height="3.9" fill="#a2a2a2"/>
<rect x="2484.7" y="290.5" width="2.3" height="11.3" fill="#848484"/>
<rect x="2538.7" y="309.6" width="1.9" height="11.7" fill="#909090"/>
<rect x="2586.1" y="315.4" width="1.9" height="11.9" fill="#a4a4a4"/>
<rect x="2566.1" y="274.4" width="2.0" height="4.5" fill="#808080"/>
<rect x="2463.6" y="279.8" width="2.0" height="8.5" fill="#a2a2a2"/>
<rect x="2580.2" y="258.1" width="1.6" height="13.5" fill="#8e8e8e"/>
<rect x="2543.7" y="314.0" width="2.2" height="8.6" fill="#a2a2a2"/>
<rect x="2459.8" y="283.9" width="1.2" height="13.3" fill="#7f7f7f"/>
<rect x="2565.8" y="279.6" width="2.2" height="7.6" fill="#929292"/>
<rect x="2426.4" y="261.4" width="2.0" height="11.4" fill="#959595"/>
<rect x="2402.1" y="315.7" width="1.6" height="3.9" fill="#a1a1a1"/>
<rect x="2578.2" y="289.8" width="2.2" height="7.2" fill="#9c9c9c"/>
<rect x="2509.9" y="298.0" width="1.9" height="9.1" fill="#888888"/>
<rect x="2511.0" y="607.9" width="2.0" height="4.0" fill="#797979"/>
<rect x="2545.5" y="615.0" width="1.5" height="8.1" fill="#949494"/>
<rect x="2453.8" y="615.3" width="2.5" height="9.0" fill="#818181"/>
<rect x="2312.6" y="615.2" width="1.2" height="4.2" fill="#a6a6a6"/>
<rect x="2576.9" y="602.2" width="2.0" height="12.2" fill="#858585"/>
<rect x="2548.3" y="608.6" width="2.1" height="10.0" fill="#9d9d9d"/>
<rect x="2319.1" y="611.4" width="1.6" height="9.9" fill="#9a9a9a"/>
<rect x="2497.5" y="601.7" width="2.5" height="11.0" fill="#909090"/>
<rect x="2439.1" y="626.4" width="1.5" height="12.7" fill="#7e7e7e"/>
<rect x="2413.5" y="635.9" width="1.5" height="9.3" fill="#a6a6a6"/>
<rect x="2424.7" y="631.3" width="1.3" height="11.2" fill="#a5a5a5"/>
<rect x="2531.2" y="620.3" width="1.3" height="8.0" fill="#a1a1a1"/>
<rect x="2580.6" y="648.5" width="1.8" height="13.8" fill="#a4a4a4"/>
<rect x="2534.5" y="675.8" width="1.9" height="8.1" fill="#787878"/>
<rect x="2572.7" y="606.3" width="2.0" height="9.4" fill="#838383"/>
<rect x="2359.4" y="623.9" width="1.7" height="3.1" fill="#8f8f8f"/>
<rect x="2490.0" y="657.1" width="2.3" height="13.4" fill="#888888"/>
<rect x="2451.9" y="656.5" width="1.4" height="11.7" fill="#8d8d8d"/>
<rect x="2453.0" y="625.1" width="1.7" height="13.1" fill="#9e9e9e"/>
<rect x="2259.3" y="673.5" width="2.5" height="13.7" fill="#8d8d8d"/>
<rect x="2530.8" y="680.6" width="1.3" height="4.2" fill="#9c9c9c"/>
<rect x="2585.9" y="601.5" width="2.1" height="12.2" fill="#949494"/>
<rect x="2285.7" y="641.1" width="1.5" height="8.5" fill="#a5a5a5"/>
<rect x="2497.7" y="612.8" width="2.0" height="9.8" fill="#a6a6a6"/>
<rect x="2583.4" y="672.8" width="1.7" height="3.6" fill="#828282"/>
<rect x="2501.6" y="605.8" width="2.0" height="12.1" fill="#9b9b9b"/>
<rect x="2570.4" y="671.1" width="2.0" height="11.1" fill="#979797"/>
<rect x="2418.9" y="601.4" width="2.1" height="5.2" fill="#919191"/>
<rect x="2395.1" y="669.2" width="2.1" height="7.2" fill="#a1a1a1"/>
<rect x="2530.3" y="618.5" width="1.8" height="9.7" fill="#999999"/>
<rect x="2265.6" y="614.8" width="2.2" height="5.7" fill="#a1a1a1"/>
<rect x="2370.9" y="649.3" width="1.9" height="7.8" fill="#898989"/>
<rect x="2357.1" y="678.5" width="1.4" height="12.7" fill="#7f7f7f"/>
<rect x="2542.0" y="635.8" width="2.0" height="10.0" fill="#9a9a9a"/>
<rect x="2556.6" y="611.7" width="1.5" height="12.5" fill="#7c7c7c"/>
<rect x="2340.4" y="641.7" width="2.0" height="11.8" fill="#a7a7a7"/>
<rect x="2302.1" y="630.5" width="2.0" height="9.3" fill="#9d9d9d"/>
<rect x="2414.7" y="607.4" width="2.2" height="11.6" fill="#7b7b7b"/>
<rect x="2523.7" y="599.5" width="2.0" height="10.5" fill="#8b8b8b"/>
<rect x="2266.8" y="620.4" width="1.9" height="9.9" fill="#a2a2a2"/>
<rect x="2296.0" y="650.5" width="1.3" height="6.3" fill="#848484"/>
<rect x="2274.3" y="612.2" width="2.5" height="3.4" fill="#8e8e8e"/>
<rect x="2503.9" y="634.0" width="1.5" height="8.6" fill="#a6a6a6"/>
<rect x="2310.1" y="678.7" width="2.3" height="11.6" fill="#7d7d7d"/>
<rect x="2585.3" y="653.2" width="1.9" height="9.4" fill="#939393"/>
<rect x="2573.5" y="680.4" width="1.4" height="13.5" fill="#969696"/>
<rect x="2483.6" y="614.2" width="2.2" height="12.8" fill="#7f7f7f"/>
<rect x="2340.3" y="655.5" width="2.5" height="12.7" fill="#898989"/>
<rect x="2531.8" y="647.7" width="1.5" height="7.0" fill="#7e7e7e"/>
<rect x="2247.3" y="634.7" width="1.5" height="4.3" fill="#8c8c8c"/>
<rect x="2283.2" y="615.7" width="2.5" height="5.8" fill="#919191"/>
<rect x="2454.2" y="643.9" width="2.3" height="13.6" fill="#a5a5a5"/>
<rect x="2544.4" y="660.3" width="1.6" height="12.6" fill="#9a9a9a"/>
<rect x="2352.5" y="675.8" width="2.5" height="5.9" fill="#878787"/>
<rect x="2355.6" y="660.6" width="1.5" height="9.3" fill="#808080"/>
<rect x="2545.9" y="616.2" width="2.3" height="8.6" fill="#949494"/>
<rect x="2404.3" y="612.6" width="2.0" height="13.3" fill="#9c9c9c"/>
<rect x="2374.7" y="658.1" width="1.4" height="7.2" fill="#8e8e8e"/>
<rect x="2505.4" y="670.7" width="2.1" height="8.7" fill="#a6a6a6"/>
<rect x="2465.8" y="680.0" width="2.3" height="5.8" fill="#9f9f9f"/>
<rect x="2437.5" y="648.2" width="1.2" height="4.8" fill="#787878"/>
<rect x="2551.3" y="632.0" width="1.8" height="9.6" fill="#a4a4a4"/>
<rect x="2496.7" y="630.1" width="1.5" height="10.0" fill="#a6a6a6"/>
<rect x="2291.8" y="674.7" width="1.4" height="8.9" fill="#a7a7a7"/>
<rect x="2305.6" y="655.3" width="1.4" height="5.9" fill="#a1a1a1"/>
<rect x="2551.1" y="673.0" width="2.0" height="10.4" fill="#828282"/>
<rect x="2589.3" y="626.2" width="1.2" height="10.0" fill="#8c8c8c"/>
<rect x="2420.6" y="638.3" width="1.7" height="7.5" fill="#777777"/>
<rect x="2464.4" y="628.4" width="1.7" height="4.2" fill="#9c9c9c"/>
<rect x="2499.0" y="633.5" width="2.0" height="4.3" fill="#999999"/>
<rect x="2406.7" y="679.5" width="1.9" height="7.0" fill="#787878"/>
<rect x="2282.2" y="615.1" width="1.4" height="5.1" fill="#7e7e7e"/>
<rect x="2561.4" y="647.7" width="1.9" height="8.4" fill="#8a8a8a"/>
<rect x="2542.6" y="660.1" width="1.2" height="7.7" fill="#757575"/>
<rect x="2247.5" y="659.2" width="1.8" height="3.3" fill="#969696"/>
<rect x="2366.6" y="623.7" width="2.4" height="13.3" fill="#a0a0a0"/>
<rect x="2425.7" y="678.0" width="1.5" height="10.7" fill="#818181"/>
<rect x="2286.8" y="607.6" width="2.0" height="7.3" fill="#858585"/>
<rect x="2263.9" y="627.0" width="2.3" height="8.0" fill="#a4a4a4"/>
<rect x="2526.7" y="620.6" width="1.6" height="12.1" fill="#999999"/>
<rect x="2424.8" y="618.3" width="1.5" height="8.9" fill="#a1a1a1"/>
<rect x="2318.5" y="663.9" width="1.2" height="5.1" fill="#929292"/>
<rect x="2548.0" y="651.7" width="1.9" height="5.8" fill="#8d8d8d"/>
<rect x="2470.2" y="622.9" width="2.5" height="4.8" fill="#797979"/>
<rect x="2283.3" y="625.5" width="1.9" height="6.7" fill="#959595"/>
<rect x="2290.0" y="667.9" width="1.4" height="10.8" fill="#838383"/>
<rect x="2274.7" y="641.4" width="2.1" height="10.0" fill="#878787"/>
<rect x="2542.3" y="673.8" width="1.4" height="8.2" fill="#838383"/>
<rect x="2490.4" y="604.5" width="2.1" height="9.9" fill="#777777"/>
<rect x="2287.2" y="619.0" width="2.3" height="7.8" fill="#a1a1a1"/>
<rect x="2412.9" y="600.0" width="1.5" height="8.9" fill="#8a8a8a"/>
<rect x="2570.2" y="622.9" width="2.1" height="7.3" fill="#a6a6a6"/>
<rect x="2317.7" y="648.0" width="1.4" height="10.3" fill="#7e7e7e"/>
<rect x="2396.7" y="627.1" width="2.5" height="10.7" fill="#9c9c9c"/>
<rect x="2424.6" y="681.7" width="1.8" height="13.3" fill="#949494"/>
<rect x="2450.1" y="607.7" width="2.1" height="10.1" fill="#949494"/>
<rect x="2469.5" y="674.4" width="2.1" height="9.8" fill="#a4a4a4"/>
<rect x="2512.9" y="637.0" width="2.4" height="13.5" fill="#7c7c7c"/>
<rect x="2590.0" y="612.8" width="2.0" height="12.7" fill="#a0a0a0"/>
<rect x="2400.4" y="622.8" width="1.4" height="4.9" fill="#7f7f7f"/>
<rect x="2349.2" y="667.1" width="2.3" height="8.9" fill="#a7a7a7"/>
<rect x="2427.5" y="613.7" width="1.3" height="12.9" fill="#969696"/>
<rect x="2545.0" y="609.3" width="2.0" height="5.9" fill="#7d7d7d"/>
<rect x="2551.0" y="661.1" width="2.2" height="9.1" fill="#818181"/>
<rect x="2545.7" y="643.7" width="2.3" height="7.2" fill="#939393"/>
<rect x="2312.5" y="657.0" width="1.9" height="3.4" fill="#868686"/>
<rect x="2419.3" y="633.8" width="2.0" height="10.7" fill="#8e8e8e"/>
<rect x="2366.4" y="663.6" width="2.0" height="3.7" fill="#9f9f9f"/>
<rect x="2482.3" y="601.2" width="2.0" height="3.9" fill="#a1a1a1"/>
<rect x="2483.7" y="680.7" width="1.8" height="10.7" fill="#a6a6a6"/>
<rect x="2368.9" y="608.2" width="1.2" height="7.3" fill="#989898"/>
<rect x="2454.8" y="614.7" width="1.8" height="9.7" fill="#9d9d9d"/>
<rect x="2529.2" y="665.3" width="1.3" height="10.5" fill="#989898"/>
<rect x="2493.4" y="615.2" width="1.9" height="7.1" fill="#898989"/>
<rect x="2323.9" y="622.7" width="2.2" height="7.6" fill="#a7a7a7"/>
<rect x="2545.3" y="673.1" width="1.9" height="13.8" fill="#9a9a9a"/>
<rect x="2308.4" y="658.8" width="1.6" height="12.2" fill="#9a9a9a"/>
<rect x="2327.9" y="676.8" width="1.8" height="7.7" fill="#868686"/>
<rect x="2552.4" y="678.1" width="1.9" height="7.5" fill="#8a8a8a"/>
<rect x="2503.8" y="650.4" width="1.2" height="12.3" fill="#959595"/>
<rect x="2581.1" y="601.0" width="1.7" height="9.9" fill="#7f7f7f"/>
<rect x="2387.1" y="678.9" width="1.8" height="5.4" fill="#a3a3a3"/>
<rect x="2331.7" y="600.9" width="2.0" height="9.6" fill="#797979"/>
<rect x="2543.1" y="662.7" width="1.5" height="9.6" fill="#a5a5a5"/>
<rect x="2363.9" y="681.9" width="2.4" height="9.1" fill="#979797"/>
<rect x="2475.7" y="677.2" width="1.6" height="7.8" fill="#a7a7a7"/>
<rect x="2588.3" y="609.6" width="2.2" height="12.4" fill="#858585"/>
<rect x="2367.7" y="603.8" width="1.3" height="12.2" fill="#a2a2a2"/>
<rect x="2530.7" y="680.9" width="2.3" height="4.2" fill="#7c7c7c"/>
<rect x="2332.2" y="669.2" width="2.2" height="4.5" fill="#a7a7a7"/>
<rect x="2440.0" y="634.1" width="2.0" height="12.8" fill="#a7a7a7"/>
<rect x="2500.4" y="636.0" width="2.4" height="3.5" fill="#a0a0a0"/>
<rect x="2340.3" y="656.3" width="1.8" height="6.0" fill="#828282"/>
<rect x="2324.0" y="637.8" width="2.1" height="10.9" fill="#a3a3a3"/>
<rect x="2564.6" y="660.9" width="2.2" height="5.7" fill="#9f9f9f"/>
<rect x="2333.6" y="600.2" width="1.4" height="13.0" fill="#a4a4a4"/>
<rect x="2574.6" y="633.8" width="1.3" height="8.8" fill="#7c7c7c"/>
<rect x="2546.7" y="650.7" width="1.4" height="5.8" fill="#7c7c7c"/>
<rect x="2522.0" y="621.6" width="2.3" height="3.6" fill="#8c8c8c"/>
<rect x="2349.1" y="645.9" width="1.9" height="7.0" fill="#939393"/>
<rect x="2456.9" y="621.1" width="2.4" height="8.5" fill="#858585"/>
<rect x="2421.4" y="637.4" width="1.6" height="8.0" fill="#9b9b9b"/>
<rect x="2570.7" y="611.5" width="2.5" height="7.9" fill="#757575"/>
<rect x="2501.0" y="629.5" width="2.1" height="8.6" fill="#888888"/>
<rect x="2319.2" y="652.1" width="1.8" height="13.9" fill="#a6a6a6"/>
<rect x="2449.0" y="655.4" width="2.2" height="10.3" fill="#9c9c9c"/>
<rect x="2498.9" y="658.1" width="2.3" height="5.8" fill="#9a9a9a"/>
<rect x="2445.5" y="651.4" width="1.5" height="6.8" fill="#a5a5a5"/>
<rect x="2361.5" y="628.7" width="1.8" height="9.5" fill="#7d7d7d"/>
<rect x="2378.9" y="662.6" width="1.8" height="4.5" fill="#7e7e7e"/>
<rect x="2322.1" y="680.2" width="1.8" height="7.8" fill="#7c7c7c"/>
<rect x="2346.6" y="641.8" width="2.4" height="13.2" fill="#909090"/>
<rect x="2448.5" y="617.3" width="1.4" height="12.2" fill="#8b8b8b"/>
<rect x="2355.6" y="660.4" width="1.8" height="12.5" fill="#8d8d8d"/>
<rect x="2565.8" y="607.2" width="1.6" height="11.4" fill="#a5a5a5"/>
<rect x="2374.4" y="671.3" width="1.6" height="12.4" fill="#858585"/>
<rect x="2483.5" y="605.3" width="1.6" height="9.3" fill="#9c9c9c"/>
<rect x="2330.5" y="656.2" width="1.9" height="5.9" fill="#9e9e9e"/>
<rect x="2348.5" y="626.0" width="2.1" height="10.9" fill="#a4a4a4"/>
<rect x="2308.5" y="631.3" width="2.3" height="6.8" fill="#959595"/>
<rect x="2395.1" y="612.2" width="1.6" height="7.9" fill="#777777"/>
<rect x="2482.6" y="672.8" width="1.8" height="7.5" fill="#a4a4a4"/>
<rect x="2576.9" y="678.7" width="1.4" height="11.2" fill="#8e8e8e"/>
<rect x="2398.5" y="665.5" width="2.3" height="11.6" fill="#828282"/>
<rect x="2365.7" y="681.4" width="2.0" height="6.7" fill="#929292"/>
<rect x="2508.1" y="599.4" width="2.4" height="11.9" fill="#9d9d9d"/>
<rect x="2402.0" y="656.5" width="2.2" height="5.3" fill="#a1a1a1"/>
<rect x="2472.2" y="661.4" width="2.2" height="10.6" fill="#a5a5a5"/>
<rect x="2520.3" y="674.6" width="1.3" height="10.8" fill="#858585"/>
<rect x="2564.1" y="606.3" width="2.1" height="12.6" fill="#818181"/>
<rect x="2557.0" y="658.4" width="1.6" height="5.4" fill="#9d9d9d"/>
<rect x="2481.1" y="647.4" width="1.6" height="12.4" fill="#a3a3a3"/>
<rect x="2579.9" y="669.6" width="1.5" height="7.8" fill="#959595"/>
<rect x="2415.2" y="654.4" width="1.6" height="4.0" fill="#7d7d7d"/>
<rect x="2335.6" y="624.8" width="2.2" height="9.0" fill="#8f8f8f"/>
<rect x="2557.3" y="640.3" width="1.6" height="13.5" fill="#8c8c8c"/>
<rect x="2346.8" y="664.6" width="2.4" height="9.5" fill="#959595"/>
<rect x="2521.8" y="612.7" width="1.3" height="13.2" fill="#848484"/>
<rect x="2586.9" y="604.9" width="2.5" height="13.5" fill="#7b7b7b"/>
<rect x="2421.7" y="664.8" width="1.9" height="13.7" fill="#a5a5a5"/>
<rect x="2423.1" y="660.9" width="2.1" height="3.8" fill="#858585"/>
<rect x="2509.6" y="622.5" width="1.8" height="3.3" fill="#878787"/>
<rect x="2446.8" y="599.6" width="1.5" height="7.8" fill="#8e8e8e"/>
<rect x="2477.1" y="660.4" width="1.8" height="8.3" fill="#8a8a8a"/>
<rect x="2476.5" y="660.5" width="1.4" height="5.6" fill="#9e9e9e"/>
<rect x="2377.4" y="661.8" width="1.3" height="9.1" fill="#8d8d8d"/>
<rect x="2570.4" y="668.2" width="2.5" height="10.2" fill="#a8a8a8"/>
<rect x="2527.6" y="671.5" width="2.4" height="8.5" fill="#8a8a8a"/>
<rect x="2573.5" y="680.5" width="2.4" height="12.0" fill="#9d9d9d"/>
<rect x="2497.1" y="608.3" width="1.3" height="11.0" fill="#a5a5a5"/>
<rect x="2533.6" y="671.7" width="1.6" height="11.1" fill="#9a9a9a"/>
<rect x="2441.9" y="671.8" width="1.7" height="9.6" fill="#9e9e9e"/>
<rect x="2526.0" y="651.7" width="2.1" height="7.1" fill="#989898"/>
<rect x="2330.7" y="621.5" width="1.9" height="4.6" fill="#7f7f7f"/>
<rect x="2521.6" y="648.0" width="2.1" height="4.5" fill="#a1a1a1"/>
<rect x="2309.5" y="659.9" width="2.4" height="8.2" fill="#a5a5a5"/>
<rect x="2479.2" y="665.1" width="2.2" height="5.1" fill="#9d9d9d"/>
<rect x="2517.0" y="636.5" width="1.7" height="5.6" fill="#828282"/>
<rect x="2491.7" y="655.3" width="2.2" height="9.8" fill="#8a8a8a"/>
<rect x="2475.9" y="665.2" width="1.4" height="9.9" fill="#8a8a8a"/>
<rect x="2390.1" y="624.9" width="1.7" height="10.5" fill="#858585"/>
<rect x="2575.1" y="647.2" width="1.8" height="13.0" fill="#7f7f7f"/>
<rect x="2320.5" y="674.7" width="1.3" height="3.3" fill="#999999"/>
<rect x="2418.7" y="602.2" width="2.0" height="6.7" fill="#828282"/>
<rect x="2408.7" y="619.3" width="2.4" height="8.6" fill="#999999"/>
<rect x="2519.0" y="666.8" width="1.3" height="3.1" fill="#a2a2a2"/>
<rect x="2442.6" y="633.6" width="1.5" height="12.5" fill="#949494"/>
<rect x="2531.9" y="657.8" width="1.5" height="3.7" fill="#a3a3a3"/>
<rect x="2477.9" y="631.9" width="1.9" height="12.9" fill="#a4a4a4"/>
<rect x="2379.0" y="649.9" width="1.2" height="7.2" fill="#9c9c9c"/>
<rect x="2449.3" y="626.0" width="1.7" height="6.5" fill="#9b9b9b"/>
<rect x="2580.6" y="659.4" width="1.6" height="13.4" fill="#787878"/>
<rect x="2344.9" y="668.7" width="2.2" height="4.1" fill="#a7a7a7"/>
<rect x="2528.2" y="639.7" width="2.3" height="5.2" fill="#848484"/>
<rect x="2301.9" y="638.7" width="2.5" height="13.1" fill="#969696"/>
<rect x="2311.8" y="637.6" width="2.1" height="7.8" fill="#8f8f8f"/>
<rect x="2417.9" y="670.0" width="1.5" height="11.8" fill="#979797"/>
<rect x="2313.0" y="640.7" width="2.0" height="3.1" fill="#909090"/>
<rect x="2570.2" y="641.0" width="2.2" height="4.8" fill="#909090"/>
<rect x="2461.2" y="659.3" width="1.9" height="7.4" fill="#7a7a7a"/>
<rect x="2389.6" y="605.0" width="1.8" height="8.5" fill="#858585"/>
<rect x="2404.7" y="599.8" width="2.3" height="13.4" fill="#8c8c8c"/>
<rect x="2587.3" y="659.6" width="1.6" height="8.6" fill="#9e9e9e"/>
<rect x="2540.4" y="664.5" width="2.3" height="7.9" fill="#868686"/>
<rect x="2529.7" y="680.4" width="1.4" height="3.5" fill="#9d9d9d"/>
<rect x="2495.8" y="610.6" width="2.4" height="3.2" fill="#a7a7a7"/>
<rect x="2564.4" y="604.2" width="1.8" height="11.2" fill="#8f8f8f"/>
<rect x="2387.3" y="658.0" width="1.4" height="7.4" fill="#787878"/>
<rect x="2314.4" y="634.0" width="1.9" height="11.0" fill="#a7a7a7"/>
<rect x="2556.8" y="673.2" width="1.9" height="8.9" fill="#9d9d9d"/>
<rect x="2483.9" y="613.5" width="1.8" height="9.0" fill="#959595"/>
<rect x="2441.7" y="641.2" width="1.6" height="9.7" fill="#828282"/>
<rect x="2589.0" y="661.4" width="2.3" height="6.1" fill="#a1a1a1"/>
<rect x="2395.8" y="622.6" width="1.2" height="5.2" fill="#888888"/>
<rect x="2564.1" y="679.6" width="2.5" height="9.9" fill="#7a7a7a"/>
<rect x="2458.7" y="679.6" width="1.2" height="5.9" fill="#a6a6a6"/>
<rect x="2476.5" y="676.6" width="2.3" height="3.9" fill="#999999"/>
<rect x="2551.2" y="625.1" width="2.0" height="3.3" fill="#8d8d8d"/>
<rect x="2345.5" y="611.9" width="2.0" height="4.0" fill="#a0a0a0"/>
<rect x="2326.7" y="614.8" width="1.5" height="12.1" fill="#999999"/>
<rect x="2354.3" y="666.8" width="1.3" height="9.4" fill="#8d8d8d"/>
<rect x="2494.3" y="618.7" width="1.7" height="4.4" fill="#777777"/>
<rect x="2316.8" y="608.5" width="2.3" height="6.3" fill="#a4a4a4"/>
<rect x="2414.6" y="660.4" width="2.5" height="12.1" fill="#868686"/>
<rect x="2503.1" y="673.4" width="1.3" height="11.2" fill="#a2a2a2"/>
<rect x="2522.9" y="648.6" width="1.3" height="3.5" fill="#767676"/>
<rect x="2460.5" y="648.6" width="2.3" height="4.1" fill="#919191"/>
<rect x="2340.2" y="647.6" width="1.5" height="5.9" fill="#858585"/>
<rect x="2528.5" y="607.2" width="1.4" height="5.6" fill="#9c9c9c"/>
<rect x="2496.4" y="634.5" width="1.2" height="4.7" fill="#a6a6a6"/>
<rect x="2514.5" y="604.0" width="2.3" height="10.0" fill="#858585"/>
<rect x="2579.5" y="613.0" width="1.8" height="7.8" fill="#a7a7a7"/>
<rect x="2491.2" y="660.2" width="1.6" height="10.9" fill="#939393"/>
<rect x="2487.6" y="626.5" width="1.4" height="5.2" fill="#a7a7a7"/>
<rect x="2576.0" y="612.4" width="1.6" height="13.9" fill="#a0a0a0"/>
<rect x="2488.8" y="638.2" width="1.2" height="7.7" fill="#969696"/>
<rect x="2448.2" y="675.4" width="1.6" height="9.9" fill="#a2a2a2"/>
<rect x="2510.8" y="651.7" width="2.1" height="11.1" fill="#868686"/>
<rect x="2564.9" y="660.6" width="2.2" height="11.3" fill="#878787"/>
<rect x="2586.4" y="659.3" width="1.6" height="13.1" fill="#8b8b8b"/>
<rect x="2567.4" y="681.8" width="1.4" height="10.7" fill="#8a8a8a"/>
<rect x="2503.1" y="599.7" width="1.9" height="6.7" fill="#a5a5a5"/>
<rect x="2531.0" y="673.1" width="2.3" height="5.3" fill="#868686"/>
<rect x="2447.8" y="653.6" width="1.2" height="5.7" fill="#9e9e9e"/>
<rect x="2412.2" y="652.1" width="1.9" height="4.1" fill="#a5a5a5"/>
<rect x="2479.5" y="616.0" width="2.4" height="12.8" fill="#949494"/>
<rect x="2540.3" y="619.3" width="1.5" height="3.2" fill="#999999"/>
<rect x="2549.0" y="611.0" width="1.6" height="4.6" fill="#888888"/>
<rect x="2466.7" y="661.2" width="2.2" height="7.0" fill="#9c9c9c"/>
<rect x="2573.8" y="647.9" width="1.7" height="13.7" fill="#979797"/>
<rect x="2438.0" y="616.0" width="2.3" height="6.9" fill="#a5a5a5"/>
<rect x="2486.9" y="628.2" width="1.9" height="6.6" fill="#939393"/>
<rect x="2588.7" y="656.1" width="1.9" height="7.0" fill="#939393"/>
<rect x="2582.3" y="614.3" width="1.6" height="11.8" fill="#909090"/>
<rect x="2407.7" y="619.8" width="1.5" height="6.5" fill="#9b9b9b"/>
<rect x="2423.1" y="624.4" width="1.9" height="9.0" fill="#999999"/>
<rect x="2432.9" y="620.6" width="2.5" height="11.5" fill="#838383"/>
<rect x="2416.2" y="672.1" width="1.7" height="14.0" fill="#a7a7a7"/>
<rect x="2512.9" y="673.8" width="1.2" height="3.5" fill="#a3a3a3"/>
<rect x="2488.8" y="607.9" width="1.2" height="11.5" fill="#848484"/>
<rect x="2541.0" y="660.6" width="2.0" height="8.7" fill="#999999"/>
<rect x="2449.4" y="628.1" width="1.5" height="9.8" fill="#a1a1a1"/>
<rect x="2574.2" y="651.1" width="1.6" height="4.8" fill="#999999"/>
<rect x="2484.7" y="631.7" width="1.7" height="3.2" fill="#8f8f8f"/>
<rect x="2421.6" y="680.9" width="2.5" height="11.5" fill="#888888"/>
<rect x="2529.6" y="658.6" width="2.0" height="5.7" fill="#9e9e9e"/>
<rect x="2512.6" y="644.3" width="1.5" height="5.8" fill="#8c8c8c"/>
<rect x="2495.0" y="633.7" width="1.3" height="5.3" fill="#a8a8a8"/>
<rect x="2467.8" y="672.5" width="1.4" height="12.8" fill="#848484"/>
<rect x="2443.7" y="599.2" width="2.0" height="5.4" fill="#9e9e9e"/>
<rect x="2432.9" y="642.7" width="2.1" height="10.1" fill="#9d9d9d"/>
<rect x="2543.8" y="606.2" width="2.1" height="4.4" fill="#939393"/>
<rect x="2534.6" y="659.4" width="2.1" height="11.5" fill="#929292"/>
<rect x="2571.2" y="654.6" width="2.3" height="8.3" fill="#8d8d8d"/>
<rect x="2465.5" y="648.3" width="1.4" height="13.8" fill="#8a8a8a"/>
<rect x="2419.6" y="653.0" width="1.8" height="8.2" fill="#8e8e8e"/>
<rect x="2469.7" y="647.1" width="1.8" height="4.7" fill="#818181"/>
<rect x="2496.9" y="640.2" width="1.6" height="7.5" fill="#a1a1a1"/>
<rect x="2444.7" y="642.8" width="1.7" height="13.6" fill="#919191"/>
<rect x="2529.7" y="640.3" width="2.4" height="11.6" fill="#878787"/>
<rect x="2495.5" y="638.3" width="2.0" height="8.0" fill="#848484"/>
<rect x="2453.2" y="619.4" width="1.6" height="7.8" fill="#8b8b8b"/>
<rect x="2579.8" y="650.3" width="1.3" height="6.5" fill="#9b9b9b"/>
<rect x="2514.4" y="646.4" width="2.0" height="3.5" fill="#a1a1a1"/>
<rect x="2507.4" y="654.5" width="1.7" height="6.9" fill="#898989"/>
<rect x="2545.2" y="660.8" width="1.9" height="8.9" fill="#8a8a8a"/>
<rect x="2584.9" y="602.2" width="1.6" height="9.2" fill="#a1a1a1"/>
<rect x="2583.8" y="647.5" width="1.5" height="10.9" fill="#a7a7a7"/>
<rect x="2485.8" y="671.4" width="1.6" height="3.3" fill="#9d9d9d"/>
<rect x="2432.7" y="599.8" width="2.1" height="6.6" fill="#a3a3a3"/>
<rect x="2435.7" y="648.3" width="2.2" height="12.6" fill="#9b9b9b"/>
<rect x="2493.3" y="617.9" width="1.9" height="6.0" fill="#8b8b8b"/>
<rect x="2533.4" y="619.6" width="1.5" height="9.9" fill="#9d9d9d"/>
<rect x="2568.1" y="673.0" width="2.4" height="7.6" fill="#818181"/>
<rect x="2474.6" y="622.7" width="1.3" height="7.3" fill="#8e8e8e"/>
<rect x="2513.3" y="661.3" width="2.4" height="7.9" fill="#9d9d9d"/>
<rect x="2540.8" y="668.6" width="2.2" height="6.9" fill="#949494"/>
<rect x="2454.6" y="654.6" width="1.3" height="10.8" fill="#9e9e9e"/>
<rect x="2581.3" y="601.8" width="1.8" height="13.4" fill="#a6a6a6"/>
<rect x="2474.7" y="636.8" width="1.6" height="10.2" fill="#878787"/>
<rect x="2524.8" y="627.1" width="1.6" height="3.3" fill="#a4a4a4"/>
<rect x="2539.8" y="610.1" width="2.0" height="8.6" fill="#838383"/>
<rect x="2556.2" y="679.9" width="2.2" height="10.2" fill="#919191"/>
<rect x="2447.2" y="655.1" width="2.2" height="12.6" fill="#818181"/>
<rect x="2589.6" y="674.1" width="1.5" height="10.6" fill="#838383"/>
<rect x="2422.2" y="664.0" width="2.5" height="9.0" fill="#838383"/>
<rect x="2468.5" y="622.3" width="2.2" height="12.4" fill="#9f9f9f"/>
<rect x="2494.2" y="621.3" width="1.3" height="7.4" fill="#9e9e9e"/>
<rect x="2514.9" y="643.8" width="1.4" height="12.6" fill="#9b9b9b"/>
<rect x="2420.5" y="620.2" width="1.9" height="10.2" fill="#a4a4a4"/>
<rect x="2442.7" y="628.8" width="1.6" height="7.2" fill="#9d9d9d"/>
<rect x="2463.9" y="632.2" width="1.3" height="11.6" fill="#9c9c9c"/>
<rect x="2494.2" y="633.1" width="1.4" height="7.8" fill="#808080"/>
<rect x="2536.5" y="625.9" width="1.5" height="5.7" fill="#9b9b9b"/>
<rect x="2532.7" y="649.4" width="1.8" height="3.3" fill="#919191"/>
<rect x="2433.5" y="660.8" width="2.3" height="7.4" fill="#959595"/>
<rect x="2445.8" y="671.0" width="1.7" height="3.6" fill="#8e8e8e"/>
<rect x="2420.8" y="652.0" width="2.4" height="6.3" fill="#a5a5a5"/>
<rect x="2407.8" y="615.3" width="2.1" height="10.3" fill="#878787"/>
<rect x="2464.0" y="680.8" width="1.7" height="13.3" fill="#9e9e9e"/>
<rect x="2584.4" y="653.5" width="2.4" height="7.6" fill="#999999"/>
<rect x="2528.3" y="673.9" width="1.3" height="3.6" fill="#7b7b7b"/>
<rect x="2452.7" y="679.6" width="1.7" height="10.9" fill="#9a9a9a"/>
<rect x="2483.6" y="639.4" width="2.4" height="6.8" fill="#9f9f9f"/>
<rect x="2411.1" y="649.6" width="1.7" height="13.3" fill="#808080"/>
<rect x="2409.6" y="643.7" width="1.9" height="7.1" fill="#9d9d9d"/>
<rect x="2482.6" y="649.4" width="1.9" height="9.6" fill="#969696"/>
<rect x="2440.0" y="621.6" width="2.4" height="10.4" fill="#7e7e7e"/>
<rect x="2409.9" y="636.4" width="2.3" height="13.4" fill="#868686"/>
<rect x="2516.5" y="605.0" width="1.3" height="11.9" fill="#a6a6a6"/>
<rect x="2467.6" y="624.7" width="1.3" height="6.8" fill="#8e8e8e"/>
<rect x="2440.1" y="601.7" width="2.3" height="8.2" fill="#a0a0a0"/>
<rect x="2503.2" y="609.1" width="1.5" height="8.0" fill="#939393"/>
<rect x="2567.3" y="615.2" width="1.8" height="8.9" fill="#929292"/>
<rect x="2413.3" y="675.0" width="1.5" height="12.8" fill="#a3a3a3"/>
<rect x="2486.5" y="670.3" width="1.3" height="6.4" fill="#a7a7a7"/>
<rect x="2468.7" y="602.5" width="1.6" height="5.4" fill="#a2a2a2"/>
<rect x="2583.7" y="621.8" width="1.4" height="4.3" fill="#a7a7a7"/>
<rect x="2490.2" y="609.8" width="1.9" height="6.4" fill="#9b9b9b"/>
<rect x="2501.4" y="663.2" width="2.3" height="7.9" fill="#9d9d9d"/>
<rect x="2515.1" y="607.2" width="1.6" height="6.5" fill="#a4a4a4"/>
<rect x="2565.6" y="657.3" width="1.4" height="10.5" fill="#777777"/>
<rect x="2414.9" y="636.1" width="2.5" height="6.2" fill="#7d7d7d"/>
<rect x="2518.3" y="624.6" width="2.3" height="5.0" fill="#a2a2a2"/>
<rect x="2490.8" y="639.1" width="2.0" height="4.3" fill="#9f9f9f"/>
<rect x="2568.4" y="667.1" width="1.5" height="11.9" fill="#a5a5a5"/>
<rect x="2416.8" y="618.7" width="2.1" height="9.0" fill="#9b9b9b"/>
<rect x="2516.9" y="658.3" width="1.3" height="7.4" fill="#8a8a8a"/>
<rect x="2509.9" y="658.6" width="1.9" height="7.5" fill="#a3a3a3"/>
<rect x="2517.1" y="638.7" width="1.3" height="7.4" fill="#8f8f8f"/>
<rect x="2608.3" y="461.3" width="2.1" height="8.1" fill="#878787"/>
<rect x="2572.2" y="401.0" width="1.9" height="8.8" fill="#a1a1a1"/>
<rect x="2593.6" y="428.0" width="1.9" height="13.9" fill="#909090"/>
<rect x="2553.0" y="348.7" width="2.0" height="6.9" fill="#898989"/>
<rect x="2550.8" y="453.7" width="1.5" height="4.4" fill="#959595"/>
<rect x="2591.1" y="422.7" width="1.6" height="10.6" fill="#818181"/>
<rect x="2596.1" y="493.3" width="2.2" height="10.2" fill="#969696"/>
<rect x="2546.5" y="379.3" width="2.1" height="9.0" fill="#787878"/>
<rect x="2591.8" y="554.5" width="2.3" height="9.6" fill="#959595"/>
<rect x="2593.2" y="350.9" width="2.2" height="8.9" fill="#a1a1a1"/>
<rect x="2604.7" y="438.0" width="2.2" height="3.5" fill="#a7a7a7"/>
<rect x="2606.1" y="542.9" width="2.1" height="3.3" fill="#a5a5a5"/>
<rect x="2562.5" y="486.5" width="1.7" height="9.5" fill="#a5a5a5"/>
<rect x="2548.4" y="384.4" width="2.2" height="11.2" fill="#949494"/>
<rect x="2601.1" y="389.3" width="1.3" height="5.7" fill="#a2a2a2"/>
<rect x="2562.5" y="484.8" width="1.9" height="8.3" fill="#898989"/>
<rect x="2550.3" y="528.7" width="1.7" height="7.9" fill="#979797"/>
<rect x="2545.3" y="515.7" width="1.6" height="6.7" fill="#898989"/>
<rect x="2545.0" y="512.2" width="2.2" height="10.3" fill="#949494"/>
<rect x="2600.6" y="437.7" width="2.3" height="8.9" fill="#8b8b8b"/>
<rect x="2574.0" y="426.1" width="2.5" height="3.6" fill="#a3a3a3"/>
<rect x="2595.2" y="347.8" width="1.4" height="13.0" fill="#a5a5a5"/>
<rect x="2567.2" y="348.8" width="1.2" height="11.3" fill="#a2a2a2"/>
<rect x="2551.1" y="534.7" width="1.4" height="3.5" fill="#9d9d9d"/>
<rect x="2583.4" y="510.4" width="1.9" height="4.4" fill="#a3a3a3"/>
<rect x="2597.2" y="539.7" width="2.3" height="10.7" fill="#969696"/>
<rect x="2574.2" y="483.5" width="1.4" height="12.0" fill="#898989"/>
<rect x="2598.6" y="399.1" width="2.2" height="4.3" fill="#a7a7a7"/>
<rect x="2550.8" y="354.3" width="1.9" height="8.6" fill="#9c9c9c"/>
<rect x="2583.7" y="456.1" width="1.7" height="4.1" fill="#949494"/>
<rect x="2609.2" y="458.6" width="2.1" height="10.1" fill="#9a9a9a"/>
<rect x="2587.7" y="370.2" width="1.5" height="5.5" fill="#929292"/>
<rect x="2562.5" y="549.3" width="1.3" height="4.0" fill="#9f9f9f"/>
<rect x="2546.3" y="356.4" width="1.7" height="5.9" fill="#959595"/>
<rect x="2582.1" y="516.8" width="1.5" height="13.2" fill="#939393"/>
<rect x="2568.1" y="387.7" width="2.3" height="9.2" fill="#868686"/>
<rect x="2553.0" y="364.2" width="2.5" height="7.4" fill="#9b9b9b"/>
<rect x="2549.9" y="567.0" width="1.8" height="5.4" fill="#999999"/>
<rect x="2608.1" y="544.7" width="2.4" height="6.8" fill="#999999"/>
<rect x="2597.7" y="415.9" width="2.1" height="9.9" fill="#a8a8a8"/>
<rect x="2599.6" y="482.4" width="2.1" height="3.9" fill="#7f7f7f"/>
<rect x="2605.4" y="563.1" width="1.3" height="12.5" fill="#9a9a9a"/>
<rect x="2585.2" y="524.0" width="1.4" height="12.5" fill="#858585"/>
<rect x="2542.3" y="570.2" width="2.0" height="8.3" fill="#a4a4a4"/>
<rect x="2554.8" y="419.8" width="1.6" height="10.2" fill="#9f9f9f"/>
<rect x="2569.6" y="478.4" width="1.7" height="9.0" fill="#a7a7a7"/>
<rect x="2598.0" y="409.8" width="2.0" height="9.1" fill="#878787"/>
<rect x="2552.9" y="441.4" width="2.3" height="9.5" fill="#979797"/>
<rect x="2575.9" y="450.8" width="1.6" height="3.4" fill="#a0a0a0"/>
<rect x="2585.7" y="364.2" width="2.3" height="12.8" fill="#a3a3a3"/>
<rect x="2593.4" y="420.2" width="1.7" height="5.9" fill="#919191"/>
<rect x="2545.6" y="389.6" width="2.3" height="10.6" fill="#7b7b7b"/>
<rect x="2553.8" y="400.4" width="1.8" height="12.1" fill="#8a8a8a"/>
<rect x="2583.7" y="512.4" width="2.0" height="9.3" fill="#a1a1a1"/>
<rect x="2579.4" y="491.4" width="2.3" height="7.7" fill="#a6a6a6"/>
<rect x="2580.2" y="485.5" width="1.4" height="12.7" fill="#8e8e8e"/>
<rect x="2564.9" y="479.5" width="2.0" height="11.6" fill="#989898"/>
<rect x="2594.9" y="427.3" width="2.2" height="10.3" fill="#949494"/>
<rect x="2593.4" y="348.9" width="2.1" height="9.8" fill="#9d9d9d"/>
<rect x="2549.2" y="463.7" width="2.1" height="10.0" fill="#a6a6a6"/>
<rect x="2225.0" y="217.9" width="2.3" height="8.5" fill="#bebebe"/>
<rect x="2230.1" y="219.5" width="2.1" height="6.9" fill="#c2c2c2"/>
<rect x="2233.8" y="218.2" width="3.0" height="8.8" fill="#dbdbdb"/>
<rect x="2239.2" y="217.2" width="2.1" height="8.3" fill="#c8c8c8"/>
<rect x="2246.0" y="217.7" width="3.3" height="9.0" fill="#c0c0c0"/>
<rect x="2251.3" y="218.5" width="3.8" height="10.2" fill="#dedede"/>
<rect x="2257.0" y="217.8" width="4.9" height="10.6" fill="#cdcdcd"/>
<rect x="2266.1" y="220.2" width="4.6" height="7.9" fill="#d3d3d3"/>
<rect x="2273.9" y="220.7" width="3.6" height="5.2" fill="#d8d8d8"/>
<rect x="2279.1" y="221.0" width="5.0" height="4.7" fill="#e1e1e1"/>
<rect x="2288.1" y="220.0" width="4.8" height="6.7" fill="#d9d9d9"/>
<rect x="2296.3" y="219.5" width="2.2" height="9.1" fill="#e5e5e5"/>
<rect x="2299.9" y="220.0" width="2.8" height="8.4" fill="#c8c8c8"/>
<rect x="2305.7" y="220.9" width="4.8" height="7.8" fill="#bcbcbc"/>
<rect x="2312.2" y="219.6" width="4.4" height="6.1" fill="#d8d8d8"/>
<rect x="2319.3" y="218.5" width="4.5" height="7.2" fill="#dbdbdb"/>
<rect x="2325.2" y="218.9" width="2.1" height="8.7" fill="#e9e9e9"/>
<rect x="2328.5" y="220.0" width="3.4" height="7.8" fill="#dfdfdf"/>
<rect x="2334.5" y="217.3" width="2.7" height="9.3" fill="#dfdfdf"/>
<rect x="2340.4" y="217.4" width="3.0" height="10.9" fill="#e5e5e5"/>
<rect x="2345.9" y="217.7" width="3.8" height="10.4" fill="#c0c0c0"/>
<rect x="2354.7" y="218.7" width="2.8" height="9.6" fill="#d5d5d5"/>
<rect x="2362.4" y="217.0" width="3.1" height="10.3" fill="#dcdcdc"/>
<rect x="2367.9" y="219.7" width="2.1" height="7.5" fill="#e6e6e6"/>
<rect x="2374.9" y="220.0" width="3.8" height="6.0" fill="#c0c0c0"/>
<rect x="2382.1" y="220.1" width="4.3" height="6.5" fill="#e1e1e1"/>
<rect x="2390.6" y="217.9" width="4.5" height="7.1" fill="#e6e6e6"/>
<rect x="2396.5" y="217.4" width="2.9" height="9.5" fill="#c5c5c5"/>
<rect x="2402.1" y="219.3" width="3.1" height="8.4" fill="#c3c3c3"/>
<rect x="2406.2" y="218.5" width="4.7" height="7.9" fill="#c0c0c0"/>
<rect x="2412.2" y="219.6" width="3.6" height="5.7" fill="#cccccc"/>
<rect x="2420.3" y="218.5" width="4.9" height="8.2" fill="#c1c1c1"/>
<rect x="2428.9" y="220.3" width="4.4" height="6.2" fill="#d0d0d0"/>
<rect x="2434.9" y="219.5" width="3.3" height="9.3" fill="#cfcfcf"/>
<rect x="2442.6" y="220.7" width="3.8" height="7.9" fill="#d8d8d8"/>
<rect x="2225.0" y="328.9" width="3.9" height="9.6" fill="#e8e8e8"/>
<rect x="2233.0" y="328.3" width="2.6" height="10.0" fill="#dedede"/>
<rect x="2240.2" y="328.1" width="2.4" height="9.5" fill="#bbbbbb"/>
<rect x="2246.0" y="326.8" width="3.5" height="12.9" fill="#c2c2c2"/>
<rect x="2252.6" y="328.1" width="4.6" height="12.8" fill="#dbdbdb"/>
<rect x="2259.6" y="328.2" width="4.7" height="11.2" fill="#cccccc"/>
<rect x="2265.4" y="325.7" width="3.3" height="12.2" fill="#d8d8d8"/>
<rect x="2271.7" y="325.5" width="2.3" height="14.7" fill="#c6c6c6"/>
<rect x="2275.4" y="327.2" width="3.0" height="11.8" fill="#d4d4d4"/>
<rect x="2281.4" y="326.6" width="2.2" height="11.7" fill="#bcbcbc"/>
<rect x="2287.3" y="328.9" width="4.7" height="8.2" fill="#cfcfcf"/>
<rect x="2294.2" y="325.2" width="2.2" height="13.1" fill="#d7d7d7"/>
<rect x="2297.6" y="328.4" width="4.2" height="10.1" fill="#d3d3d3"/>
<rect x="2304.2" y="326.0" width="2.1" height="11.0" fill="#e5e5e5"/>
<rect x="2308.0" y="325.1" width="4.6" height="15.2" fill="#d2d2d2"/>
<rect x="2314.3" y="328.2" width="4.4" height="9.8" fill="#dcdcdc"/>
<rect x="2322.3" y="328.2" width="4.8" height="10.1" fill="#e9e9e9"/>
<rect x="2328.1" y="327.1" width="3.3" height="10.9" fill="#c4c4c4"/>
<rect x="2334.2" y="327.5" width="3.6" height="10.4" fill="#d6d6d6"/>
<rect x="2342.6" y="328.4" width="2.5" height="10.2" fill="#e2e2e2"/>
<rect x="2349.8" y="328.5" width="4.5" height="10.9" fill="#c8c8c8"/>
<rect x="2357.1" y="327.2" width="3.5" height="11.1" fill="#e8e8e8"/>
<rect x="2361.7" y="326.0" width="2.4" height="13.6" fill="#d1d1d1"/>
<rect x="2365.2" y="325.8" width="2.6" height="13.0" fill="#cecece"/>
<rect x="2372.1" y="327.8" width="2.0" height="11.7" fill="#e3e3e3"/>
<rect x="2376.0" y="325.8" width="4.8" height="14.6" fill="#e6e6e6"/>
<rect x="2384.5" y="326.8" width="4.3" height="10.6" fill="#e7e7e7"/>
<rect x="2393.1" y="328.7" width="4.4" height="11.7" fill="#e4e4e4"/>
<rect x="2399.2" y="326.1" width="4.0" height="13.3" fill="#cdcdcd"/>
<rect x="2404.7" y="328.5" width="3.6" height="11.1" fill="#c7c7c7"/>
<rect x="2412.5" y="325.4" width="2.8" height="15.4" fill="#e0e0e0"/>
<rect x="2420.1" y="327.3" width="4.1" height="10.9" fill="#e1e1e1"/>
<rect x="2429.1" y="325.6" width="3.9" height="11.4" fill="#dfdfdf"/>
<rect x="2435.6" y="328.6" width="4.7" height="10.9" fill="#d4d4d4"/>
<rect x="2441.9" y="327.8" width="4.8" height="10.6" fill="#c9c9c9"/>
<rect x="2450.8" y="328.5" width="4.8" height="10.7" fill="#c1c1c1"/>
<rect x="2459.2" y="326.7" width="2.2" height="12.6" fill="#e7e7e7"/>
<rect x="2465.3" y="327.2" width="2.4" height="11.2" fill="#cbcbcb"/>
<rect x="2471.0" y="327.9" width="2.2" height="10.7" fill="#e7e7e7"/>
<rect x="2477.8" y="325.2" width="2.9" height="13.1" fill="#dfdfdf"/>
<rect x="2484.7" y="326.6" width="3.0" height="11.1" fill="#dcdcdc"/>
<rect x="2489.7" y="327.8" width="2.3" height="12.0" fill="#e7e7e7"/>
<rect x="2496.4" y="325.9" width="3.3" height="15.0" fill="#d9d9d9"/>
<rect x="2503.6" y="326.7" width="2.3" height="12.8" fill="#d6d6d6"/>
<rect x="2509.3" y="327.8" width="3.4" height="12.3" fill="#e1e1e1"/>
<rect x="2515.6" y="327.5" width="3.8" height="9.9" fill="#e9e9e9"/>
<rect x="2520.4" y="327.1" width="4.1" height="11.3" fill="#cacaca"/>
<rect x="2527.3" y="326.6" width="3.3" height="10.7" fill="#cecece"/>
<rect x="2229.0" y="583.3" width="2.1" height="11.7" fill="#d3d3d3"/>
<rect x="2232.8" y="583.4" width="2.9" height="10.8" fill="#d6d6d6"/>
<rect x="2239.2" y="583.9" width="3.9" height="10.4" fill="#d8d8d8"/>
<rect x="2246.7" y="585.9" width="3.1" height="6.8" fill="#e5e5e5"/>
<rect x="2251.4" y="584.5" width="2.7" height="8.1" fill="#d5d5d5"/>
<rect x="2258.3" y="582.0" width="3.8" height="10.1" fill="#e7e7e7"/>
<rect x="2264.6" y="582.8" width="4.4" height="10.6" fill="#dddddd"/>
<rect x="2271.6" y="582.5" width="4.6" height="12.8" fill="#dbdbdb"/>
<rect x="2280.1" y="584.7" width="2.1" height="10.4" fill="#d9d9d9"/>
<rect x="2285.1" y="583.6" width="4.2" height="9.3" fill="#cecece"/>
<rect x="2294.1" y="582.7" width="3.1" height="12.0" fill="#e8e8e8"/>
<rect x="2301.0" y="582.4" width="3.0" height="10.8" fill="#e0e0e0"/>
<rect x="2305.5" y="585.3" width="3.1" height="8.3" fill="#e8e8e8"/>
<rect x="2312.0" y="584.1" width="2.5" height="9.1" fill="#e9e9e9"/>
<rect x="2316.8" y="585.3" width="2.4" height="7.8" fill="#c4c4c4"/>
<rect x="2322.1" y="583.8" width="4.9" height="10.1" fill="#c2c2c2"/>
<rect x="2331.9" y="584.2" width="3.1" height="10.6" fill="#e8e8e8"/>
<rect x="2337.7" y="585.2" width="4.0" height="7.5" fill="#d8d8d8"/>
<rect x="2346.0" y="583.4" width="4.1" height="10.7" fill="#dadada"/>
<rect x="2353.4" y="583.7" width="4.0" height="9.0" fill="#e5e5e5"/>
<rect x="2359.1" y="582.7" width="4.3" height="11.9" fill="#e2e2e2"/>
<rect x="2364.5" y="582.9" width="4.9" height="9.7" fill="#dbdbdb"/>
<rect x="2372.5" y="583.4" width="4.8" height="8.8" fill="#e1e1e1"/>
<rect x="2380.3" y="585.2" width="3.4" height="10.6" fill="#cacaca"/>
<rect x="2386.2" y="585.7" width="4.1" height="7.6" fill="#c5c5c5"/>
<rect x="2394.7" y="585.2" width="4.9" height="9.6" fill="#e3e3e3"/>
<rect x="2401.1" y="584.9" width="3.7" height="9.0" fill="#cfcfcf"/>
<rect x="2408.1" y="583.8" width="3.8" height="11.0" fill="#c8c8c8"/>
<rect x="2416.7" y="582.5" width="4.8" height="12.7" fill="#dadada"/>
<rect x="2425.8" y="586.0" width="3.8" height="8.7" fill="#d3d3d3"/>
<rect x="2431.3" y="582.9" width="4.3" height="12.1" fill="#e7e7e7"/>
<rect x="2437.3" y="585.4" width="3.0" height="9.5" fill="#cacaca"/>
<rect x="2444.8" y="583.4" width="4.7" height="9.9" fill="#dcdcdc"/>
<rect x="2453.6" y="582.5" width="4.0" height="10.7" fill="#c6c6c6"/>
<rect x="2461.9" y="582.8" width="2.2" height="11.2" fill="#e4e4e4"/>
<rect x="2466.6" y="582.6" width="3.2" height="10.6" fill="#cecece"/>
<rect x="2472.0" y="583.0" width="2.1" height="12.3" fill="#c3c3c3"/>
<rect x="2475.9" y="584.0" width="4.5" height="8.3" fill="#dadada"/>
<rect x="2483.4" y="584.8" width="3.7" height="10.3" fill="#cccccc"/>
<rect x="2490.7" y="584.0" width="4.0" height="10.2" fill="#e4e4e4"/>
<rect x="2496.2" y="584.7" width="2.3" height="8.2" fill="#d0d0d0"/>
<rect x="2503.4" y="583.0" width="2.9" height="10.4" fill="#dadada"/>
<rect x="2507.4" y="582.4" width="2.2" height="12.2" fill="#bcbcbc"/>
<rect x="2513.6" y="584.3" width="3.9" height="10.7" fill="#c6c6c6"/>
<rect x="2522.3" y="583.2" width="3.4" height="11.0" fill="#dadada"/>
<rect x="2530.2" y="583.1" width="3.6" height="12.6" fill="#e5e5e5"/>
<rect x="2538.1" y="582.9" width="4.1" height="9.6" fill="#d7d7d7"/>
<rect x="2229.0" y="693.0" width="2.1" height="9.8" fill="#e3e3e3"/>
<rect x="2235.3" y="692.0" width="3.3" height="10.6" fill="#e7e7e7"/>
<rect x="2243.3" y="694.7" width="3.6" height="11.3" fill="#e6e6e6"/>
<rect x="2248.6" y="692.7" width="2.6" height="10.7" fill="#cccccc"/>
<rect x="2253.0" y="693.3" width="4.5" height="10.9" fill="#e2e2e2"/>
<rect x="2261.1" y="692.6" width="4.7" height="12.8" fill="#c0c0c0"/>
<rect x="2269.5" y="691.2" width="3.0" height="12.7" fill="#dcdcdc"/>
<rect x="2277.2" y="692.4" width="2.9" height="9.9" fill="#dfdfdf"/>
<rect x="2281.6" y="691.7" width="3.1" height="11.4" fill="#dfdfdf"/>
<rect x="2287.6" y="693.0" width="2.1" height="12.0" fill="#d8d8d8"/>
<rect x="2291.7" y="694.6" width="2.2" height="9.0" fill="#e4e4e4"/>
<rect x="2297.4" y="695.0" width="2.1" height="10.1" fill="#bdbdbd"/>
<rect x="2301.7" y="692.6" width="2.3" height="10.6" fill="#d8d8d8"/>
<rect x="2306.9" y="692.9" width="5.0" height="9.3" fill="#dfdfdf"/>
<rect x="2314.5" y="691.8" width="4.6" height="13.4" fill="#e7e7e7"/>
<rect x="2321.5" y="693.7" width="3.4" height="8.7" fill="#dadada"/>
<rect x="2329.7" y="693.5" width="4.1" height="10.0" fill="#cbcbcb"/>
<rect x="2338.3" y="694.7" width="2.7" height="8.4" fill="#d1d1d1"/>
<rect x="2342.6" y="693.7" width="4.4" height="8.9" fill="#c7c7c7"/>
<rect x="2348.6" y="693.0" width="2.6" height="9.9" fill="#d2d2d2"/>
<rect x="2352.6" y="692.8" width="3.5" height="9.9" fill="#e9e9e9"/>
<rect x="2359.1" y="691.8" width="2.8" height="14.2" fill="#bcbcbc"/>
<rect x="2363.7" y="692.6" width="2.7" height="10.1" fill="#e5e5e5"/>
<rect x="2370.8" y="694.9" width="3.9" height="7.3" fill="#cdcdcd"/>
<rect x="2377.3" y="695.0" width="4.9" height="9.7" fill="#cbcbcb"/>
<rect x="2386.4" y="694.9" width="2.2" height="10.3" fill="#e3e3e3"/>
<rect x="2392.1" y="694.5" width="3.4" height="10.5" fill="#e0e0e0"/>
<rect x="2397.4" y="693.5" width="4.3" height="9.9" fill="#e3e3e3"/>
<rect x="2404.6" y="694.3" width="4.0" height="8.1" fill="#dddddd"/>
<rect x="2409.8" y="694.6" width="3.4" height="8.6" fill="#c6c6c6"/>
<rect x="2417.2" y="691.5" width="4.2" height="14.0" fill="#dbdbdb"/>
<rect x="2423.4" y="694.4" width="2.1" height="7.9" fill="#e8e8e8"/>
<rect x="2427.4" y="691.3" width="4.9" height="11.6" fill="#d1d1d1"/>
<rect x="2435.3" y="693.9" width="4.9" height="10.7" fill="#e1e1e1"/>
<rect x="2442.9" y="691.2" width="3.6" height="10.8" fill="#bebebe"/>
<rect x="2447.5" y="693.8" width="2.7" height="9.2" fill="#c3c3c3"/>
<rect x="2452.5" y="694.7" width="3.5" height="10.4" fill="#c6c6c6"/>
<rect x="2458.3" y="694.8" width="2.5" height="7.5" fill="#bdbdbd"/>
<rect x="2464.5" y="691.5" width="3.1" height="11.2" fill="#cdcdcd"/>
<rect x="2468.6" y="694.2" width="2.7" height="11.1" fill="#e9e9e9"/>
<rect x="2474.7" y="694.2" width="4.5" height="8.7" fill="#dfdfdf"/>
<rect x="2480.7" y="691.3" width="4.6" height="13.2" fill="#e8e8e8"/>
<rect x="2489.4" y="694.9" width="2.8" height="8.5" fill="#c0c0c0"/>
<rect x="2495.4" y="694.6" width="3.0" height="11.0" fill="#d9d9d9"/>
<rect x="2500.2" y="691.6" width="3.9" height="13.7" fill="#e4e4e4"/>
<rect x="2507.4" y="691.2" width="3.3" height="14.5" fill="#dcdcdc"/>
<rect x="2512.9" y="691.9" width="4.6" height="10.5" fill="#e7e7e7"/>
<rect x="2518.6" y="692.8" width="3.4" height="10.6" fill="#e8e8e8"/>
<rect x="2523.2" y="692.7" width="4.6" height="11.8" fill="#dfdfdf"/>
<rect x="2530.1" y="691.1" width="2.3" height="14.7" fill="#e9e9e9"/>
<rect x="2534.0" y="692.8" width="4.1" height="9.6" fill="#c9c9c9"/>
<rect x="2539.8" y="692.8" width="2.6" height="13.1" fill="#d4d4d4"/>
<rect x="2545.2" y="694.1" width="4.0" height="8.6" fill="#cacaca"/>
<rect x="2553.6" y="694.7" width="4.9" height="10.1" fill="#e0e0e0"/>
<rect x="2560.3" y="693.2" width="4.6" height="11.7" fill="#c6c6c6"/>
<rect x="2569.7" y="691.5" width="2.4" height="10.9" fill="#e6e6e6"/>
<rect x="2573.3" y="694.6" width="4.2" height="8.0" fill="#c3c3c3"/>
<rect x="2582.1" y="691.6" width="2.4" height="12.8" fill="#e5e5e5"/>
<rect x="2587.3" y="691.0" width="4.6" height="11.3" fill="#e0e0e0"/>
<rect x="2596.6" y="691.5" width="2.5" height="12.5" fill="#c8c8c8"/>
<rect x="2602.8" y="694.8" width="4.0" height="10.2" fill="#dadada"/>
<rect x="2611.7" y="692.0" width="4.0" height="10.5" fill="#d6d6d6"/>
<rect x="2619.5" y="693.9" width="3.0" height="8.2" fill="#e5e5e5"/>
<rect x="2625.8" y="691.6" width="3.0" height="12.1" fill="#cccccc"/>
<rect x="2633.2" y="692.4" width="2.7" height="12.1" fill="#e5e5e5"/>
<rect x="2639.1" y="691.1" width="2.4" height="14.1" fill="#dbdbdb"/>
<rect x="2644.9" y="693.6" width="3.6" height="11.1" fill="#d7d7d7"/>
<rect x="2653.4" y="694.3" width="4.7" height="10.6" fill="#e9e9e9"/>
<rect x="2663.0" y="691.2" width="2.0" height="13.7" fill="#e5e5e5"/>
<rect x="2667.9" y="692.0" width="3.7" height="13.5" fill="#dddddd"/>
<rect x="2676.0" y="694.0" width="4.1" height="11.9" fill="#d0d0d0"/>
<rect x="2684.9" y="693.1" width="4.7" height="10.9" fill="#e4e4e4"/>
<path d="M2201,57 C2201,98 2216,113 2247,118 L2284,124" fill="none" stroke="#a4a4a4" stroke-width="15"/>
<path d="M2196,57 C2196,100 2213,118 2245,122 L2284,127" fill="none" stroke="#d5d5d5" stroke-width="2.5"/>
<path d="M2201,57 C2201,97 2217,113 2247,118 L2284,123" fill="none" stroke="#d5d5d5" stroke-width="2.5"/>
<path d="M2207,57 C2207,93 2221,108 2249,113 L2284,119" fill="none" stroke="#d5d5d5" stroke-width="2.5"/>
<path d="M2233,59 C2236,80 2252,96 2275,108" fill="none" stroke="#9f9f9f" stroke-width="3"/>
<rect x="2091.0" y="56.5" width="118.0" height="2.0" fill="#888888"/>
<rect x="2095.0" y="56.1" width="3.2" height="2.9" fill="#bebebe"/>
<rect x="2108.5" y="55.9" width="2.7" height="3.1" fill="#b9b9b9"/>
<rect x="2122.7" y="56.0" width="2.3" height="3.0" fill="#b9b9b9"/>
<rect x="2136.1" y="55.9" width="2.1" height="3.2" fill="#c6c6c6"/>
<rect x="2152.3" y="56.5" width="2.4" height="2.0" fill="#acacac"/>
<rect x="2163.4" y="56.1" width="2.7" height="2.7" fill="#c4c4c4"/>
<rect x="2175.1" y="55.9" width="3.1" height="3.1" fill="#c2c2c2"/>
<rect x="2190.4" y="56.3" width="2.1" height="2.5" fill="#c3c3c3"/>
<rect x="2203.8" y="56.0" width="3.0" height="3.0" fill="#c0c0c0"/>
<rect x="2135.8" y="53.0" width="2.5" height="15.0" fill="#bfbfbf"/>
<rect x="2259.0" y="123.0" width="26.0" height="96.0" fill="#979797"/>
<rect x="2261.6" y="123.0" width="2.8" height="5.1" fill="#d0d0d0"/>
<rect x="2261.9" y="129.7" width="2.1" height="6.6" fill="#d2d2d2"/>
<rect x="2261.7" y="138.0" width="2.5" height="5.7" fill="#d1d1d1"/>
<rect x="2262.0" y="149.6" width="2.1" height="9.0" fill="#d8d8d8"/>
<rect x="2261.4" y="159.0" width="3.1" height="5.3" fill="#e4e4e4"/>
<rect x="2262.0" y="167.7" width="2.0" height="6.1" fill="#e2e2e2"/>
<rect x="2261.4" y="176.0" width="3.2" height="8.5" fill="#e3e3e3"/>
<rect x="2261.5" y="185.7" width="3.0" height="8.2" fill="#e4e4e4"/>
<rect x="2262.1" y="197.1" width="1.9" height="9.0" fill="#e6e6e6"/>
<rect x="2261.6" y="205.6" width="2.8" height="8.5" fill="#e2e2e2"/>
<rect x="2261.4" y="212.5" width="3.1" height="6.0" fill="#e0e0e0"/>
<rect x="2270.4" y="123.0" width="3.1" height="6.1" fill="#cecece"/>
<rect x="2270.8" y="131.7" width="2.4" height="5.5" fill="#e6e6e6"/>
<rect x="2270.6" y="143.2" width="2.9" height="8.3" fill="#dedede"/>
<rect x="2270.7" y="151.5" width="2.6" height="5.7" fill="#cbcbcb"/>
<rect x="2270.6" y="162.2" width="2.7" height="7.3" fill="#d9d9d9"/>
<rect x="2270.5" y="172.6" width="3.1" height="7.8" fill="#e1e1e1"/>
<rect x="2270.4" y="183.2" width="3.1" height="8.7" fill="#dbdbdb"/>
<rect x="2270.5" y="191.0" width="3.0" height="6.5" fill="#cdcdcd"/>
<rect x="2270.4" y="197.7" width="3.3" height="5.0" fill="#e5e5e5"/>
<rect x="2270.4" y="206.6" width="3.3" height="6.5" fill="#dadada"/>
<rect x="2270.9" y="215.1" width="2.2" height="7.5" fill="#d6d6d6"/>
<rect x="2280.0" y="123.0" width="2.0" height="8.1" fill="#cbcbcb"/>
<rect x="2279.9" y="133.2" width="2.2" height="5.0" fill="#dadada"/>
<rect x="2279.7" y="144.3" width="2.6" height="5.2" fill="#d7d7d7"/>
<rect x="2279.3" y="154.5" width="3.4" height="5.3" fill="#dcdcdc"/>
<rect x="2279.7" y="161.3" width="2.5" height="8.5" fill="#dedede"/>
<rect x="2279.8" y="171.0" width="2.4" height="7.9" fill="#dddddd"/>
<rect x="2279.4" y="180.3" width="3.3" height="7.1" fill="#d5d5d5"/>
<rect x="2279.8" y="188.1" width="2.4" height="8.8" fill="#d8d8d8"/>
<rect x="2279.4" y="194.6" width="3.3" height="8.1" fill="#e3e3e3"/>
<rect x="2279.4" y="204.7" width="3.2" height="5.5" fill="#e3e3e3"/>
<rect x="2279.3" y="211.2" width="3.3" height="5.9" fill="#cfcfcf"/>
<rect x="2260.0" y="123.0" width="24.0" height="3.0" fill="#bbbbbb"/>
<rect x="2262.7" y="140.3" width="18.7" height="1.8" fill="#b4b4b4"/>
<rect x="2260.6" y="152.0" width="22.9" height="3.1" fill="#c3c3c3"/>
<rect x="2263.8" y="166.7" width="16.4" height="2.6" fill="#c0c0c0"/>
<rect x="2264.1" y="182.5" width="15.9" height="2.1" fill="#bcbcbc"/>
<rect x="2258.1" y="197.2" width="27.8" height="3.1" fill="#c1c1c1"/>
<rect x="2259.4" y="210.8" width="25.2" height="2.4" fill="#b0b0b0"/>
<rect x="2257.0" y="341.0" width="26.0" height="242.0" fill="#979797"/>
<rect x="2259.6" y="341.0" width="2.7" height="5.9" fill="#cfcfcf"/>
<rect x="2259.6" y="349.5" width="2.9" height="8.2" fill="#cccccc"/>
<rect x="2260.0" y="355.9" width="2.0" height="6.3" fill="#d7d7d7"/>
<rect x="2259.9" y="363.8" width="2.1" height="7.9" fill="#dedede"/>
<rect x="2259.7" y="372.2" width="2.5" height="7.1" fill="#d7d7d7"/>
<rect x="2259.8" y="381.9" width="2.3" height="5.0" fill="#cccccc"/>
<rect x="2259.5" y="388.3" width="3.1" height="7.4" fill="#dddddd"/>
<rect x="2259.7" y="396.4" width="2.7" height="7.4" fill="#d3d3d3"/>
<rect x="2260.0" y="403.3" width="2.0" height="6.6" fill="#e0e0e0"/>
<rect x="2260.0" y="412.9" width="2.0" height="6.7" fill="#cdcdcd"/>
<rect x="2259.3" y="422.2" width="3.4" height="6.7" fill="#dcdcdc"/>
<rect x="2259.9" y="431.5" width="2.2" height="6.8" fill="#d9d9d9"/>
<rect x="2259.7" y="439.1" width="2.5" height="7.5" fill="#d6d6d6"/>
<rect x="2259.4" y="449.1" width="3.2" height="7.1" fill="#e1e1e1"/>
<rect x="2259.4" y="460.5" width="3.1" height="7.7" fill="#e5e5e5"/>
<rect x="2260.0" y="469.1" width="2.0" height="5.3" fill="#e6e6e6"/>
<rect x="2259.9" y="476.7" width="2.2" height="5.5" fill="#d1d1d1"/>
<rect x="2259.6" y="483.5" width="2.7" height="7.1" fill="#e1e1e1"/>
<rect x="2259.8" y="494.5" width="2.4" height="6.4" fill="#d8d8d8"/>
<rect x="2259.8" y="503.7" width="2.5" height="8.7" fill="#dcdcdc"/>
<rect x="2259.4" y="511.8" width="3.2" height="7.3" fill="#dbdbdb"/>
<rect x="2259.8" y="519.1" width="2.4" height="7.0" fill="#e3e3e3"/>
<rect x="2260.1" y="529.6" width="1.8" height="5.5" fill="#d4d4d4"/>
<rect x="2259.9" y="537.8" width="2.2" height="8.5" fill="#e3e3e3"/>
<rect x="2260.0" y="544.9" width="2.1" height="5.9" fill="#d2d2d2"/>
<rect x="2260.0" y="551.8" width="1.9" height="8.7" fill="#d7d7d7"/>
<rect x="2259.4" y="561.5" width="3.2" height="8.9" fill="#e1e1e1"/>
<rect x="2259.7" y="570.3" width="2.6" height="5.7" fill="#d6d6d6"/>
<rect x="2260.1" y="581.9" width="1.9" height="9.0" fill="#d1d1d1"/>
<rect x="2268.8" y="341.0" width="2.4" height="8.9" fill="#d7d7d7"/>
<rect x="2269.0" y="350.4" width="2.1" height="7.0" fill="#d0d0d0"/>
<rect x="2268.6" y="360.4" width="2.8" height="5.1" fill="#cecece"/>
<rect x="2268.6" y="371.6" width="2.7" height="5.4" fill="#cccccc"/>
<rect x="2268.4" y="379.4" width="3.3" height="5.8" fill="#e3e3e3"/>
<rect x="2269.0" y="390.2" width="1.9" height="7.1" fill="#d1d1d1"/>
<rect x="2268.4" y="396.5" width="3.2" height="7.1" fill="#cbcbcb"/>
<rect x="2268.8" y="403.7" width="2.3" height="8.2" fill="#e2e2e2"/>
<rect x="2268.8" y="412.0" width="2.4" height="6.6" fill="#d7d7d7"/>
<rect x="2268.7" y="419.9" width="2.7" height="5.5" fill="#e1e1e1"/>
<rect x="2268.3" y="426.6" width="3.4" height="7.0" fill="#dbdbdb"/>
<rect x="2268.9" y="435.3" width="2.1" height="5.5" fill="#cccccc"/>
<rect x="2269.0" y="443.0" width="2.0" height="7.1" fill="#e0e0e0"/>
<rect x="2268.5" y="449.4" width="3.0" height="6.3" fill="#e6e6e6"/>
<rect x="2268.8" y="458.3" width="2.4" height="5.0" fill="#e2e2e2"/>
<rect x="2268.7" y="466.2" width="2.7" height="4.9" fill="#dfdfdf"/>
<rect x="2269.0" y="473.1" width="2.0" height="4.9" fill="#d5d5d5"/>
<rect x="2268.8" y="483.2" width="2.4" height="5.1" fill="#e6e6e6"/>
<rect x="2268.5" y="493.1" width="3.0" height="7.8" fill="#d0d0d0"/>
<rect x="2268.4" y="504.4" width="3.1" height="7.7" fill="#d8d8d8"/>
<rect x="2268.3" y="513.3" width="3.3" height="6.4" fill="#e6e6e6"/>
<rect x="2268.8" y="523.4" width="2.5" height="5.7" fill="#e0e0e0"/>
<rect x="2268.7" y="534.0" width="2.6" height="5.5" fill="#d9d9d9"/>
<rect x="2268.4" y="543.8" width="3.2" height="7.3" fill="#dcdcdc"/>
<rect x="2268.5" y="553.3" width="3.0" height="6.9" fill="#cccccc"/>
<rect x="2268.9" y="560.0" width="2.3" height="7.9" fill="#dddddd"/>
<rect x="2268.3" y="571.3" width="3.3" height="6.2" fill="#e3e3e3"/>
<rect x="2268.4" y="581.2" width="3.1" height="8.1" fill="#dbdbdb"/>
<rect x="2277.4" y="341.0" width="3.2" height="5.5" fill="#e5e5e5"/>
<rect x="2278.0" y="351.0" width="2.0" height="4.9" fill="#d6d6d6"/>
<rect x="2277.8" y="361.5" width="2.4" height="9.0" fill="#cbcbcb"/>
<rect x="2277.7" y="371.2" width="2.6" height="7.3" fill="#dcdcdc"/>
<rect x="2277.9" y="378.9" width="2.3" height="5.6" fill="#d8d8d8"/>
<rect x="2278.0" y="388.0" width="2.0" height="8.8" fill="#dddddd"/>
<rect x="2277.9" y="394.7" width="2.3" height="5.3" fill="#dedede"/>
<rect x="2277.8" y="403.1" width="2.5" height="6.3" fill="#cfcfcf"/>
<rect x="2278.0" y="414.0" width="2.0" height="5.7" fill="#dddddd"/>
<rect x="2278.1" y="425.3" width="1.9" height="7.2" fill="#e0e0e0"/>
<rect x="2277.5" y="435.3" width="3.0" height="7.4" fill="#e5e5e5"/>
<rect x="2277.9" y="445.0" width="2.2" height="8.0" fill="#cfcfcf"/>
<rect x="2278.0" y="453.6" width="2.1" height="5.1" fill="#dedede"/>
<rect x="2277.9" y="464.5" width="2.3" height="5.7" fill="#dfdfdf"/>
<rect x="2277.6" y="474.3" width="2.7" height="7.6" fill="#cbcbcb"/>
<rect x="2277.3" y="482.9" width="3.3" height="6.3" fill="#e5e5e5"/>
<rect x="2278.0" y="490.5" width="2.1" height="5.7" fill="#dadada"/>
<rect x="2277.5" y="501.1" width="3.0" height="8.3" fill="#dddddd"/>
<rect x="2277.4" y="512.3" width="3.2" height="6.1" fill="#cfcfcf"/>
<rect x="2277.8" y="518.7" width="2.3" height="5.6" fill="#dbdbdb"/>
<rect x="2277.6" y="526.3" width="2.7" height="5.2" fill="#d3d3d3"/>
<rect x="2277.5" y="534.3" width="3.1" height="7.5" fill="#e5e5e5"/>
<rect x="2277.4" y="544.5" width="3.3" height="6.9" fill="#d2d2d2"/>
<rect x="2277.4" y="551.9" width="3.3" height="7.9" fill="#dcdcdc"/>
<rect x="2277.5" y="562.4" width="3.1" height="5.1" fill="#cfcfcf"/>
<rect x="2277.8" y="569.1" width="2.5" height="5.4" fill="#e0e0e0"/>
<rect x="2277.5" y="577.6" width="3.0" height="7.8" fill="#d5d5d5"/>
<rect x="2259.3" y="341.0" width="21.4" height="1.8" fill="#b7b7b7"/>
<rect x="2260.6" y="351.6" width="18.9" height="2.8" fill="#ababab"/>
<rect x="2256.4" y="368.8" width="27.2" height="2.5" fill="#bfbfbf"/>
<rect x="2259.1" y="384.4" width="21.8" height="2.0" fill="#c3c3c3"/>
<rect x="2260.1" y="400.3" width="19.8" height="3.2" fill="#c0c0c0"/>
<rect x="2261.2" y="410.6" width="17.5" height="3.1" fill="#c0c0c0"/>
<rect x="2260.8" y="423.3" width="18.4" height="2.4" fill="#b5b5b5"/>
<rect x="2261.1" y="437.4" width="17.9" height="1.9" fill="#acacac"/>
<rect x="2258.9" y="453.3" width="22.1" height="1.9" fill="#b7b7b7"/>
<rect x="2260.1" y="464.9" width="19.8" height="2.9" fill="#b6b6b6"/>
<rect x="2258.8" y="481.2" width="22.4" height="2.8" fill="#c6c6c6"/>
<rect x="2255.9" y="495.4" width="28.1" height="2.0" fill="#bfbfbf"/>
<rect x="2262.1" y="511.2" width="15.7" height="2.9" fill="#b8b8b8"/>
<rect x="2258.1" y="525.7" width="23.9" height="2.9" fill="#acacac"/>
<rect x="2256.1" y="539.5" width="27.7" height="2.7" fill="#b9b9b9"/>
<rect x="2260.2" y="552.4" width="19.6" height="1.9" fill="#adadad"/>
<rect x="2261.2" y="570.6" width="17.7" height="2.9" fill="#b3b3b3"/>
<rect x="2256.0" y="706.0" width="24.0" height="130.0" fill="#979797"/>
<rect x="2258.9" y="706.0" width="2.3" height="8.0" fill="#e6e6e6"/>
<rect x="2258.5" y="716.8" width="3.0" height="6.9" fill="#dedede"/>
<rect x="2258.8" y="726.3" width="2.3" height="8.5" fill="#d2d2d2"/>
<rect x="2259.0" y="735.0" width="2.1" height="7.7" fill="#cdcdcd"/>
<rect x="2258.7" y="745.3" width="2.5" height="8.3" fill="#e0e0e0"/>
<rect x="2258.6" y="756.7" width="2.7" height="5.2" fill="#e0e0e0"/>
<rect x="2259.0" y="765.3" width="1.9" height="5.5" fill="#d8d8d8"/>
<rect x="2258.4" y="775.4" width="3.3" height="6.4" fill="#e5e5e5"/>
<rect x="2258.8" y="785.9" width="2.4" height="6.6" fill="#e5e5e5"/>
<rect x="2258.3" y="792.7" width="3.4" height="5.0" fill="#e3e3e3"/>
<rect x="2258.5" y="801.8" width="3.1" height="8.5" fill="#dddddd"/>
<rect x="2258.6" y="812.4" width="2.7" height="6.8" fill="#e1e1e1"/>
<rect x="2258.8" y="820.8" width="2.5" height="6.4" fill="#dcdcdc"/>
<rect x="2258.6" y="831.5" width="2.8" height="5.0" fill="#cccccc"/>
<rect x="2266.7" y="706.0" width="2.7" height="5.4" fill="#cecece"/>
<rect x="2266.9" y="712.7" width="2.3" height="5.9" fill="#e0e0e0"/>
<rect x="2267.0" y="722.3" width="2.0" height="6.2" fill="#dadada"/>
<rect x="2266.8" y="732.1" width="2.5" height="6.5" fill="#cbcbcb"/>
<rect x="2266.5" y="738.8" width="2.9" height="8.4" fill="#e0e0e0"/>
<rect x="2266.5" y="747.9" width="3.0" height="5.5" fill="#e2e2e2"/>
<rect x="2266.6" y="754.5" width="2.8" height="6.9" fill="#d7d7d7"/>
<rect x="2266.5" y="764.7" width="3.0" height="7.4" fill="#dddddd"/>
<rect x="2267.0" y="771.3" width="2.0" height="4.9" fill="#d7d7d7"/>
<rect x="2266.9" y="779.2" width="2.1" height="6.0" fill="#cdcdcd"/>
<rect x="2266.7" y="786.0" width="2.6" height="8.8" fill="#dfdfdf"/>
<rect x="2267.1" y="796.3" width="1.9" height="7.1" fill="#e6e6e6"/>
<rect x="2267.1" y="807.4" width="1.9" height="6.2" fill="#d3d3d3"/>
<rect x="2267.0" y="814.7" width="2.1" height="5.9" fill="#cecece"/>
<rect x="2266.3" y="822.8" width="3.3" height="8.6" fill="#e1e1e1"/>
<rect x="2266.9" y="833.8" width="2.2" height="7.2" fill="#d4d4d4"/>
<rect x="2275.1" y="706.0" width="1.9" height="7.9" fill="#d7d7d7"/>
<rect x="2274.7" y="713.4" width="2.6" height="6.4" fill="#d1d1d1"/>
<rect x="2274.6" y="725.0" width="2.8" height="5.6" fill="#cfcfcf"/>
<rect x="2274.3" y="735.8" width="3.4" height="5.6" fill="#dcdcdc"/>
<rect x="2275.0" y="743.9" width="2.1" height="7.6" fill="#d4d4d4"/>
<rect x="2274.6" y="753.6" width="2.8" height="7.3" fill="#d8d8d8"/>
<rect x="2274.3" y="760.4" width="3.3" height="5.1" fill="#cfcfcf"/>
<rect x="2274.4" y="768.9" width="3.3" height="7.2" fill="#d5d5d5"/>
<rect x="2274.9" y="775.6" width="2.2" height="7.5" fill="#e6e6e6"/>
<rect x="2274.4" y="787.1" width="3.3" height="8.9" fill="#d4d4d4"/>
<rect x="2274.6" y="793.7" width="2.9" height="5.0" fill="#dbdbdb"/>
<rect x="2274.9" y="804.5" width="2.2" height="5.8" fill="#d2d2d2"/>
<rect x="2274.6" y="813.8" width="2.8" height="6.1" fill="#e2e2e2"/>
<rect x="2274.7" y="822.8" width="2.5" height="5.0" fill="#d9d9d9"/>
<rect x="2275.0" y="830.9" width="2.1" height="8.5" fill="#e3e3e3"/>
<rect x="2259.0" y="706.0" width="18.0" height="2.9" fill="#bababa"/>
<rect x="2254.1" y="723.5" width="27.7" height="2.7" fill="#b6b6b6"/>
<rect x="2256.4" y="737.6" width="23.2" height="3.0" fill="#b4b4b4"/>
<rect x="2257.9" y="751.0" width="20.2" height="2.9" fill="#b4b4b4"/>
<rect x="2260.1" y="764.0" width="15.7" height="3.0" fill="#b0b0b0"/>
<rect x="2259.9" y="782.0" width="16.1" height="1.8" fill="#b6b6b6"/>
<rect x="2254.3" y="794.9" width="27.4" height="3.2" fill="#afafaf"/>
<rect x="2258.7" y="808.3" width="18.7" height="2.6" fill="#b2b2b2"/>
<rect x="2257.1" y="820.4" width="21.9" height="3.0" fill="#c6c6c6"/>
<rect x="2255.5" y="835.4" width="25.1" height="2.1" fill="#b8b8b8"/>
<rect x="2262.0" y="466.0" width="22.0" height="14.0" fill="#c8c8c8" opacity="0.7"/>
<rect x="2262.0" y="385.0" width="22.0" height="15.0" fill="#c8c8c8" opacity="0.7"/>
<rect x="2362.3" y="87.0" width="3.4" height="132.0" fill="#a8a8a8"/>
<rect x="2374.8" y="120.0" width="3.4" height="99.0" fill="#a8a8a8"/>
<rect x="2363.0" y="87.0" width="2.0" height="17.2" fill="#e5e5e5"/>
<rect x="2362.9" y="109.8" width="2.3" height="19.4" fill="#f9f9f9"/>
<rect x="2363.0" y="134.1" width="2.0" height="21.1" fill="#fcfcfc"/>
<rect x="2362.8" y="153.8" width="2.5" height="17.2" fill="#ededed"/>
<rect x="2362.9" y="173.7" width="2.3" height="18.9" fill="#f4f4f4"/>
<rect x="2363.1" y="198.6" width="1.9" height="21.4" fill="#e6e6e6"/>
<rect x="2362.7" y="216.7" width="2.6" height="18.0" fill="#fcfcfc"/>
<rect x="2375.3" y="120.0" width="2.3" height="22.7" fill="#ffffff"/>
<rect x="2375.3" y="144.1" width="2.5" height="21.9" fill="#fefefe"/>
<rect x="2375.3" y="164.5" width="2.4" height="21.7" fill="#fdfdfd"/>
<rect x="2375.5" y="182.9" width="2.1" height="23.3" fill="#fcfcfc"/>
<rect x="2375.4" y="206.9" width="2.2" height="22.9" fill="#f1f1f1"/>
<rect x="2358.8" y="341.0" width="3.4" height="242.0" fill="#a8a8a8"/>
<rect x="2371.3" y="341.0" width="3.4" height="242.0" fill="#a8a8a8"/>
<rect x="2359.6" y="341.0" width="1.9" height="20.8" fill="#e5e5e5"/>
<rect x="2359.6" y="367.0" width="1.9" height="17.3" fill="#fafafa"/>
<rect x="2359.3" y="384.8" width="2.4" height="19.5" fill="#f8f8f8"/>
<rect x="2359.5" y="409.5" width="2.1" height="22.2" fill="#f5f5f5"/>
<rect x="2359.5" y="434.7" width="1.9" height="20.1" fill="#ffffff"/>
<rect x="2359.4" y="457.6" width="2.2" height="17.7" fill="#efefef"/>
<rect x="2359.4" y="476.6" width="2.1" height="20.3" fill="#ebebeb"/>
<rect x="2359.4" y="494.3" width="2.3" height="20.4" fill="#f2f2f2"/>
<rect x="2359.6" y="512.8" width="1.8" height="18.2" fill="#fefefe"/>
<rect x="2359.6" y="531.4" width="1.8" height="16.6" fill="#e6e6e6"/>
<rect x="2359.4" y="553.8" width="2.2" height="22.6" fill="#fdfdfd"/>
<rect x="2359.4" y="573.7" width="2.2" height="22.3" fill="#f3f3f3"/>
<rect x="2372.1" y="341.0" width="1.8" height="16.2" fill="#f1f1f1"/>
<rect x="2371.9" y="360.2" width="2.2" height="18.0" fill="#f7f7f7"/>
<rect x="2372.1" y="379.6" width="1.9" height="23.0" fill="#fefefe"/>
<rect x="2372.0" y="401.9" width="2.1" height="19.8" fill="#fefefe"/>
<rect x="2372.0" y="423.4" width="2.0" height="24.0" fill="#efefef"/>
<rect x="2372.1" y="441.8" width="1.8" height="19.9" fill="#fafafa"/>
<rect x="2371.7" y="461.8" width="2.6" height="17.2" fill="#ffffff"/>
<rect x="2372.0" y="488.1" width="2.0" height="23.9" fill="#e8e8e8"/>
<rect x="2371.9" y="508.9" width="2.2" height="21.5" fill="#f7f7f7"/>
<rect x="2371.8" y="527.0" width="2.3" height="18.8" fill="#fcfcfc"/>
<rect x="2371.7" y="548.8" width="2.6" height="23.7" fill="#f8f8f8"/>
<rect x="2371.9" y="570.7" width="2.1" height="18.4" fill="#fcfcfc"/>
<rect x="2354.8" y="706.0" width="3.4" height="130.0" fill="#a8a8a8"/>
<rect x="2367.3" y="706.0" width="3.4" height="130.0" fill="#a8a8a8"/>
<rect x="2355.3" y="706.0" width="2.4" height="18.5" fill="#f4f4f4"/>
<rect x="2355.4" y="730.4" width="2.2" height="17.9" fill="#f4f4f4"/>
<rect x="2355.3" y="753.3" width="2.3" height="17.4" fill="#eaeaea"/>
<rect x="2355.2" y="775.0" width="2.5" height="17.9" fill="#fdfdfd"/>
<rect x="2355.3" y="795.1" width="2.4" height="18.0" fill="#e4e4e4"/>
<rect x="2355.2" y="821.3" width="2.5" height="19.5" fill="#fefefe"/>
<rect x="2367.9" y="706.0" width="2.3" height="20.6" fill="#eaeaea"/>
<rect x="2367.9" y="723.7" width="2.1" height="20.4" fill="#f2f2f2"/>
<rect x="2368.1" y="745.7" width="1.8" height="18.2" fill="#f8f8f8"/>
<rect x="2368.0" y="768.4" width="2.0" height="21.9" fill="#e6e6e6"/>
<rect x="2368.0" y="786.2" width="2.0" height="16.0" fill="#f6f6f6"/>
<rect x="2367.8" y="812.2" width="2.4" height="16.4" fill="#f6f6f6"/>
<rect x="2339.8" y="341.0" width="2.5" height="43.0" fill="#dadada"/>
<rect x="2154.0" y="228.0" width="2.0" height="608.0" fill="#7e7e7e"/>
<rect x="2484.9" y="89.0" width="3.2" height="139.0" fill="#f2f2f2"/>
<rect x="2486.8" y="339.0" width="2.5" height="251.0" fill="#959595"/>
<rect x="2499.8" y="339.0" width="2.5" height="251.0" fill="#8f8f8f"/>
<rect x="3014.0" y="36.3" width="22.0" height="2.4" fill="#afafaf"/>
<rect x="3023.8" y="22.1" width="2.4" height="30.8" fill="#afafaf"/>
<rect x="3022.8" y="34.9" width="4.4" height="5.2" fill="#e9e9e9"/>
<rect x="3043.0" y="94.9" width="18.0" height="2.2" fill="#afafaf"/>
<rect x="3050.9" y="83.4" width="2.2" height="25.2" fill="#afafaf"/>
<rect x="3049.8" y="93.4" width="4.4" height="5.2" fill="#e9e9e9"/>
<rect x="2152.5" y="164.1" width="15.0" height="1.8" fill="#afafaf"/>
<rect x="2159.1" y="154.5" width="1.8" height="21.0" fill="#afafaf"/>
<rect x="2157.8" y="162.4" width="4.4" height="5.2" fill="#f2f2f2"/>
<rect x="2161.0" y="481.6" width="15.0" height="1.8" fill="#afafaf"/>
<rect x="2167.6" y="472.0" width="1.8" height="21.0" fill="#afafaf"/>
<rect x="2166.3" y="479.9" width="4.4" height="5.2" fill="#f2f2f2"/>
<rect x="2152.5" y="736.1" width="15.0" height="1.8" fill="#afafaf"/>
<rect x="2159.1" y="726.5" width="1.8" height="21.0" fill="#afafaf"/>
<rect x="2157.8" y="734.4" width="4.4" height="5.2" fill="#f2f2f2"/>
<rect x="2967.5" y="79.1" width="15.0" height="1.8" fill="#afafaf"/>
<rect x="2974.1" y="69.5" width="1.8" height="21.0" fill="#afafaf"/>
<rect x="2972.8" y="77.4" width="4.4" height="5.2" fill="#f2f2f2"/>
<rect x="2229.5" y="41.1" width="15.0" height="1.8" fill="#afafaf"/>
<rect x="2236.1" y="31.5" width="1.8" height="21.0" fill="#afafaf"/>
<rect x="2234.8" y="39.4" width="4.4" height="5.2" fill="#f2f2f2"/>
<rect x="2273.5" y="65.1" width="15.0" height="1.8" fill="#afafaf"/>
<rect x="2280.1" y="55.5" width="1.8" height="21.0" fill="#afafaf"/>
<rect x="2278.8" y="63.4" width="4.4" height="5.2" fill="#f2f2f2"/>
<rect x="2277.5" y="78.1" width="15.0" height="1.8" fill="#afafaf"/>
<rect x="2284.1" y="68.5" width="1.8" height="21.0" fill="#afafaf"/>
<rect x="2282.8" y="76.4" width="4.4" height="5.2" fill="#f2f2f2"/>
<rect x="2258.5" y="87.1" width="15.0" height="1.8" fill="#afafaf"/>
<rect x="2265.1" y="77.5" width="1.8" height="21.0" fill="#afafaf"/>
<rect x="2263.8" y="85.4" width="4.4" height="5.2" fill="#f2f2f2"/>
<rect x="2368.5" y="61.1" width="15.0" height="1.8" fill="#afafaf"/>
<rect x="2375.1" y="51.5" width="1.8" height="21.0" fill="#afafaf"/>
<rect x="2373.8" y="59.4" width="4.4" height="5.2" fill="#f2f2f2"/>
<rect x="2340.5" y="86.1" width="15.0" height="1.8" fill="#afafaf"/>
<rect x="2347.1" y="76.5" width="1.8" height="21.0" fill="#afafaf"/>
<rect x="2345.8" y="84.4" width="4.4" height="5.2" fill="#f2f2f2"/>
<rect x="2359.5" y="86.1" width="15.0" height="1.8" fill="#afafaf"/>
<rect x="2366.1" y="76.5" width="1.8" height="21.0" fill="#afafaf"/>
<rect x="2364.8" y="84.4" width="4.4" height="5.2" fill="#f2f2f2"/>
<rect x="2381.5" y="93.1" width="15.0" height="1.8" fill="#afafaf"/>
<rect x="2388.1" y="83.5" width="1.8" height="21.0" fill="#afafaf"/>
<rect x="2386.8" y="91.4" width="4.4" height="5.2" fill="#f2f2f2"/>
<rect x="2386.5" y="52.1" width="15.0" height="1.8" fill="#afafaf"/>
<rect x="2393.1" y="42.5" width="1.8" height="21.0" fill="#afafaf"/>
<rect x="2391.8" y="50.4" width="4.4" height="5.2" fill="#f2f2f2"/>
<rect x="3050.8" y="72.0" width="2.5" height="42.0" fill="#d2d2d2"/>
<rect x="2509.5" y="128.5" width="64.0" height="16.0" fill="#939393" opacity="0.8"/>
<rect x="2521.4" y="131.5" width="5.1" height="10.4" fill="#dedede"/>
<rect x="2518.1" y="131.3" width="2.5" height="10.3" fill="#dadada"/>
<rect x="2539.2" y="130.3" width="3.2" height="4.7" fill="#e9e9e9"/>
<rect x="2541.4" y="134.1" width="2.8" height="5.3" fill="#e7e7e7"/>
<rect x="2553.2" y="130.6" width="2.9" height="10.9" fill="#e2e2e2"/>
<rect x="2554.8" y="130.8" width="5.8" height="11.3" fill="#cbcbcb"/>
<rect x="2559.6" y="131.9" width="3.2" height="5.7" fill="#e3e3e3"/>
<rect x="2548.0" y="134.8" width="5.0" height="7.3" fill="#e0e0e0"/>
<rect x="2551.0" y="131.4" width="4.1" height="10.4" fill="#e6e6e6"/>
<rect x="2564.1" y="132.9" width="5.4" height="6.6" fill="#e2e2e2"/>
<rect x="2514.2" y="131.3" width="3.9" height="11.5" fill="#d0d0d0"/>
<rect x="2511.1" y="130.7" width="5.8" height="10.4" fill="#cccccc"/>
<rect x="2516.5" y="132.0" width="4.6" height="9.2" fill="#dbdbdb"/>
<rect x="2568.4" y="131.3" width="2.7" height="7.2" fill="#cecece"/>
<rect x="2543.7" y="130.1" width="4.6" height="6.5" fill="#e3e3e3"/>
<rect x="2562.8" y="134.7" width="4.8" height="7.9" fill="#e7e7e7"/>
<rect x="2514.3" y="131.5" width="6.0" height="10.9" fill="#e8e8e8"/>
<rect x="2474.5" y="155.5" width="67.0" height="17.0" fill="#939393" opacity="0.8"/>
<rect x="2529.5" y="164.1" width="6.0" height="6.4" fill="#e0e0e0"/>
<rect x="2497.1" y="159.1" width="4.5" height="7.9" fill="#e5e5e5"/>
<rect x="2516.1" y="162.0" width="4.6" height="7.2" fill="#d2d2d2"/>
<rect x="2484.1" y="157.5" width="2.7" height="11.4" fill="#e4e4e4"/>
<rect x="2532.6" y="159.1" width="2.9" height="10.1" fill="#dcdcdc"/>
<rect x="2523.5" y="157.7" width="2.9" height="12.1" fill="#dedede"/>
<rect x="2495.8" y="160.2" width="5.5" height="7.8" fill="#e5e5e5"/>
<rect x="2504.8" y="164.4" width="5.0" height="5.4" fill="#e1e1e1"/>
<rect x="2502.5" y="157.8" width="5.9" height="10.0" fill="#dadada"/>
<rect x="2505.1" y="157.0" width="4.8" height="7.2" fill="#e6e6e6"/>
<rect x="2492.1" y="160.4" width="2.3" height="8.5" fill="#cdcdcd"/>
<rect x="2511.7" y="157.4" width="2.5" height="8.9" fill="#e1e1e1"/>
<rect x="2505.0" y="157.4" width="5.1" height="10.1" fill="#dddddd"/>
<rect x="2479.3" y="157.4" width="3.7" height="7.9" fill="#dedede"/>
<rect x="2487.2" y="158.2" width="4.1" height="8.9" fill="#cccccc"/>
<rect x="2490.3" y="163.1" width="5.2" height="6.5" fill="#cfcfcf"/>
<rect x="2528.1" y="157.1" width="3.8" height="11.7" fill="#d8d8d8"/>
<rect x="2529.0" y="159.5" width="3.1" height="9.5" fill="#e5e5e5"/>
<rect x="2556.5" y="155.5" width="17.0" height="9.0" fill="#939393" opacity="0.8"/>
<rect x="2564.0" y="159.2" width="2.6" height="2.4" fill="#d5d5d5"/>
<rect x="2567.0" y="157.4" width="2.9" height="5.3" fill="#dcdcdc"/>
<rect x="2560.8" y="158.4" width="4.9" height="3.9" fill="#dadada"/>
<rect x="2563.8" y="158.3" width="3.2" height="1.9" fill="#dedede"/>
<rect x="2502.5" y="180.5" width="18.0" height="35.0" fill="#939393" opacity="0.8"/>
<rect x="2512.9" y="190.5" width="5.6" height="10.4" fill="#d9d9d9"/>
<rect x="2515.7" y="182.4" width="2.3" height="20.9" fill="#bdbdbd"/>
<rect x="2509.9" y="192.3" width="5.8" height="16.5" fill="#c5c5c5"/>
<rect x="2515.6" y="185.2" width="2.2" height="14.7" fill="#c5c5c5"/>
<rect x="2594.0" y="180.4" width="4.4" height="17.2" fill="#e6e6e6"/>
<rect x="2598.4" y="180.2" width="2.8" height="17.6" fill="#ebebeb"/>
<rect x="2602.4" y="180.3" width="3.6" height="17.3" fill="#e7e7e7"/>
<rect x="2606.9" y="182.1" width="4.0" height="13.7" fill="#ececec"/>
<rect x="2612.8" y="181.7" width="3.2" height="14.5" fill="#e3e3e3"/>
<rect x="2618.4" y="179.9" width="3.9" height="18.3" fill="#eaeaea"/>
<rect x="2623.4" y="183.0" width="3.4" height="11.9" fill="#dadada"/>
<rect x="2628.6" y="178.4" width="4.2" height="21.2" fill="#e5e5e5"/>
<rect x="2633.8" y="178.9" width="3.1" height="20.2" fill="#dedede"/>
<rect x="2639.4" y="182.4" width="3.3" height="13.1" fill="#e4e4e4"/>
<rect x="2643.6" y="180.0" width="2.5" height="17.9" fill="#e6e6e6"/>
<rect x="2648.1" y="178.8" width="4.4" height="20.5" fill="#eeeeee"/>
<rect x="2652.5" y="181.0" width="4.3" height="16.0" fill="#dfdfdf"/>
<rect x="2656.8" y="181.8" width="4.3" height="14.3" fill="#e0e0e0"/>
<rect x="2662.6" y="178.4" width="2.5" height="21.2" fill="#e7e7e7"/>
<rect x="2667.7" y="182.0" width="3.3" height="14.0" fill="#efefef"/>
<rect x="2671.9" y="181.6" width="3.6" height="14.9" fill="#d9d9d9"/>
<rect x="2677.0" y="182.5" width="3.9" height="13.0" fill="#d8d8d8"/>
<rect x="2682.1" y="180.0" width="2.8" height="18.0" fill="#e0e0e0"/>
<rect x="2685.9" y="181.7" width="4.1" height="14.6" fill="#eeeeee"/>
<rect x="2691.9" y="178.3" width="3.7" height="21.4" fill="#dedede"/>
<rect x="2697.6" y="181.2" width="3.3" height="15.6" fill="#e0e0e0"/>
<rect x="2703.6" y="179.5" width="2.8" height="19.1" fill="#ededed"/>
<rect x="2709.2" y="180.0" width="4.3" height="18.0" fill="#eaeaea"/>
<rect x="2713.5" y="181.3" width="4.3" height="15.3" fill="#ebebeb"/>
<rect x="2719.0" y="178.3" width="4.1" height="21.5" fill="#e4e4e4"/>
<rect x="2723.3" y="179.8" width="2.9" height="18.4" fill="#ececec"/>
<rect x="2594.0" y="181.0" width="130.0" height="16.0" fill="#afafaf" opacity="0.7"/>
<rect x="2554.0" y="203.6" width="2.2" height="2.8" fill="#d3d3d3"/>
<rect x="2556.9" y="204.1" width="2.7" height="1.9" fill="#d7d7d7"/>
<rect x="2559.8" y="203.7" width="2.4" height="2.6" fill="#c9c9c9"/>
<rect x="2563.5" y="203.5" width="2.0" height="3.1" fill="#dedede"/>
<rect x="2568.6" y="203.7" width="3.0" height="2.7" fill="#dcdcdc"/>
<rect x="2573.8" y="204.1" width="2.1" height="1.8" fill="#d6d6d6"/>
<rect x="2577.6" y="203.9" width="2.7" height="2.3" fill="#d1d1d1"/>
<rect x="2581.5" y="203.5" width="1.8" height="3.0" fill="#c6c6c6"/>
<rect x="2584.8" y="204.0" width="2.9" height="2.0" fill="#d2d2d2"/>
<rect x="2590.0" y="203.8" width="2.6" height="2.4" fill="#c6c6c6"/>
<rect x="2594.6" y="203.6" width="3.1" height="2.8" fill="#cbcbcb"/>
<rect x="2598.9" y="203.9" width="3.1" height="2.1" fill="#dadada"/>
<rect x="2604.0" y="204.0" width="2.9" height="2.1" fill="#d7d7d7"/>
<rect x="2608.7" y="204.1" width="2.6" height="1.8" fill="#dbdbdb"/>
<rect x="2613.5" y="203.9" width="2.4" height="2.1" fill="#d1d1d1"/>
<rect x="2618.4" y="203.4" width="3.1" height="3.2" fill="#d8d8d8"/>
<rect x="2622.6" y="203.8" width="2.0" height="2.4" fill="#c7c7c7"/>
<rect x="2626.8" y="203.5" width="3.1" height="3.0" fill="#dedede"/>
<rect x="2629.8" y="203.6" width="1.9" height="2.8" fill="#cccccc"/>
<rect x="2632.7" y="203.8" width="2.0" height="2.4" fill="#cfcfcf"/>
<rect x="2637.6" y="203.4" width="2.8" height="3.2" fill="#cfcfcf"/>
<rect x="2642.3" y="203.4" width="3.2" height="3.2" fill="#d5d5d5"/>
<rect x="2645.3" y="203.7" width="2.8" height="2.6" fill="#d9d9d9"/>
<rect x="2650.2" y="203.7" width="2.6" height="2.6" fill="#d5d5d5"/>
<rect x="2540.0" y="214.0" width="86.0" height="6.0" fill="#bababa"/>
<rect x="2740.5" y="187.5" width="22.0" height="10.0" fill="#939393" opacity="0.8"/>
<rect x="2755.9" y="193.5" width="2.9" height="2.2" fill="#c0c0c0"/>
<rect x="2752.0" y="190.7" width="4.3" height="4.9" fill="#d1d1d1"/>
<rect x="2757.0" y="189.5" width="3.2" height="4.4" fill="#cacaca"/>
<rect x="2757.2" y="189.3" width="2.2" height="3.5" fill="#c7c7c7"/>
<rect x="2745.8" y="190.4" width="3.3" height="4.9" fill="#c7c7c7"/>
<rect x="2756.3" y="190.4" width="2.9" height="5.5" fill="#c4c4c4"/>
<ellipse cx="2454.0" cy="38.5" rx="6.8" ry="3.4" fill="#888888" opacity="0.6"/>
<ellipse cx="2454.0" cy="38.5" rx="4.0" ry="2.0" fill="#d2d2d2"/>
<ellipse cx="2468.0" cy="37.0" rx="2.7" ry="5.1" fill="#888888" opacity="0.6"/>
<ellipse cx="2468.0" cy="37.0" rx="1.6" ry="3.0" fill="#d2d2d2"/>
<rect x="2598.0" y="726.8" width="3.1" height="14.3" fill="#dadada"/>
<rect x="2603.9" y="726.0" width="3.3" height="16.0" fill="#ededed"/>
<rect x="2608.7" y="726.3" width="4.4" height="15.4" fill="#e0e0e0"/>
<rect x="2613.9" y="723.1" width="3.9" height="21.9" fill="#ebebeb"/>
<rect x="2617.8" y="723.6" width="3.2" height="20.7" fill="#efefef"/>
<rect x="2622.4" y="726.5" width="4.0" height="15.1" fill="#eeeeee"/>
<rect x="2627.0" y="724.8" width="4.4" height="18.4" fill="#ededed"/>
<rect x="2631.1" y="725.1" width="4.5" height="17.7" fill="#d7d7d7"/>
<rect x="2635.8" y="723.0" width="3.3" height="21.9" fill="#ececec"/>
<rect x="2640.2" y="727.5" width="3.8" height="13.0" fill="#dedede"/>
<rect x="2645.9" y="725.3" width="3.1" height="17.4" fill="#d3d3d3"/>
<rect x="2650.4" y="724.5" width="4.1" height="19.0" fill="#d9d9d9"/>
<rect x="2655.3" y="722.7" width="2.9" height="22.5" fill="#d5d5d5"/>
<rect x="2659.6" y="722.7" width="3.0" height="22.6" fill="#e8e8e8"/>
<rect x="2665.6" y="727.1" width="4.3" height="13.9" fill="#e1e1e1"/>
<rect x="2669.4" y="725.2" width="4.0" height="17.6" fill="#ececec"/>
<rect x="2674.9" y="723.8" width="4.4" height="20.4" fill="#d9d9d9"/>
<rect x="2679.0" y="726.3" width="2.9" height="15.4" fill="#e6e6e6"/>
<rect x="2684.3" y="726.3" width="3.8" height="15.3" fill="#e9e9e9"/>
<rect x="2690.3" y="722.4" width="4.0" height="23.2" fill="#e3e3e3"/>
<rect x="2694.0" y="727.5" width="4.1" height="13.0" fill="#eaeaea"/>
<rect x="2699.6" y="724.7" width="4.1" height="18.5" fill="#dfdfdf"/>
<rect x="2704.6" y="726.0" width="3.6" height="16.1" fill="#e9e9e9"/>
<rect x="2708.3" y="723.7" width="2.5" height="20.6" fill="#e7e7e7"/>
<rect x="2712.9" y="725.8" width="3.4" height="16.4" fill="#dddddd"/>
<rect x="2717.5" y="724.6" width="4.2" height="18.7" fill="#eeeeee"/>
<rect x="2723.1" y="724.6" width="3.1" height="18.8" fill="#eaeaea"/>
<rect x="2598.0" y="725.0" width="129.0" height="18.0" fill="#afafaf" opacity="0.7"/>
<rect x="2556.0" y="717.5" width="2.6" height="3.1" fill="#c5c5c5"/>
<rect x="2560.0" y="717.7" width="3.0" height="2.6" fill="#dbdbdb"/>
<rect x="2564.1" y="717.4" width="2.1" height="3.2" fill="#dadada"/>
<rect x="2568.9" y="717.7" width="3.2" height="2.6" fill="#dcdcdc"/>
<rect x="2574.1" y="717.6" width="2.2" height="2.7" fill="#dedede"/>
<rect x="2578.7" y="717.8" width="2.1" height="2.4" fill="#cacaca"/>
<rect x="2582.3" y="717.8" width="2.6" height="2.4" fill="#d9d9d9"/>
<rect x="2586.5" y="717.7" width="3.0" height="2.6" fill="#c8c8c8"/>
<rect x="2589.8" y="718.1" width="1.8" height="1.9" fill="#cecece"/>
<rect x="2593.0" y="717.5" width="2.8" height="3.0" fill="#d0d0d0"/>
<rect x="2597.5" y="717.4" width="3.2" height="3.1" fill="#d7d7d7"/>
<rect x="2600.9" y="717.6" width="3.1" height="2.8" fill="#d9d9d9"/>
<rect x="2604.4" y="717.9" width="2.0" height="2.2" fill="#c7c7c7"/>
<rect x="2609.4" y="717.7" width="2.1" height="2.5" fill="#d9d9d9"/>
<rect x="2613.5" y="717.7" width="1.9" height="2.5" fill="#c3c3c3"/>
<rect x="2618.0" y="717.6" width="2.4" height="2.8" fill="#dddddd"/>
<rect x="2622.0" y="718.0" width="2.3" height="2.1" fill="#dadada"/>
<rect x="2626.7" y="717.5" width="3.1" height="2.9" fill="#cbcbcb"/>
<rect x="2630.0" y="717.5" width="2.4" height="2.9" fill="#cecece"/>
<rect x="2634.6" y="717.8" width="2.0" height="2.4" fill="#cecece"/>
<rect x="2639.3" y="717.5" width="2.2" height="3.1" fill="#c8c8c8"/>
<rect x="2643.3" y="718.0" width="3.2" height="2.0" fill="#cecece"/>
<rect x="2647.1" y="717.5" width="2.4" height="3.0" fill="#d5d5d5"/>
<rect x="2651.4" y="718.0" width="2.3" height="2.0" fill="#d0d0d0"/>
<rect x="2656.0" y="717.7" width="2.5" height="2.7" fill="#c5c5c5"/>
<rect x="2560.0" y="705.0" width="40.0" height="6.0" fill="#c4c4c4"/>
<rect x="2673.0" y="570.3" width="4.3" height="13.4" fill="#d4d4d4"/>
<rect x="2676.9" y="571.3" width="2.8" height="11.4" fill="#eeeeee"/>
<rect x="2683.1" y="567.7" width="3.3" height="18.7" fill="#eaeaea"/>
<rect x="2687.6" y="571.5" width="3.4" height="11.1" fill="#eaeaea"/>
<rect x="2691.7" y="571.1" width="3.4" height="11.7" fill="#ececec"/>
<rect x="2696.5" y="571.0" width="4.0" height="11.9" fill="#e9e9e9"/>
<rect x="2700.4" y="570.3" width="3.3" height="13.3" fill="#efefef"/>
<rect x="2705.1" y="570.4" width="3.4" height="13.2" fill="#ececec"/>
<rect x="2709.0" y="567.4" width="4.3" height="19.2" fill="#dbdbdb"/>
<rect x="2714.4" y="569.0" width="2.7" height="15.9" fill="#dadada"/>
<rect x="2720.7" y="569.0" width="2.7" height="16.1" fill="#dddddd"/>
<rect x="2724.3" y="568.1" width="2.5" height="17.9" fill="#ebebeb"/>
<rect x="2728.1" y="571.3" width="3.4" height="11.3" fill="#d8d8d8"/>
<rect x="2734.5" y="569.7" width="4.5" height="14.7" fill="#dcdcdc"/>
<rect x="2673.0" y="569.0" width="65.0" height="16.0" fill="#afafaf" opacity="0.7"/>
<ellipse cx="2569.2" cy="81.8" rx="3.6" ry="4.6" fill="#888888" opacity="0.6"/>
<ellipse cx="2569.2" cy="81.8" rx="2.1" ry="2.7" fill="#c5c5c5"/>
<ellipse cx="2576.3" cy="117.8" rx="3.6" ry="4.8" fill="#888888" opacity="0.6"/>
<ellipse cx="2576.3" cy="117.8" rx="2.1" ry="2.8" fill="#d3d3d3"/>
<ellipse cx="2558.9" cy="84.6" rx="2.4" ry="3.1" fill="#888888" opacity="0.6"/>
<ellipse cx="2558.9" cy="84.6" rx="1.4" ry="1.8" fill="#c8c8c8"/>
<ellipse cx="2565.1" cy="111.6" rx="2.9" ry="4.0" fill="#888888" opacity="0.6"/>
<ellipse cx="2565.1" cy="111.6" rx="1.7" ry="2.3" fill="#bfbfbf"/>
<ellipse cx="2558.9" cy="98.2" rx="2.1" ry="3.2" fill="#888888" opacity="0.6"/>
<ellipse cx="2558.9" cy="98.2" rx="1.2" ry="1.9" fill="#b5b5b5"/>
<ellipse cx="2573.4" cy="81.3" rx="2.6" ry="3.9" fill="#888888" opacity="0.6"/>
<ellipse cx="2573.4" cy="81.3" rx="1.5" ry="2.3" fill="#cdcdcd"/>
<ellipse cx="2565.7" cy="72.3" rx="2.7" ry="2.9" fill="#888888" opacity="0.6"/>
<ellipse cx="2565.7" cy="72.3" rx="1.6" ry="1.7" fill="#cbcbcb"/>
<ellipse cx="2562.4" cy="100.2" rx="2.7" ry="3.1" fill="#888888" opacity="0.6"/>
<ellipse cx="2562.4" cy="100.2" rx="1.6" ry="1.8" fill="#b2b2b2"/>
<ellipse cx="2554.4" cy="91.2" rx="3.6" ry="4.3" fill="#888888" opacity="0.6"/>
<ellipse cx="2554.4" cy="91.2" rx="2.1" ry="2.6" fill="#b9b9b9"/>
<ellipse cx="2555.6" cy="92.3" rx="2.3" ry="2.7" fill="#888888" opacity="0.6"/>
<ellipse cx="2555.6" cy="92.3" rx="1.4" ry="1.6" fill="#d0d0d0"/>
<ellipse cx="2563.7" cy="87.7" rx="3.2" ry="3.6" fill="#888888" opacity="0.6"/>
<ellipse cx="2563.7" cy="87.7" rx="1.9" ry="2.1" fill="#c4c4c4"/>
<ellipse cx="2579.8" cy="74.7" rx="3.8" ry="5.7" fill="#888888" opacity="0.6"/>
<ellipse cx="2579.8" cy="74.7" rx="2.2" ry="3.4" fill="#b9b9b9"/>
<ellipse cx="2713.8" cy="70.4" rx="5.4" ry="6.5" fill="#888888" opacity="0.6"/>
<ellipse cx="2713.8" cy="70.4" rx="3.2" ry="3.8" fill="#cbcbcb"/>
<ellipse cx="2718.0" cy="102.3" rx="5.2" ry="6.2" fill="#888888" opacity="0.6"/>
<ellipse cx="2718.0" cy="102.3" rx="3.1" ry="3.7" fill="#dcdcdc"/>
<ellipse cx="2735.5" cy="136.1" rx="3.8" ry="3.9" fill="#888888" opacity="0.6"/>
<ellipse cx="2735.5" cy="136.1" rx="2.2" ry="2.3" fill="#c4c4c4"/>
<ellipse cx="2708.6" cy="142.8" rx="3.3" ry="3.6" fill="#888888" opacity="0.6"/>
<ellipse cx="2708.6" cy="142.8" rx="2.0" ry="2.1" fill="#dadada"/>
<ellipse cx="2718.8" cy="96.0" rx="5.2" ry="6.9" fill="#888888" opacity="0.6"/>
<ellipse cx="2718.8" cy="96.0" rx="3.1" ry="4.0" fill="#e1e1e1"/>
<ellipse cx="2717.0" cy="127.9" rx="3.5" ry="5.3" fill="#888888" opacity="0.6"/>
<ellipse cx="2717.0" cy="127.9" rx="2.1" ry="3.1" fill="#dbdbdb"/>
<ellipse cx="2708.5" cy="146.2" rx="3.2" ry="3.3" fill="#888888" opacity="0.6"/>
<ellipse cx="2708.5" cy="146.2" rx="1.9" ry="1.9" fill="#d8d8d8"/>
<ellipse cx="2732.5" cy="78.9" rx="3.1" ry="4.9" fill="#888888" opacity="0.6"/>
<ellipse cx="2732.5" cy="78.9" rx="1.8" ry="2.9" fill="#d1d1d1"/>
<ellipse cx="2704.4" cy="96.2" rx="3.4" ry="4.6" fill="#888888" opacity="0.6"/>
<ellipse cx="2704.4" cy="96.2" rx="2.0" ry="2.7" fill="#c3c3c3"/>
<ellipse cx="2726.6" cy="86.6" rx="2.9" ry="3.8" fill="#888888" opacity="0.6"/>
<ellipse cx="2726.6" cy="86.6" rx="1.7" ry="2.2" fill="#c0c0c0"/>
<ellipse cx="2712.0" cy="130.4" rx="3.7" ry="3.7" fill="#888888" opacity="0.6"/>
<ellipse cx="2712.0" cy="130.4" rx="2.2" ry="2.2" fill="#cbcbcb"/>
<ellipse cx="2720.3" cy="101.1" rx="4.9" ry="5.5" fill="#888888" opacity="0.6"/>
<ellipse cx="2720.3" cy="101.1" rx="2.9" ry="3.2" fill="#d4d4d4"/>
<ellipse cx="2714.6" cy="65.0" rx="2.9" ry="4.2" fill="#888888" opacity="0.6"/>
<ellipse cx="2714.6" cy="65.0" rx="1.7" ry="2.4" fill="#d7d7d7"/>
<ellipse cx="2710.9" cy="132.2" rx="2.6" ry="2.9" fill="#888888" opacity="0.6"/>
<ellipse cx="2710.9" cy="132.2" rx="1.5" ry="1.7" fill="#cdcdcd"/>
<ellipse cx="2709.4" cy="119.1" rx="4.8" ry="4.7" fill="#888888" opacity="0.6"/>
<ellipse cx="2709.4" cy="119.1" rx="2.8" ry="2.8" fill="#c1c1c1"/>
<ellipse cx="2734.6" cy="153.5" rx="3.2" ry="4.3" fill="#888888" opacity="0.6"/>
<ellipse cx="2734.6" cy="153.5" rx="1.9" ry="2.6" fill="#e0e0e0"/>
<ellipse cx="2705.0" cy="73.0" rx="4.2" ry="4.7" fill="#888888" opacity="0.6"/>
<ellipse cx="2705.0" cy="73.0" rx="2.5" ry="2.7" fill="#cecece"/>
<ellipse cx="2706.2" cy="129.7" rx="3.6" ry="5.3" fill="#888888" opacity="0.6"/>
<ellipse cx="2706.2" cy="129.7" rx="2.1" ry="3.1" fill="#d2d2d2"/>
<ellipse cx="2706.4" cy="107.6" rx="4.4" ry="6.3" fill="#888888" opacity="0.6"/>
<ellipse cx="2706.4" cy="107.6" rx="2.6" ry="3.7" fill="#cecece"/>
<ellipse cx="2725.4" cy="139.1" rx="3.4" ry="4.0" fill="#888888" opacity="0.6"/>
<ellipse cx="2725.4" cy="139.1" rx="2.0" ry="2.4" fill="#d3d3d3"/>
<ellipse cx="2788.0" cy="122.9" rx="2.9" ry="3.1" fill="#888888" opacity="0.6"/>
<ellipse cx="2788.0" cy="122.9" rx="1.7" ry="1.8" fill="#c7c7c7"/>
<ellipse cx="2789.7" cy="127.9" rx="3.8" ry="3.9" fill="#888888" opacity="0.6"/>
<ellipse cx="2789.7" cy="127.9" rx="2.2" ry="2.3" fill="#d1d1d1"/>
<ellipse cx="2774.7" cy="155.2" rx="3.1" ry="3.4" fill="#888888" opacity="0.6"/>
<ellipse cx="2774.7" cy="155.2" rx="1.8" ry="2.0" fill="#dfdfdf"/>
<ellipse cx="2744.7" cy="114.7" rx="4.9" ry="6.4" fill="#888888" opacity="0.6"/>
<ellipse cx="2744.7" cy="114.7" rx="2.9" ry="3.8" fill="#d3d3d3"/>
<ellipse cx="2749.9" cy="136.8" rx="3.4" ry="5.1" fill="#888888" opacity="0.6"/>
<ellipse cx="2749.9" cy="136.8" rx="2.0" ry="3.0" fill="#d5d5d5"/>
<ellipse cx="2764.0" cy="116.6" rx="3.6" ry="3.8" fill="#888888" opacity="0.6"/>
<ellipse cx="2764.0" cy="116.6" rx="2.1" ry="2.2" fill="#d1d1d1"/>
<ellipse cx="2743.4" cy="151.4" rx="4.7" ry="5.2" fill="#888888" opacity="0.6"/>
<ellipse cx="2743.4" cy="151.4" rx="2.8" ry="3.0" fill="#cbcbcb"/>
<ellipse cx="2761.8" cy="130.7" rx="5.1" ry="5.0" fill="#888888" opacity="0.6"/>
<ellipse cx="2761.8" cy="130.7" rx="3.0" ry="2.9" fill="#cbcbcb"/>
<ellipse cx="2751.2" cy="155.2" rx="3.6" ry="5.2" fill="#888888" opacity="0.6"/>
<ellipse cx="2751.2" cy="155.2" rx="2.1" ry="3.0" fill="#cbcbcb"/>
<ellipse cx="2743.3" cy="152.4" rx="2.7" ry="3.0" fill="#888888" opacity="0.6"/>
<ellipse cx="2743.3" cy="152.4" rx="1.6" ry="1.7" fill="#c1c1c1"/>
<ellipse cx="2774.3" cy="111.2" rx="3.9" ry="5.3" fill="#888888" opacity="0.6"/>
<ellipse cx="2774.3" cy="111.2" rx="2.3" ry="3.1" fill="#c5c5c5"/>
<ellipse cx="2789.0" cy="142.7" rx="4.9" ry="5.7" fill="#888888" opacity="0.6"/>
<ellipse cx="2789.0" cy="142.7" rx="2.9" ry="3.3" fill="#e1e1e1"/>
<ellipse cx="2754.7" cy="146.9" rx="3.2" ry="3.2" fill="#888888" opacity="0.6"/>
<ellipse cx="2754.7" cy="146.9" rx="1.9" ry="1.9" fill="#d0d0d0"/>
<ellipse cx="2764.7" cy="132.4" rx="4.1" ry="5.2" fill="#888888" opacity="0.6"/>
<ellipse cx="2764.7" cy="132.4" rx="2.4" ry="3.0" fill="#cdcdcd"/>
<ellipse cx="2795.3" cy="153.0" rx="2.9" ry="3.8" fill="#888888" opacity="0.6"/>
<ellipse cx="2795.3" cy="153.0" rx="1.7" ry="2.3" fill="#cbcbcb"/>
<ellipse cx="2772.4" cy="111.2" rx="2.9" ry="3.5" fill="#888888" opacity="0.6"/>
<ellipse cx="2772.4" cy="111.2" rx="1.7" ry="2.1" fill="#c2c2c2"/>
<ellipse cx="2774.0" cy="151.0" rx="5.3" ry="6.1" fill="#888888" opacity="0.6"/>
<ellipse cx="2774.0" cy="151.0" rx="3.1" ry="3.6" fill="#dedede"/>
<ellipse cx="2787.1" cy="139.7" rx="3.3" ry="4.1" fill="#888888" opacity="0.6"/>
<ellipse cx="2787.1" cy="139.7" rx="1.9" ry="2.4" fill="#d5d5d5"/>
<ellipse cx="2796.5" cy="120.3" rx="4.6" ry="6.0" fill="#888888" opacity="0.6"/>
<ellipse cx="2796.5" cy="120.3" rx="2.7" ry="3.5" fill="#c2c2c2"/>
<ellipse cx="2746.3" cy="151.4" rx="3.2" ry="4.7" fill="#888888" opacity="0.6"/>
<ellipse cx="2746.3" cy="151.4" rx="1.9" ry="2.8" fill="#c1c1c1"/>
<ellipse cx="2999.9" cy="191.4" rx="3.9" ry="6.0" fill="#888888" opacity="0.6"/>
<ellipse cx="2999.9" cy="191.4" rx="2.3" ry="3.5" fill="#cfcfcf"/>
<ellipse cx="2995.7" cy="173.1" rx="3.0" ry="2.9" fill="#888888" opacity="0.6"/>
<ellipse cx="2995.7" cy="173.1" rx="1.7" ry="1.7" fill="#dcdcdc"/>
<ellipse cx="2987.7" cy="202.6" rx="5.3" ry="8.0" fill="#888888" opacity="0.6"/>
<ellipse cx="2987.7" cy="202.6" rx="3.1" ry="4.7" fill="#dadada"/>
<ellipse cx="3001.5" cy="167.5" rx="3.6" ry="4.4" fill="#888888" opacity="0.6"/>
<ellipse cx="3001.5" cy="167.5" rx="2.1" ry="2.6" fill="#e0e0e0"/>
<ellipse cx="3002.8" cy="165.7" rx="4.1" ry="5.9" fill="#888888" opacity="0.6"/>
<ellipse cx="3002.8" cy="165.7" rx="2.4" ry="3.5" fill="#e0e0e0"/>
<ellipse cx="3017.1" cy="177.7" rx="5.1" ry="7.7" fill="#888888" opacity="0.6"/>
<ellipse cx="3017.1" cy="177.7" rx="3.0" ry="4.5" fill="#d8d8d8"/>
<ellipse cx="2998.7" cy="167.1" rx="3.2" ry="4.1" fill="#888888" opacity="0.6"/>
<ellipse cx="2998.7" cy="167.1" rx="1.9" ry="2.4" fill="#dddddd"/>
<ellipse cx="3019.9" cy="198.3" rx="3.4" ry="5.3" fill="#888888" opacity="0.6"/>
<ellipse cx="3019.9" cy="198.3" rx="2.0" ry="3.1" fill="#e2e2e2"/>
<ellipse cx="3013.4" cy="197.4" rx="2.6" ry="2.6" fill="#888888" opacity="0.6"/>
<ellipse cx="3013.4" cy="197.4" rx="1.5" ry="1.5" fill="#e3e3e3"/>
<ellipse cx="3037.0" cy="196.3" rx="4.4" ry="6.5" fill="#888888" opacity="0.6"/>
<ellipse cx="3037.0" cy="196.3" rx="2.6" ry="3.8" fill="#dddddd"/>
<ellipse cx="2991.9" cy="197.0" rx="5.2" ry="7.8" fill="#888888" opacity="0.6"/>
<ellipse cx="2991.9" cy="197.0" rx="3.1" ry="4.6" fill="#d7d7d7"/>
<ellipse cx="3026.1" cy="181.0" rx="3.1" ry="3.6" fill="#888888" opacity="0.6"/>
<ellipse cx="3026.1" cy="181.0" rx="1.8" ry="2.1" fill="#dcdcdc"/>
<ellipse cx="3019.1" cy="187.6" rx="2.6" ry="2.6" fill="#888888" opacity="0.6"/>
<ellipse cx="3019.1" cy="187.6" rx="1.6" ry="1.6" fill="#cfcfcf"/>
<ellipse cx="3020.0" cy="204.4" rx="5.7" ry="7.0" fill="#888888" opacity="0.6"/>
<ellipse cx="3020.0" cy="204.4" rx="3.4" ry="4.1" fill="#d3d3d3"/>
<ellipse cx="3037.0" cy="195.6" rx="3.5" ry="3.6" fill="#888888" opacity="0.6"/>
<ellipse cx="3037.0" cy="195.6" rx="2.0" ry="2.1" fill="#d5d5d5"/>
<ellipse cx="3001.2" cy="201.7" rx="3.8" ry="5.0" fill="#888888" opacity="0.6"/>
<ellipse cx="3001.2" cy="201.7" rx="2.3" ry="2.9" fill="#d7d7d7"/>
<ellipse cx="3029.7" cy="202.3" rx="5.6" ry="6.2" fill="#888888" opacity="0.6"/>
<ellipse cx="3029.7" cy="202.3" rx="3.3" ry="3.6" fill="#e1e1e1"/>
<ellipse cx="3034.3" cy="176.4" rx="3.9" ry="4.3" fill="#888888" opacity="0.6"/>
<ellipse cx="3034.3" cy="176.4" rx="2.3" ry="2.5" fill="#d9d9d9"/>
<ellipse cx="3018.6" cy="163.3" rx="3.6" ry="5.3" fill="#888888" opacity="0.6"/>
<ellipse cx="3018.6" cy="163.3" rx="2.1" ry="3.1" fill="#cccccc"/>
<ellipse cx="3029.5" cy="167.7" rx="4.6" ry="5.6" fill="#888888" opacity="0.6"/>
<ellipse cx="3029.5" cy="167.7" rx="2.7" ry="3.3" fill="#dddddd"/>
<ellipse cx="2996.3" cy="156.7" rx="4.8" ry="7.4" fill="#888888" opacity="0.6"/>
<ellipse cx="2996.3" cy="156.7" rx="2.8" ry="4.3" fill="#e1e1e1"/>
<ellipse cx="3006.0" cy="175.4" rx="5.4" ry="5.2" fill="#888888" opacity="0.6"/>
<ellipse cx="3006.0" cy="175.4" rx="3.1" ry="3.1" fill="#dcdcdc"/>
<ellipse cx="3037.9" cy="192.9" rx="5.3" ry="6.8" fill="#888888" opacity="0.6"/>
<ellipse cx="3037.9" cy="192.9" rx="3.1" ry="4.0" fill="#d6d6d6"/>
<ellipse cx="3013.1" cy="163.8" rx="3.9" ry="5.5" fill="#888888" opacity="0.6"/>
<ellipse cx="3013.1" cy="163.8" rx="2.3" ry="3.2" fill="#dbdbdb"/>
<ellipse cx="2981.6" cy="121.3" rx="2.8" ry="2.9" fill="#888888" opacity="0.6"/>
<ellipse cx="2981.6" cy="121.3" rx="1.7" ry="1.7" fill="#c7c7c7"/>
<ellipse cx="2980.5" cy="122.4" rx="3.7" ry="4.5" fill="#888888" opacity="0.6"/>
<ellipse cx="2980.5" cy="122.4" rx="2.2" ry="2.6" fill="#d9d9d9"/>
<ellipse cx="2970.8" cy="139.9" rx="4.2" ry="5.8" fill="#888888" opacity="0.6"/>
<ellipse cx="2970.8" cy="139.9" rx="2.5" ry="3.4" fill="#c7c7c7"/>
<ellipse cx="2977.3" cy="137.0" rx="3.3" ry="3.7" fill="#888888" opacity="0.6"/>
<ellipse cx="2977.3" cy="137.0" rx="2.0" ry="2.2" fill="#dbdbdb"/>
<ellipse cx="2987.4" cy="134.1" rx="3.9" ry="4.4" fill="#888888" opacity="0.6"/>
<ellipse cx="2987.4" cy="134.1" rx="2.3" ry="2.6" fill="#e5e5e5"/>
<ellipse cx="2976.5" cy="133.4" rx="4.8" ry="6.8" fill="#888888" opacity="0.6"/>
<ellipse cx="2976.5" cy="133.4" rx="2.8" ry="4.0" fill="#d3d3d3"/>
<ellipse cx="2797.0" cy="143.0" rx="6.0" ry="9.3" fill="#888888" opacity="0.6"/>
<ellipse cx="2797.0" cy="143.0" rx="3.5" ry="5.5" fill="#dfdfdf"/>
<ellipse cx="2807.0" cy="143.0" rx="6.0" ry="9.3" fill="#888888" opacity="0.6"/>
<ellipse cx="2807.0" cy="143.0" rx="3.5" ry="5.5" fill="#dfdfdf"/>
<ellipse cx="2836.0" cy="143.0" rx="6.0" ry="9.3" fill="#888888" opacity="0.6"/>
<ellipse cx="2836.0" cy="143.0" rx="3.5" ry="5.5" fill="#dfdfdf"/>
<ellipse cx="2852.0" cy="143.0" rx="6.0" ry="9.3" fill="#888888" opacity="0.6"/>
<ellipse cx="2852.0" cy="143.0" rx="3.5" ry="5.5" fill="#dfdfdf"/>
<ellipse cx="2884.0" cy="143.0" rx="6.0" ry="9.3" fill="#888888" opacity="0.6"/>
<ellipse cx="2884.0" cy="143.0" rx="3.5" ry="5.5" fill="#dfdfdf"/>
<ellipse cx="2916.0" cy="143.0" rx="6.0" ry="9.3" fill="#888888" opacity="0.6"/>
<ellipse cx="2916.0" cy="143.0" rx="3.5" ry="5.5" fill="#dfdfdf"/>
<ellipse cx="2932.0" cy="143.0" rx="6.0" ry="9.3" fill="#888888" opacity="0.6"/>
<ellipse cx="2932.0" cy="143.0" rx="3.5" ry="5.5" fill="#dfdfdf"/>
<rect x="2795.0" y="141.4" width="3.2" height="3.1" fill="#c3c3c3"/>
<rect x="2801.6" y="141.3" width="3.8" height="3.5" fill="#b2b2b2"/>
<rect x="2807.8" y="141.2" width="2.8" height="3.6" fill="#bfbfbf"/>
<rect x="2816.0" y="140.5" width="3.3" height="4.9" fill="#b3b3b3"/>
<rect x="2822.4" y="140.5" width="3.8" height="5.0" fill="#c3c3c3"/>
<rect x="2828.7" y="140.8" width="2.2" height="4.5" fill="#c0c0c0"/>
<rect x="2833.7" y="141.3" width="3.5" height="3.5" fill="#b9b9b9"/>
<rect x="2838.7" y="141.6" width="2.2" height="2.8" fill="#bcbcbc"/>
<rect x="2845.3" y="140.9" width="2.7" height="4.2" fill="#c4c4c4"/>
<rect x="2851.0" y="141.3" width="2.9" height="3.3" fill="#bebebe"/>
<rect x="2856.6" y="141.2" width="2.7" height="3.7" fill="#b1b1b1"/>
<rect x="2862.8" y="141.5" width="3.4" height="3.1" fill="#bebebe"/>
<rect x="2868.3" y="140.9" width="2.1" height="4.1" fill="#bebebe"/>
<rect x="2874.8" y="141.6" width="2.5" height="2.8" fill="#c3c3c3"/>
<rect x="2880.2" y="141.2" width="2.3" height="3.7" fill="#b5b5b5"/>
<rect x="2886.0" y="141.3" width="3.5" height="3.5" fill="#adadad"/>
<rect x="2893.1" y="141.4" width="2.5" height="3.1" fill="#bfbfbf"/>
<rect x="2899.0" y="141.0" width="3.9" height="4.0" fill="#b2b2b2"/>
<rect x="2905.3" y="141.3" width="3.3" height="3.3" fill="#b6b6b6"/>
<rect x="2913.3" y="140.8" width="3.8" height="4.3" fill="#b0b0b0"/>
<rect x="2919.3" y="141.5" width="2.5" height="3.0" fill="#c2c2c2"/>
<rect x="2927.8" y="141.2" width="3.2" height="3.6" fill="#c3c3c3"/>
<rect x="2935.0" y="141.1" width="3.4" height="3.7" fill="#bebebe"/>
<rect x="2795.0" y="206.8" width="4.6" height="6.5" fill="#d8d8d8"/>
<rect x="2802.4" y="204.8" width="4.1" height="10.4" fill="#e4e4e4"/>
<rect x="2813.1" y="204.7" width="4.5" height="10.6" fill="#e2e2e2"/>
<rect x="2820.6" y="205.6" width="3.8" height="8.9" fill="#e4e4e4"/>
<rect x="2831.4" y="205.4" width="5.2" height="9.1" fill="#e6e6e6"/>
<rect x="2840.4" y="205.8" width="3.2" height="8.4" fill="#e5e5e5"/>
<rect x="2848.9" y="206.3" width="3.9" height="7.4" fill="#d6d6d6"/>
<rect x="2859.3" y="206.5" width="4.9" height="7.0" fill="#cecece"/>
<rect x="2867.8" y="206.5" width="2.9" height="7.0" fill="#cacaca"/>
<rect x="2878.1" y="204.2" width="4.3" height="11.6" fill="#d8d8d8"/>
<rect x="2888.4" y="206.7" width="3.1" height="6.5" fill="#dddddd"/>
<rect x="2895.2" y="204.8" width="3.6" height="10.3" fill="#d4d4d4"/>
<rect x="2905.1" y="204.9" width="5.2" height="10.1" fill="#d3d3d3"/>
<rect x="2912.2" y="205.4" width="3.1" height="9.3" fill="#d4d4d4"/>
<rect x="2923.3" y="205.7" width="4.4" height="8.5" fill="#dedede"/>
<rect x="2934.6" y="205.3" width="3.8" height="9.4" fill="#e3e3e3"/>
<rect x="2945.6" y="206.4" width="3.9" height="7.2" fill="#e6e6e6"/>
<rect x="2824.0" y="707.7" width="5.0" height="12.5" fill="#e6e6e6"/>
<rect x="2833.0" y="709.7" width="4.2" height="8.7" fill="#dcdcdc"/>
<rect x="2844.3" y="710.3" width="4.5" height="7.4" fill="#d1d1d1"/>
<rect x="2855.7" y="708.7" width="3.5" height="10.5" fill="#d4d4d4"/>
<rect x="2866.8" y="709.6" width="4.8" height="8.9" fill="#e0e0e0"/>
<rect x="2876.6" y="709.7" width="3.0" height="8.7" fill="#dedede"/>
<rect x="2886.9" y="708.7" width="4.1" height="10.6" fill="#d4d4d4"/>
<rect x="2894.4" y="709.3" width="4.3" height="9.5" fill="#cbcbcb"/>
<rect x="2904.9" y="707.6" width="5.0" height="12.8" fill="#dedede"/>
<rect x="2913.3" y="709.1" width="4.2" height="9.8" fill="#dfdfdf"/>
<rect x="2922.0" y="707.9" width="3.1" height="12.2" fill="#d5d5d5"/>
<rect x="2931.9" y="710.0" width="3.6" height="8.0" fill="#cdcdcd"/>
<rect x="2942.5" y="709.3" width="3.5" height="9.4" fill="#d2d2d2"/>
<rect x="2951.9" y="710.1" width="3.6" height="7.8" fill="#e0e0e0"/>
<rect x="2959.9" y="709.2" width="4.4" height="9.6" fill="#d9d9d9"/>
<rect x="2967.1" y="709.6" width="5.1" height="8.8" fill="#d4d4d4"/>
<rect x="2986.5" y="696.5" width="17.0" height="36.0" fill="#939393" opacity="0.8"/>
<rect x="2991.5" y="703.6" width="3.8" height="14.2" fill="#e8e8e8"/>
<rect x="2995.6" y="700.6" width="5.7" height="20.6" fill="#eeeeee"/>
<rect x="2988.0" y="708.2" width="4.6" height="22.0" fill="#d5d5d5"/>
<rect x="2988.0" y="701.0" width="4.7" height="10.7" fill="#e1e1e1"/>
<rect x="2991.2" y="703.3" width="2.6" height="19.1" fill="#dbdbdb"/>
<rect x="3029.5" y="700.5" width="9.0" height="32.0" fill="#939393" opacity="0.8"/>
<rect x="3031.6" y="705.5" width="5.4" height="21.2" fill="#e1e1e1"/>
<rect x="3033.4" y="707.5" width="2.3" height="19.3" fill="#f0f0f0"/>
<rect x="3031.6" y="703.0" width="4.6" height="20.7" fill="#e8e8e8"/>
<rect x="3100.5" y="700.5" width="31.0" height="25.0" fill="#939393" opacity="0.8"/>
<rect x="3124.2" y="710.4" width="5.6" height="10.5" fill="#e1e1e1"/>
<rect x="3126.5" y="702.7" width="3.4" height="17.3" fill="#cccccc"/>
<rect x="3111.8" y="708.0" width="3.0" height="14.0" fill="#e5e5e5"/>
<rect x="3118.6" y="703.3" width="2.0" height="16.2" fill="#e3e3e3"/>
<rect x="3117.0" y="703.1" width="2.3" height="10.8" fill="#e0e0e0"/>
<rect x="3105.0" y="705.8" width="3.3" height="15.8" fill="#cfcfcf"/>
<rect x="3112.6" y="712.4" width="3.7" height="8.8" fill="#d1d1d1"/>
<rect x="3109.2" y="703.6" width="3.3" height="16.0" fill="#dfdfdf"/>
<rect x="2995.0" y="735.5" width="42.0" height="3.0" fill="#e4e4e4"/>
<rect x="2993.0" y="575.0" width="2.0" height="130.0" fill="#888888"/>
<rect x="2843.0" y="45.0" width="4.0" height="62.0" fill="#d2d2d2"/>
<rect x="2816.0" y="228.0" width="6.0" height="99.0" fill="#bfbfbf"/>
<ellipse cx="2857.5" cy="275.0" rx="10.0" ry="58.0" fill="#9b9b9b" opacity="0.8"/>
<ellipse cx="2857.5" cy="278.0" rx="5.0" ry="52.0" fill="#efefef"/>
<rect x="2888.8" y="250.0" width="2.5" height="22.0" fill="#c8c8c8"/>
<rect x="2899.0" y="232.0" width="16.0" height="95.0" fill="#a8a8a8"/>
<rect x="2806.0" y="228.0" width="6.0" height="72.0" fill="#a8a8a8"/>
<rect x="2836.0" y="228.0" width="4.0" height="82.0" fill="#a8a8a8"/>
<rect x="2900.0" y="327.0" width="8.0" height="259.0" fill="#afafaf"/>
<rect x="2902.5" y="330.0" width="3.0" height="9.9" fill="#f8f8f8"/>
<rect x="2902.5" y="344.5" width="3.1" height="16.8" fill="#fcfcfc"/>
<rect x="2902.2" y="359.5" width="3.6" height="14.8" fill="#fafafa"/>
<rect x="2902.5" y="372.2" width="2.9" height="17.0" fill="#f5f5f5"/>
<rect x="2902.4" y="390.2" width="3.2" height="11.2" fill="#fafafa"/>
<rect x="2901.9" y="408.9" width="4.2" height="10.8" fill="#fbfbfb"/>
<rect x="2902.0" y="423.7" width="4.1" height="15.6" fill="#f8f8f8"/>
<rect x="2902.5" y="439.8" width="3.0" height="16.2" fill="#e4e4e4"/>
<rect x="2902.4" y="458.4" width="3.2" height="14.0" fill="#f0f0f0"/>
<rect x="2902.0" y="477.0" width="4.0" height="11.4" fill="#fcfcfc"/>
<rect x="2902.4" y="495.5" width="3.2" height="17.8" fill="#e6e6e6"/>
<rect x="2901.8" y="511.6" width="4.5" height="11.5" fill="#fbfbfb"/>
<rect x="2902.2" y="531.8" width="3.7" height="16.6" fill="#f6f6f6"/>
<rect x="2902.0" y="550.8" width="3.9" height="12.5" fill="#fcfcfc"/>
<rect x="2901.7" y="562.8" width="4.5" height="17.3" fill="#efefef"/>
<rect x="2902.3" y="576.7" width="3.4" height="11.7" fill="#eaeaea"/>
<rect x="2899.5" y="560.0" width="5.0" height="25.0" fill="#e4e4e4"/>
<rect x="2818.5" y="600.0" width="3.0" height="90.0" fill="#cfcfcf"/>
<rect x="2838.5" y="600.0" width="3.0" height="92.0" fill="#cfcfcf"/>
<ellipse cx="2867.0" cy="642.0" rx="11.0" ry="56.0" fill="#9b9b9b" opacity="0.8"/>
<ellipse cx="2867.0" cy="642.0" rx="5.5" ry="50.0" fill="#efefef"/>
<ellipse cx="2915.0" cy="648.0" rx="5.0" ry="45.0" fill="#a4a4a4"/>
<ellipse cx="3031.5" cy="370.0" rx="6.0" ry="42.0" fill="#888888"/>
<ellipse cx="3031.5" cy="368.0" rx="2.6" ry="38.0" fill="#e9e9e9"/>
<rect x="3082.8" y="21.0" width="2.5" height="58.0" fill="#b5b5b5"/>
<rect x="3127.0" y="362.0" width="4.0" height="228.0" fill="#dfdfdf"/>
<rect x="3127.0" y="724.0" width="4.0" height="112.0" fill="#dfdfdf"/>
<rect x="3127.5" y="560.0" width="3.0" height="29.0" fill="#d2d2d2"/>
<rect x="3124.7" y="93.0" width="2.6" height="12.8" fill="#d7d7d7"/>
<rect x="3124.6" y="107.3" width="2.7" height="10.5" fill="#dddddd"/>
<rect x="3124.6" y="125.5" width="2.7" height="9.0" fill="#d3d3d3"/>
<rect x="3124.4" y="138.6" width="3.2" height="9.9" fill="#d1d1d1"/>
<rect x="3124.7" y="150.1" width="2.7" height="13.6" fill="#d8d8d8"/>
<rect x="3124.6" y="161.4" width="2.8" height="14.2" fill="#e0e0e0"/>
<rect x="3124.9" y="176.3" width="2.2" height="9.2" fill="#d9d9d9"/>
<rect x="3124.7" y="190.3" width="2.7" height="12.6" fill="#cacaca"/>
<rect x="3124.7" y="203.6" width="2.7" height="14.2" fill="#e0e0e0"/>
<rect x="3130.7" y="93.0" width="2.5" height="11.7" fill="#dcdcdc"/>
<rect x="3130.5" y="108.2" width="2.9" height="10.6" fill="#d7d7d7"/>
<rect x="3130.7" y="123.3" width="2.6" height="10.0" fill="#d8d8d8"/>
<rect x="3130.5" y="141.2" width="3.0" height="9.6" fill="#cccccc"/>
<rect x="3130.9" y="156.6" width="2.2" height="14.1" fill="#c5c5c5"/>
<rect x="3131.0" y="173.7" width="2.0" height="12.6" fill="#d9d9d9"/>
<rect x="3130.8" y="185.5" width="2.4" height="14.2" fill="#cacaca"/>
<rect x="3130.8" y="199.8" width="2.3" height="11.4" fill="#c7c7c7"/>
<rect x="3137.0" y="93.0" width="2.1" height="12.3" fill="#cccccc"/>
<rect x="3136.5" y="106.8" width="3.0" height="10.0" fill="#dfdfdf"/>
<rect x="3136.9" y="122.2" width="2.3" height="9.2" fill="#d0d0d0"/>
<rect x="3137.0" y="138.4" width="2.0" height="12.0" fill="#d2d2d2"/>
<rect x="3136.5" y="151.6" width="3.0" height="12.0" fill="#cccccc"/>
<rect x="3136.7" y="169.1" width="2.7" height="10.8" fill="#dadada"/>
<rect x="3136.4" y="185.4" width="3.1" height="10.1" fill="#c8c8c8"/>
<rect x="3136.7" y="196.5" width="2.6" height="9.8" fill="#cccccc"/>
<rect x="3136.6" y="208.3" width="2.8" height="12.5" fill="#c9c9c9"/>
<rect x="3141.7" y="93.0" width="2.5" height="9.3" fill="#d9d9d9"/>
<rect x="3141.5" y="109.2" width="2.9" height="12.0" fill="#d3d3d3"/>
<rect x="3141.4" y="121.8" width="3.1" height="11.4" fill="#dfdfdf"/>
<rect x="3141.7" y="139.1" width="2.6" height="7.9" fill="#cacaca"/>
<rect x="3141.8" y="150.8" width="2.5" height="11.5" fill="#c7c7c7"/>
<rect x="3142.0" y="161.0" width="1.9" height="14.2" fill="#e1e1e1"/>
<rect x="3141.8" y="179.0" width="2.5" height="11.1" fill="#cacaca"/>
<rect x="3141.5" y="190.2" width="2.9" height="12.4" fill="#cbcbcb"/>
<rect x="3141.6" y="200.9" width="2.9" height="10.3" fill="#e0e0e0"/>
<ellipse cx="3118.0" cy="161.0" rx="6.8" ry="8.5" fill="#888888" opacity="0.6"/>
<ellipse cx="3118.0" cy="161.0" rx="4.0" ry="5.0" fill="#d5d5d5"/>
<ellipse cx="3120.0" cy="354.0" rx="5.1" ry="6.8" fill="#888888" opacity="0.6"/>
<ellipse cx="3120.0" cy="354.0" rx="3.0" ry="4.0" fill="#d5d5d5"/>
<ellipse cx="3120.0" cy="389.0" rx="10.2" ry="4.2" fill="#888888" opacity="0.6"/>
<ellipse cx="3120.0" cy="389.0" rx="6.0" ry="2.5" fill="#cfcfcf"/>
<ellipse cx="2699.0" cy="344.0" rx="2.3" ry="2.6" fill="#888888" opacity="0.6"/>
<ellipse cx="2699.0" cy="344.0" rx="1.4" ry="1.5" fill="#c8c8c8"/>
<ellipse cx="2730.3" cy="551.5" rx="3.6" ry="4.7" fill="#888888" opacity="0.6"/>
<ellipse cx="2730.3" cy="551.5" rx="2.1" ry="2.8" fill="#bfbfbf"/>
<ellipse cx="2686.0" cy="509.6" rx="2.6" ry="3.6" fill="#888888" opacity="0.6"/>
<ellipse cx="2686.0" cy="509.6" rx="1.5" ry="2.1" fill="#b9b9b9"/>
<ellipse cx="2701.4" cy="443.1" rx="2.7" ry="3.8" fill="#888888" opacity="0.6"/>
<ellipse cx="2701.4" cy="443.1" rx="1.6" ry="2.2" fill="#dadada"/>
<ellipse cx="2716.0" cy="355.3" rx="2.4" ry="2.8" fill="#888888" opacity="0.6"/>
<ellipse cx="2716.0" cy="355.3" rx="1.4" ry="1.6" fill="#d5d5d5"/>
<ellipse cx="2698.4" cy="494.7" rx="3.3" ry="4.4" fill="#888888" opacity="0.6"/>
<ellipse cx="2698.4" cy="494.7" rx="1.9" ry="2.6" fill="#d3d3d3"/>
<ellipse cx="2690.0" cy="415.8" rx="3.3" ry="4.9" fill="#888888" opacity="0.6"/>
<ellipse cx="2690.0" cy="415.8" rx="2.0" ry="2.9" fill="#d8d8d8"/>
<ellipse cx="2695.2" cy="518.9" rx="2.4" ry="3.5" fill="#888888" opacity="0.6"/>
<ellipse cx="2695.2" cy="518.9" rx="1.4" ry="2.1" fill="#d5d5d5"/>
<ellipse cx="2693.0" cy="350.0" rx="3.3" ry="3.5" fill="#888888" opacity="0.6"/>
<ellipse cx="2693.0" cy="350.0" rx="1.9" ry="2.1" fill="#d4d4d4"/>
<ellipse cx="2708.1" cy="578.6" rx="3.8" ry="4.0" fill="#888888" opacity="0.6"/>
<ellipse cx="2708.1" cy="578.6" rx="2.2" ry="2.4" fill="#bcbcbc"/>
<ellipse cx="2694.0" cy="487.2" rx="4.0" ry="4.9" fill="#888888" opacity="0.6"/>
<ellipse cx="2694.0" cy="487.2" rx="2.3" ry="2.9" fill="#d7d7d7"/>
<ellipse cx="2707.3" cy="572.8" rx="2.4" ry="3.2" fill="#888888" opacity="0.6"/>
<ellipse cx="2707.3" cy="572.8" rx="1.4" ry="1.9" fill="#d6d6d6"/>
<ellipse cx="2706.9" cy="438.2" rx="1.8" ry="1.9" fill="#888888" opacity="0.6"/>
<ellipse cx="2706.9" cy="438.2" rx="1.1" ry="1.1" fill="#dadada"/>
<ellipse cx="2693.3" cy="416.5" rx="3.7" ry="4.9" fill="#888888" opacity="0.6"/>
<ellipse cx="2693.3" cy="416.5" rx="2.2" ry="2.9" fill="#cacaca"/>
<ellipse cx="2728.8" cy="427.7" rx="2.0" ry="1.9" fill="#888888" opacity="0.6"/>
<ellipse cx="2728.8" cy="427.7" rx="1.2" ry="1.1" fill="#d3d3d3"/>
<ellipse cx="2677.8" cy="514.8" rx="2.8" ry="2.9" fill="#888888" opacity="0.6"/>
<ellipse cx="2677.8" cy="514.8" rx="1.6" ry="1.7" fill="#b8b8b8"/>
<ellipse cx="2670.4" cy="426.2" rx="3.7" ry="5.3" fill="#888888" opacity="0.6"/>
<ellipse cx="2670.4" cy="426.2" rx="2.2" ry="3.1" fill="#d8d8d8"/>
<ellipse cx="2686.0" cy="564.4" rx="4.0" ry="5.2" fill="#888888" opacity="0.6"/>
<ellipse cx="2686.0" cy="564.4" rx="2.4" ry="3.0" fill="#d1d1d1"/>
<ellipse cx="2697.5" cy="500.2" rx="1.7" ry="1.7" fill="#888888" opacity="0.6"/>
<ellipse cx="2697.5" cy="500.2" rx="1.0" ry="1.0" fill="#bbbbbb"/>
<ellipse cx="2705.3" cy="449.7" rx="3.1" ry="3.8" fill="#888888" opacity="0.6"/>
<ellipse cx="2705.3" cy="449.7" rx="1.8" ry="2.2" fill="#dadada"/>
<ellipse cx="2722.1" cy="344.6" rx="2.3" ry="3.0" fill="#888888" opacity="0.6"/>
<ellipse cx="2722.1" cy="344.6" rx="1.4" ry="1.8" fill="#c6c6c6"/>
<ellipse cx="2698.6" cy="473.9" rx="1.9" ry="2.3" fill="#888888" opacity="0.6"/>
<ellipse cx="2698.6" cy="473.9" rx="1.1" ry="1.3" fill="#d1d1d1"/>
<ellipse cx="2684.1" cy="493.4" rx="4.1" ry="4.7" fill="#888888" opacity="0.6"/>
<ellipse cx="2684.1" cy="493.4" rx="2.4" ry="2.7" fill="#d1d1d1"/>
<ellipse cx="2710.8" cy="526.2" rx="4.2" ry="4.2" fill="#888888" opacity="0.6"/>
<ellipse cx="2710.8" cy="526.2" rx="2.5" ry="2.4" fill="#c4c4c4"/>
<ellipse cx="2699.5" cy="376.2" rx="4.0" ry="5.0" fill="#888888" opacity="0.6"/>
<ellipse cx="2699.5" cy="376.2" rx="2.4" ry="2.9" fill="#dadada"/>
<ellipse cx="2664.6" cy="573.8" rx="3.6" ry="5.7" fill="#888888" opacity="0.6"/>
<ellipse cx="2664.6" cy="573.8" rx="2.1" ry="3.3" fill="#c0c0c0"/>
<ellipse cx="2724.9" cy="486.0" rx="3.2" ry="4.8" fill="#888888" opacity="0.6"/>
<ellipse cx="2724.9" cy="486.0" rx="1.9" ry="2.8" fill="#d6d6d6"/>
<ellipse cx="2675.3" cy="398.8" rx="2.8" ry="3.3" fill="#888888" opacity="0.6"/>
<ellipse cx="2675.3" cy="398.8" rx="1.7" ry="1.9" fill="#cccccc"/>
<ellipse cx="2704.4" cy="495.5" rx="3.1" ry="3.6" fill="#888888" opacity="0.6"/>
<ellipse cx="2704.4" cy="495.5" rx="1.8" ry="2.1" fill="#c4c4c4"/>
<ellipse cx="2674.5" cy="396.2" rx="3.8" ry="5.8" fill="#888888" opacity="0.6"/>
<ellipse cx="2674.5" cy="396.2" rx="2.2" ry="3.4" fill="#dadada"/>
<ellipse cx="2718.8" cy="444.4" rx="3.4" ry="4.4" fill="#888888" opacity="0.6"/>
<ellipse cx="2718.8" cy="444.4" rx="2.0" ry="2.6" fill="#d3d3d3"/>
<ellipse cx="2723.1" cy="401.1" rx="2.4" ry="3.5" fill="#888888" opacity="0.6"/>
<ellipse cx="2723.1" cy="401.1" rx="1.4" ry="2.1" fill="#b8b8b8"/>
<ellipse cx="2702.3" cy="589.1" rx="3.7" ry="4.1" fill="#888888" opacity="0.6"/>
<ellipse cx="2702.3" cy="589.1" rx="2.2" ry="2.4" fill="#c2c2c2"/>
<ellipse cx="2661.1" cy="412.9" rx="2.8" ry="2.9" fill="#888888" opacity="0.6"/>
<ellipse cx="2661.1" cy="412.9" rx="1.7" ry="1.7" fill="#cdcdcd"/>
<ellipse cx="2681.4" cy="501.4" rx="3.8" ry="4.0" fill="#888888" opacity="0.6"/>
<ellipse cx="2681.4" cy="501.4" rx="2.2" ry="2.4" fill="#c0c0c0"/>
<ellipse cx="2663.9" cy="548.6" rx="3.5" ry="5.0" fill="#888888" opacity="0.6"/>
<ellipse cx="2663.9" cy="548.6" rx="2.1" ry="3.0" fill="#d6d6d6"/>
<ellipse cx="2718.0" cy="429.9" rx="3.3" ry="4.3" fill="#888888" opacity="0.6"/>
<ellipse cx="2718.0" cy="429.9" rx="1.9" ry="2.5" fill="#bebebe"/>
<ellipse cx="2680.6" cy="560.1" rx="2.5" ry="2.9" fill="#888888" opacity="0.6"/>
<ellipse cx="2680.6" cy="560.1" rx="1.5" ry="1.7" fill="#d3d3d3"/>
<ellipse cx="2734.0" cy="370.1" rx="2.4" ry="3.5" fill="#888888" opacity="0.6"/>
<ellipse cx="2734.0" cy="370.1" rx="1.4" ry="2.0" fill="#c9c9c9"/>
<ellipse cx="2700.3" cy="430.9" rx="2.7" ry="3.4" fill="#888888" opacity="0.6"/>
<ellipse cx="2700.3" cy="430.9" rx="1.6" ry="2.0" fill="#c1c1c1"/>
<ellipse cx="2687.1" cy="360.4" rx="3.5" ry="4.8" fill="#888888" opacity="0.6"/>
<ellipse cx="2687.1" cy="360.4" rx="2.0" ry="2.8" fill="#d1d1d1"/>
<ellipse cx="2692.6" cy="390.5" rx="3.6" ry="4.2" fill="#888888" opacity="0.6"/>
<ellipse cx="2692.6" cy="390.5" rx="2.1" ry="2.4" fill="#c7c7c7"/>
<ellipse cx="2732.0" cy="461.4" rx="2.9" ry="4.1" fill="#888888" opacity="0.6"/>
<ellipse cx="2732.0" cy="461.4" rx="1.7" ry="2.4" fill="#d0d0d0"/>
<ellipse cx="2672.7" cy="396.6" rx="1.8" ry="1.9" fill="#888888" opacity="0.6"/>
<ellipse cx="2672.7" cy="396.6" rx="1.0" ry="1.1" fill="#b8b8b8"/>
<ellipse cx="2689.6" cy="510.3" rx="2.2" ry="2.3" fill="#888888" opacity="0.6"/>
<ellipse cx="2689.6" cy="510.3" rx="1.3" ry="1.3" fill="#cdcdcd"/>
<ellipse cx="2692.5" cy="521.5" rx="2.3" ry="3.1" fill="#888888" opacity="0.6"/>
<ellipse cx="2692.5" cy="521.5" rx="1.3" ry="1.8" fill="#c7c7c7"/>
<ellipse cx="2667.0" cy="431.6" rx="4.2" ry="4.2" fill="#888888" opacity="0.6"/>
<ellipse cx="2667.0" cy="431.6" rx="2.5" ry="2.4" fill="#bababa"/>
<ellipse cx="2685.1" cy="450.3" rx="2.7" ry="4.2" fill="#888888" opacity="0.6"/>
<ellipse cx="2685.1" cy="450.3" rx="1.6" ry="2.5" fill="#c9c9c9"/>
<ellipse cx="2690.3" cy="577.7" rx="2.3" ry="3.4" fill="#888888" opacity="0.6"/>
<ellipse cx="2690.3" cy="577.7" rx="1.3" ry="2.0" fill="#cacaca"/>
<ellipse cx="2700.9" cy="507.2" rx="2.8" ry="2.8" fill="#888888" opacity="0.6"/>
<ellipse cx="2700.9" cy="507.2" rx="1.6" ry="1.6" fill="#bebebe"/>
<ellipse cx="2704.7" cy="535.5" rx="3.0" ry="4.5" fill="#888888" opacity="0.6"/>
<ellipse cx="2704.7" cy="535.5" rx="1.8" ry="2.6" fill="#d7d7d7"/>
<ellipse cx="2726.9" cy="374.2" rx="2.0" ry="2.4" fill="#888888" opacity="0.6"/>
<ellipse cx="2726.9" cy="374.2" rx="1.2" ry="1.4" fill="#dadada"/>
<ellipse cx="2714.2" cy="586.9" rx="2.4" ry="2.3" fill="#888888" opacity="0.6"/>
<ellipse cx="2714.2" cy="586.9" rx="1.4" ry="1.4" fill="#c3c3c3"/>
<ellipse cx="2714.9" cy="478.0" rx="2.8" ry="4.1" fill="#888888" opacity="0.6"/>
<ellipse cx="2714.9" cy="478.0" rx="1.6" ry="2.4" fill="#d0d0d0"/>
<ellipse cx="2690.2" cy="364.1" rx="3.8" ry="5.7" fill="#888888" opacity="0.6"/>
<ellipse cx="2690.2" cy="364.1" rx="2.2" ry="3.4" fill="#bdbdbd"/>
<ellipse cx="2703.6" cy="454.4" rx="3.6" ry="4.1" fill="#888888" opacity="0.6"/>
<ellipse cx="2703.6" cy="454.4" rx="2.1" ry="2.4" fill="#cecece"/>
<ellipse cx="2666.1" cy="489.9" rx="4.1" ry="6.2" fill="#888888" opacity="0.6"/>
<ellipse cx="2666.1" cy="489.9" rx="2.4" ry="3.7" fill="#d3d3d3"/>
<ellipse cx="2672.8" cy="436.7" rx="4.4" ry="4.4" fill="#888888" opacity="0.6"/>
<ellipse cx="2672.8" cy="436.7" rx="2.6" ry="2.6" fill="#d9d9d9"/>
<ellipse cx="2727.5" cy="561.3" rx="2.7" ry="3.0" fill="#888888" opacity="0.6"/>
<ellipse cx="2727.5" cy="561.3" rx="1.6" ry="1.8" fill="#d3d3d3"/>
<ellipse cx="2707.5" cy="343.7" rx="2.8" ry="4.3" fill="#888888" opacity="0.6"/>
<ellipse cx="2707.5" cy="343.7" rx="1.7" ry="2.5" fill="#d6d6d6"/>
<ellipse cx="2702.3" cy="547.7" rx="4.3" ry="6.1" fill="#888888" opacity="0.6"/>
<ellipse cx="2702.3" cy="547.7" rx="2.5" ry="3.6" fill="#b8b8b8"/>
<ellipse cx="2713.2" cy="569.7" rx="2.2" ry="2.2" fill="#888888" opacity="0.6"/>
<ellipse cx="2713.2" cy="569.7" rx="1.3" ry="1.3" fill="#c9c9c9"/>
<ellipse cx="2706.0" cy="555.6" rx="4.3" ry="5.6" fill="#888888" opacity="0.6"/>
<ellipse cx="2706.0" cy="555.6" rx="2.5" ry="3.3" fill="#cbcbcb"/>
<ellipse cx="2733.5" cy="406.6" rx="4.0" ry="4.4" fill="#888888" opacity="0.6"/>
<ellipse cx="2733.5" cy="406.6" rx="2.4" ry="2.6" fill="#c7c7c7"/>
<ellipse cx="2665.8" cy="414.2" rx="3.2" ry="4.3" fill="#888888" opacity="0.6"/>
<ellipse cx="2665.8" cy="414.2" rx="1.9" ry="2.5" fill="#c9c9c9"/>
<ellipse cx="2702.6" cy="485.9" rx="3.0" ry="4.5" fill="#888888" opacity="0.6"/>
<ellipse cx="2702.6" cy="485.9" rx="1.8" ry="2.6" fill="#cecece"/>
<ellipse cx="2681.9" cy="432.8" rx="3.7" ry="4.8" fill="#888888" opacity="0.6"/>
<ellipse cx="2681.9" cy="432.8" rx="2.2" ry="2.8" fill="#dbdbdb"/>
<ellipse cx="2705.3" cy="382.3" rx="3.0" ry="3.8" fill="#888888" opacity="0.6"/>
<ellipse cx="2705.3" cy="382.3" rx="1.7" ry="2.3" fill="#d6d6d6"/>
<ellipse cx="2678.9" cy="446.6" rx="1.8" ry="2.6" fill="#888888" opacity="0.6"/>
<ellipse cx="2678.9" cy="446.6" rx="1.0" ry="1.5" fill="#cdcdcd"/>
<ellipse cx="2688.0" cy="397.7" rx="3.1" ry="3.2" fill="#888888" opacity="0.6"/>
<ellipse cx="2688.0" cy="397.7" rx="1.8" ry="1.9" fill="#d8d8d8"/>
<ellipse cx="2672.8" cy="532.8" rx="4.0" ry="5.0" fill="#888888" opacity="0.6"/>
<ellipse cx="2672.8" cy="532.8" rx="2.3" ry="3.0" fill="#d0d0d0"/>
<ellipse cx="2708.4" cy="539.7" rx="2.9" ry="3.0" fill="#888888" opacity="0.6"/>
<ellipse cx="2708.4" cy="539.7" rx="1.7" ry="1.7" fill="#cfcfcf"/>
<ellipse cx="2701.4" cy="540.2" rx="2.5" ry="2.7" fill="#888888" opacity="0.6"/>
<ellipse cx="2701.4" cy="540.2" rx="1.5" ry="1.6" fill="#c4c4c4"/>
<ellipse cx="2693.6" cy="520.9" rx="2.9" ry="2.8" fill="#888888" opacity="0.6"/>
<ellipse cx="2693.6" cy="520.9" rx="1.7" ry="1.7" fill="#bbbbbb"/>
<ellipse cx="2735.4" cy="587.3" rx="2.9" ry="3.5" fill="#888888" opacity="0.6"/>
<ellipse cx="2735.4" cy="587.3" rx="1.7" ry="2.1" fill="#d0d0d0"/>
<ellipse cx="2774.7" cy="372.8" rx="2.9" ry="3.0" fill="#888888" opacity="0.6"/>
<ellipse cx="2774.7" cy="372.8" rx="1.7" ry="1.8" fill="#cacaca"/>
<ellipse cx="2777.5" cy="392.4" rx="1.9" ry="1.9" fill="#888888" opacity="0.6"/>
<ellipse cx="2777.5" cy="392.4" rx="1.1" ry="1.1" fill="#cacaca"/>
<ellipse cx="2766.0" cy="402.2" rx="2.3" ry="2.5" fill="#888888" opacity="0.6"/>
<ellipse cx="2766.0" cy="402.2" rx="1.3" ry="1.4" fill="#d4d4d4"/>
<ellipse cx="2776.1" cy="367.6" rx="3.0" ry="3.1" fill="#888888" opacity="0.6"/>
<ellipse cx="2776.1" cy="367.6" rx="1.8" ry="1.8" fill="#dbdbdb"/>
<ellipse cx="2794.5" cy="391.4" rx="2.3" ry="2.7" fill="#888888" opacity="0.6"/>
<ellipse cx="2794.5" cy="391.4" rx="1.4" ry="1.6" fill="#d6d6d6"/>
<ellipse cx="2812.1" cy="392.7" rx="3.7" ry="4.7" fill="#888888" opacity="0.6"/>
<ellipse cx="2812.1" cy="392.7" rx="2.2" ry="2.8" fill="#c5c5c5"/>
<ellipse cx="2771.3" cy="366.7" rx="2.9" ry="3.5" fill="#888888" opacity="0.6"/>
<ellipse cx="2771.3" cy="366.7" rx="1.7" ry="2.1" fill="#dadada"/>
<ellipse cx="2750.9" cy="390.4" rx="2.3" ry="3.2" fill="#888888" opacity="0.6"/>
<ellipse cx="2750.9" cy="390.4" rx="1.4" ry="1.9" fill="#c0c0c0"/>
<ellipse cx="2759.4" cy="378.4" rx="4.2" ry="6.0" fill="#888888" opacity="0.6"/>
<ellipse cx="2759.4" cy="378.4" rx="2.5" ry="3.5" fill="#c5c5c5"/>
<ellipse cx="2754.9" cy="376.5" rx="1.9" ry="2.8" fill="#888888" opacity="0.6"/>
<ellipse cx="2754.9" cy="376.5" rx="1.1" ry="1.7" fill="#d8d8d8"/>
<ellipse cx="2787.2" cy="390.9" rx="3.1" ry="3.0" fill="#888888" opacity="0.6"/>
<ellipse cx="2787.2" cy="390.9" rx="1.8" ry="1.7" fill="#d4d4d4"/>
<ellipse cx="2752.2" cy="377.2" rx="2.1" ry="2.6" fill="#888888" opacity="0.6"/>
<ellipse cx="2752.2" cy="377.2" rx="1.2" ry="1.5" fill="#c7c7c7"/>
<ellipse cx="2802.4" cy="390.3" rx="3.3" ry="4.7" fill="#888888" opacity="0.6"/>
<ellipse cx="2802.4" cy="390.3" rx="1.9" ry="2.7" fill="#cccccc"/>
<ellipse cx="2807.0" cy="369.1" rx="3.6" ry="4.4" fill="#888888" opacity="0.6"/>
<ellipse cx="2807.0" cy="369.1" rx="2.1" ry="2.6" fill="#cecece"/>
<ellipse cx="2781.1" cy="369.3" rx="2.9" ry="4.1" fill="#888888" opacity="0.6"/>
<ellipse cx="2781.1" cy="369.3" rx="1.7" ry="2.4" fill="#d7d7d7"/>
<ellipse cx="2801.0" cy="404.0" rx="3.2" ry="3.8" fill="#888888" opacity="0.6"/>
<ellipse cx="2801.0" cy="404.0" rx="1.9" ry="2.2" fill="#c0c0c0"/>
<ellipse cx="2759.8" cy="552.8" rx="1.8" ry="2.2" fill="#888888" opacity="0.6"/>
<ellipse cx="2759.8" cy="552.8" rx="1.1" ry="1.3" fill="#dadada"/>
<ellipse cx="2741.6" cy="541.4" rx="3.6" ry="5.3" fill="#888888" opacity="0.6"/>
<ellipse cx="2741.6" cy="541.4" rx="2.1" ry="3.1" fill="#d2d2d2"/>
<ellipse cx="2739.8" cy="563.0" rx="3.0" ry="3.5" fill="#888888" opacity="0.6"/>
<ellipse cx="2739.8" cy="563.0" rx="1.8" ry="2.1" fill="#c1c1c1"/>
<ellipse cx="2736.3" cy="562.6" rx="1.8" ry="2.6" fill="#888888" opacity="0.6"/>
<ellipse cx="2736.3" cy="562.6" rx="1.1" ry="1.6" fill="#bdbdbd"/>
<ellipse cx="2747.3" cy="554.9" rx="2.7" ry="3.6" fill="#888888" opacity="0.6"/>
<ellipse cx="2747.3" cy="554.9" rx="1.6" ry="2.1" fill="#c5c5c5"/>
<ellipse cx="2777.2" cy="524.4" rx="3.1" ry="3.8" fill="#888888" opacity="0.6"/>
<ellipse cx="2777.2" cy="524.4" rx="1.8" ry="2.2" fill="#c5c5c5"/>
<ellipse cx="2802.8" cy="555.3" rx="3.1" ry="4.2" fill="#888888" opacity="0.6"/>
<ellipse cx="2802.8" cy="555.3" rx="1.8" ry="2.5" fill="#d5d5d5"/>
<ellipse cx="2744.4" cy="551.7" rx="1.9" ry="2.7" fill="#888888" opacity="0.6"/>
<ellipse cx="2744.4" cy="551.7" rx="1.1" ry="1.6" fill="#d4d4d4"/>
<ellipse cx="2779.5" cy="552.3" rx="2.1" ry="2.1" fill="#888888" opacity="0.6"/>
<ellipse cx="2779.5" cy="552.3" rx="1.2" ry="1.2" fill="#d0d0d0"/>
<ellipse cx="2756.3" cy="546.8" rx="2.1" ry="2.1" fill="#888888" opacity="0.6"/>
<ellipse cx="2756.3" cy="546.8" rx="1.2" ry="1.2" fill="#cccccc"/>
<ellipse cx="2769.7" cy="537.4" rx="3.9" ry="4.4" fill="#888888" opacity="0.6"/>
<ellipse cx="2769.7" cy="537.4" rx="2.3" ry="2.6" fill="#d9d9d9"/>
<ellipse cx="2737.4" cy="537.0" rx="2.5" ry="2.8" fill="#888888" opacity="0.6"/>
<ellipse cx="2737.4" cy="537.0" rx="1.4" ry="1.7" fill="#dbdbdb"/>
<ellipse cx="2801.3" cy="521.0" rx="2.3" ry="2.7" fill="#888888" opacity="0.6"/>
<ellipse cx="2801.3" cy="521.0" rx="1.3" ry="1.6" fill="#cecece"/>
<ellipse cx="2741.7" cy="542.7" rx="4.0" ry="5.6" fill="#888888" opacity="0.6"/>
<ellipse cx="2741.7" cy="542.7" rx="2.4" ry="3.3" fill="#d7d7d7"/>
<ellipse cx="2747.7" cy="552.6" rx="4.4" ry="4.8" fill="#888888" opacity="0.6"/>
<ellipse cx="2747.7" cy="552.6" rx="2.6" ry="2.8" fill="#c0c0c0"/>
<ellipse cx="2782.5" cy="553.8" rx="4.3" ry="4.8" fill="#888888" opacity="0.6"/>
<ellipse cx="2782.5" cy="553.8" rx="2.5" ry="2.8" fill="#d6d6d6"/>
<ellipse cx="2750.0" cy="550.8" rx="3.9" ry="4.0" fill="#888888" opacity="0.6"/>
<ellipse cx="2750.0" cy="550.8" rx="2.3" ry="2.3" fill="#d1d1d1"/>
<ellipse cx="2779.4" cy="522.1" rx="2.5" ry="3.8" fill="#888888" opacity="0.6"/>
<ellipse cx="2779.4" cy="522.1" rx="1.5" ry="2.2" fill="#c7c7c7"/>
<ellipse cx="2804.2" cy="564.2" rx="2.7" ry="3.5" fill="#888888" opacity="0.6"/>
<ellipse cx="2804.2" cy="564.2" rx="1.6" ry="2.1" fill="#cbcbcb"/>
<ellipse cx="2736.0" cy="552.6" rx="1.8" ry="2.2" fill="#888888" opacity="0.6"/>
<ellipse cx="2736.0" cy="552.6" rx="1.1" ry="1.3" fill="#cdcdcd"/>
<ellipse cx="2774.8" cy="546.1" rx="1.8" ry="1.9" fill="#888888" opacity="0.6"/>
<ellipse cx="2774.8" cy="546.1" rx="1.1" ry="1.1" fill="#cacaca"/>
<ellipse cx="2812.3" cy="553.8" rx="2.2" ry="3.4" fill="#888888" opacity="0.6"/>
<ellipse cx="2812.3" cy="553.8" rx="1.3" ry="2.0" fill="#c4c4c4"/>
<ellipse cx="2768.3" cy="417.8" rx="1.7" ry="2.2" fill="#888888" opacity="0.6"/>
<ellipse cx="2768.3" cy="417.8" rx="1.0" ry="1.3" fill="#bababa"/>
<ellipse cx="2811.6" cy="490.6" rx="3.1" ry="4.3" fill="#888888" opacity="0.6"/>
<ellipse cx="2811.6" cy="490.6" rx="1.8" ry="2.5" fill="#a5a5a5"/>
<ellipse cx="2768.9" cy="507.1" rx="3.3" ry="3.3" fill="#888888" opacity="0.6"/>
<ellipse cx="2768.9" cy="507.1" rx="1.9" ry="1.9" fill="#c4c4c4"/>
<ellipse cx="2789.7" cy="419.8" rx="1.9" ry="2.4" fill="#888888" opacity="0.6"/>
<ellipse cx="2789.7" cy="419.8" rx="1.1" ry="1.4" fill="#bfbfbf"/>
<ellipse cx="2760.1" cy="433.0" rx="1.8" ry="2.0" fill="#888888" opacity="0.6"/>
<ellipse cx="2760.1" cy="433.0" rx="1.0" ry="1.2" fill="#a4a4a4"/>
<ellipse cx="2785.8" cy="410.8" rx="3.3" ry="4.0" fill="#888888" opacity="0.6"/>
<ellipse cx="2785.8" cy="410.8" rx="1.9" ry="2.3" fill="#bcbcbc"/>
<ellipse cx="2759.4" cy="509.6" rx="2.1" ry="2.8" fill="#888888" opacity="0.6"/>
<ellipse cx="2759.4" cy="509.6" rx="1.2" ry="1.6" fill="#c5c5c5"/>
<ellipse cx="2807.9" cy="439.5" rx="2.1" ry="2.2" fill="#888888" opacity="0.6"/>
<ellipse cx="2807.9" cy="439.5" rx="1.2" ry="1.3" fill="#a5a5a5"/>
<ellipse cx="2841.0" cy="551.4" rx="2.8" ry="4.2" fill="#888888" opacity="0.6"/>
<ellipse cx="2841.0" cy="551.4" rx="1.6" ry="2.5" fill="#cfcfcf"/>
<ellipse cx="2851.6" cy="474.5" rx="2.1" ry="2.9" fill="#888888" opacity="0.6"/>
<ellipse cx="2851.6" cy="474.5" rx="1.2" ry="1.7" fill="#bbbbbb"/>
<ellipse cx="2890.0" cy="432.0" rx="2.4" ry="3.5" fill="#888888" opacity="0.6"/>
<ellipse cx="2890.0" cy="432.0" rx="1.4" ry="2.1" fill="#bdbdbd"/>
<ellipse cx="2880.9" cy="470.8" rx="4.2" ry="4.9" fill="#888888" opacity="0.6"/>
<ellipse cx="2880.9" cy="470.8" rx="2.5" ry="2.9" fill="#cacaca"/>
<ellipse cx="2877.7" cy="496.0" rx="3.0" ry="3.1" fill="#888888" opacity="0.6"/>
<ellipse cx="2877.7" cy="496.0" rx="1.8" ry="1.8" fill="#d9d9d9"/>
<ellipse cx="2840.7" cy="439.4" rx="3.6" ry="4.3" fill="#888888" opacity="0.6"/>
<ellipse cx="2840.7" cy="439.4" rx="2.1" ry="2.5" fill="#d9d9d9"/>
<ellipse cx="2879.7" cy="493.6" rx="2.8" ry="3.9" fill="#888888" opacity="0.6"/>
<ellipse cx="2879.7" cy="493.6" rx="1.7" ry="2.3" fill="#d7d7d7"/>
<ellipse cx="2858.5" cy="450.0" rx="2.6" ry="3.4" fill="#888888" opacity="0.6"/>
<ellipse cx="2858.5" cy="450.0" rx="1.6" ry="2.0" fill="#d8d8d8"/>
<ellipse cx="2838.5" cy="413.6" rx="2.6" ry="3.3" fill="#888888" opacity="0.6"/>
<ellipse cx="2838.5" cy="413.6" rx="1.6" ry="1.9" fill="#c4c4c4"/>
<ellipse cx="2894.9" cy="404.8" rx="2.0" ry="2.5" fill="#888888" opacity="0.6"/>
<ellipse cx="2894.9" cy="404.8" rx="1.2" ry="1.5" fill="#c1c1c1"/>
<ellipse cx="2845.3" cy="494.3" rx="3.4" ry="5.0" fill="#888888" opacity="0.6"/>
<ellipse cx="2845.3" cy="494.3" rx="2.0" ry="2.9" fill="#cfcfcf"/>
<ellipse cx="2832.4" cy="473.4" rx="4.0" ry="4.8" fill="#888888" opacity="0.6"/>
<ellipse cx="2832.4" cy="473.4" rx="2.4" ry="2.8" fill="#d5d5d5"/>
<ellipse cx="2820.9" cy="542.0" rx="2.3" ry="2.4" fill="#888888" opacity="0.6"/>
<ellipse cx="2820.9" cy="542.0" rx="1.3" ry="1.4" fill="#bebebe"/>
<ellipse cx="2869.2" cy="514.0" rx="1.7" ry="2.7" fill="#888888" opacity="0.6"/>
<ellipse cx="2869.2" cy="514.0" rx="1.0" ry="1.6" fill="#d7d7d7"/>
<ellipse cx="2877.3" cy="558.2" rx="4.3" ry="6.5" fill="#888888" opacity="0.6"/>
<ellipse cx="2877.3" cy="558.2" rx="2.5" ry="3.8" fill="#bcbcbc"/>
<ellipse cx="2849.2" cy="486.2" rx="4.1" ry="5.9" fill="#888888" opacity="0.6"/>
<ellipse cx="2849.2" cy="486.2" rx="2.4" ry="3.5" fill="#c1c1c1"/>
<ellipse cx="2816.7" cy="429.6" rx="4.0" ry="4.7" fill="#888888" opacity="0.6"/>
<ellipse cx="2816.7" cy="429.6" rx="2.4" ry="2.8" fill="#d2d2d2"/>
<ellipse cx="2897.4" cy="513.5" rx="3.1" ry="4.6" fill="#888888" opacity="0.6"/>
<ellipse cx="2897.4" cy="513.5" rx="1.8" ry="2.7" fill="#dbdbdb"/>
<ellipse cx="2889.5" cy="478.5" rx="2.8" ry="3.1" fill="#888888" opacity="0.6"/>
<ellipse cx="2889.5" cy="478.5" rx="1.6" ry="1.8" fill="#c6c6c6"/>
<ellipse cx="2826.2" cy="512.3" rx="4.2" ry="4.2" fill="#888888" opacity="0.6"/>
<ellipse cx="2826.2" cy="512.3" rx="2.5" ry="2.5" fill="#d2d2d2"/>
<ellipse cx="2864.3" cy="385.9" rx="3.7" ry="5.2" fill="#888888" opacity="0.6"/>
<ellipse cx="2864.3" cy="385.9" rx="2.2" ry="3.1" fill="#d8d8d8"/>
<ellipse cx="2834.7" cy="449.4" rx="2.3" ry="3.3" fill="#888888" opacity="0.6"/>
<ellipse cx="2834.7" cy="449.4" rx="1.4" ry="1.9" fill="#c6c6c6"/>
<ellipse cx="2887.7" cy="549.7" rx="4.3" ry="4.8" fill="#888888" opacity="0.6"/>
<ellipse cx="2887.7" cy="549.7" rx="2.5" ry="2.8" fill="#cccccc"/>
<ellipse cx="2893.8" cy="410.6" rx="2.6" ry="3.2" fill="#888888" opacity="0.6"/>
<ellipse cx="2893.8" cy="410.6" rx="1.5" ry="1.9" fill="#cfcfcf"/>
<ellipse cx="2834.7" cy="479.9" rx="2.1" ry="2.1" fill="#888888" opacity="0.6"/>
<ellipse cx="2834.7" cy="479.9" rx="1.2" ry="1.2" fill="#bfbfbf"/>
<ellipse cx="2861.5" cy="371.8" rx="2.1" ry="3.0" fill="#888888" opacity="0.6"/>
<ellipse cx="2861.5" cy="371.8" rx="1.2" ry="1.8" fill="#d1d1d1"/>
<ellipse cx="2815.5" cy="383.6" rx="3.1" ry="4.2" fill="#888888" opacity="0.6"/>
<ellipse cx="2815.5" cy="383.6" rx="1.8" ry="2.5" fill="#c3c3c3"/>
<ellipse cx="2895.0" cy="425.6" rx="4.0" ry="4.7" fill="#888888" opacity="0.6"/>
<ellipse cx="2895.0" cy="425.6" rx="2.4" ry="2.8" fill="#d9d9d9"/>
<ellipse cx="2877.4" cy="523.7" rx="3.7" ry="5.7" fill="#888888" opacity="0.6"/>
<ellipse cx="2877.4" cy="523.7" rx="2.2" ry="3.4" fill="#dddddd"/>
<ellipse cx="2864.8" cy="523.8" rx="3.4" ry="4.0" fill="#888888" opacity="0.6"/>
<ellipse cx="2864.8" cy="523.8" rx="2.0" ry="2.4" fill="#c7c7c7"/>
<ellipse cx="2850.5" cy="425.3" rx="3.4" ry="4.0" fill="#888888" opacity="0.6"/>
<ellipse cx="2850.5" cy="425.3" rx="2.0" ry="2.3" fill="#dbdbdb"/>
<ellipse cx="2853.4" cy="498.6" rx="1.9" ry="2.7" fill="#888888" opacity="0.6"/>
<ellipse cx="2853.4" cy="498.6" rx="1.1" ry="1.6" fill="#dedede"/>
<ellipse cx="2888.4" cy="452.6" rx="4.3" ry="4.8" fill="#888888" opacity="0.6"/>
<ellipse cx="2888.4" cy="452.6" rx="2.5" ry="2.8" fill="#dbdbdb"/>
<ellipse cx="2821.4" cy="472.9" rx="3.8" ry="4.4" fill="#888888" opacity="0.6"/>
<ellipse cx="2821.4" cy="472.9" rx="2.3" ry="2.6" fill="#d4d4d4"/>
<ellipse cx="2838.3" cy="473.2" rx="3.8" ry="5.0" fill="#888888" opacity="0.6"/>
<ellipse cx="2838.3" cy="473.2" rx="2.3" ry="3.0" fill="#c3c3c3"/>
<ellipse cx="2843.9" cy="553.6" rx="3.9" ry="4.2" fill="#888888" opacity="0.6"/>
<ellipse cx="2843.9" cy="553.6" rx="2.3" ry="2.5" fill="#c3c3c3"/>
<ellipse cx="2885.8" cy="425.9" rx="4.2" ry="5.7" fill="#888888" opacity="0.6"/>
<ellipse cx="2885.8" cy="425.9" rx="2.5" ry="3.3" fill="#d0d0d0"/>
<ellipse cx="2869.8" cy="438.8" rx="3.0" ry="3.6" fill="#888888" opacity="0.6"/>
<ellipse cx="2869.8" cy="438.8" rx="1.8" ry="2.1" fill="#cacaca"/>
<ellipse cx="2860.5" cy="560.9" rx="2.4" ry="3.4" fill="#888888" opacity="0.6"/>
<ellipse cx="2860.5" cy="560.9" rx="1.4" ry="2.0" fill="#bdbdbd"/>
<ellipse cx="2881.3" cy="423.5" rx="4.1" ry="4.6" fill="#888888" opacity="0.6"/>
<ellipse cx="2881.3" cy="423.5" rx="2.4" ry="2.7" fill="#d4d4d4"/>
<ellipse cx="2834.2" cy="466.8" rx="3.7" ry="4.2" fill="#888888" opacity="0.6"/>
<ellipse cx="2834.2" cy="466.8" rx="2.2" ry="2.5" fill="#d9d9d9"/>
<ellipse cx="2856.1" cy="443.8" rx="3.0" ry="3.3" fill="#888888" opacity="0.6"/>
<ellipse cx="2856.1" cy="443.8" rx="1.8" ry="1.9" fill="#c8c8c8"/>
<ellipse cx="2846.1" cy="419.5" rx="2.4" ry="3.0" fill="#888888" opacity="0.6"/>
<ellipse cx="2846.1" cy="419.5" rx="1.4" ry="1.7" fill="#dadada"/>
<ellipse cx="2830.2" cy="451.9" rx="4.3" ry="6.3" fill="#888888" opacity="0.6"/>
<ellipse cx="2830.2" cy="451.9" rx="2.5" ry="3.7" fill="#c2c2c2"/>
<ellipse cx="2840.6" cy="380.6" rx="3.6" ry="3.9" fill="#888888" opacity="0.6"/>
<ellipse cx="2840.6" cy="380.6" rx="2.1" ry="2.3" fill="#d2d2d2"/>
<ellipse cx="2862.3" cy="424.1" rx="4.2" ry="4.9" fill="#888888" opacity="0.6"/>
<ellipse cx="2862.3" cy="424.1" rx="2.5" ry="2.9" fill="#dcdcdc"/>
<ellipse cx="2840.3" cy="455.4" rx="2.2" ry="2.6" fill="#888888" opacity="0.6"/>
<ellipse cx="2840.3" cy="455.4" rx="1.3" ry="1.5" fill="#c9c9c9"/>
<ellipse cx="2839.8" cy="444.3" rx="3.4" ry="5.2" fill="#888888" opacity="0.6"/>
<ellipse cx="2839.8" cy="444.3" rx="2.0" ry="3.1" fill="#d8d8d8"/>
<ellipse cx="2836.1" cy="453.0" rx="4.5" ry="4.9" fill="#888888" opacity="0.6"/>
<ellipse cx="2836.1" cy="453.0" rx="2.7" ry="2.9" fill="#bfbfbf"/>
<ellipse cx="2895.1" cy="558.4" rx="2.0" ry="2.3" fill="#888888" opacity="0.6"/>
<ellipse cx="2895.1" cy="558.4" rx="1.2" ry="1.4" fill="#d6d6d6"/>
<ellipse cx="2829.9" cy="443.8" rx="3.9" ry="4.5" fill="#888888" opacity="0.6"/>
<ellipse cx="2829.9" cy="443.8" rx="2.3" ry="2.6" fill="#d6d6d6"/>
<ellipse cx="2870.8" cy="426.5" rx="4.0" ry="5.4" fill="#888888" opacity="0.6"/>
<ellipse cx="2870.8" cy="426.5" rx="2.3" ry="3.2" fill="#c1c1c1"/>
<ellipse cx="2886.7" cy="539.5" rx="4.4" ry="5.6" fill="#888888" opacity="0.6"/>
<ellipse cx="2886.7" cy="539.5" rx="2.6" ry="3.3" fill="#d7d7d7"/>
<ellipse cx="2883.1" cy="452.6" rx="4.3" ry="5.2" fill="#888888" opacity="0.6"/>
<ellipse cx="2883.1" cy="452.6" rx="2.5" ry="3.1" fill="#dddddd"/>
<ellipse cx="2845.6" cy="440.6" rx="3.9" ry="5.0" fill="#888888" opacity="0.6"/>
<ellipse cx="2845.6" cy="440.6" rx="2.3" ry="2.9" fill="#d8d8d8"/>
<ellipse cx="2848.2" cy="447.7" rx="2.7" ry="3.0" fill="#888888" opacity="0.6"/>
<ellipse cx="2848.2" cy="447.7" rx="1.6" ry="1.8" fill="#d5d5d5"/>
<ellipse cx="2854.4" cy="556.5" rx="2.9" ry="3.1" fill="#888888" opacity="0.6"/>
<ellipse cx="2854.4" cy="556.5" rx="1.7" ry="1.8" fill="#dddddd"/>
<ellipse cx="2874.9" cy="456.4" rx="2.0" ry="2.2" fill="#888888" opacity="0.6"/>
<ellipse cx="2874.9" cy="456.4" rx="1.2" ry="1.3" fill="#d9d9d9"/>
<ellipse cx="2855.8" cy="410.2" rx="2.2" ry="2.6" fill="#888888" opacity="0.6"/>
<ellipse cx="2855.8" cy="410.2" rx="1.3" ry="1.5" fill="#cbcbcb"/>
<ellipse cx="2886.6" cy="519.9" rx="4.7" ry="5.2" fill="#888888" opacity="0.6"/>
<ellipse cx="2886.6" cy="519.9" rx="2.8" ry="3.0" fill="#c2c2c2"/>
<ellipse cx="2861.4" cy="499.6" rx="4.5" ry="6.1" fill="#888888" opacity="0.6"/>
<ellipse cx="2861.4" cy="499.6" rx="2.6" ry="3.6" fill="#d1d1d1"/>
<ellipse cx="2871.1" cy="415.6" rx="3.6" ry="3.6" fill="#888888" opacity="0.6"/>
<ellipse cx="2871.1" cy="415.6" rx="2.1" ry="2.1" fill="#c1c1c1"/>
<ellipse cx="2894.9" cy="418.0" rx="2.9" ry="3.2" fill="#888888" opacity="0.6"/>
<ellipse cx="2894.9" cy="418.0" rx="1.7" ry="1.9" fill="#c6c6c6"/>
<ellipse cx="2818.9" cy="525.1" rx="1.8" ry="2.5" fill="#888888" opacity="0.6"/>
<ellipse cx="2818.9" cy="525.1" rx="1.1" ry="1.5" fill="#d5d5d5"/>
<ellipse cx="2830.9" cy="546.1" rx="4.6" ry="4.7" fill="#888888" opacity="0.6"/>
<ellipse cx="2830.9" cy="546.1" rx="2.7" ry="2.8" fill="#cdcdcd"/>
<ellipse cx="2883.5" cy="391.4" rx="3.5" ry="4.8" fill="#888888" opacity="0.6"/>
<ellipse cx="2883.5" cy="391.4" rx="2.0" ry="2.8" fill="#cdcdcd"/>
<ellipse cx="2887.8" cy="486.4" rx="4.0" ry="6.1" fill="#888888" opacity="0.6"/>
<ellipse cx="2887.8" cy="486.4" rx="2.3" ry="3.6" fill="#dddddd"/>
<ellipse cx="2881.4" cy="374.9" rx="4.5" ry="5.3" fill="#888888" opacity="0.6"/>
<ellipse cx="2881.4" cy="374.9" rx="2.7" ry="3.1" fill="#d2d2d2"/>
<ellipse cx="2825.8" cy="544.0" rx="2.5" ry="3.5" fill="#888888" opacity="0.6"/>
<ellipse cx="2825.8" cy="544.0" rx="1.5" ry="2.1" fill="#d3d3d3"/>
<ellipse cx="2868.2" cy="507.7" rx="4.8" ry="6.6" fill="#888888" opacity="0.6"/>
<ellipse cx="2868.2" cy="507.7" rx="2.8" ry="3.9" fill="#c4c4c4"/>
<ellipse cx="2817.4" cy="406.6" rx="2.0" ry="2.7" fill="#888888" opacity="0.6"/>
<ellipse cx="2817.4" cy="406.6" rx="1.2" ry="1.6" fill="#d5d5d5"/>
<ellipse cx="2823.9" cy="395.2" rx="3.8" ry="4.8" fill="#888888" opacity="0.6"/>
<ellipse cx="2823.9" cy="395.2" rx="2.3" ry="2.8" fill="#c6c6c6"/>
<ellipse cx="2881.6" cy="374.8" rx="3.7" ry="5.3" fill="#888888" opacity="0.6"/>
<ellipse cx="2881.6" cy="374.8" rx="2.2" ry="3.1" fill="#d3d3d3"/>
<ellipse cx="2833.8" cy="429.9" rx="2.6" ry="2.9" fill="#888888" opacity="0.6"/>
<ellipse cx="2833.8" cy="429.9" rx="1.6" ry="1.7" fill="#c9c9c9"/>
<ellipse cx="2844.9" cy="546.2" rx="1.8" ry="2.2" fill="#888888" opacity="0.6"/>
<ellipse cx="2844.9" cy="546.2" rx="1.0" ry="1.3" fill="#c1c1c1"/>
<ellipse cx="2878.2" cy="483.0" rx="3.3" ry="4.1" fill="#888888" opacity="0.6"/>
<ellipse cx="2878.2" cy="483.0" rx="1.9" ry="2.4" fill="#d2d2d2"/>
<ellipse cx="2889.8" cy="398.8" rx="2.4" ry="3.2" fill="#888888" opacity="0.6"/>
<ellipse cx="2889.8" cy="398.8" rx="1.4" ry="1.9" fill="#dddddd"/>
<ellipse cx="2835.2" cy="483.9" rx="2.1" ry="2.5" fill="#888888" opacity="0.6"/>
<ellipse cx="2835.2" cy="483.9" rx="1.3" ry="1.5" fill="#c7c7c7"/>
<ellipse cx="2833.0" cy="522.1" rx="3.5" ry="4.4" fill="#888888" opacity="0.6"/>
<ellipse cx="2833.0" cy="522.1" rx="2.1" ry="2.6" fill="#d2d2d2"/>
<ellipse cx="2880.0" cy="472.1" rx="2.5" ry="2.6" fill="#888888" opacity="0.6"/>
<ellipse cx="2880.0" cy="472.1" rx="1.5" ry="1.5" fill="#cacaca"/>
<ellipse cx="2874.0" cy="503.4" rx="1.9" ry="2.7" fill="#888888" opacity="0.6"/>
<ellipse cx="2874.0" cy="503.4" rx="1.1" ry="1.6" fill="#c0c0c0"/>
<ellipse cx="2870.8" cy="510.6" rx="4.6" ry="5.9" fill="#888888" opacity="0.6"/>
<ellipse cx="2870.8" cy="510.6" rx="2.7" ry="3.5" fill="#d6d6d6"/>
<ellipse cx="2820.8" cy="550.7" rx="3.5" ry="4.1" fill="#888888" opacity="0.6"/>
<ellipse cx="2820.8" cy="550.7" rx="2.0" ry="2.4" fill="#cacaca"/>
<ellipse cx="2846.0" cy="458.2" rx="3.8" ry="4.5" fill="#888888" opacity="0.6"/>
<ellipse cx="2846.0" cy="458.2" rx="2.2" ry="2.7" fill="#d1d1d1"/>
<ellipse cx="2821.4" cy="384.7" rx="4.6" ry="5.1" fill="#888888" opacity="0.6"/>
<ellipse cx="2821.4" cy="384.7" rx="2.7" ry="3.0" fill="#d7d7d7"/>
<ellipse cx="2888.2" cy="466.7" rx="3.0" ry="4.4" fill="#888888" opacity="0.6"/>
<ellipse cx="2888.2" cy="466.7" rx="1.7" ry="2.6" fill="#cdcdcd"/>
<ellipse cx="2868.8" cy="555.0" rx="4.7" ry="6.4" fill="#888888" opacity="0.6"/>
<ellipse cx="2868.8" cy="555.0" rx="2.8" ry="3.8" fill="#dbdbdb"/>
<ellipse cx="2868.5" cy="514.2" rx="4.3" ry="5.9" fill="#888888" opacity="0.6"/>
<ellipse cx="2868.5" cy="514.2" rx="2.5" ry="3.5" fill="#dddddd"/>
<ellipse cx="2883.0" cy="536.5" rx="2.7" ry="4.0" fill="#888888" opacity="0.6"/>
<ellipse cx="2883.0" cy="536.5" rx="1.6" ry="2.3" fill="#d9d9d9"/>
<ellipse cx="2870.9" cy="440.6" rx="4.3" ry="5.7" fill="#888888" opacity="0.6"/>
<ellipse cx="2870.9" cy="440.6" rx="2.5" ry="3.4" fill="#cacaca"/>
<ellipse cx="2860.7" cy="398.8" rx="1.9" ry="2.2" fill="#888888" opacity="0.6"/>
<ellipse cx="2860.7" cy="398.8" rx="1.1" ry="1.3" fill="#dcdcdc"/>
<ellipse cx="2848.7" cy="519.9" rx="3.2" ry="4.3" fill="#888888" opacity="0.6"/>
<ellipse cx="2848.7" cy="519.9" rx="1.9" ry="2.5" fill="#cfcfcf"/>
<ellipse cx="2883.5" cy="561.8" rx="3.8" ry="4.8" fill="#888888" opacity="0.6"/>
<ellipse cx="2883.5" cy="561.8" rx="2.2" ry="2.8" fill="#bababa"/>
<ellipse cx="2840.4" cy="546.9" rx="3.6" ry="4.0" fill="#888888" opacity="0.6"/>
<ellipse cx="2840.4" cy="546.9" rx="2.1" ry="2.3" fill="#d9d9d9"/>
<ellipse cx="2829.1" cy="393.4" rx="2.5" ry="3.5" fill="#888888" opacity="0.6"/>
<ellipse cx="2829.1" cy="393.4" rx="1.5" ry="2.1" fill="#d5d5d5"/>
<ellipse cx="2676.8" cy="574.6" rx="5.9" ry="8.4" fill="#888888" opacity="0.6"/>
<ellipse cx="2676.8" cy="574.6" rx="3.5" ry="5.0" fill="#dbdbdb"/>
<ellipse cx="2736.3" cy="581.0" rx="6.6" ry="7.3" fill="#888888" opacity="0.6"/>
<ellipse cx="2736.3" cy="581.0" rx="3.9" ry="4.3" fill="#dfdfdf"/>
<ellipse cx="2712.1" cy="572.6" rx="3.7" ry="4.3" fill="#888888" opacity="0.6"/>
<ellipse cx="2712.1" cy="572.6" rx="2.2" ry="2.5" fill="#cdcdcd"/>
<ellipse cx="2685.7" cy="572.6" rx="4.5" ry="4.8" fill="#888888" opacity="0.6"/>
<ellipse cx="2685.7" cy="572.6" rx="2.7" ry="2.8" fill="#d9d9d9"/>
<ellipse cx="2707.8" cy="575.6" rx="6.4" ry="9.4" fill="#888888" opacity="0.6"/>
<ellipse cx="2707.8" cy="575.6" rx="3.8" ry="5.5" fill="#e7e7e7"/>
<ellipse cx="2689.5" cy="583.5" rx="5.4" ry="8.4" fill="#888888" opacity="0.6"/>
<ellipse cx="2689.5" cy="583.5" rx="3.2" ry="5.0" fill="#e7e7e7"/>
<ellipse cx="2731.9" cy="573.0" rx="5.1" ry="7.1" fill="#888888" opacity="0.6"/>
<ellipse cx="2731.9" cy="573.0" rx="3.0" ry="4.2" fill="#e0e0e0"/>
<ellipse cx="2728.6" cy="577.8" rx="5.0" ry="6.5" fill="#888888" opacity="0.6"/>
<ellipse cx="2728.6" cy="577.8" rx="2.9" ry="3.9" fill="#e8e8e8"/>
<ellipse cx="2685.8" cy="576.8" rx="4.4" ry="6.8" fill="#888888" opacity="0.6"/>
<ellipse cx="2685.8" cy="576.8" rx="2.6" ry="4.0" fill="#dbdbdb"/>
<ellipse cx="2737.3" cy="582.7" rx="5.6" ry="8.1" fill="#888888" opacity="0.6"/>
<ellipse cx="2737.3" cy="582.7" rx="3.3" ry="4.8" fill="#e4e4e4"/>
<ellipse cx="2737.6" cy="578.7" rx="4.0" ry="4.9" fill="#888888" opacity="0.6"/>
<ellipse cx="2737.6" cy="578.7" rx="2.3" ry="2.9" fill="#d3d3d3"/>
<ellipse cx="2719.4" cy="575.1" rx="5.7" ry="7.4" fill="#888888" opacity="0.6"/>
<ellipse cx="2719.4" cy="575.1" rx="3.3" ry="4.4" fill="#dadada"/>
<ellipse cx="2676.7" cy="581.9" rx="5.4" ry="6.0" fill="#888888" opacity="0.6"/>
<ellipse cx="2676.7" cy="581.9" rx="3.2" ry="3.5" fill="#d5d5d5"/>
<ellipse cx="2716.6" cy="574.9" rx="5.4" ry="8.3" fill="#888888" opacity="0.6"/>
<ellipse cx="2716.6" cy="574.9" rx="3.2" ry="4.9" fill="#d7d7d7"/>
<rect x="2812.5" y="425.5" width="75.0" height="17.0" fill="#939393" opacity="0.8"/>
<rect x="2826.1" y="427.8" width="3.3" height="11.8" fill="#d8d8d8"/>
<rect x="2833.2" y="431.0" width="5.0" height="5.5" fill="#d1d1d1"/>
<rect x="2821.8" y="427.9" width="4.0" height="12.1" fill="#dbdbdb"/>
<rect x="2816.5" y="428.0" width="4.1" height="5.2" fill="#c9c9c9"/>
<rect x="2857.4" y="430.3" width="5.6" height="5.6" fill="#dddddd"/>
<rect x="2834.8" y="428.4" width="5.8" height="11.9" fill="#d7d7d7"/>
<rect x="2876.8" y="427.9" width="5.9" height="10.9" fill="#cbcbcb"/>
<rect x="2837.0" y="428.1" width="5.4" height="12.5" fill="#c7c7c7"/>
<rect x="2858.7" y="428.8" width="3.0" height="12.1" fill="#cccccc"/>
<rect x="2825.7" y="427.3" width="2.8" height="6.4" fill="#e3e3e3"/>
<rect x="2858.3" y="428.6" width="2.5" height="12.3" fill="#d5d5d5"/>
<rect x="2866.7" y="430.1" width="4.7" height="9.1" fill="#d1d1d1"/>
<rect x="2821.6" y="429.1" width="3.1" height="6.1" fill="#dfdfdf"/>
<rect x="2849.3" y="429.1" width="2.9" height="5.7" fill="#c5c5c5"/>
<rect x="2845.4" y="428.0" width="4.8" height="7.1" fill="#dddddd"/>
<rect x="2848.6" y="428.2" width="5.2" height="6.2" fill="#dddddd"/>
<rect x="2824.5" y="475.5" width="47.0" height="14.0" fill="#939393" opacity="0.8"/>
<rect x="2839.4" y="478.8" width="4.0" height="6.8" fill="#d5d5d5"/>
<rect x="2854.4" y="479.9" width="2.7" height="6.6" fill="#e3e3e3"/>
<rect x="2844.8" y="478.6" width="2.8" height="9.1" fill="#c9c9c9"/>
<rect x="2838.5" y="481.1" width="4.7" height="5.0" fill="#d6d6d6"/>
<rect x="2845.8" y="478.0" width="3.7" height="4.4" fill="#e0e0e0"/>
<rect x="2860.3" y="480.1" width="3.1" height="6.5" fill="#dedede"/>
<rect x="2846.6" y="477.0" width="2.6" height="9.4" fill="#e4e4e4"/>
<rect x="2841.1" y="480.6" width="3.9" height="7.1" fill="#dedede"/>
<rect x="2846.2" y="480.4" width="5.5" height="6.8" fill="#cacaca"/>
<rect x="2857.7" y="477.8" width="4.8" height="8.8" fill="#cccccc"/>
<rect x="2824.5" y="528.5" width="55.0" height="21.0" fill="#939393" opacity="0.8"/>
<rect x="2865.5" y="532.7" width="5.4" height="11.8" fill="#e2e2e2"/>
<rect x="2861.4" y="530.9" width="2.1" height="11.6" fill="#dddddd"/>
<rect x="2857.5" y="533.9" width="2.2" height="14.0" fill="#e1e1e1"/>
<rect x="2842.9" y="534.7" width="3.6" height="8.0" fill="#d4d4d4"/>
<rect x="2831.9" y="531.4" width="4.0" height="13.9" fill="#cacaca"/>
<rect x="2840.1" y="534.1" width="5.4" height="12.4" fill="#dbdbdb"/>
<rect x="2848.3" y="531.9" width="2.2" height="15.1" fill="#dcdcdc"/>
<rect x="2839.8" y="530.3" width="6.0" height="11.1" fill="#cfcfcf"/>
<rect x="2829.0" y="534.2" width="2.9" height="12.6" fill="#d0d0d0"/>
<rect x="2860.6" y="531.1" width="2.7" height="11.5" fill="#d7d7d7"/>
<rect x="2850.6" y="534.1" width="3.2" height="12.4" fill="#d2d2d2"/>
<rect x="2719.5" y="423.0" width="3.0" height="26.0" fill="#e4e4e4"/>
<rect x="2719.2" y="513.0" width="3.5" height="21.0" fill="#e4e4e4"/>
<rect x="2719.0" y="541.0" width="4.0" height="25.0" fill="#e4e4e4"/>
<rect x="2690.0" y="391.0" width="10.0" height="143.0" fill="#bababa"/>
<rect x="2691.9" y="391.0" width="6.1" height="9.5" fill="#eeeeee"/>
<rect x="2691.4" y="403.6" width="7.2" height="10.3" fill="#efefef"/>
<rect x="2691.6" y="418.8" width="6.8" height="11.4" fill="#e6e6e6"/>
<rect x="2690.6" y="431.7" width="8.8" height="10.6" fill="#e4e4e4"/>
<rect x="2690.3" y="443.2" width="9.5" height="6.5" fill="#dcdcdc"/>
<rect x="2690.2" y="459.5" width="9.5" height="7.3" fill="#d9d9d9"/>
<rect x="2690.2" y="476.1" width="9.7" height="8.2" fill="#e9e9e9"/>
<rect x="2690.9" y="493.7" width="8.3" height="9.9" fill="#efefef"/>
<rect x="2691.0" y="507.5" width="7.9" height="10.1" fill="#dbdbdb"/>
<rect x="2690.1" y="524.3" width="9.8" height="9.6" fill="#e2e2e2"/>
<rect x="2675.5" y="332.5" width="16.0" height="38.0" fill="#939393" opacity="0.8"/>
<rect x="2682.7" y="345.3" width="5.7" height="23.4" fill="#d6d6d6"/>
<rect x="2686.2" y="334.9" width="3.1" height="27.1" fill="#d2d2d2"/>
<rect x="2677.1" y="339.6" width="5.3" height="17.8" fill="#d2d2d2"/>
<rect x="2679.2" y="344.2" width="4.6" height="18.1" fill="#e3e3e3"/>
<rect x="2678.1" y="344.2" width="4.6" height="24.1" fill="#dedede"/>
<rect x="2717.5" y="360.5" width="28.0" height="35.0" fill="#939393" opacity="0.8"/>
<rect x="2724.7" y="363.1" width="4.1" height="27.7" fill="#e3e3e3"/>
<rect x="2725.7" y="369.7" width="4.6" height="16.5" fill="#cacaca"/>
<rect x="2721.7" y="366.8" width="3.4" height="26.4" fill="#e8e8e8"/>
<rect x="2727.0" y="367.4" width="3.5" height="20.6" fill="#dbdbdb"/>
<rect x="2727.9" y="363.0" width="3.6" height="26.2" fill="#e9e9e9"/>
<rect x="2726.5" y="364.0" width="3.9" height="24.3" fill="#d9d9d9"/>
<rect x="2732.0" y="377.0" width="4.0" height="12.7" fill="#e3e3e3"/>
<rect x="2730.0" y="363.4" width="2.5" height="28.5" fill="#e4e4e4"/>
<rect x="2677.0" y="334.0" width="123.0" height="10.0" fill="#b5b5b5" opacity="0.7"/>
<rect x="2751.0" y="355.0" width="49.0" height="11.0" fill="#bababa" opacity="0.7"/>
<rect x="2795.0" y="337.0" width="118.0" height="29.0" fill="#a8a8a8" opacity="0.6"/>
<ellipse cx="2832.4" cy="364.7" rx="3.8" ry="4.1" fill="#888888" opacity="0.6"/>
<ellipse cx="2832.4" cy="364.7" rx="2.3" ry="2.4" fill="#c6c6c6"/>
<ellipse cx="2880.2" cy="347.7" rx="5.4" ry="7.6" fill="#888888" opacity="0.6"/>
<ellipse cx="2880.2" cy="347.7" rx="3.2" ry="4.5" fill="#d2d2d2"/>
<ellipse cx="2878.2" cy="365.7" rx="4.7" ry="6.9" fill="#888888" opacity="0.6"/>
<ellipse cx="2878.2" cy="365.7" rx="2.7" ry="4.0" fill="#d9d9d9"/>
<ellipse cx="2855.7" cy="339.5" rx="2.9" ry="3.8" fill="#888888" opacity="0.6"/>
<ellipse cx="2855.7" cy="339.5" rx="1.7" ry="2.2" fill="#e5e5e5"/>
<ellipse cx="2853.8" cy="356.8" rx="4.9" ry="5.1" fill="#888888" opacity="0.6"/>
<ellipse cx="2853.8" cy="356.8" rx="2.9" ry="3.0" fill="#dedede"/>
<ellipse cx="2874.1" cy="353.2" rx="4.5" ry="7.1" fill="#888888" opacity="0.6"/>
<ellipse cx="2874.1" cy="353.2" rx="2.7" ry="4.2" fill="#e3e3e3"/>
<ellipse cx="2868.6" cy="356.3" rx="4.3" ry="6.6" fill="#888888" opacity="0.6"/>
<ellipse cx="2868.6" cy="356.3" rx="2.5" ry="3.9" fill="#e5e5e5"/>
<ellipse cx="2839.5" cy="349.8" rx="3.1" ry="4.0" fill="#888888" opacity="0.6"/>
<ellipse cx="2839.5" cy="349.8" rx="1.8" ry="2.3" fill="#dadada"/>
<ellipse cx="2805.3" cy="343.1" rx="3.1" ry="4.4" fill="#888888" opacity="0.6"/>
<ellipse cx="2805.3" cy="343.1" rx="1.8" ry="2.6" fill="#e4e4e4"/>
<ellipse cx="2910.8" cy="343.2" rx="4.3" ry="4.6" fill="#888888" opacity="0.6"/>
<ellipse cx="2910.8" cy="343.2" rx="2.5" ry="2.7" fill="#e5e5e5"/>
<ellipse cx="2809.5" cy="351.4" rx="5.3" ry="5.9" fill="#888888" opacity="0.6"/>
<ellipse cx="2809.5" cy="351.4" rx="3.1" ry="3.5" fill="#d8d8d8"/>
<ellipse cx="2908.6" cy="343.7" rx="5.4" ry="7.7" fill="#888888" opacity="0.6"/>
<ellipse cx="2908.6" cy="343.7" rx="3.2" ry="4.5" fill="#e4e4e4"/>
<ellipse cx="2864.9" cy="357.4" rx="4.8" ry="5.9" fill="#888888" opacity="0.6"/>
<ellipse cx="2864.9" cy="357.4" rx="2.8" ry="3.5" fill="#dbdbdb"/>
<ellipse cx="2891.3" cy="342.6" rx="4.4" ry="6.6" fill="#888888" opacity="0.6"/>
<ellipse cx="2891.3" cy="342.6" rx="2.6" ry="3.9" fill="#dfdfdf"/>
<ellipse cx="2814.8" cy="341.8" rx="5.3" ry="7.0" fill="#888888" opacity="0.6"/>
<ellipse cx="2814.8" cy="341.8" rx="3.1" ry="4.1" fill="#d0d0d0"/>
<ellipse cx="2826.8" cy="360.6" rx="5.2" ry="7.4" fill="#888888" opacity="0.6"/>
<ellipse cx="2826.8" cy="360.6" rx="3.0" ry="4.4" fill="#e6e6e6"/>
<rect x="2811.2" y="391.0" width="3.5" height="68.0" fill="#dadada"/>
<ellipse cx="2853.0" cy="427.7" rx="6.3" ry="8.0" fill="#888888" opacity="0.6"/>
<ellipse cx="2853.0" cy="427.7" rx="3.7" ry="4.7" fill="#e5e5e5"/>
<ellipse cx="2831.8" cy="438.7" rx="6.6" ry="6.5" fill="#888888" opacity="0.6"/>
<ellipse cx="2831.8" cy="438.7" rx="3.9" ry="3.8" fill="#e6e6e6"/>
<ellipse cx="2877.8" cy="450.9" rx="4.5" ry="5.4" fill="#888888" opacity="0.6"/>
<ellipse cx="2877.8" cy="450.9" rx="2.6" ry="3.2" fill="#d2d2d2"/>
<ellipse cx="2874.2" cy="431.3" rx="4.6" ry="5.7" fill="#888888" opacity="0.6"/>
<ellipse cx="2874.2" cy="431.3" rx="2.7" ry="3.4" fill="#cecece"/>
<ellipse cx="2847.5" cy="429.6" rx="5.2" ry="7.9" fill="#888888" opacity="0.6"/>
<ellipse cx="2847.5" cy="429.6" rx="3.1" ry="4.6" fill="#e2e2e2"/>
<ellipse cx="2833.3" cy="435.1" rx="5.3" ry="7.2" fill="#888888" opacity="0.6"/>
<ellipse cx="2833.3" cy="435.1" rx="3.1" ry="4.2" fill="#e8e8e8"/>
<ellipse cx="2871.1" cy="434.5" rx="3.6" ry="5.2" fill="#888888" opacity="0.6"/>
<ellipse cx="2871.1" cy="434.5" rx="2.1" ry="3.0" fill="#e1e1e1"/>
<ellipse cx="2843.9" cy="438.6" rx="4.0" ry="5.2" fill="#888888" opacity="0.6"/>
<ellipse cx="2843.9" cy="438.6" rx="2.4" ry="3.0" fill="#e4e4e4"/>
<ellipse cx="2879.4" cy="449.2" rx="6.0" ry="7.8" fill="#888888" opacity="0.6"/>
<ellipse cx="2879.4" cy="449.2" rx="3.5" ry="4.6" fill="#e8e8e8"/>
<ellipse cx="2863.4" cy="430.0" rx="5.9" ry="7.7" fill="#888888" opacity="0.6"/>
<ellipse cx="2863.4" cy="430.0" rx="3.5" ry="4.5" fill="#dfdfdf"/>
<ellipse cx="2880.1" cy="426.6" rx="4.3" ry="5.4" fill="#888888" opacity="0.6"/>
<ellipse cx="2880.1" cy="426.6" rx="2.5" ry="3.2" fill="#cbcbcb"/>
<ellipse cx="2849.3" cy="437.6" rx="6.4" ry="6.9" fill="#888888" opacity="0.6"/>
<ellipse cx="2849.3" cy="437.6" rx="3.8" ry="4.1" fill="#d2d2d2"/>
<ellipse cx="2882.7" cy="448.9" rx="4.9" ry="5.7" fill="#888888" opacity="0.6"/>
<ellipse cx="2882.7" cy="448.9" rx="2.9" ry="3.3" fill="#e8e8e8"/>
<ellipse cx="2834.3" cy="436.2" rx="5.8" ry="8.9" fill="#888888" opacity="0.6"/>
<ellipse cx="2834.3" cy="436.2" rx="3.4" ry="5.2" fill="#e1e1e1"/>
<ellipse cx="2861.4" cy="489.7" rx="6.1" ry="7.8" fill="#888888" opacity="0.6"/>
<ellipse cx="2861.4" cy="489.7" rx="3.6" ry="4.6" fill="#c9c9c9"/>
<ellipse cx="2837.9" cy="499.7" rx="6.1" ry="8.0" fill="#888888" opacity="0.6"/>
<ellipse cx="2837.9" cy="499.7" rx="3.6" ry="4.7" fill="#e6e6e6"/>
<ellipse cx="2835.7" cy="500.4" rx="5.0" ry="5.7" fill="#888888" opacity="0.6"/>
<ellipse cx="2835.7" cy="500.4" rx="3.0" ry="3.4" fill="#e5e5e5"/>
<ellipse cx="2854.7" cy="490.9" rx="3.9" ry="5.2" fill="#888888" opacity="0.6"/>
<ellipse cx="2854.7" cy="490.9" rx="2.3" ry="3.0" fill="#e9e9e9"/>
<ellipse cx="2837.7" cy="503.7" rx="4.3" ry="4.9" fill="#888888" opacity="0.6"/>
<ellipse cx="2837.7" cy="503.7" rx="2.5" ry="2.9" fill="#c8c8c8"/>
<ellipse cx="2842.1" cy="481.5" rx="6.2" ry="6.2" fill="#888888" opacity="0.6"/>
<ellipse cx="2842.1" cy="481.5" rx="3.7" ry="3.7" fill="#e8e8e8"/>
<ellipse cx="2859.2" cy="502.4" rx="3.6" ry="4.4" fill="#888888" opacity="0.6"/>
<ellipse cx="2859.2" cy="502.4" rx="2.1" ry="2.6" fill="#d2d2d2"/>
<ellipse cx="2862.1" cy="495.9" rx="6.2" ry="9.6" fill="#888888" opacity="0.6"/>
<ellipse cx="2862.1" cy="495.9" rx="3.6" ry="5.7" fill="#e0e0e0"/>
<ellipse cx="2855.8" cy="481.3" rx="6.2" ry="8.0" fill="#888888" opacity="0.6"/>
<ellipse cx="2855.8" cy="481.3" rx="3.6" ry="4.7" fill="#e9e9e9"/>
<ellipse cx="2836.4" cy="503.7" rx="6.6" ry="8.4" fill="#888888" opacity="0.6"/>
<ellipse cx="2836.4" cy="503.7" rx="3.9" ry="5.0" fill="#e1e1e1"/>
<ellipse cx="2854.7" cy="536.8" rx="4.8" ry="6.7" fill="#888888" opacity="0.6"/>
<ellipse cx="2854.7" cy="536.8" rx="2.8" ry="3.9" fill="#d8d8d8"/>
<ellipse cx="2846.0" cy="546.7" rx="4.9" ry="6.0" fill="#888888" opacity="0.6"/>
<ellipse cx="2846.0" cy="546.7" rx="2.9" ry="3.5" fill="#cccccc"/>
<ellipse cx="2835.7" cy="547.7" rx="4.3" ry="5.2" fill="#888888" opacity="0.6"/>
<ellipse cx="2835.7" cy="547.7" rx="2.5" ry="3.1" fill="#d4d4d4"/>
<ellipse cx="2827.0" cy="540.8" rx="4.7" ry="6.3" fill="#888888" opacity="0.6"/>
<ellipse cx="2827.0" cy="540.8" rx="2.8" ry="3.7" fill="#d0d0d0"/>
<ellipse cx="2847.9" cy="530.6" rx="4.1" ry="4.0" fill="#888888" opacity="0.6"/>
<ellipse cx="2847.9" cy="530.6" rx="2.4" ry="2.3" fill="#e5e5e5"/>
<ellipse cx="2854.5" cy="535.6" rx="3.6" ry="4.6" fill="#888888" opacity="0.6"/>
<ellipse cx="2854.5" cy="535.6" rx="2.1" ry="2.7" fill="#dddddd"/>
<ellipse cx="2845.6" cy="532.6" rx="6.6" ry="9.4" fill="#888888" opacity="0.6"/>
<ellipse cx="2845.6" cy="532.6" rx="3.9" ry="5.5" fill="#d2d2d2"/>
<ellipse cx="2497.8" cy="800.5" rx="5.8" ry="7.2" fill="#888888" opacity="0.6"/>
<ellipse cx="2497.8" cy="800.5" rx="3.4" ry="4.2" fill="#dadada"/>
<ellipse cx="2483.1" cy="799.5" rx="3.7" ry="5.3" fill="#888888" opacity="0.6"/>
<ellipse cx="2483.1" cy="799.5" rx="2.2" ry="3.1" fill="#d1d1d1"/>
<ellipse cx="2484.4" cy="797.1" rx="5.3" ry="7.3" fill="#888888" opacity="0.6"/>
<ellipse cx="2484.4" cy="797.1" rx="3.1" ry="4.3" fill="#c9c9c9"/>
<ellipse cx="2572.0" cy="805.2" rx="5.8" ry="7.1" fill="#888888" opacity="0.6"/>
<ellipse cx="2572.0" cy="805.2" rx="3.4" ry="4.2" fill="#c5c5c5"/>
<ellipse cx="2556.7" cy="798.3" rx="4.2" ry="6.0" fill="#888888" opacity="0.6"/>
<ellipse cx="2556.7" cy="798.3" rx="2.5" ry="3.5" fill="#cbcbcb"/>
<ellipse cx="2588.2" cy="812.0" rx="2.7" ry="3.9" fill="#888888" opacity="0.6"/>
<ellipse cx="2588.2" cy="812.0" rx="1.6" ry="2.3" fill="#e1e1e1"/>
<ellipse cx="2517.3" cy="804.0" rx="5.8" ry="7.6" fill="#888888" opacity="0.6"/>
<ellipse cx="2517.3" cy="804.0" rx="3.4" ry="4.5" fill="#d2d2d2"/>
<ellipse cx="2468.6" cy="795.2" rx="4.0" ry="6.0" fill="#888888" opacity="0.6"/>
<ellipse cx="2468.6" cy="795.2" rx="2.3" ry="3.5" fill="#d8d8d8"/>
<ellipse cx="2560.7" cy="802.5" rx="5.1" ry="5.7" fill="#888888" opacity="0.6"/>
<ellipse cx="2560.7" cy="802.5" rx="3.0" ry="3.4" fill="#dfdfdf"/>
<ellipse cx="2561.5" cy="796.9" rx="4.5" ry="4.6" fill="#888888" opacity="0.6"/>
<ellipse cx="2561.5" cy="796.9" rx="2.6" ry="2.7" fill="#d1d1d1"/>
<ellipse cx="2566.0" cy="796.6" rx="4.2" ry="4.3" fill="#888888" opacity="0.6"/>
<ellipse cx="2566.0" cy="796.6" rx="2.5" ry="2.5" fill="#d5d5d5"/>
<ellipse cx="2557.0" cy="810.3" rx="2.8" ry="3.6" fill="#888888" opacity="0.6"/>
<ellipse cx="2557.0" cy="810.3" rx="1.7" ry="2.1" fill="#c7c7c7"/>
<ellipse cx="2549.3" cy="802.8" rx="3.5" ry="4.5" fill="#888888" opacity="0.6"/>
<ellipse cx="2549.3" cy="802.8" rx="2.1" ry="2.7" fill="#c5c5c5"/>
<ellipse cx="2545.7" cy="803.8" rx="2.7" ry="4.2" fill="#888888" opacity="0.6"/>
<ellipse cx="2545.7" cy="803.8" rx="1.6" ry="2.5" fill="#dddddd"/>
<ellipse cx="2533.9" cy="799.4" rx="2.7" ry="3.3" fill="#888888" opacity="0.6"/>
<ellipse cx="2533.9" cy="799.4" rx="1.6" ry="2.0" fill="#dbdbdb"/>
<ellipse cx="2592.2" cy="806.6" rx="2.7" ry="3.4" fill="#888888" opacity="0.6"/>
<ellipse cx="2592.2" cy="806.6" rx="1.6" ry="2.0" fill="#d4d4d4"/>
<ellipse cx="2527.6" cy="797.0" rx="5.1" ry="5.9" fill="#888888" opacity="0.6"/>
<ellipse cx="2527.6" cy="797.0" rx="3.0" ry="3.5" fill="#e3e3e3"/>
<ellipse cx="2540.0" cy="813.0" rx="5.9" ry="6.9" fill="#888888" opacity="0.6"/>
<ellipse cx="2540.0" cy="813.0" rx="3.5" ry="4.1" fill="#d0d0d0"/>
<ellipse cx="2580.4" cy="813.3" rx="3.7" ry="4.9" fill="#888888" opacity="0.6"/>
<ellipse cx="2580.4" cy="813.3" rx="2.2" ry="2.9" fill="#c3c3c3"/>
<ellipse cx="2520.7" cy="808.5" rx="3.4" ry="5.2" fill="#888888" opacity="0.6"/>
<ellipse cx="2520.7" cy="808.5" rx="2.0" ry="3.1" fill="#dfdfdf"/>
<ellipse cx="2527.2" cy="810.2" rx="4.5" ry="4.6" fill="#888888" opacity="0.6"/>
<ellipse cx="2527.2" cy="810.2" rx="2.6" ry="2.7" fill="#cecece"/>
<ellipse cx="2545.2" cy="803.8" rx="3.3" ry="4.0" fill="#888888" opacity="0.6"/>
<ellipse cx="2545.2" cy="803.8" rx="1.9" ry="2.4" fill="#e1e1e1"/>
<ellipse cx="2581.1" cy="803.1" rx="5.7" ry="6.4" fill="#888888" opacity="0.6"/>
<ellipse cx="2581.1" cy="803.1" rx="3.4" ry="3.7" fill="#cbcbcb"/>
<ellipse cx="2525.0" cy="805.6" rx="4.7" ry="5.8" fill="#888888" opacity="0.6"/>
<ellipse cx="2525.0" cy="805.6" rx="2.7" ry="3.4" fill="#d6d6d6"/>
<rect x="2636.0" y="827.3" width="3.8" height="3.5" fill="#dfdfdf"/>
<rect x="2645.9" y="827.1" width="4.4" height="3.7" fill="#dddddd"/>
<rect x="2653.6" y="826.9" width="5.6" height="4.3" fill="#cecece"/>
<rect x="2662.4" y="827.8" width="3.8" height="2.5" fill="#e2e2e2"/>
<rect x="2668.0" y="827.1" width="4.2" height="3.8" fill="#dcdcdc"/>
<rect x="2677.4" y="827.5" width="5.3" height="3.0" fill="#cdcdcd"/>
<rect x="2683.5" y="827.5" width="4.6" height="3.1" fill="#e6e6e6"/>
<rect x="2691.1" y="826.7" width="5.8" height="4.5" fill="#e2e2e2"/>
<rect x="2733.1" y="771.0" width="5.7" height="5.6" fill="#dcdcdc"/>
<rect x="2732.9" y="777.5" width="6.3" height="5.8" fill="#d1d1d1"/>
<rect x="2732.6" y="786.2" width="6.8" height="7.1" fill="#e5e5e5"/>
<rect x="2733.5" y="794.9" width="5.0" height="6.9" fill="#e4e4e4"/>
<rect x="2733.1" y="805.9" width="5.7" height="4.8" fill="#e5e5e5"/>
<rect x="2733.8" y="813.0" width="4.4" height="7.0" fill="#cccccc"/>
<rect x="2732.4" y="823.5" width="7.2" height="5.6" fill="#e2e2e2"/>
<ellipse cx="2756.6" cy="784.1" rx="4.7" ry="6.1" fill="#888888" opacity="0.6"/>
<ellipse cx="2756.6" cy="784.1" rx="2.8" ry="3.6" fill="#e1e1e1"/>
<ellipse cx="2772.6" cy="785.7" rx="4.6" ry="5.3" fill="#888888" opacity="0.6"/>
<ellipse cx="2772.6" cy="785.7" rx="2.7" ry="3.1" fill="#dbdbdb"/>
<ellipse cx="2790.8" cy="788.4" rx="3.5" ry="3.6" fill="#888888" opacity="0.6"/>
<ellipse cx="2790.8" cy="788.4" rx="2.1" ry="2.1" fill="#c9c9c9"/>
<ellipse cx="2788.5" cy="778.7" rx="4.9" ry="5.8" fill="#888888" opacity="0.6"/>
<ellipse cx="2788.5" cy="778.7" rx="2.9" ry="3.4" fill="#dddddd"/>
<ellipse cx="2786.6" cy="777.9" rx="5.5" ry="8.5" fill="#888888" opacity="0.6"/>
<ellipse cx="2786.6" cy="777.9" rx="3.2" ry="5.0" fill="#c6c6c6"/>
<ellipse cx="2761.4" cy="790.6" rx="4.5" ry="5.7" fill="#888888" opacity="0.6"/>
<ellipse cx="2761.4" cy="790.6" rx="2.6" ry="3.4" fill="#c6c6c6"/>
<ellipse cx="2780.9" cy="789.7" rx="3.6" ry="4.4" fill="#888888" opacity="0.6"/>
<ellipse cx="2780.9" cy="789.7" rx="2.1" ry="2.6" fill="#e1e1e1"/>
<ellipse cx="2776.2" cy="792.6" rx="5.3" ry="7.3" fill="#888888" opacity="0.6"/>
<ellipse cx="2776.2" cy="792.6" rx="3.1" ry="4.3" fill="#d1d1d1"/>
<rect x="2457.9" y="756.0" width="4.2" height="3.4" fill="#b4b4b4"/>
<rect x="2438.1" y="785.0" width="5.9" height="4.8" fill="#cccccc"/>
<rect x="2452.1" y="711.6" width="4.2" height="5.6" fill="#b7b7b7"/>
<rect x="2438.9" y="754.3" width="4.3" height="4.1" fill="#c5c5c5"/>
<rect x="2446.1" y="765.6" width="5.1" height="3.9" fill="#cfcfcf"/>
<rect x="2440.6" y="758.0" width="4.4" height="5.9" fill="#b3b3b3"/>
<rect x="2444.5" y="768.1" width="5.6" height="4.8" fill="#bababa"/>
<rect x="2451.3" y="796.6" width="4.9" height="3.2" fill="#bababa"/>
<rect x="2931.4" y="767.0" width="3.3" height="5.4" fill="#d7d7d7"/>
<rect x="2930.8" y="779.1" width="4.5" height="8.0" fill="#cbcbcb"/>
<rect x="2931.3" y="794.4" width="3.5" height="7.2" fill="#dcdcdc"/>
<rect x="2931.7" y="809.0" width="2.6" height="5.0" fill="#cccccc"/>
<rect x="2930.8" y="819.7" width="4.5" height="4.9" fill="#dcdcdc"/>
<rect x="3018.0" y="767.0" width="4.0" height="8.5" fill="#d6d6d6"/>
<rect x="3017.9" y="781.1" width="4.2" height="8.1" fill="#e6e6e6"/>
<rect x="3018.5" y="796.6" width="3.0" height="5.4" fill="#e5e5e5"/>
<rect x="3018.2" y="806.2" width="3.6" height="6.5" fill="#d3d3d3"/>
<rect x="3017.7" y="815.3" width="4.5" height="5.1" fill="#d4d4d4"/>
<rect x="3018.8" y="826.5" width="2.5" height="6.2" fill="#dadada"/>
<rect x="2795.0" y="778.3" width="5.2" height="3.5" fill="#d3d3d3"/>
<rect x="2804.9" y="777.5" width="3.6" height="5.1" fill="#c8c8c8"/>
<rect x="2820.8" y="778.1" width="5.0" height="3.8" fill="#bfbfbf"/>
<rect x="2834.2" y="778.4" width="5.8" height="3.3" fill="#c3c3c3"/>
<rect x="2844.9" y="778.5" width="4.8" height="3.1" fill="#d9d9d9"/>
<rect x="2858.3" y="778.3" width="5.9" height="3.4" fill="#cfcfcf"/>
<rect x="2876.4" y="777.9" width="3.6" height="4.2" fill="#c1c1c1"/>
<rect x="2890.5" y="777.4" width="4.5" height="5.1" fill="#d7d7d7"/>
<rect x="2907.0" y="778.4" width="5.0" height="3.3" fill="#d1d1d1"/>
<rect x="2924.0" y="777.9" width="6.3" height="4.3" fill="#d6d6d6"/>
<rect x="2933.9" y="778.1" width="5.1" height="3.8" fill="#d7d7d7"/>
<rect x="2951.6" y="778.6" width="4.9" height="2.9" fill="#d8d8d8"/>
<rect x="2964.8" y="777.8" width="6.2" height="4.4" fill="#c3c3c3"/>
<rect x="2977.1" y="778.4" width="4.1" height="3.1" fill="#bfbfbf"/>
<rect x="2987.3" y="777.4" width="3.7" height="5.1" fill="#d1d1d1"/>
<rect x="2998.5" y="778.5" width="6.2" height="3.1" fill="#c1c1c1"/>
<rect x="3011.0" y="777.7" width="4.0" height="4.7" fill="#c3c3c3"/>
<rect x="3022.9" y="777.6" width="5.9" height="4.8" fill="#c5c5c5"/>
<rect x="3032.9" y="777.8" width="5.3" height="4.4" fill="#d4d4d4"/>
<rect x="2795.0" y="790.5" width="4.6" height="5.1" fill="#d9d9d9"/>
<rect x="2812.6" y="791.5" width="4.2" height="3.1" fill="#cbcbcb"/>
<rect x="2830.6" y="790.5" width="4.9" height="4.9" fill="#d7d7d7"/>
<rect x="2844.8" y="790.5" width="5.3" height="4.9" fill="#d2d2d2"/>
<rect x="2860.6" y="790.6" width="6.1" height="4.9" fill="#d1d1d1"/>
<rect x="2870.8" y="790.7" width="4.6" height="4.5" fill="#cacaca"/>
<rect x="2884.4" y="790.8" width="5.2" height="4.4" fill="#c5c5c5"/>
<rect x="2897.4" y="791.5" width="5.3" height="3.1" fill="#c9c9c9"/>
<rect x="2907.7" y="791.0" width="5.3" height="4.0" fill="#c8c8c8"/>
<rect x="2920.6" y="790.8" width="4.6" height="4.4" fill="#cdcdcd"/>
<rect x="2932.9" y="791.1" width="5.4" height="3.9" fill="#c3c3c3"/>
<rect x="2948.5" y="791.3" width="4.8" height="3.5" fill="#d2d2d2"/>
<rect x="2965.2" y="791.3" width="4.0" height="3.3" fill="#d3d3d3"/>
<rect x="2975.3" y="791.0" width="4.4" height="4.0" fill="#d7d7d7"/>
<rect x="2985.1" y="790.7" width="4.5" height="4.6" fill="#dbdbdb"/>
<rect x="3002.7" y="790.8" width="4.1" height="4.4" fill="#d8d8d8"/>
<rect x="3013.5" y="790.8" width="4.3" height="4.4" fill="#c3c3c3"/>
<rect x="3026.9" y="791.2" width="5.4" height="3.7" fill="#d1d1d1"/>
<rect x="3038.2" y="790.9" width="4.7" height="4.3" fill="#bfbfbf"/>
<rect x="2795.0" y="808.9" width="6.2" height="4.3" fill="#c4c4c4"/>
<rect x="2812.5" y="809.0" width="5.9" height="4.1" fill="#cbcbcb"/>
<rect x="2826.6" y="809.4" width="6.3" height="3.2" fill="#d3d3d3"/>
<rect x="2841.2" y="808.6" width="6.4" height="4.8" fill="#dadada"/>
<rect x="2856.0" y="808.4" width="4.4" height="5.1" fill="#cdcdcd"/>
<rect x="2870.3" y="808.5" width="5.6" height="5.0" fill="#d6d6d6"/>
<rect x="2882.5" y="808.5" width="6.3" height="5.0" fill="#cdcdcd"/>
<rect x="2900.0" y="808.9" width="6.0" height="4.1" fill="#c2c2c2"/>
<rect x="2915.1" y="808.7" width="4.1" height="4.6" fill="#c5c5c5"/>
<rect x="2927.6" y="809.5" width="5.0" height="3.0" fill="#c5c5c5"/>
<rect x="2944.7" y="809.3" width="4.7" height="3.3" fill="#d9d9d9"/>
<rect x="2959.8" y="808.4" width="6.4" height="5.1" fill="#d8d8d8"/>
<rect x="2975.3" y="809.5" width="5.3" height="3.0" fill="#cdcdcd"/>
<rect x="2987.9" y="809.4" width="5.2" height="3.3" fill="#dbdbdb"/>
<rect x="2999.7" y="809.4" width="5.5" height="3.3" fill="#d9d9d9"/>
<rect x="3015.2" y="808.5" width="4.6" height="5.0" fill="#d3d3d3"/>
<rect x="3027.3" y="809.2" width="5.8" height="3.6" fill="#c7c7c7"/>
<rect x="2795.0" y="821.1" width="5.5" height="3.8" fill="#bfbfbf"/>
<rect x="2807.5" y="820.5" width="5.4" height="4.9" fill="#bebebe"/>
<rect x="2821.8" y="821.3" width="3.7" height="3.4" fill="#c8c8c8"/>
<rect x="2832.6" y="820.6" width="4.4" height="4.9" fill="#c8c8c8"/>
<rect x="2845.8" y="820.7" width="4.9" height="4.6" fill="#dadada"/>
<rect x="2861.8" y="820.6" width="4.4" height="4.8" fill="#cecece"/>
<rect x="2878.4" y="820.9" width="4.4" height="4.3" fill="#d2d2d2"/>
<rect x="2891.0" y="820.4" width="4.1" height="5.2" fill="#cccccc"/>
<rect x="2904.2" y="821.3" width="5.6" height="3.4" fill="#c8c8c8"/>
<rect x="2917.1" y="820.6" width="4.2" height="4.8" fill="#c9c9c9"/>
<rect x="2932.5" y="820.9" width="4.8" height="4.1" fill="#d2d2d2"/>
<rect x="2948.9" y="820.9" width="3.7" height="4.2" fill="#d4d4d4"/>
<rect x="2961.4" y="821.1" width="4.2" height="3.9" fill="#d8d8d8"/>
<rect x="2975.8" y="820.6" width="4.2" height="4.8" fill="#dbdbdb"/>
<rect x="2985.8" y="821.2" width="5.2" height="3.5" fill="#c3c3c3"/>
<rect x="2997.3" y="821.5" width="3.6" height="3.0" fill="#cacaca"/>
<rect x="3015.2" y="820.6" width="4.8" height="4.7" fill="#c3c3c3"/>
<rect x="3025.5" y="820.6" width="4.5" height="4.8" fill="#cfcfcf"/>
<ellipse cx="2815.0" cy="811.0" rx="6.0" ry="6.8" fill="#888888" opacity="0.6"/>
<ellipse cx="2815.0" cy="811.0" rx="3.5" ry="4.0" fill="#e4e4e4"/>
<ellipse cx="2837.0" cy="811.0" rx="6.0" ry="6.8" fill="#888888" opacity="0.6"/>
<ellipse cx="2837.0" cy="811.0" rx="3.5" ry="4.0" fill="#e4e4e4"/>
<ellipse cx="2912.0" cy="810.0" rx="5.1" ry="6.8" fill="#888888" opacity="0.6"/>
<ellipse cx="2912.0" cy="810.0" rx="3.0" ry="4.0" fill="#dfdfdf"/>
<ellipse cx="2834.0" cy="780.0" rx="5.1" ry="11.9" fill="#888888" opacity="0.6"/>
<ellipse cx="2834.0" cy="780.0" rx="3.0" ry="7.0" fill="#dadada"/>
<rect x="3008.0" y="793.5" width="24.0" height="5.0" fill="#afafaf"/>
<rect x="3017.5" y="779.2" width="5.0" height="33.6" fill="#afafaf"/>
<rect x="3017.8" y="793.4" width="4.4" height="5.2" fill="#e9e9e9"/>
<ellipse cx="2423.6" cy="457.1" rx="3.0" ry="3.6" fill="#888888" opacity="0.6"/>
<ellipse cx="2423.6" cy="457.1" rx="1.8" ry="2.1" fill="#dddddd"/>
<ellipse cx="2423.8" cy="458.6" rx="4.0" ry="5.8" fill="#888888" opacity="0.6"/>
<ellipse cx="2423.8" cy="458.6" rx="2.4" ry="3.4" fill="#c0c0c0"/>
<ellipse cx="2424.0" cy="466.1" rx="3.9" ry="4.0" fill="#888888" opacity="0.6"/>
<ellipse cx="2424.0" cy="466.1" rx="2.3" ry="2.3" fill="#cccccc"/>
<ellipse cx="2434.1" cy="453.3" rx="3.0" ry="3.3" fill="#888888" opacity="0.6"/>
<ellipse cx="2434.1" cy="453.3" rx="1.8" ry="2.0" fill="#d3d3d3"/>
</g></g>
<g fill="none" stroke="#000" stroke-width="5">
<rect x="2085.5" y="2.0" width="1063.0" height="837.0"/>
</g>
<g stroke="#000" stroke-width="4.6">
<line x1="2085.5" y1="113.3" x2="2096.5" y2="113.3"/><line x1="3148.5" y1="113.3" x2="3137.5" y2="113.3"/>
<line x1="2085.5" y1="225.0" x2="2096.5" y2="225.0"/><line x1="3148.5" y1="225.0" x2="3137.5" y2="225.0"/>
<line x1="2085.5" y1="336.7" x2="2096.5" y2="336.7"/><line x1="3148.5" y1="336.7" x2="3137.5" y2="336.7"/>
<line x1="2085.5" y1="448.4" x2="2096.5" y2="448.4"/><line x1="3148.5" y1="448.4" x2="3137.5" y2="448.4"/>
<line x1="2085.5" y1="560.1" x2="2096.5" y2="560.1"/><line x1="3148.5" y1="560.1" x2="3137.5" y2="560.1"/>
<line x1="2085.5" y1="671.8" x2="2096.5" y2="671.8"/><line x1="3148.5" y1="671.8" x2="3137.5" y2="671.8"/>
<line x1="2085.5" y1="783.5" x2="2096.5" y2="783.5"/><line x1="3148.5" y1="783.5" x2="3137.5" y2="783.5"/>
<line x1="2298.1" y1="839.0" x2="2298.1" y2="828.0"/><line x1="2298.1" y1="2.0" x2="2298.1" y2="13.0"/>
<line x1="2510.7" y1="839.0" x2="2510.7" y2="828.0"/><line x1="2510.7" y1="2.0" x2="2510.7" y2="13.0"/>
<line x1="2723.3" y1="839.0" x2="2723.3" y2="828.0"/><line x1="2723.3" y1="2.0" x2="2723.3" y2="13.0"/>
<line x1="2935.9" y1="839.0" x2="2935.9" y2="828.0"/><line x1="2935.9" y1="2.0" x2="2935.9" y2="13.0"/>
</g>
<line x1="2019.3" y1="283.3" x2="3182" y2="280.4" stroke="#e8121c" stroke-width="4.6"/>
<text font-size="66.4"><tspan x="621.8" y="1054" font-size="66.4" textLength="75.0" lengthAdjust="spacingAndGlyphs"><tspan font-size="73">(</tspan>a<tspan font-size="73">)</tspan></tspan> <tspan x="727.6" y="1056" font-size="66.4" textLength="263.9" lengthAdjust="spacingAndGlyphs">光学照片</tspan></text>
<text font-size="66.4"><tspan x="552.4" y="1134" font-size="66.4" textLength="78.5" lengthAdjust="spacingAndGlyphs"><tspan font-size="73">(</tspan>a<tspan font-size="73">)</tspan></tspan> <tspan x="657.2" y="1134" font-size="66.4" textLength="211.9" lengthAdjust="spacingAndGlyphs">Optical</tspan> <tspan x="895.7" y="1134" font-size="66.4" textLength="168.6" lengthAdjust="spacingAndGlyphs">image</tspan></text>
<text font-size="66.4"><tspan x="2328.7" y="1054" font-size="66.4" textLength="82.5" lengthAdjust="spacingAndGlyphs"><tspan font-size="73">(</tspan>b<tspan font-size="73">)</tspan></tspan> <tspan x="2437.5" y="1056" font-size="66.4" textLength="197.9" lengthAdjust="spacingAndGlyphs">无人机</tspan><tspan x="2637.9" y="1054" font-size="66.4" textLength="134.1" lengthAdjust="spacingAndGlyphs">SAR</tspan><tspan x="2774.2" y="1056" font-size="66.4" textLength="131.8" lengthAdjust="spacingAndGlyphs">图像</tspan></text>
<text font-size="66.4"><tspan x="1901.2" y="1134" font-size="66.4" textLength="84.3" lengthAdjust="spacingAndGlyphs"><tspan font-size="73">(</tspan>b<tspan font-size="73">)</tspan></tspan> <tspan x="2010.6" y="1134" font-size="66.4" textLength="315.0" lengthAdjust="spacingAndGlyphs">Unmanned</tspan> <tspan x="2350.2" y="1134" font-size="66.4" textLength="173.6" lengthAdjust="spacingAndGlyphs">Aerial</tspan> <tspan x="2546.5" y="1134" font-size="66.4" textLength="213.2" lengthAdjust="spacingAndGlyphs">Vehicle</tspan> <tspan x="2785.4" y="1134" font-size="66.4" textLength="196.8" lengthAdjust="spacingAndGlyphs"><tspan font-size="73">(</tspan>UAV<tspan font-size="73">)</tspan></tspan> <tspan x="3004.9" y="1134" font-size="66.4" textLength="136.5" lengthAdjust="spacingAndGlyphs">SAR</tspan> <tspan x="3164.0" y="1134" font-size="66.4" textLength="171.6" lengthAdjust="spacingAndGlyphs">image</tspan></text>
<text x="1937.6" y="134.6" font-size="68.3" text-anchor="start" textLength="100.3" lengthAdjust="spacingAndGlyphs">200</text>
<text x="1939.8" y="246.3" font-size="68.3" text-anchor="start" textLength="98.1" lengthAdjust="spacingAndGlyphs">400</text>
<text x="1937.6" y="358.0" font-size="68.3" text-anchor="start" textLength="100.3" lengthAdjust="spacingAndGlyphs">600</text>
<text x="1938.7" y="469.7" font-size="68.3" text-anchor="start" textLength="99.2" lengthAdjust="spacingAndGlyphs">800</text>
<text x="1904.2" y="581.4" font-size="68.3" text-anchor="start" textLength="134.1" lengthAdjust="spacingAndGlyphs">1000</text>
<text x="1904.2" y="693.1" font-size="68.3" text-anchor="start" textLength="134.1" lengthAdjust="spacingAndGlyphs">1200</text>
<text x="1904.2" y="804.8" font-size="68.3" text-anchor="start" textLength="134.1" lengthAdjust="spacingAndGlyphs">1400</text>
<text x="2066.7" y="934.5" font-size="68.3" text-anchor="start" textLength="33.2" lengthAdjust="spacingAndGlyphs">0</text>
<text x="2244.7" y="934.5" font-size="68.3" text-anchor="start" textLength="102.9" lengthAdjust="spacingAndGlyphs">500</text>
<text x="2448.7" y="934.5" font-size="68.3" text-anchor="start" textLength="133.4" lengthAdjust="spacingAndGlyphs">1000</text>
<text x="2661.9" y="934.5" font-size="68.3" text-anchor="start" textLength="133.5" lengthAdjust="spacingAndGlyphs">1500</text>
<text x="2873.7" y="934.5" font-size="68.3" text-anchor="start" textLength="133.4" lengthAdjust="spacingAndGlyphs">2000</text>
<text x="3085.9" y="934.5" font-size="68.3" text-anchor="start" textLength="134.2" lengthAdjust="spacingAndGlyphs">2500</text>
</svg>
</body></html>
